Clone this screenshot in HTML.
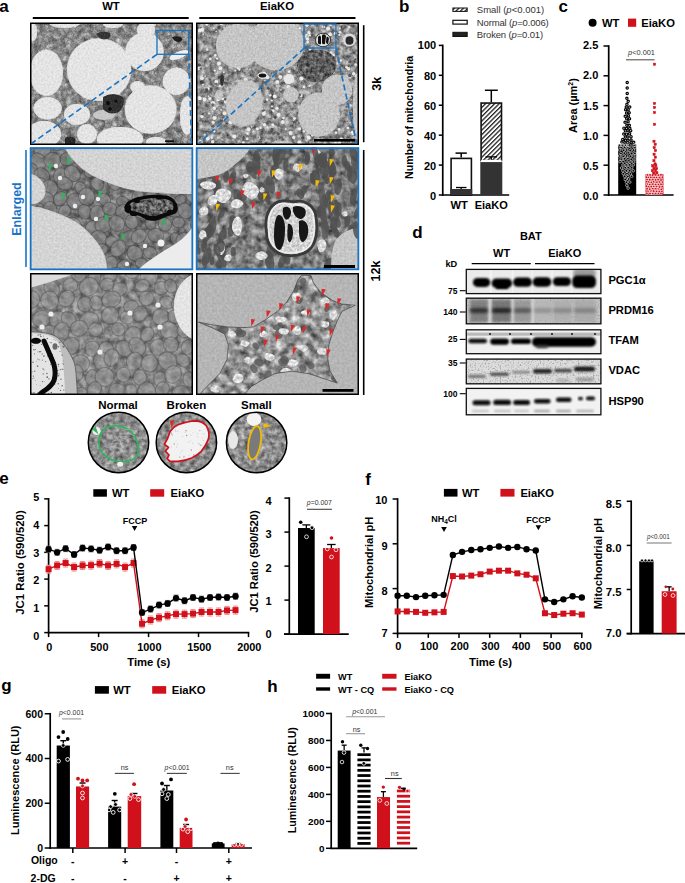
<!DOCTYPE html>
<html><head><meta charset="utf-8"><style>
html,body{margin:0;padding:0;background:#fff;}
svg{display:block;font-family:"Liberation Sans", sans-serif;}
</style></head><body>
<svg width="685" height="883" viewBox="0 0 685 883" font-family='"Liberation Sans", sans-serif'>
<text x="-0.80" y="12.00" font-size="17" font-weight="bold" text-anchor="start" fill="#000">a</text>
<text x="111.00" y="10.30" font-size="11.3" font-weight="bold" text-anchor="middle" fill="#000">WT</text>
<text x="277.00" y="10.30" font-size="11.3" font-weight="bold" text-anchor="middle" fill="#000">EiaKO</text>
<line x1="32.80" y1="17.90" x2="188.70" y2="17.90" stroke="#000" stroke-width="2"/>
<line x1="199.30" y1="17.90" x2="355.50" y2="17.90" stroke="#000" stroke-width="2"/>
<defs>
<clipPath id="c1"><rect x="30" y="23" width="162.5" height="121.5"/></clipPath>
<clipPath id="c2"><rect x="196" y="23" width="163" height="121.5"/></clipPath>
<clipPath id="c3"><rect x="30" y="147.5" width="162.5" height="122"/></clipPath>
<clipPath id="c4"><rect x="196" y="147.5" width="163" height="122"/></clipPath>
<clipPath id="c5"><rect x="30" y="273.5" width="162.5" height="121.5"/></clipPath>
<clipPath id="c6"><rect x="196" y="273.5" width="163" height="121.5"/></clipPath>
<clipPath id="k1"><circle cx="118.5" cy="442.5" r="30.2"/></clipPath>
<clipPath id="k2"><circle cx="186.4" cy="442.5" r="30.2"/></clipPath>
<clipPath id="k3"><circle cx="256.6" cy="442.5" r="30.2"/></clipPath>
<filter id="tA1" x="0" y="0" width="100%" height="100%" color-interpolation-filters="sRGB"><feTurbulence type="fractalNoise" baseFrequency="0.18" numOctaves="3" seed="3"/><feColorMatrix type="matrix" values="0.7 0 0 0 0.210  0.7 0 0 0 0.210  0.7 0 0 0 0.210  0 0 0 0 1"/><feComposite in2="SourceGraphic" operator="in"/></filter>
<filter id="tDr" x="0" y="0" width="100%" height="100%" color-interpolation-filters="sRGB"><feTurbulence type="fractalNoise" baseFrequency="0.5" numOctaves="2" seed="9"/><feColorMatrix type="matrix" values="0.16 0 0 0 0.815  0.16 0 0 0 0.815  0.16 0 0 0 0.815  0 0 0 0 1"/><feComposite in2="SourceGraphic" operator="in"/></filter>
<filter id="tDr2" x="0" y="0" width="100%" height="100%" color-interpolation-filters="sRGB"><feTurbulence type="fractalNoise" baseFrequency="0.45" numOctaves="2" seed="13"/><feColorMatrix type="matrix" values="0.2 0 0 0 0.675  0.2 0 0 0 0.675  0.2 0 0 0 0.675  0 0 0 0 1"/><feComposite in2="SourceGraphic" operator="in"/></filter>
<filter id="tDr3" x="0" y="0" width="100%" height="100%" color-interpolation-filters="sRGB"><feTurbulence type="fractalNoise" baseFrequency="0.5" numOctaves="2" seed="15"/><feColorMatrix type="matrix" values="0.18 0 0 0 0.740  0.18 0 0 0 0.740  0.18 0 0 0 0.740  0 0 0 0 1"/><feComposite in2="SourceGraphic" operator="in"/></filter>
<filter id="tA2" x="0" y="0" width="100%" height="100%" color-interpolation-filters="sRGB"><feTurbulence type="fractalNoise" baseFrequency="0.2" numOctaves="3" seed="5"/><feColorMatrix type="matrix" values="0.8 0 0 0 0.160  0.8 0 0 0 0.160  0.8 0 0 0 0.160  0 0 0 0 1"/><feComposite in2="SourceGraphic" operator="in"/></filter>
<filter id="tDk" x="0" y="0" width="100%" height="100%" color-interpolation-filters="sRGB"><feTurbulence type="fractalNoise" baseFrequency="0.3" numOctaves="2" seed="51"/><feColorMatrix type="matrix" values="0.8 0 0 0 -0.070  0.8 0 0 0 -0.070  0.8 0 0 0 -0.070  0 0 0 0 1"/><feComposite in2="SourceGraphic" operator="in"/></filter>
<filter id="tA3" x="0" y="0" width="100%" height="100%" color-interpolation-filters="sRGB"><feTurbulence type="fractalNoise" baseFrequency="0.16" numOctaves="3" seed="21"/><feColorMatrix type="matrix" values="0.6 0 0 0 0.160  0.6 0 0 0 0.160  0.6 0 0 0 0.160  0 0 0 0 1"/><feComposite in2="SourceGraphic" operator="in"/></filter>
<filter id="tA4" x="0" y="0" width="100%" height="100%" color-interpolation-filters="sRGB"><feTurbulence type="fractalNoise" baseFrequency="0.14" numOctaves="3" seed="17"/><feColorMatrix type="matrix" values="0.8 0 0 0 0.100  0.8 0 0 0 0.100  0.8 0 0 0 0.100  0 0 0 0 1"/><feComposite in2="SourceGraphic" operator="in"/></filter>
<filter id="tA5" x="0" y="0" width="100%" height="100%" color-interpolation-filters="sRGB"><feTurbulence type="fractalNoise" baseFrequency="0.15" numOctaves="3" seed="23"/><feColorMatrix type="matrix" values="0.6 0 0 0 0.220  0.6 0 0 0 0.220  0.6 0 0 0 0.220  0 0 0 0 1"/><feComposite in2="SourceGraphic" operator="in"/></filter>
<filter id="tA6" x="0" y="0" width="100%" height="100%" color-interpolation-filters="sRGB"><feTurbulence type="fractalNoise" baseFrequency="0.4" numOctaves="2" seed="29"/><feColorMatrix type="matrix" values="0.15 0 0 0 0.635  0.15 0 0 0 0.635  0.15 0 0 0 0.635  0 0 0 0 1"/><feComposite in2="SourceGraphic" operator="in"/></filter>
<filter id="tA6c" x="0" y="0" width="100%" height="100%" color-interpolation-filters="sRGB"><feTurbulence type="fractalNoise" baseFrequency="0.12" numOctaves="3" seed="31"/><feColorMatrix type="matrix" values="1.0 0 0 0 0.080  1.0 0 0 0 0.080  1.0 0 0 0 0.080  0 0 0 0 1"/><feComposite in2="SourceGraphic" operator="in"/></filter>
<filter id="tK" x="0" y="0" width="100%" height="100%" color-interpolation-filters="sRGB"><feTurbulence type="fractalNoise" baseFrequency="0.2" numOctaves="3" seed="37"/><feColorMatrix type="matrix" values="0.7 0 0 0 0.200  0.7 0 0 0 0.200  0.7 0 0 0 0.200  0 0 0 0 1"/><feComposite in2="SourceGraphic" operator="in"/></filter>
<filter id="tWp" x="0" y="0" width="100%" height="100%" color-interpolation-filters="sRGB"><feTurbulence type="fractalNoise" baseFrequency="0.35" numOctaves="2" seed="71"/><feColorMatrix type="matrix" values="0.5 0 0 0 0.610  0.5 0 0 0 0.610  0.5 0 0 0 0.610  0 0 0 0 1"/><feComposite in2="SourceGraphic" operator="in"/></filter>
<filter id="tNu" x="0" y="0" width="100%" height="100%" color-interpolation-filters="sRGB"><feTurbulence type="fractalNoise" baseFrequency="0.4" numOctaves="2" seed="73"/><feColorMatrix type="matrix" values="0.45 0 0 0 0.595  0.45 0 0 0 0.595  0.45 0 0 0 0.595  0 0 0 0 1"/><feComposite in2="SourceGraphic" operator="in"/></filter>
<filter id="tNi" x="0" y="0" width="100%" height="100%" color-interpolation-filters="sRGB"><feTurbulence type="fractalNoise" baseFrequency="0.3" numOctaves="2" seed="77"/><feColorMatrix type="matrix" values="0.9 0 0 0 -0.050  0.9 0 0 0 -0.050  0.9 0 0 0 -0.050  0 0 0 0 1"/><feComposite in2="SourceGraphic" operator="in"/></filter>
<filter id="sW" x="0" y="0" width="100%" height="100%" color-interpolation-filters="sRGB"><feTurbulence type="fractalNoise" baseFrequency="0.3" numOctaves="2" seed="41"/><feColorMatrix type="matrix" values="0 0 0 0 1  0 0 0 0 1  0 0 0 0 1  12 0 0 0 -7.9"/><feComposite in2="SourceGraphic" operator="in"/></filter>
<filter id="grain" x="0" y="0" width="100%" height="100%" color-interpolation-filters="sRGB"><feTurbulence type="fractalNoise" baseFrequency="0.7" numOctaves="2" seed="61"/><feColorMatrix type="matrix" values="1.0 0 0 0 0.000  1.0 0 0 0 0.000  1.0 0 0 0 0.000  0 0 0 0 1"/><feComposite in2="SourceGraphic" operator="in"/></filter>
<filter id="sW2" x="0" y="0" width="100%" height="100%" color-interpolation-filters="sRGB"><feTurbulence type="fractalNoise" baseFrequency="0.2" numOctaves="2" seed="43"/><feColorMatrix type="matrix" values="0 0 0 0 1  0 0 0 0 1  0 0 0 0 1  10 0 0 0 -6.5"/><feComposite in2="SourceGraphic" operator="in"/></filter>
</defs>
<g clip-path="url(#c1)">
<rect x="30.00" y="23.00" width="163.00" height="122.00" fill="#888" filter="url(#tA1)"/>
<ellipse cx="29.8" cy="23.2" rx="3.9" ry="3.4" transform="rotate(91 29.8 23.2)" fill="none" stroke="#555" stroke-width="0.8" opacity="0.35"/>
<ellipse cx="36.8" cy="22.0" rx="3.3" ry="2.7" transform="rotate(143 36.8 22.0)" fill="none" stroke="#555" stroke-width="0.8" opacity="0.35"/>
<ellipse cx="41.7" cy="22.4" rx="2.6" ry="2.1" transform="rotate(125 41.7 22.4)" fill="none" stroke="#555" stroke-width="0.8" opacity="0.35"/>
<ellipse cx="48.0" cy="24.6" rx="3.9" ry="3.3" transform="rotate(111 48.0 24.6)" fill="none" stroke="#555" stroke-width="0.8" opacity="0.35"/>
<ellipse cx="54.9" cy="21.4" rx="3.3" ry="3.2" transform="rotate(34 54.9 21.4)" fill="none" stroke="#555" stroke-width="0.8" opacity="0.35"/>
<ellipse cx="61.7" cy="21.5" rx="3.2" ry="2.8" transform="rotate(152 61.7 21.5)" fill="none" stroke="#555" stroke-width="0.8" opacity="0.35"/>
<ellipse cx="69.1" cy="23.5" rx="3.2" ry="2.7" transform="rotate(82 69.1 23.5)" fill="none" stroke="#555" stroke-width="0.8" opacity="0.35"/>
<ellipse cx="74.8" cy="24.6" rx="4.0" ry="3.2" transform="rotate(127 74.8 24.6)" fill="none" stroke="#555" stroke-width="0.8" opacity="0.35"/>
<ellipse cx="81.4" cy="22.1" rx="2.9" ry="2.9" transform="rotate(138 81.4 22.1)" fill="none" stroke="#555" stroke-width="0.8" opacity="0.35"/>
<ellipse cx="88.2" cy="24.1" rx="3.1" ry="2.4" transform="rotate(153 88.2 24.1)" fill="none" stroke="#555" stroke-width="0.8" opacity="0.35"/>
<ellipse cx="93.4" cy="22.1" rx="3.9" ry="3.4" transform="rotate(176 93.4 22.1)" fill="none" stroke="#555" stroke-width="0.8" opacity="0.35"/>
<ellipse cx="101.2" cy="21.6" rx="3.4" ry="2.8" transform="rotate(49 101.2 21.6)" fill="none" stroke="#555" stroke-width="0.8" opacity="0.35"/>
<ellipse cx="106.7" cy="22.5" rx="3.9" ry="3.2" transform="rotate(21 106.7 22.5)" fill="none" stroke="#555" stroke-width="0.8" opacity="0.35"/>
<ellipse cx="113.7" cy="21.7" rx="2.6" ry="2.1" transform="rotate(32 113.7 21.7)" fill="none" stroke="#555" stroke-width="0.8" opacity="0.35"/>
<ellipse cx="121.2" cy="22.8" rx="2.8" ry="2.3" transform="rotate(24 121.2 22.8)" fill="none" stroke="#555" stroke-width="0.8" opacity="0.35"/>
<ellipse cx="128.0" cy="21.8" rx="3.1" ry="2.9" transform="rotate(49 128.0 21.8)" fill="none" stroke="#555" stroke-width="0.8" opacity="0.35"/>
<ellipse cx="135.5" cy="24.0" rx="3.0" ry="2.3" transform="rotate(38 135.5 24.0)" fill="none" stroke="#555" stroke-width="0.8" opacity="0.35"/>
<ellipse cx="140.2" cy="24.2" rx="3.5" ry="3.4" transform="rotate(178 140.2 24.2)" fill="none" stroke="#555" stroke-width="0.8" opacity="0.35"/>
<ellipse cx="146.1" cy="22.2" rx="3.7" ry="3.3" transform="rotate(53 146.1 22.2)" fill="none" stroke="#555" stroke-width="0.8" opacity="0.35"/>
<ellipse cx="152.1" cy="21.7" rx="3.4" ry="3.1" transform="rotate(108 152.1 21.7)" fill="none" stroke="#555" stroke-width="0.8" opacity="0.35"/>
<ellipse cx="159.6" cy="22.8" rx="3.9" ry="3.4" transform="rotate(103 159.6 22.8)" fill="none" stroke="#555" stroke-width="0.8" opacity="0.35"/>
<ellipse cx="167.7" cy="22.0" rx="2.7" ry="2.1" transform="rotate(147 167.7 22.0)" fill="none" stroke="#555" stroke-width="0.8" opacity="0.35"/>
<ellipse cx="172.2" cy="22.0" rx="3.6" ry="2.8" transform="rotate(35 172.2 22.0)" fill="none" stroke="#555" stroke-width="0.8" opacity="0.35"/>
<ellipse cx="181.0" cy="24.2" rx="3.4" ry="3.0" transform="rotate(19 181.0 24.2)" fill="none" stroke="#555" stroke-width="0.8" opacity="0.35"/>
<ellipse cx="184.5" cy="24.5" rx="2.9" ry="2.4" transform="rotate(46 184.5 24.5)" fill="none" stroke="#555" stroke-width="0.8" opacity="0.35"/>
<ellipse cx="193.6" cy="23.3" rx="2.9" ry="2.8" transform="rotate(130 193.6 23.3)" fill="none" stroke="#555" stroke-width="0.8" opacity="0.35"/>
<ellipse cx="31.8" cy="27.8" rx="3.3" ry="2.7" transform="rotate(111 31.8 27.8)" fill="none" stroke="#555" stroke-width="0.8" opacity="0.35"/>
<ellipse cx="39.0" cy="30.0" rx="2.8" ry="2.8" transform="rotate(48 39.0 30.0)" fill="none" stroke="#555" stroke-width="0.8" opacity="0.35"/>
<ellipse cx="46.1" cy="27.2" rx="2.8" ry="2.5" transform="rotate(103 46.1 27.2)" fill="none" stroke="#555" stroke-width="0.8" opacity="0.35"/>
<ellipse cx="51.6" cy="28.2" rx="3.8" ry="3.0" transform="rotate(118 51.6 28.2)" fill="none" stroke="#555" stroke-width="0.8" opacity="0.35"/>
<ellipse cx="59.9" cy="28.9" rx="2.7" ry="2.7" transform="rotate(3 59.9 28.9)" fill="none" stroke="#555" stroke-width="0.8" opacity="0.35"/>
<ellipse cx="67.1" cy="29.3" rx="3.9" ry="3.9" transform="rotate(115 67.1 29.3)" fill="none" stroke="#555" stroke-width="0.8" opacity="0.35"/>
<ellipse cx="72.2" cy="29.4" rx="3.0" ry="2.3" transform="rotate(14 72.2 29.4)" fill="none" stroke="#555" stroke-width="0.8" opacity="0.35"/>
<ellipse cx="78.9" cy="29.4" rx="3.9" ry="3.2" transform="rotate(127 78.9 29.4)" fill="none" stroke="#555" stroke-width="0.8" opacity="0.35"/>
<ellipse cx="86.2" cy="30.0" rx="3.0" ry="2.5" transform="rotate(162 86.2 30.0)" fill="none" stroke="#555" stroke-width="0.8" opacity="0.35"/>
<ellipse cx="93.0" cy="28.4" rx="3.7" ry="2.9" transform="rotate(103 93.0 28.4)" fill="none" stroke="#555" stroke-width="0.8" opacity="0.35"/>
<ellipse cx="98.7" cy="28.3" rx="3.4" ry="2.9" transform="rotate(14 98.7 28.3)" fill="none" stroke="#555" stroke-width="0.8" opacity="0.35"/>
<ellipse cx="105.2" cy="30.3" rx="3.8" ry="3.1" transform="rotate(70 105.2 30.3)" fill="none" stroke="#555" stroke-width="0.8" opacity="0.35"/>
<ellipse cx="112.0" cy="28.9" rx="3.2" ry="2.5" transform="rotate(15 112.0 28.9)" fill="none" stroke="#555" stroke-width="0.8" opacity="0.35"/>
<ellipse cx="118.6" cy="27.1" rx="3.4" ry="3.0" transform="rotate(41 118.6 27.1)" fill="none" stroke="#555" stroke-width="0.8" opacity="0.35"/>
<ellipse cx="124.9" cy="28.6" rx="3.4" ry="2.7" transform="rotate(46 124.9 28.6)" fill="none" stroke="#555" stroke-width="0.8" opacity="0.35"/>
<ellipse cx="129.2" cy="28.0" rx="3.5" ry="3.3" transform="rotate(31 129.2 28.0)" fill="none" stroke="#555" stroke-width="0.8" opacity="0.35"/>
<ellipse cx="138.6" cy="29.2" rx="3.2" ry="2.5" transform="rotate(59 138.6 29.2)" fill="none" stroke="#555" stroke-width="0.8" opacity="0.35"/>
<ellipse cx="144.3" cy="27.7" rx="3.1" ry="2.5" transform="rotate(165 144.3 27.7)" fill="none" stroke="#555" stroke-width="0.8" opacity="0.35"/>
<ellipse cx="151.5" cy="28.3" rx="3.4" ry="3.1" transform="rotate(25 151.5 28.3)" fill="none" stroke="#555" stroke-width="0.8" opacity="0.35"/>
<ellipse cx="156.7" cy="29.8" rx="3.8" ry="3.1" transform="rotate(171 156.7 29.8)" fill="none" stroke="#555" stroke-width="0.8" opacity="0.35"/>
<ellipse cx="162.5" cy="27.6" rx="3.2" ry="2.9" transform="rotate(39 162.5 27.6)" fill="none" stroke="#555" stroke-width="0.8" opacity="0.35"/>
<ellipse cx="169.5" cy="29.1" rx="3.2" ry="3.0" transform="rotate(151 169.5 29.1)" fill="none" stroke="#555" stroke-width="0.8" opacity="0.35"/>
<ellipse cx="177.8" cy="28.5" rx="2.6" ry="2.6" transform="rotate(157 177.8 28.5)" fill="none" stroke="#555" stroke-width="0.8" opacity="0.35"/>
<ellipse cx="181.3" cy="29.3" rx="3.4" ry="3.1" transform="rotate(142 181.3 29.3)" fill="none" stroke="#555" stroke-width="0.8" opacity="0.35"/>
<ellipse cx="187.7" cy="27.5" rx="3.2" ry="3.2" transform="rotate(149 187.7 27.5)" fill="none" stroke="#555" stroke-width="0.8" opacity="0.35"/>
<ellipse cx="194.9" cy="27.5" rx="2.6" ry="2.2" transform="rotate(80 194.9 27.5)" fill="none" stroke="#555" stroke-width="0.8" opacity="0.35"/>
<ellipse cx="30.4" cy="34.8" rx="3.7" ry="2.9" transform="rotate(123 30.4 34.8)" fill="none" stroke="#555" stroke-width="0.8" opacity="0.35"/>
<ellipse cx="35.5" cy="34.2" rx="2.8" ry="2.8" transform="rotate(85 35.5 34.2)" fill="none" stroke="#555" stroke-width="0.8" opacity="0.35"/>
<ellipse cx="43.7" cy="33.3" rx="2.9" ry="2.6" transform="rotate(126 43.7 33.3)" fill="none" stroke="#555" stroke-width="0.8" opacity="0.35"/>
<ellipse cx="49.6" cy="34.7" rx="3.6" ry="3.3" transform="rotate(143 49.6 34.7)" fill="none" stroke="#555" stroke-width="0.8" opacity="0.35"/>
<ellipse cx="57.3" cy="33.0" rx="3.9" ry="3.2" transform="rotate(23 57.3 33.0)" fill="none" stroke="#555" stroke-width="0.8" opacity="0.35"/>
<ellipse cx="62.3" cy="34.7" rx="3.9" ry="3.5" transform="rotate(102 62.3 34.7)" fill="none" stroke="#555" stroke-width="0.8" opacity="0.35"/>
<ellipse cx="70.2" cy="35.3" rx="3.9" ry="3.4" transform="rotate(117 70.2 35.3)" fill="none" stroke="#555" stroke-width="0.8" opacity="0.35"/>
<ellipse cx="74.5" cy="35.0" rx="3.7" ry="3.1" transform="rotate(129 74.5 35.0)" fill="none" stroke="#555" stroke-width="0.8" opacity="0.35"/>
<ellipse cx="81.1" cy="35.6" rx="4.0" ry="3.1" transform="rotate(97 81.1 35.6)" fill="none" stroke="#555" stroke-width="0.8" opacity="0.35"/>
<ellipse cx="89.4" cy="33.7" rx="3.9" ry="3.1" transform="rotate(63 89.4 33.7)" fill="none" stroke="#555" stroke-width="0.8" opacity="0.35"/>
<ellipse cx="93.6" cy="34.1" rx="3.3" ry="2.7" transform="rotate(88 93.6 34.1)" fill="none" stroke="#555" stroke-width="0.8" opacity="0.35"/>
<ellipse cx="100.0" cy="35.3" rx="2.6" ry="2.1" transform="rotate(31 100.0 35.3)" fill="none" stroke="#555" stroke-width="0.8" opacity="0.35"/>
<ellipse cx="107.5" cy="35.2" rx="2.7" ry="2.6" transform="rotate(93 107.5 35.2)" fill="none" stroke="#555" stroke-width="0.8" opacity="0.35"/>
<ellipse cx="115.2" cy="35.4" rx="3.5" ry="2.8" transform="rotate(89 115.2 35.4)" fill="none" stroke="#555" stroke-width="0.8" opacity="0.35"/>
<ellipse cx="122.5" cy="33.0" rx="2.8" ry="2.4" transform="rotate(52 122.5 33.0)" fill="none" stroke="#555" stroke-width="0.8" opacity="0.35"/>
<ellipse cx="128.2" cy="34.8" rx="3.3" ry="2.6" transform="rotate(101 128.2 34.8)" fill="none" stroke="#555" stroke-width="0.8" opacity="0.35"/>
<ellipse cx="133.4" cy="33.9" rx="3.8" ry="3.0" transform="rotate(37 133.4 33.9)" fill="none" stroke="#555" stroke-width="0.8" opacity="0.35"/>
<ellipse cx="141.6" cy="35.8" rx="3.3" ry="2.8" transform="rotate(36 141.6 35.8)" fill="none" stroke="#555" stroke-width="0.8" opacity="0.35"/>
<ellipse cx="147.1" cy="34.3" rx="3.4" ry="3.4" transform="rotate(174 147.1 34.3)" fill="none" stroke="#555" stroke-width="0.8" opacity="0.35"/>
<ellipse cx="153.6" cy="34.0" rx="3.7" ry="3.2" transform="rotate(88 153.6 34.0)" fill="none" stroke="#555" stroke-width="0.8" opacity="0.35"/>
<ellipse cx="160.6" cy="32.9" rx="3.3" ry="2.9" transform="rotate(172 160.6 32.9)" fill="none" stroke="#555" stroke-width="0.8" opacity="0.35"/>
<ellipse cx="167.9" cy="33.6" rx="3.2" ry="3.1" transform="rotate(78 167.9 33.6)" fill="none" stroke="#555" stroke-width="0.8" opacity="0.35"/>
<ellipse cx="174.0" cy="35.6" rx="3.2" ry="2.9" transform="rotate(34 174.0 35.6)" fill="none" stroke="#555" stroke-width="0.8" opacity="0.35"/>
<ellipse cx="179.9" cy="35.7" rx="2.7" ry="2.2" transform="rotate(4 179.9 35.7)" fill="none" stroke="#555" stroke-width="0.8" opacity="0.35"/>
<ellipse cx="185.0" cy="33.4" rx="3.5" ry="3.2" transform="rotate(64 185.0 33.4)" fill="none" stroke="#555" stroke-width="0.8" opacity="0.35"/>
<ellipse cx="192.9" cy="33.0" rx="3.6" ry="3.5" transform="rotate(92 192.9 33.0)" fill="none" stroke="#555" stroke-width="0.8" opacity="0.35"/>
<ellipse cx="32.4" cy="39.0" rx="3.3" ry="2.9" transform="rotate(68 32.4 39.0)" fill="none" stroke="#555" stroke-width="0.8" opacity="0.35"/>
<ellipse cx="39.5" cy="40.1" rx="2.7" ry="2.6" transform="rotate(114 39.5 40.1)" fill="none" stroke="#555" stroke-width="0.8" opacity="0.35"/>
<ellipse cx="46.7" cy="40.1" rx="3.8" ry="3.2" transform="rotate(154 46.7 40.1)" fill="none" stroke="#555" stroke-width="0.8" opacity="0.35"/>
<ellipse cx="51.9" cy="40.7" rx="3.7" ry="2.9" transform="rotate(57 51.9 40.7)" fill="none" stroke="#555" stroke-width="0.8" opacity="0.35"/>
<ellipse cx="58.6" cy="41.3" rx="2.8" ry="2.2" transform="rotate(160 58.6 41.3)" fill="none" stroke="#555" stroke-width="0.8" opacity="0.35"/>
<ellipse cx="64.6" cy="39.1" rx="3.6" ry="3.3" transform="rotate(17 64.6 39.1)" fill="none" stroke="#555" stroke-width="0.8" opacity="0.35"/>
<ellipse cx="73.3" cy="39.7" rx="3.7" ry="3.6" transform="rotate(73 73.3 39.7)" fill="none" stroke="#555" stroke-width="0.8" opacity="0.35"/>
<ellipse cx="79.4" cy="38.4" rx="2.8" ry="2.3" transform="rotate(164 79.4 38.4)" fill="none" stroke="#555" stroke-width="0.8" opacity="0.35"/>
<ellipse cx="86.8" cy="38.7" rx="3.3" ry="2.7" transform="rotate(91 86.8 38.7)" fill="none" stroke="#555" stroke-width="0.8" opacity="0.35"/>
<ellipse cx="92.4" cy="39.0" rx="2.6" ry="2.5" transform="rotate(7 92.4 39.0)" fill="none" stroke="#555" stroke-width="0.8" opacity="0.35"/>
<ellipse cx="98.4" cy="40.0" rx="3.4" ry="3.2" transform="rotate(33 98.4 40.0)" fill="none" stroke="#555" stroke-width="0.8" opacity="0.35"/>
<ellipse cx="103.8" cy="41.1" rx="4.0" ry="3.1" transform="rotate(17 103.8 41.1)" fill="none" stroke="#555" stroke-width="0.8" opacity="0.35"/>
<ellipse cx="109.8" cy="41.4" rx="3.2" ry="2.6" transform="rotate(59 109.8 41.4)" fill="none" stroke="#555" stroke-width="0.8" opacity="0.35"/>
<ellipse cx="117.6" cy="40.0" rx="3.1" ry="2.7" transform="rotate(2 117.6 40.0)" fill="none" stroke="#555" stroke-width="0.8" opacity="0.35"/>
<ellipse cx="124.9" cy="41.1" rx="2.8" ry="2.4" transform="rotate(133 124.9 41.1)" fill="none" stroke="#555" stroke-width="0.8" opacity="0.35"/>
<ellipse cx="130.4" cy="39.0" rx="2.7" ry="2.4" transform="rotate(3 130.4 39.0)" fill="none" stroke="#555" stroke-width="0.8" opacity="0.35"/>
<ellipse cx="138.5" cy="40.9" rx="3.6" ry="2.8" transform="rotate(113 138.5 40.9)" fill="none" stroke="#555" stroke-width="0.8" opacity="0.35"/>
<ellipse cx="143.4" cy="40.3" rx="3.3" ry="2.5" transform="rotate(145 143.4 40.3)" fill="none" stroke="#555" stroke-width="0.8" opacity="0.35"/>
<ellipse cx="149.5" cy="41.3" rx="3.6" ry="2.9" transform="rotate(147 149.5 41.3)" fill="none" stroke="#555" stroke-width="0.8" opacity="0.35"/>
<ellipse cx="156.4" cy="41.3" rx="3.8" ry="3.2" transform="rotate(138 156.4 41.3)" fill="none" stroke="#555" stroke-width="0.8" opacity="0.35"/>
<ellipse cx="164.1" cy="39.7" rx="3.6" ry="3.5" transform="rotate(62 164.1 39.7)" fill="none" stroke="#555" stroke-width="0.8" opacity="0.35"/>
<ellipse cx="169.6" cy="38.4" rx="3.0" ry="2.5" transform="rotate(112 169.6 38.4)" fill="none" stroke="#555" stroke-width="0.8" opacity="0.35"/>
<ellipse cx="175.4" cy="41.4" rx="3.5" ry="3.2" transform="rotate(119 175.4 41.4)" fill="none" stroke="#555" stroke-width="0.8" opacity="0.35"/>
<ellipse cx="183.0" cy="40.1" rx="3.1" ry="2.4" transform="rotate(116 183.0 40.1)" fill="none" stroke="#555" stroke-width="0.8" opacity="0.35"/>
<ellipse cx="189.9" cy="40.8" rx="4.0" ry="3.9" transform="rotate(111 189.9 40.8)" fill="none" stroke="#555" stroke-width="0.8" opacity="0.35"/>
<ellipse cx="196.5" cy="39.2" rx="3.1" ry="3.1" transform="rotate(35 196.5 39.2)" fill="none" stroke="#555" stroke-width="0.8" opacity="0.35"/>
<ellipse cx="29.6" cy="44.3" rx="2.9" ry="2.3" transform="rotate(99 29.6 44.3)" fill="none" stroke="#555" stroke-width="0.8" opacity="0.35"/>
<ellipse cx="36.5" cy="47.1" rx="3.4" ry="2.6" transform="rotate(115 36.5 47.1)" fill="none" stroke="#555" stroke-width="0.8" opacity="0.35"/>
<ellipse cx="44.0" cy="44.2" rx="3.4" ry="2.8" transform="rotate(8 44.0 44.2)" fill="none" stroke="#555" stroke-width="0.8" opacity="0.35"/>
<ellipse cx="50.9" cy="44.5" rx="3.2" ry="3.1" transform="rotate(89 50.9 44.5)" fill="none" stroke="#555" stroke-width="0.8" opacity="0.35"/>
<ellipse cx="56.4" cy="44.2" rx="3.9" ry="3.5" transform="rotate(95 56.4 44.2)" fill="none" stroke="#555" stroke-width="0.8" opacity="0.35"/>
<ellipse cx="62.8" cy="45.2" rx="2.9" ry="2.4" transform="rotate(101 62.8 45.2)" fill="none" stroke="#555" stroke-width="0.8" opacity="0.35"/>
<ellipse cx="68.3" cy="46.3" rx="2.9" ry="2.9" transform="rotate(44 68.3 46.3)" fill="none" stroke="#555" stroke-width="0.8" opacity="0.35"/>
<ellipse cx="74.0" cy="44.5" rx="3.6" ry="3.3" transform="rotate(162 74.0 44.5)" fill="none" stroke="#555" stroke-width="0.8" opacity="0.35"/>
<ellipse cx="82.8" cy="44.2" rx="4.0" ry="3.1" transform="rotate(13 82.8 44.2)" fill="none" stroke="#555" stroke-width="0.8" opacity="0.35"/>
<ellipse cx="89.8" cy="45.4" rx="3.2" ry="2.5" transform="rotate(44 89.8 45.4)" fill="none" stroke="#555" stroke-width="0.8" opacity="0.35"/>
<ellipse cx="95.1" cy="47.0" rx="3.6" ry="3.1" transform="rotate(176 95.1 47.0)" fill="none" stroke="#555" stroke-width="0.8" opacity="0.35"/>
<ellipse cx="102.5" cy="46.0" rx="2.7" ry="2.3" transform="rotate(82 102.5 46.0)" fill="none" stroke="#555" stroke-width="0.8" opacity="0.35"/>
<ellipse cx="107.0" cy="44.2" rx="3.3" ry="3.2" transform="rotate(80 107.0 44.2)" fill="none" stroke="#555" stroke-width="0.8" opacity="0.35"/>
<ellipse cx="115.0" cy="45.5" rx="2.9" ry="2.5" transform="rotate(76 115.0 45.5)" fill="none" stroke="#555" stroke-width="0.8" opacity="0.35"/>
<ellipse cx="121.9" cy="45.7" rx="4.0" ry="3.1" transform="rotate(132 121.9 45.7)" fill="none" stroke="#555" stroke-width="0.8" opacity="0.35"/>
<ellipse cx="126.6" cy="44.4" rx="3.8" ry="3.1" transform="rotate(112 126.6 44.4)" fill="none" stroke="#555" stroke-width="0.8" opacity="0.35"/>
<ellipse cx="133.5" cy="44.9" rx="3.5" ry="3.0" transform="rotate(107 133.5 44.9)" fill="none" stroke="#555" stroke-width="0.8" opacity="0.35"/>
<ellipse cx="140.9" cy="46.4" rx="2.8" ry="2.6" transform="rotate(176 140.9 46.4)" fill="none" stroke="#555" stroke-width="0.8" opacity="0.35"/>
<ellipse cx="148.4" cy="46.9" rx="2.6" ry="2.5" transform="rotate(49 148.4 46.9)" fill="none" stroke="#555" stroke-width="0.8" opacity="0.35"/>
<ellipse cx="153.3" cy="46.0" rx="2.7" ry="2.3" transform="rotate(13 153.3 46.0)" fill="none" stroke="#555" stroke-width="0.8" opacity="0.35"/>
<ellipse cx="158.7" cy="46.2" rx="3.3" ry="2.8" transform="rotate(67 158.7 46.2)" fill="none" stroke="#555" stroke-width="0.8" opacity="0.35"/>
<ellipse cx="166.4" cy="44.7" rx="3.0" ry="2.5" transform="rotate(151 166.4 44.7)" fill="none" stroke="#555" stroke-width="0.8" opacity="0.35"/>
<ellipse cx="171.6" cy="44.4" rx="3.7" ry="3.1" transform="rotate(138 171.6 44.4)" fill="none" stroke="#555" stroke-width="0.8" opacity="0.35"/>
<ellipse cx="178.6" cy="45.4" rx="2.9" ry="2.3" transform="rotate(66 178.6 45.4)" fill="none" stroke="#555" stroke-width="0.8" opacity="0.35"/>
<ellipse cx="186.5" cy="47.2" rx="3.0" ry="2.6" transform="rotate(134 186.5 47.2)" fill="none" stroke="#555" stroke-width="0.8" opacity="0.35"/>
<ellipse cx="193.9" cy="45.4" rx="3.1" ry="3.0" transform="rotate(158 193.9 45.4)" fill="none" stroke="#555" stroke-width="0.8" opacity="0.35"/>
<ellipse cx="31.9" cy="49.9" rx="3.3" ry="2.9" transform="rotate(123 31.9 49.9)" fill="none" stroke="#555" stroke-width="0.8" opacity="0.35"/>
<ellipse cx="39.1" cy="52.2" rx="2.6" ry="2.5" transform="rotate(119 39.1 52.2)" fill="none" stroke="#555" stroke-width="0.8" opacity="0.35"/>
<ellipse cx="44.9" cy="50.6" rx="3.6" ry="3.0" transform="rotate(51 44.9 50.6)" fill="none" stroke="#555" stroke-width="0.8" opacity="0.35"/>
<ellipse cx="51.6" cy="50.8" rx="3.6" ry="3.2" transform="rotate(21 51.6 50.8)" fill="none" stroke="#555" stroke-width="0.8" opacity="0.35"/>
<ellipse cx="59.9" cy="51.5" rx="3.9" ry="3.0" transform="rotate(164 59.9 51.5)" fill="none" stroke="#555" stroke-width="0.8" opacity="0.35"/>
<ellipse cx="65.5" cy="52.3" rx="3.0" ry="2.7" transform="rotate(72 65.5 52.3)" fill="none" stroke="#555" stroke-width="0.8" opacity="0.35"/>
<ellipse cx="73.7" cy="52.6" rx="2.9" ry="2.6" transform="rotate(66 73.7 52.6)" fill="none" stroke="#555" stroke-width="0.8" opacity="0.35"/>
<ellipse cx="78.3" cy="50.9" rx="3.1" ry="2.9" transform="rotate(101 78.3 50.9)" fill="none" stroke="#555" stroke-width="0.8" opacity="0.35"/>
<ellipse cx="86.2" cy="51.4" rx="3.8" ry="3.2" transform="rotate(32 86.2 51.4)" fill="none" stroke="#555" stroke-width="0.8" opacity="0.35"/>
<ellipse cx="92.6" cy="52.5" rx="2.9" ry="2.9" transform="rotate(93 92.6 52.5)" fill="none" stroke="#555" stroke-width="0.8" opacity="0.35"/>
<ellipse cx="98.4" cy="51.5" rx="3.9" ry="3.3" transform="rotate(145 98.4 51.5)" fill="none" stroke="#555" stroke-width="0.8" opacity="0.35"/>
<ellipse cx="103.3" cy="51.4" rx="3.7" ry="3.6" transform="rotate(15 103.3 51.4)" fill="none" stroke="#555" stroke-width="0.8" opacity="0.35"/>
<ellipse cx="112.0" cy="52.6" rx="2.6" ry="2.2" transform="rotate(26 112.0 52.6)" fill="none" stroke="#555" stroke-width="0.8" opacity="0.35"/>
<ellipse cx="118.5" cy="51.8" rx="2.9" ry="2.7" transform="rotate(138 118.5 51.8)" fill="none" stroke="#555" stroke-width="0.8" opacity="0.35"/>
<ellipse cx="124.3" cy="52.1" rx="3.1" ry="2.8" transform="rotate(174 124.3 52.1)" fill="none" stroke="#555" stroke-width="0.8" opacity="0.35"/>
<ellipse cx="131.3" cy="51.3" rx="3.3" ry="2.7" transform="rotate(127 131.3 51.3)" fill="none" stroke="#555" stroke-width="0.8" opacity="0.35"/>
<ellipse cx="138.6" cy="51.0" rx="3.7" ry="3.1" transform="rotate(154 138.6 51.0)" fill="none" stroke="#555" stroke-width="0.8" opacity="0.35"/>
<ellipse cx="144.7" cy="52.4" rx="3.8" ry="3.0" transform="rotate(115 144.7 52.4)" fill="none" stroke="#555" stroke-width="0.8" opacity="0.35"/>
<ellipse cx="150.3" cy="52.0" rx="3.7" ry="3.3" transform="rotate(76 150.3 52.0)" fill="none" stroke="#555" stroke-width="0.8" opacity="0.35"/>
<ellipse cx="155.6" cy="52.1" rx="4.0" ry="3.6" transform="rotate(30 155.6 52.1)" fill="none" stroke="#555" stroke-width="0.8" opacity="0.35"/>
<ellipse cx="162.3" cy="51.0" rx="2.9" ry="2.3" transform="rotate(11 162.3 51.0)" fill="none" stroke="#555" stroke-width="0.8" opacity="0.35"/>
<ellipse cx="169.1" cy="50.0" rx="3.5" ry="2.8" transform="rotate(32 169.1 50.0)" fill="none" stroke="#555" stroke-width="0.8" opacity="0.35"/>
<ellipse cx="174.8" cy="51.1" rx="3.4" ry="2.7" transform="rotate(7 174.8 51.1)" fill="none" stroke="#555" stroke-width="0.8" opacity="0.35"/>
<ellipse cx="181.5" cy="50.2" rx="2.8" ry="2.6" transform="rotate(129 181.5 50.2)" fill="none" stroke="#555" stroke-width="0.8" opacity="0.35"/>
<ellipse cx="189.6" cy="50.4" rx="2.8" ry="2.6" transform="rotate(31 189.6 50.4)" fill="none" stroke="#555" stroke-width="0.8" opacity="0.35"/>
<ellipse cx="196.6" cy="50.7" rx="3.3" ry="2.7" transform="rotate(86 196.6 50.7)" fill="none" stroke="#555" stroke-width="0.8" opacity="0.35"/>
<ellipse cx="29.2" cy="58.2" rx="3.9" ry="3.5" transform="rotate(99 29.2 58.2)" fill="none" stroke="#555" stroke-width="0.8" opacity="0.35"/>
<ellipse cx="38.0" cy="56.9" rx="2.8" ry="2.8" transform="rotate(171 38.0 56.9)" fill="none" stroke="#555" stroke-width="0.8" opacity="0.35"/>
<ellipse cx="44.0" cy="56.6" rx="3.3" ry="2.9" transform="rotate(49 44.0 56.6)" fill="none" stroke="#555" stroke-width="0.8" opacity="0.35"/>
<ellipse cx="51.1" cy="57.4" rx="2.9" ry="2.8" transform="rotate(85 51.1 57.4)" fill="none" stroke="#555" stroke-width="0.8" opacity="0.35"/>
<ellipse cx="55.6" cy="57.9" rx="3.6" ry="3.0" transform="rotate(28 55.6 57.9)" fill="none" stroke="#555" stroke-width="0.8" opacity="0.35"/>
<ellipse cx="61.4" cy="56.4" rx="2.9" ry="2.3" transform="rotate(93 61.4 56.4)" fill="none" stroke="#555" stroke-width="0.8" opacity="0.35"/>
<ellipse cx="69.4" cy="58.5" rx="2.9" ry="2.5" transform="rotate(27 69.4 58.5)" fill="none" stroke="#555" stroke-width="0.8" opacity="0.35"/>
<ellipse cx="76.4" cy="55.3" rx="3.7" ry="3.0" transform="rotate(148 76.4 55.3)" fill="none" stroke="#555" stroke-width="0.8" opacity="0.35"/>
<ellipse cx="80.6" cy="56.2" rx="3.6" ry="3.5" transform="rotate(86 80.6 56.2)" fill="none" stroke="#555" stroke-width="0.8" opacity="0.35"/>
<ellipse cx="88.4" cy="58.4" rx="3.4" ry="2.7" transform="rotate(55 88.4 58.4)" fill="none" stroke="#555" stroke-width="0.8" opacity="0.35"/>
<ellipse cx="95.9" cy="56.7" rx="3.9" ry="3.8" transform="rotate(149 95.9 56.7)" fill="none" stroke="#555" stroke-width="0.8" opacity="0.35"/>
<ellipse cx="100.6" cy="57.1" rx="3.3" ry="3.1" transform="rotate(150 100.6 57.1)" fill="none" stroke="#555" stroke-width="0.8" opacity="0.35"/>
<ellipse cx="107.4" cy="56.3" rx="2.6" ry="2.4" transform="rotate(84 107.4 56.3)" fill="none" stroke="#555" stroke-width="0.8" opacity="0.35"/>
<ellipse cx="115.2" cy="56.5" rx="3.5" ry="3.4" transform="rotate(71 115.2 56.5)" fill="none" stroke="#555" stroke-width="0.8" opacity="0.35"/>
<ellipse cx="120.9" cy="58.4" rx="3.7" ry="3.1" transform="rotate(2 120.9 58.4)" fill="none" stroke="#555" stroke-width="0.8" opacity="0.35"/>
<ellipse cx="127.1" cy="57.6" rx="2.9" ry="2.4" transform="rotate(82 127.1 57.6)" fill="none" stroke="#555" stroke-width="0.8" opacity="0.35"/>
<ellipse cx="132.4" cy="58.5" rx="3.7" ry="3.5" transform="rotate(111 132.4 58.5)" fill="none" stroke="#555" stroke-width="0.8" opacity="0.35"/>
<ellipse cx="139.8" cy="56.5" rx="3.3" ry="3.0" transform="rotate(61 139.8 56.5)" fill="none" stroke="#555" stroke-width="0.8" opacity="0.35"/>
<ellipse cx="146.6" cy="57.5" rx="2.9" ry="2.7" transform="rotate(132 146.6 57.5)" fill="none" stroke="#555" stroke-width="0.8" opacity="0.35"/>
<ellipse cx="152.9" cy="58.4" rx="3.3" ry="2.7" transform="rotate(60 152.9 58.4)" fill="none" stroke="#555" stroke-width="0.8" opacity="0.35"/>
<ellipse cx="161.1" cy="55.6" rx="2.7" ry="2.6" transform="rotate(122 161.1 55.6)" fill="none" stroke="#555" stroke-width="0.8" opacity="0.35"/>
<ellipse cx="167.2" cy="55.9" rx="3.1" ry="2.5" transform="rotate(107 167.2 55.9)" fill="none" stroke="#555" stroke-width="0.8" opacity="0.35"/>
<ellipse cx="171.7" cy="56.0" rx="2.7" ry="2.6" transform="rotate(73 171.7 56.0)" fill="none" stroke="#555" stroke-width="0.8" opacity="0.35"/>
<ellipse cx="178.1" cy="58.3" rx="3.1" ry="2.7" transform="rotate(117 178.1 58.3)" fill="none" stroke="#555" stroke-width="0.8" opacity="0.35"/>
<ellipse cx="186.9" cy="58.0" rx="3.1" ry="2.8" transform="rotate(74 186.9 58.0)" fill="none" stroke="#555" stroke-width="0.8" opacity="0.35"/>
<ellipse cx="190.9" cy="56.6" rx="3.5" ry="2.7" transform="rotate(142 190.9 56.6)" fill="none" stroke="#555" stroke-width="0.8" opacity="0.35"/>
<ellipse cx="33.8" cy="62.9" rx="2.5" ry="2.3" transform="rotate(62 33.8 62.9)" fill="none" stroke="#555" stroke-width="0.8" opacity="0.35"/>
<ellipse cx="40.2" cy="61.3" rx="3.1" ry="2.7" transform="rotate(142 40.2 61.3)" fill="none" stroke="#555" stroke-width="0.8" opacity="0.35"/>
<ellipse cx="47.3" cy="62.9" rx="2.7" ry="2.2" transform="rotate(163 47.3 62.9)" fill="none" stroke="#555" stroke-width="0.8" opacity="0.35"/>
<ellipse cx="52.9" cy="62.1" rx="3.3" ry="3.1" transform="rotate(128 52.9 62.1)" fill="none" stroke="#555" stroke-width="0.8" opacity="0.35"/>
<ellipse cx="60.8" cy="62.6" rx="3.6" ry="2.9" transform="rotate(35 60.8 62.6)" fill="none" stroke="#555" stroke-width="0.8" opacity="0.35"/>
<ellipse cx="67.2" cy="63.0" rx="2.8" ry="2.7" transform="rotate(44 67.2 63.0)" fill="none" stroke="#555" stroke-width="0.8" opacity="0.35"/>
<ellipse cx="72.5" cy="63.2" rx="3.0" ry="2.3" transform="rotate(65 72.5 63.2)" fill="none" stroke="#555" stroke-width="0.8" opacity="0.35"/>
<ellipse cx="78.6" cy="61.4" rx="4.0" ry="3.8" transform="rotate(163 78.6 61.4)" fill="none" stroke="#555" stroke-width="0.8" opacity="0.35"/>
<ellipse cx="85.4" cy="62.8" rx="3.3" ry="3.1" transform="rotate(164 85.4 62.8)" fill="none" stroke="#555" stroke-width="0.8" opacity="0.35"/>
<ellipse cx="93.3" cy="63.6" rx="3.4" ry="3.3" transform="rotate(148 93.3 63.6)" fill="none" stroke="#555" stroke-width="0.8" opacity="0.35"/>
<ellipse cx="97.6" cy="63.9" rx="2.9" ry="2.4" transform="rotate(150 97.6 63.9)" fill="none" stroke="#555" stroke-width="0.8" opacity="0.35"/>
<ellipse cx="103.7" cy="62.7" rx="2.6" ry="2.6" transform="rotate(32 103.7 62.7)" fill="none" stroke="#555" stroke-width="0.8" opacity="0.35"/>
<ellipse cx="112.8" cy="64.0" rx="3.5" ry="3.2" transform="rotate(121 112.8 64.0)" fill="none" stroke="#555" stroke-width="0.8" opacity="0.35"/>
<ellipse cx="118.5" cy="62.2" rx="3.4" ry="2.7" transform="rotate(3 118.5 62.2)" fill="none" stroke="#555" stroke-width="0.8" opacity="0.35"/>
<ellipse cx="123.3" cy="62.5" rx="2.7" ry="2.4" transform="rotate(103 123.3 62.5)" fill="none" stroke="#555" stroke-width="0.8" opacity="0.35"/>
<ellipse cx="129.7" cy="62.6" rx="2.9" ry="2.5" transform="rotate(60 129.7 62.6)" fill="none" stroke="#555" stroke-width="0.8" opacity="0.35"/>
<ellipse cx="137.7" cy="61.1" rx="3.5" ry="3.4" transform="rotate(173 137.7 61.1)" fill="none" stroke="#555" stroke-width="0.8" opacity="0.35"/>
<ellipse cx="144.1" cy="62.5" rx="3.1" ry="2.6" transform="rotate(124 144.1 62.5)" fill="none" stroke="#555" stroke-width="0.8" opacity="0.35"/>
<ellipse cx="151.1" cy="63.4" rx="3.2" ry="2.5" transform="rotate(151 151.1 63.4)" fill="none" stroke="#555" stroke-width="0.8" opacity="0.35"/>
<ellipse cx="157.9" cy="62.3" rx="3.2" ry="2.7" transform="rotate(163 157.9 62.3)" fill="none" stroke="#555" stroke-width="0.8" opacity="0.35"/>
<ellipse cx="163.3" cy="62.7" rx="3.1" ry="2.5" transform="rotate(58 163.3 62.7)" fill="none" stroke="#555" stroke-width="0.8" opacity="0.35"/>
<ellipse cx="168.3" cy="63.3" rx="3.9" ry="3.2" transform="rotate(108 168.3 63.3)" fill="none" stroke="#555" stroke-width="0.8" opacity="0.35"/>
<ellipse cx="177.1" cy="62.0" rx="3.4" ry="3.3" transform="rotate(22 177.1 62.0)" fill="none" stroke="#555" stroke-width="0.8" opacity="0.35"/>
<ellipse cx="182.6" cy="62.6" rx="3.1" ry="3.0" transform="rotate(125 182.6 62.6)" fill="none" stroke="#555" stroke-width="0.8" opacity="0.35"/>
<ellipse cx="189.3" cy="61.7" rx="3.0" ry="2.6" transform="rotate(42 189.3 61.7)" fill="none" stroke="#555" stroke-width="0.8" opacity="0.35"/>
<ellipse cx="194.3" cy="63.9" rx="3.9" ry="3.3" transform="rotate(156 194.3 63.9)" fill="none" stroke="#555" stroke-width="0.8" opacity="0.35"/>
<ellipse cx="29.7" cy="69.2" rx="2.8" ry="2.3" transform="rotate(102 29.7 69.2)" fill="none" stroke="#555" stroke-width="0.8" opacity="0.35"/>
<ellipse cx="37.8" cy="66.9" rx="3.7" ry="3.6" transform="rotate(97 37.8 66.9)" fill="none" stroke="#555" stroke-width="0.8" opacity="0.35"/>
<ellipse cx="44.5" cy="66.6" rx="2.9" ry="2.6" transform="rotate(58 44.5 66.6)" fill="none" stroke="#555" stroke-width="0.8" opacity="0.35"/>
<ellipse cx="48.1" cy="69.5" rx="3.7" ry="3.3" transform="rotate(64 48.1 69.5)" fill="none" stroke="#555" stroke-width="0.8" opacity="0.35"/>
<ellipse cx="56.3" cy="66.8" rx="2.5" ry="2.0" transform="rotate(55 56.3 66.8)" fill="none" stroke="#555" stroke-width="0.8" opacity="0.35"/>
<ellipse cx="62.5" cy="69.7" rx="4.0" ry="3.5" transform="rotate(37 62.5 69.7)" fill="none" stroke="#555" stroke-width="0.8" opacity="0.35"/>
<ellipse cx="68.3" cy="69.6" rx="3.8" ry="3.6" transform="rotate(151 68.3 69.6)" fill="none" stroke="#555" stroke-width="0.8" opacity="0.35"/>
<ellipse cx="75.0" cy="68.2" rx="2.8" ry="2.2" transform="rotate(179 75.0 68.2)" fill="none" stroke="#555" stroke-width="0.8" opacity="0.35"/>
<ellipse cx="81.0" cy="68.7" rx="2.8" ry="2.2" transform="rotate(9 81.0 68.7)" fill="none" stroke="#555" stroke-width="0.8" opacity="0.35"/>
<ellipse cx="87.2" cy="69.0" rx="3.0" ry="2.3" transform="rotate(157 87.2 69.0)" fill="none" stroke="#555" stroke-width="0.8" opacity="0.35"/>
<ellipse cx="95.7" cy="67.1" rx="3.5" ry="2.8" transform="rotate(80 95.7 67.1)" fill="none" stroke="#555" stroke-width="0.8" opacity="0.35"/>
<ellipse cx="100.1" cy="67.3" rx="3.0" ry="2.4" transform="rotate(35 100.1 67.3)" fill="none" stroke="#555" stroke-width="0.8" opacity="0.35"/>
<ellipse cx="107.0" cy="67.4" rx="3.5" ry="2.8" transform="rotate(67 107.0 67.4)" fill="none" stroke="#555" stroke-width="0.8" opacity="0.35"/>
<ellipse cx="115.0" cy="69.5" rx="3.4" ry="3.2" transform="rotate(54 115.0 69.5)" fill="none" stroke="#555" stroke-width="0.8" opacity="0.35"/>
<ellipse cx="122.4" cy="68.8" rx="2.9" ry="2.4" transform="rotate(16 122.4 68.8)" fill="none" stroke="#555" stroke-width="0.8" opacity="0.35"/>
<ellipse cx="129.1" cy="68.0" rx="3.3" ry="2.8" transform="rotate(8 129.1 68.0)" fill="none" stroke="#555" stroke-width="0.8" opacity="0.35"/>
<ellipse cx="134.3" cy="67.5" rx="2.9" ry="2.3" transform="rotate(16 134.3 67.5)" fill="none" stroke="#555" stroke-width="0.8" opacity="0.35"/>
<ellipse cx="139.8" cy="69.1" rx="2.9" ry="2.6" transform="rotate(99 139.8 69.1)" fill="none" stroke="#555" stroke-width="0.8" opacity="0.35"/>
<ellipse cx="146.0" cy="69.5" rx="4.0" ry="3.9" transform="rotate(83 146.0 69.5)" fill="none" stroke="#555" stroke-width="0.8" opacity="0.35"/>
<ellipse cx="154.3" cy="67.9" rx="3.9" ry="3.4" transform="rotate(32 154.3 67.9)" fill="none" stroke="#555" stroke-width="0.8" opacity="0.35"/>
<ellipse cx="160.2" cy="68.7" rx="3.0" ry="2.5" transform="rotate(141 160.2 68.7)" fill="none" stroke="#555" stroke-width="0.8" opacity="0.35"/>
<ellipse cx="166.6" cy="68.3" rx="3.8" ry="3.1" transform="rotate(94 166.6 68.3)" fill="none" stroke="#555" stroke-width="0.8" opacity="0.35"/>
<ellipse cx="174.5" cy="67.2" rx="3.7" ry="3.5" transform="rotate(109 174.5 67.2)" fill="none" stroke="#555" stroke-width="0.8" opacity="0.35"/>
<ellipse cx="178.6" cy="68.0" rx="3.7" ry="3.0" transform="rotate(142 178.6 68.0)" fill="none" stroke="#555" stroke-width="0.8" opacity="0.35"/>
<ellipse cx="185.1" cy="68.2" rx="2.8" ry="2.4" transform="rotate(90 185.1 68.2)" fill="none" stroke="#555" stroke-width="0.8" opacity="0.35"/>
<ellipse cx="191.0" cy="68.6" rx="3.6" ry="3.0" transform="rotate(157 191.0 68.6)" fill="none" stroke="#555" stroke-width="0.8" opacity="0.35"/>
<ellipse cx="32.2" cy="72.8" rx="2.5" ry="2.2" transform="rotate(78 32.2 72.8)" fill="none" stroke="#555" stroke-width="0.8" opacity="0.35"/>
<ellipse cx="39.6" cy="73.1" rx="3.7" ry="3.6" transform="rotate(163 39.6 73.1)" fill="none" stroke="#555" stroke-width="0.8" opacity="0.35"/>
<ellipse cx="46.5" cy="74.0" rx="3.7" ry="3.4" transform="rotate(26 46.5 74.0)" fill="none" stroke="#555" stroke-width="0.8" opacity="0.35"/>
<ellipse cx="52.1" cy="72.4" rx="3.0" ry="2.5" transform="rotate(95 52.1 72.4)" fill="none" stroke="#555" stroke-width="0.8" opacity="0.35"/>
<ellipse cx="58.5" cy="74.2" rx="2.6" ry="2.1" transform="rotate(31 58.5 74.2)" fill="none" stroke="#555" stroke-width="0.8" opacity="0.35"/>
<ellipse cx="65.0" cy="72.8" rx="3.5" ry="2.8" transform="rotate(142 65.0 72.8)" fill="none" stroke="#555" stroke-width="0.8" opacity="0.35"/>
<ellipse cx="70.8" cy="73.6" rx="3.0" ry="2.9" transform="rotate(175 70.8 73.6)" fill="none" stroke="#555" stroke-width="0.8" opacity="0.35"/>
<ellipse cx="77.3" cy="73.9" rx="3.6" ry="2.8" transform="rotate(26 77.3 73.9)" fill="none" stroke="#555" stroke-width="0.8" opacity="0.35"/>
<ellipse cx="85.1" cy="74.7" rx="2.6" ry="2.4" transform="rotate(160 85.1 74.7)" fill="none" stroke="#555" stroke-width="0.8" opacity="0.35"/>
<ellipse cx="90.6" cy="73.5" rx="2.9" ry="2.6" transform="rotate(14 90.6 73.5)" fill="none" stroke="#555" stroke-width="0.8" opacity="0.35"/>
<ellipse cx="96.7" cy="75.5" rx="3.6" ry="3.0" transform="rotate(41 96.7 75.5)" fill="none" stroke="#555" stroke-width="0.8" opacity="0.35"/>
<ellipse cx="103.9" cy="74.1" rx="2.9" ry="2.5" transform="rotate(168 103.9 74.1)" fill="none" stroke="#555" stroke-width="0.8" opacity="0.35"/>
<ellipse cx="110.8" cy="73.4" rx="4.0" ry="3.4" transform="rotate(7 110.8 73.4)" fill="none" stroke="#555" stroke-width="0.8" opacity="0.35"/>
<ellipse cx="117.4" cy="74.4" rx="2.6" ry="2.3" transform="rotate(125 117.4 74.4)" fill="none" stroke="#555" stroke-width="0.8" opacity="0.35"/>
<ellipse cx="125.4" cy="74.2" rx="3.8" ry="3.4" transform="rotate(71 125.4 74.2)" fill="none" stroke="#555" stroke-width="0.8" opacity="0.35"/>
<ellipse cx="131.9" cy="73.5" rx="3.7" ry="3.4" transform="rotate(63 131.9 73.5)" fill="none" stroke="#555" stroke-width="0.8" opacity="0.35"/>
<ellipse cx="136.2" cy="74.1" rx="2.7" ry="2.6" transform="rotate(39 136.2 74.1)" fill="none" stroke="#555" stroke-width="0.8" opacity="0.35"/>
<ellipse cx="143.6" cy="73.3" rx="3.2" ry="2.4" transform="rotate(122 143.6 73.3)" fill="none" stroke="#555" stroke-width="0.8" opacity="0.35"/>
<ellipse cx="151.4" cy="72.9" rx="3.1" ry="3.0" transform="rotate(124 151.4 72.9)" fill="none" stroke="#555" stroke-width="0.8" opacity="0.35"/>
<ellipse cx="156.3" cy="73.2" rx="2.5" ry="2.4" transform="rotate(47 156.3 73.2)" fill="none" stroke="#555" stroke-width="0.8" opacity="0.35"/>
<ellipse cx="162.9" cy="75.3" rx="3.6" ry="3.3" transform="rotate(65 162.9 75.3)" fill="none" stroke="#555" stroke-width="0.8" opacity="0.35"/>
<ellipse cx="168.6" cy="75.3" rx="3.0" ry="2.5" transform="rotate(130 168.6 75.3)" fill="none" stroke="#555" stroke-width="0.8" opacity="0.35"/>
<ellipse cx="177.6" cy="72.3" rx="3.0" ry="2.7" transform="rotate(15 177.6 72.3)" fill="none" stroke="#555" stroke-width="0.8" opacity="0.35"/>
<ellipse cx="184.0" cy="73.3" rx="3.7" ry="3.2" transform="rotate(10 184.0 73.3)" fill="none" stroke="#555" stroke-width="0.8" opacity="0.35"/>
<ellipse cx="188.9" cy="73.0" rx="2.6" ry="2.5" transform="rotate(107 188.9 73.0)" fill="none" stroke="#555" stroke-width="0.8" opacity="0.35"/>
<ellipse cx="194.2" cy="73.3" rx="3.1" ry="2.7" transform="rotate(24 194.2 73.3)" fill="none" stroke="#555" stroke-width="0.8" opacity="0.35"/>
<ellipse cx="30.7" cy="78.8" rx="3.6" ry="3.0" transform="rotate(26 30.7 78.8)" fill="none" stroke="#555" stroke-width="0.8" opacity="0.35"/>
<ellipse cx="35.5" cy="78.8" rx="3.6" ry="3.2" transform="rotate(70 35.5 78.8)" fill="none" stroke="#555" stroke-width="0.8" opacity="0.35"/>
<ellipse cx="44.2" cy="78.7" rx="2.9" ry="2.7" transform="rotate(39 44.2 78.7)" fill="none" stroke="#555" stroke-width="0.8" opacity="0.35"/>
<ellipse cx="48.0" cy="78.0" rx="3.4" ry="2.9" transform="rotate(146 48.0 78.0)" fill="none" stroke="#555" stroke-width="0.8" opacity="0.35"/>
<ellipse cx="57.5" cy="78.9" rx="3.5" ry="2.7" transform="rotate(39 57.5 78.9)" fill="none" stroke="#555" stroke-width="0.8" opacity="0.35"/>
<ellipse cx="63.1" cy="80.1" rx="3.9" ry="3.1" transform="rotate(42 63.1 80.1)" fill="none" stroke="#555" stroke-width="0.8" opacity="0.35"/>
<ellipse cx="69.4" cy="78.2" rx="3.1" ry="2.8" transform="rotate(11 69.4 78.2)" fill="none" stroke="#555" stroke-width="0.8" opacity="0.35"/>
<ellipse cx="75.1" cy="79.0" rx="3.2" ry="3.0" transform="rotate(29 75.1 79.0)" fill="none" stroke="#555" stroke-width="0.8" opacity="0.35"/>
<ellipse cx="81.7" cy="79.5" rx="2.8" ry="2.3" transform="rotate(43 81.7 79.5)" fill="none" stroke="#555" stroke-width="0.8" opacity="0.35"/>
<ellipse cx="87.2" cy="79.0" rx="3.1" ry="3.0" transform="rotate(105 87.2 79.0)" fill="none" stroke="#555" stroke-width="0.8" opacity="0.35"/>
<ellipse cx="95.7" cy="79.7" rx="3.6" ry="3.5" transform="rotate(70 95.7 79.7)" fill="none" stroke="#555" stroke-width="0.8" opacity="0.35"/>
<ellipse cx="101.1" cy="78.1" rx="3.1" ry="3.1" transform="rotate(89 101.1 78.1)" fill="none" stroke="#555" stroke-width="0.8" opacity="0.35"/>
<ellipse cx="108.3" cy="79.4" rx="3.0" ry="2.8" transform="rotate(4 108.3 79.4)" fill="none" stroke="#555" stroke-width="0.8" opacity="0.35"/>
<ellipse cx="114.0" cy="80.8" rx="3.3" ry="3.1" transform="rotate(120 114.0 80.8)" fill="none" stroke="#555" stroke-width="0.8" opacity="0.35"/>
<ellipse cx="120.0" cy="79.5" rx="3.4" ry="2.7" transform="rotate(65 120.0 79.5)" fill="none" stroke="#555" stroke-width="0.8" opacity="0.35"/>
<ellipse cx="127.7" cy="81.0" rx="3.7" ry="3.1" transform="rotate(112 127.7 81.0)" fill="none" stroke="#555" stroke-width="0.8" opacity="0.35"/>
<ellipse cx="133.7" cy="79.3" rx="2.9" ry="2.3" transform="rotate(158 133.7 79.3)" fill="none" stroke="#555" stroke-width="0.8" opacity="0.35"/>
<ellipse cx="140.1" cy="80.9" rx="2.6" ry="2.5" transform="rotate(91 140.1 80.9)" fill="none" stroke="#555" stroke-width="0.8" opacity="0.35"/>
<ellipse cx="146.4" cy="79.1" rx="4.0" ry="3.8" transform="rotate(35 146.4 79.1)" fill="none" stroke="#555" stroke-width="0.8" opacity="0.35"/>
<ellipse cx="152.6" cy="80.1" rx="2.9" ry="2.9" transform="rotate(98 152.6 80.1)" fill="none" stroke="#555" stroke-width="0.8" opacity="0.35"/>
<ellipse cx="159.7" cy="78.7" rx="3.2" ry="2.7" transform="rotate(99 159.7 78.7)" fill="none" stroke="#555" stroke-width="0.8" opacity="0.35"/>
<ellipse cx="166.9" cy="79.7" rx="3.7" ry="2.9" transform="rotate(60 166.9 79.7)" fill="none" stroke="#555" stroke-width="0.8" opacity="0.35"/>
<ellipse cx="172.5" cy="80.8" rx="3.0" ry="2.4" transform="rotate(125 172.5 80.8)" fill="none" stroke="#555" stroke-width="0.8" opacity="0.35"/>
<ellipse cx="180.1" cy="81.1" rx="3.7" ry="3.6" transform="rotate(112 180.1 81.1)" fill="none" stroke="#555" stroke-width="0.8" opacity="0.35"/>
<ellipse cx="186.0" cy="79.8" rx="3.1" ry="2.8" transform="rotate(135 186.0 79.8)" fill="none" stroke="#555" stroke-width="0.8" opacity="0.35"/>
<ellipse cx="192.6" cy="78.7" rx="2.9" ry="2.6" transform="rotate(32 192.6 78.7)" fill="none" stroke="#555" stroke-width="0.8" opacity="0.35"/>
<ellipse cx="33.3" cy="84.0" rx="2.6" ry="2.5" transform="rotate(18 33.3 84.0)" fill="none" stroke="#555" stroke-width="0.8" opacity="0.35"/>
<ellipse cx="40.4" cy="83.9" rx="3.2" ry="2.6" transform="rotate(87 40.4 83.9)" fill="none" stroke="#555" stroke-width="0.8" opacity="0.35"/>
<ellipse cx="45.2" cy="86.4" rx="3.8" ry="3.7" transform="rotate(46 45.2 86.4)" fill="none" stroke="#555" stroke-width="0.8" opacity="0.35"/>
<ellipse cx="52.8" cy="86.2" rx="3.1" ry="2.5" transform="rotate(45 52.8 86.2)" fill="none" stroke="#555" stroke-width="0.8" opacity="0.35"/>
<ellipse cx="60.0" cy="84.6" rx="3.0" ry="2.4" transform="rotate(152 60.0 84.6)" fill="none" stroke="#555" stroke-width="0.8" opacity="0.35"/>
<ellipse cx="66.8" cy="85.4" rx="3.1" ry="2.6" transform="rotate(112 66.8 85.4)" fill="none" stroke="#555" stroke-width="0.8" opacity="0.35"/>
<ellipse cx="73.3" cy="86.2" rx="2.7" ry="2.4" transform="rotate(120 73.3 86.2)" fill="none" stroke="#555" stroke-width="0.8" opacity="0.35"/>
<ellipse cx="77.9" cy="84.2" rx="2.5" ry="2.1" transform="rotate(169 77.9 84.2)" fill="none" stroke="#555" stroke-width="0.8" opacity="0.35"/>
<ellipse cx="86.8" cy="84.0" rx="3.5" ry="3.1" transform="rotate(114 86.8 84.0)" fill="none" stroke="#555" stroke-width="0.8" opacity="0.35"/>
<ellipse cx="91.4" cy="86.6" rx="4.0" ry="3.9" transform="rotate(128 91.4 86.6)" fill="none" stroke="#555" stroke-width="0.8" opacity="0.35"/>
<ellipse cx="97.0" cy="83.7" rx="2.9" ry="2.4" transform="rotate(179 97.0 83.7)" fill="none" stroke="#555" stroke-width="0.8" opacity="0.35"/>
<ellipse cx="103.5" cy="84.7" rx="2.5" ry="2.2" transform="rotate(87 103.5 84.7)" fill="none" stroke="#555" stroke-width="0.8" opacity="0.35"/>
<ellipse cx="110.8" cy="84.6" rx="3.7" ry="3.0" transform="rotate(51 110.8 84.6)" fill="none" stroke="#555" stroke-width="0.8" opacity="0.35"/>
<ellipse cx="117.4" cy="85.6" rx="3.6" ry="2.8" transform="rotate(70 117.4 85.6)" fill="none" stroke="#555" stroke-width="0.8" opacity="0.35"/>
<ellipse cx="124.9" cy="85.4" rx="3.7" ry="3.5" transform="rotate(32 124.9 85.4)" fill="none" stroke="#555" stroke-width="0.8" opacity="0.35"/>
<ellipse cx="129.5" cy="86.6" rx="2.9" ry="2.5" transform="rotate(22 129.5 86.6)" fill="none" stroke="#555" stroke-width="0.8" opacity="0.35"/>
<ellipse cx="136.7" cy="83.6" rx="3.3" ry="3.2" transform="rotate(113 136.7 83.6)" fill="none" stroke="#555" stroke-width="0.8" opacity="0.35"/>
<ellipse cx="143.0" cy="84.3" rx="3.2" ry="2.9" transform="rotate(47 143.0 84.3)" fill="none" stroke="#555" stroke-width="0.8" opacity="0.35"/>
<ellipse cx="148.8" cy="83.8" rx="3.8" ry="3.5" transform="rotate(14 148.8 83.8)" fill="none" stroke="#555" stroke-width="0.8" opacity="0.35"/>
<ellipse cx="155.7" cy="85.2" rx="4.0" ry="3.8" transform="rotate(156 155.7 85.2)" fill="none" stroke="#555" stroke-width="0.8" opacity="0.35"/>
<ellipse cx="163.2" cy="84.9" rx="3.7" ry="3.3" transform="rotate(10 163.2 84.9)" fill="none" stroke="#555" stroke-width="0.8" opacity="0.35"/>
<ellipse cx="169.9" cy="85.7" rx="3.4" ry="3.2" transform="rotate(169 169.9 85.7)" fill="none" stroke="#555" stroke-width="0.8" opacity="0.35"/>
<ellipse cx="177.4" cy="86.8" rx="3.2" ry="2.5" transform="rotate(130 177.4 86.8)" fill="none" stroke="#555" stroke-width="0.8" opacity="0.35"/>
<ellipse cx="181.7" cy="83.7" rx="2.8" ry="2.7" transform="rotate(13 181.7 83.7)" fill="none" stroke="#555" stroke-width="0.8" opacity="0.35"/>
<ellipse cx="188.8" cy="86.0" rx="3.0" ry="2.6" transform="rotate(2 188.8 86.0)" fill="none" stroke="#555" stroke-width="0.8" opacity="0.35"/>
<ellipse cx="194.8" cy="86.7" rx="2.5" ry="2.2" transform="rotate(146 194.8 86.7)" fill="none" stroke="#555" stroke-width="0.8" opacity="0.35"/>
<ellipse cx="30.9" cy="91.6" rx="3.1" ry="2.5" transform="rotate(149 30.9 91.6)" fill="none" stroke="#555" stroke-width="0.8" opacity="0.35"/>
<ellipse cx="37.4" cy="92.4" rx="2.7" ry="2.1" transform="rotate(72 37.4 92.4)" fill="none" stroke="#555" stroke-width="0.8" opacity="0.35"/>
<ellipse cx="43.7" cy="90.0" rx="3.9" ry="3.8" transform="rotate(104 43.7 90.0)" fill="none" stroke="#555" stroke-width="0.8" opacity="0.35"/>
<ellipse cx="48.6" cy="90.5" rx="3.1" ry="2.6" transform="rotate(146 48.6 90.5)" fill="none" stroke="#555" stroke-width="0.8" opacity="0.35"/>
<ellipse cx="55.6" cy="91.3" rx="3.0" ry="2.8" transform="rotate(163 55.6 91.3)" fill="none" stroke="#555" stroke-width="0.8" opacity="0.35"/>
<ellipse cx="61.9" cy="89.5" rx="3.0" ry="2.5" transform="rotate(38 61.9 89.5)" fill="none" stroke="#555" stroke-width="0.8" opacity="0.35"/>
<ellipse cx="69.8" cy="91.0" rx="3.5" ry="3.3" transform="rotate(19 69.8 91.0)" fill="none" stroke="#555" stroke-width="0.8" opacity="0.35"/>
<ellipse cx="74.3" cy="90.4" rx="3.1" ry="3.1" transform="rotate(90 74.3 90.4)" fill="none" stroke="#555" stroke-width="0.8" opacity="0.35"/>
<ellipse cx="81.7" cy="90.3" rx="3.3" ry="2.6" transform="rotate(37 81.7 90.3)" fill="none" stroke="#555" stroke-width="0.8" opacity="0.35"/>
<ellipse cx="89.7" cy="90.3" rx="3.6" ry="3.5" transform="rotate(178 89.7 90.3)" fill="none" stroke="#555" stroke-width="0.8" opacity="0.35"/>
<ellipse cx="94.8" cy="92.4" rx="2.8" ry="2.5" transform="rotate(127 94.8 92.4)" fill="none" stroke="#555" stroke-width="0.8" opacity="0.35"/>
<ellipse cx="100.5" cy="90.1" rx="3.5" ry="2.7" transform="rotate(58 100.5 90.1)" fill="none" stroke="#555" stroke-width="0.8" opacity="0.35"/>
<ellipse cx="107.0" cy="90.4" rx="4.0" ry="3.8" transform="rotate(114 107.0 90.4)" fill="none" stroke="#555" stroke-width="0.8" opacity="0.35"/>
<ellipse cx="114.1" cy="91.3" rx="2.8" ry="2.4" transform="rotate(160 114.1 91.3)" fill="none" stroke="#555" stroke-width="0.8" opacity="0.35"/>
<ellipse cx="122.2" cy="91.3" rx="3.3" ry="2.8" transform="rotate(21 122.2 91.3)" fill="none" stroke="#555" stroke-width="0.8" opacity="0.35"/>
<ellipse cx="128.6" cy="91.5" rx="3.2" ry="2.7" transform="rotate(75 128.6 91.5)" fill="none" stroke="#555" stroke-width="0.8" opacity="0.35"/>
<ellipse cx="133.6" cy="90.0" rx="3.4" ry="2.9" transform="rotate(93 133.6 90.0)" fill="none" stroke="#555" stroke-width="0.8" opacity="0.35"/>
<ellipse cx="139.0" cy="91.3" rx="3.2" ry="2.7" transform="rotate(107 139.0 91.3)" fill="none" stroke="#555" stroke-width="0.8" opacity="0.35"/>
<ellipse cx="148.4" cy="89.7" rx="3.2" ry="2.5" transform="rotate(133 148.4 89.7)" fill="none" stroke="#555" stroke-width="0.8" opacity="0.35"/>
<ellipse cx="152.9" cy="91.6" rx="4.0" ry="3.6" transform="rotate(156 152.9 91.6)" fill="none" stroke="#555" stroke-width="0.8" opacity="0.35"/>
<ellipse cx="158.8" cy="92.5" rx="3.2" ry="3.0" transform="rotate(151 158.8 92.5)" fill="none" stroke="#555" stroke-width="0.8" opacity="0.35"/>
<ellipse cx="167.0" cy="92.3" rx="3.7" ry="3.0" transform="rotate(92 167.0 92.3)" fill="none" stroke="#555" stroke-width="0.8" opacity="0.35"/>
<ellipse cx="174.6" cy="89.4" rx="3.8" ry="3.1" transform="rotate(45 174.6 89.4)" fill="none" stroke="#555" stroke-width="0.8" opacity="0.35"/>
<ellipse cx="180.5" cy="90.7" rx="3.3" ry="2.6" transform="rotate(35 180.5 90.7)" fill="none" stroke="#555" stroke-width="0.8" opacity="0.35"/>
<ellipse cx="185.3" cy="91.3" rx="2.6" ry="2.2" transform="rotate(142 185.3 91.3)" fill="none" stroke="#555" stroke-width="0.8" opacity="0.35"/>
<ellipse cx="192.5" cy="90.0" rx="3.7" ry="2.9" transform="rotate(139 192.5 90.0)" fill="none" stroke="#555" stroke-width="0.8" opacity="0.35"/>
<ellipse cx="33.4" cy="97.8" rx="3.7" ry="3.5" transform="rotate(66 33.4 97.8)" fill="none" stroke="#555" stroke-width="0.8" opacity="0.35"/>
<ellipse cx="38.5" cy="95.0" rx="3.0" ry="2.4" transform="rotate(150 38.5 95.0)" fill="none" stroke="#555" stroke-width="0.8" opacity="0.35"/>
<ellipse cx="45.0" cy="95.5" rx="3.1" ry="2.5" transform="rotate(111 45.0 95.5)" fill="none" stroke="#555" stroke-width="0.8" opacity="0.35"/>
<ellipse cx="54.1" cy="95.1" rx="4.0" ry="3.7" transform="rotate(113 54.1 95.1)" fill="none" stroke="#555" stroke-width="0.8" opacity="0.35"/>
<ellipse cx="60.5" cy="97.3" rx="2.8" ry="2.3" transform="rotate(78 60.5 97.3)" fill="none" stroke="#555" stroke-width="0.8" opacity="0.35"/>
<ellipse cx="64.2" cy="96.0" rx="3.0" ry="2.5" transform="rotate(50 64.2 96.0)" fill="none" stroke="#555" stroke-width="0.8" opacity="0.35"/>
<ellipse cx="72.6" cy="97.1" rx="2.8" ry="2.7" transform="rotate(125 72.6 97.1)" fill="none" stroke="#555" stroke-width="0.8" opacity="0.35"/>
<ellipse cx="78.6" cy="95.3" rx="2.7" ry="2.1" transform="rotate(110 78.6 95.3)" fill="none" stroke="#555" stroke-width="0.8" opacity="0.35"/>
<ellipse cx="84.8" cy="95.5" rx="4.0" ry="3.3" transform="rotate(133 84.8 95.5)" fill="none" stroke="#555" stroke-width="0.8" opacity="0.35"/>
<ellipse cx="91.3" cy="95.9" rx="3.1" ry="3.0" transform="rotate(114 91.3 95.9)" fill="none" stroke="#555" stroke-width="0.8" opacity="0.35"/>
<ellipse cx="98.0" cy="97.6" rx="3.1" ry="2.7" transform="rotate(91 98.0 97.6)" fill="none" stroke="#555" stroke-width="0.8" opacity="0.35"/>
<ellipse cx="106.2" cy="96.0" rx="3.6" ry="3.3" transform="rotate(104 106.2 96.0)" fill="none" stroke="#555" stroke-width="0.8" opacity="0.35"/>
<ellipse cx="110.6" cy="97.7" rx="2.9" ry="2.3" transform="rotate(122 110.6 97.7)" fill="none" stroke="#555" stroke-width="0.8" opacity="0.35"/>
<ellipse cx="117.6" cy="97.9" rx="3.1" ry="2.5" transform="rotate(108 117.6 97.9)" fill="none" stroke="#555" stroke-width="0.8" opacity="0.35"/>
<ellipse cx="124.1" cy="95.1" rx="3.1" ry="2.9" transform="rotate(79 124.1 95.1)" fill="none" stroke="#555" stroke-width="0.8" opacity="0.35"/>
<ellipse cx="132.2" cy="95.8" rx="3.5" ry="2.9" transform="rotate(44 132.2 95.8)" fill="none" stroke="#555" stroke-width="0.8" opacity="0.35"/>
<ellipse cx="137.0" cy="95.3" rx="3.8" ry="3.6" transform="rotate(76 137.0 95.3)" fill="none" stroke="#555" stroke-width="0.8" opacity="0.35"/>
<ellipse cx="143.2" cy="97.6" rx="3.8" ry="3.2" transform="rotate(98 143.2 97.6)" fill="none" stroke="#555" stroke-width="0.8" opacity="0.35"/>
<ellipse cx="148.9" cy="97.8" rx="2.6" ry="2.4" transform="rotate(67 148.9 97.8)" fill="none" stroke="#555" stroke-width="0.8" opacity="0.35"/>
<ellipse cx="157.5" cy="97.1" rx="3.0" ry="2.4" transform="rotate(171 157.5 97.1)" fill="none" stroke="#555" stroke-width="0.8" opacity="0.35"/>
<ellipse cx="161.7" cy="96.9" rx="3.2" ry="2.9" transform="rotate(84 161.7 96.9)" fill="none" stroke="#555" stroke-width="0.8" opacity="0.35"/>
<ellipse cx="169.2" cy="97.1" rx="3.4" ry="2.6" transform="rotate(176 169.2 97.1)" fill="none" stroke="#555" stroke-width="0.8" opacity="0.35"/>
<ellipse cx="177.9" cy="96.2" rx="3.7" ry="3.1" transform="rotate(126 177.9 96.2)" fill="none" stroke="#555" stroke-width="0.8" opacity="0.35"/>
<ellipse cx="184.4" cy="95.1" rx="3.2" ry="2.9" transform="rotate(118 184.4 95.1)" fill="none" stroke="#555" stroke-width="0.8" opacity="0.35"/>
<ellipse cx="188.3" cy="98.1" rx="2.8" ry="2.5" transform="rotate(26 188.3 98.1)" fill="none" stroke="#555" stroke-width="0.8" opacity="0.35"/>
<ellipse cx="195.4" cy="97.3" rx="2.6" ry="2.5" transform="rotate(117 195.4 97.3)" fill="none" stroke="#555" stroke-width="0.8" opacity="0.35"/>
<ellipse cx="30.4" cy="103.0" rx="2.9" ry="2.3" transform="rotate(132 30.4 103.0)" fill="none" stroke="#555" stroke-width="0.8" opacity="0.35"/>
<ellipse cx="37.4" cy="100.9" rx="3.2" ry="3.2" transform="rotate(155 37.4 100.9)" fill="none" stroke="#555" stroke-width="0.8" opacity="0.35"/>
<ellipse cx="44.4" cy="103.5" rx="2.5" ry="2.3" transform="rotate(96 44.4 103.5)" fill="none" stroke="#555" stroke-width="0.8" opacity="0.35"/>
<ellipse cx="49.6" cy="100.9" rx="3.7" ry="3.4" transform="rotate(91 49.6 100.9)" fill="none" stroke="#555" stroke-width="0.8" opacity="0.35"/>
<ellipse cx="54.8" cy="102.4" rx="2.7" ry="2.6" transform="rotate(92 54.8 102.4)" fill="none" stroke="#555" stroke-width="0.8" opacity="0.35"/>
<ellipse cx="61.8" cy="103.1" rx="2.9" ry="2.6" transform="rotate(10 61.8 103.1)" fill="none" stroke="#555" stroke-width="0.8" opacity="0.35"/>
<ellipse cx="68.1" cy="102.0" rx="3.3" ry="2.9" transform="rotate(153 68.1 102.0)" fill="none" stroke="#555" stroke-width="0.8" opacity="0.35"/>
<ellipse cx="74.2" cy="103.3" rx="2.7" ry="2.1" transform="rotate(94 74.2 103.3)" fill="none" stroke="#555" stroke-width="0.8" opacity="0.35"/>
<ellipse cx="81.7" cy="102.5" rx="3.8" ry="2.9" transform="rotate(74 81.7 102.5)" fill="none" stroke="#555" stroke-width="0.8" opacity="0.35"/>
<ellipse cx="86.9" cy="101.0" rx="3.7" ry="3.1" transform="rotate(128 86.9 101.0)" fill="none" stroke="#555" stroke-width="0.8" opacity="0.35"/>
<ellipse cx="93.9" cy="102.3" rx="2.5" ry="2.5" transform="rotate(54 93.9 102.3)" fill="none" stroke="#555" stroke-width="0.8" opacity="0.35"/>
<ellipse cx="103.0" cy="102.6" rx="3.8" ry="3.7" transform="rotate(75 103.0 102.6)" fill="none" stroke="#555" stroke-width="0.8" opacity="0.35"/>
<ellipse cx="106.6" cy="101.4" rx="2.7" ry="2.1" transform="rotate(59 106.6 101.4)" fill="none" stroke="#555" stroke-width="0.8" opacity="0.35"/>
<ellipse cx="114.5" cy="102.7" rx="3.8" ry="3.0" transform="rotate(102 114.5 102.7)" fill="none" stroke="#555" stroke-width="0.8" opacity="0.35"/>
<ellipse cx="121.0" cy="103.5" rx="3.1" ry="2.8" transform="rotate(133 121.0 103.5)" fill="none" stroke="#555" stroke-width="0.8" opacity="0.35"/>
<ellipse cx="126.7" cy="101.7" rx="3.1" ry="2.8" transform="rotate(65 126.7 101.7)" fill="none" stroke="#555" stroke-width="0.8" opacity="0.35"/>
<ellipse cx="133.8" cy="102.0" rx="2.6" ry="2.1" transform="rotate(11 133.8 102.0)" fill="none" stroke="#555" stroke-width="0.8" opacity="0.35"/>
<ellipse cx="140.6" cy="102.3" rx="3.1" ry="2.9" transform="rotate(18 140.6 102.3)" fill="none" stroke="#555" stroke-width="0.8" opacity="0.35"/>
<ellipse cx="146.6" cy="101.6" rx="3.2" ry="3.0" transform="rotate(135 146.6 101.6)" fill="none" stroke="#555" stroke-width="0.8" opacity="0.35"/>
<ellipse cx="153.5" cy="100.6" rx="3.1" ry="2.4" transform="rotate(1 153.5 100.6)" fill="none" stroke="#555" stroke-width="0.8" opacity="0.35"/>
<ellipse cx="160.3" cy="103.7" rx="3.0" ry="2.6" transform="rotate(66 160.3 103.7)" fill="none" stroke="#555" stroke-width="0.8" opacity="0.35"/>
<ellipse cx="165.9" cy="102.5" rx="3.4" ry="3.1" transform="rotate(90 165.9 102.5)" fill="none" stroke="#555" stroke-width="0.8" opacity="0.35"/>
<ellipse cx="173.1" cy="103.0" rx="2.6" ry="2.5" transform="rotate(45 173.1 103.0)" fill="none" stroke="#555" stroke-width="0.8" opacity="0.35"/>
<ellipse cx="178.8" cy="103.1" rx="3.1" ry="2.5" transform="rotate(72 178.8 103.1)" fill="none" stroke="#555" stroke-width="0.8" opacity="0.35"/>
<ellipse cx="185.3" cy="102.8" rx="2.6" ry="2.0" transform="rotate(150 185.3 102.8)" fill="none" stroke="#555" stroke-width="0.8" opacity="0.35"/>
<ellipse cx="191.9" cy="101.6" rx="3.7" ry="3.0" transform="rotate(116 191.9 101.6)" fill="none" stroke="#555" stroke-width="0.8" opacity="0.35"/>
<ellipse cx="31.8" cy="108.7" rx="2.6" ry="2.2" transform="rotate(99 31.8 108.7)" fill="none" stroke="#555" stroke-width="0.8" opacity="0.35"/>
<ellipse cx="41.1" cy="108.3" rx="2.5" ry="2.0" transform="rotate(135 41.1 108.3)" fill="none" stroke="#555" stroke-width="0.8" opacity="0.35"/>
<ellipse cx="46.5" cy="106.2" rx="3.6" ry="3.2" transform="rotate(122 46.5 106.2)" fill="none" stroke="#555" stroke-width="0.8" opacity="0.35"/>
<ellipse cx="54.3" cy="109.2" rx="2.6" ry="2.1" transform="rotate(79 54.3 109.2)" fill="none" stroke="#555" stroke-width="0.8" opacity="0.35"/>
<ellipse cx="60.1" cy="107.4" rx="3.2" ry="2.8" transform="rotate(21 60.1 107.4)" fill="none" stroke="#555" stroke-width="0.8" opacity="0.35"/>
<ellipse cx="65.2" cy="108.6" rx="2.6" ry="2.5" transform="rotate(150 65.2 108.6)" fill="none" stroke="#555" stroke-width="0.8" opacity="0.35"/>
<ellipse cx="72.8" cy="108.0" rx="2.7" ry="2.6" transform="rotate(56 72.8 108.0)" fill="none" stroke="#555" stroke-width="0.8" opacity="0.35"/>
<ellipse cx="80.2" cy="108.0" rx="3.9" ry="3.7" transform="rotate(75 80.2 108.0)" fill="none" stroke="#555" stroke-width="0.8" opacity="0.35"/>
<ellipse cx="85.4" cy="108.9" rx="2.7" ry="2.1" transform="rotate(85 85.4 108.9)" fill="none" stroke="#555" stroke-width="0.8" opacity="0.35"/>
<ellipse cx="90.2" cy="107.6" rx="3.1" ry="2.6" transform="rotate(167 90.2 107.6)" fill="none" stroke="#555" stroke-width="0.8" opacity="0.35"/>
<ellipse cx="98.2" cy="108.4" rx="3.1" ry="2.5" transform="rotate(19 98.2 108.4)" fill="none" stroke="#555" stroke-width="0.8" opacity="0.35"/>
<ellipse cx="105.5" cy="106.7" rx="3.4" ry="3.2" transform="rotate(62 105.5 106.7)" fill="none" stroke="#555" stroke-width="0.8" opacity="0.35"/>
<ellipse cx="110.2" cy="107.3" rx="3.4" ry="2.9" transform="rotate(70 110.2 107.3)" fill="none" stroke="#555" stroke-width="0.8" opacity="0.35"/>
<ellipse cx="118.0" cy="108.9" rx="3.0" ry="2.6" transform="rotate(86 118.0 108.9)" fill="none" stroke="#555" stroke-width="0.8" opacity="0.35"/>
<ellipse cx="125.8" cy="107.3" rx="3.5" ry="3.3" transform="rotate(47 125.8 107.3)" fill="none" stroke="#555" stroke-width="0.8" opacity="0.35"/>
<ellipse cx="131.5" cy="108.1" rx="2.9" ry="2.8" transform="rotate(148 131.5 108.1)" fill="none" stroke="#555" stroke-width="0.8" opacity="0.35"/>
<ellipse cx="136.9" cy="108.5" rx="3.1" ry="2.7" transform="rotate(101 136.9 108.5)" fill="none" stroke="#555" stroke-width="0.8" opacity="0.35"/>
<ellipse cx="145.3" cy="109.2" rx="3.2" ry="2.8" transform="rotate(42 145.3 109.2)" fill="none" stroke="#555" stroke-width="0.8" opacity="0.35"/>
<ellipse cx="151.1" cy="106.5" rx="3.0" ry="2.4" transform="rotate(6 151.1 106.5)" fill="none" stroke="#555" stroke-width="0.8" opacity="0.35"/>
<ellipse cx="157.4" cy="108.0" rx="3.3" ry="3.0" transform="rotate(27 157.4 108.0)" fill="none" stroke="#555" stroke-width="0.8" opacity="0.35"/>
<ellipse cx="164.7" cy="108.7" rx="3.7" ry="3.6" transform="rotate(141 164.7 108.7)" fill="none" stroke="#555" stroke-width="0.8" opacity="0.35"/>
<ellipse cx="168.8" cy="106.8" rx="3.3" ry="2.8" transform="rotate(22 168.8 106.8)" fill="none" stroke="#555" stroke-width="0.8" opacity="0.35"/>
<ellipse cx="177.1" cy="108.1" rx="3.8" ry="3.0" transform="rotate(124 177.1 108.1)" fill="none" stroke="#555" stroke-width="0.8" opacity="0.35"/>
<ellipse cx="182.3" cy="109.3" rx="3.6" ry="3.3" transform="rotate(154 182.3 109.3)" fill="none" stroke="#555" stroke-width="0.8" opacity="0.35"/>
<ellipse cx="190.0" cy="107.1" rx="2.9" ry="2.9" transform="rotate(97 190.0 107.1)" fill="none" stroke="#555" stroke-width="0.8" opacity="0.35"/>
<ellipse cx="194.9" cy="107.2" rx="2.9" ry="2.8" transform="rotate(87 194.9 107.2)" fill="none" stroke="#555" stroke-width="0.8" opacity="0.35"/>
<ellipse cx="29.3" cy="112.8" rx="2.9" ry="2.5" transform="rotate(157 29.3 112.8)" fill="none" stroke="#555" stroke-width="0.8" opacity="0.35"/>
<ellipse cx="35.4" cy="114.6" rx="3.8" ry="3.2" transform="rotate(98 35.4 114.6)" fill="none" stroke="#555" stroke-width="0.8" opacity="0.35"/>
<ellipse cx="43.8" cy="113.6" rx="3.5" ry="2.7" transform="rotate(140 43.8 113.6)" fill="none" stroke="#555" stroke-width="0.8" opacity="0.35"/>
<ellipse cx="48.7" cy="112.0" rx="3.9" ry="3.5" transform="rotate(142 48.7 112.0)" fill="none" stroke="#555" stroke-width="0.8" opacity="0.35"/>
<ellipse cx="55.1" cy="113.3" rx="3.1" ry="2.5" transform="rotate(170 55.1 113.3)" fill="none" stroke="#555" stroke-width="0.8" opacity="0.35"/>
<ellipse cx="62.5" cy="113.7" rx="3.0" ry="2.8" transform="rotate(171 62.5 113.7)" fill="none" stroke="#555" stroke-width="0.8" opacity="0.35"/>
<ellipse cx="67.7" cy="114.9" rx="3.5" ry="3.4" transform="rotate(162 67.7 114.9)" fill="none" stroke="#555" stroke-width="0.8" opacity="0.35"/>
<ellipse cx="74.2" cy="113.7" rx="2.7" ry="2.1" transform="rotate(56 74.2 113.7)" fill="none" stroke="#555" stroke-width="0.8" opacity="0.35"/>
<ellipse cx="83.2" cy="112.1" rx="3.5" ry="3.4" transform="rotate(5 83.2 112.1)" fill="none" stroke="#555" stroke-width="0.8" opacity="0.35"/>
<ellipse cx="88.7" cy="115.0" rx="3.5" ry="2.8" transform="rotate(141 88.7 115.0)" fill="none" stroke="#555" stroke-width="0.8" opacity="0.35"/>
<ellipse cx="95.1" cy="112.1" rx="3.3" ry="3.1" transform="rotate(95 95.1 112.1)" fill="none" stroke="#555" stroke-width="0.8" opacity="0.35"/>
<ellipse cx="101.0" cy="113.5" rx="2.8" ry="2.3" transform="rotate(75 101.0 113.5)" fill="none" stroke="#555" stroke-width="0.8" opacity="0.35"/>
<ellipse cx="108.0" cy="112.1" rx="3.2" ry="2.8" transform="rotate(175 108.0 112.1)" fill="none" stroke="#555" stroke-width="0.8" opacity="0.35"/>
<ellipse cx="114.7" cy="112.3" rx="3.0" ry="2.7" transform="rotate(126 114.7 112.3)" fill="none" stroke="#555" stroke-width="0.8" opacity="0.35"/>
<ellipse cx="122.4" cy="115.0" rx="3.9" ry="3.1" transform="rotate(155 122.4 115.0)" fill="none" stroke="#555" stroke-width="0.8" opacity="0.35"/>
<ellipse cx="128.9" cy="111.9" rx="3.2" ry="2.7" transform="rotate(123 128.9 111.9)" fill="none" stroke="#555" stroke-width="0.8" opacity="0.35"/>
<ellipse cx="134.4" cy="113.8" rx="3.9" ry="3.8" transform="rotate(93 134.4 113.8)" fill="none" stroke="#555" stroke-width="0.8" opacity="0.35"/>
<ellipse cx="142.0" cy="112.0" rx="2.7" ry="2.1" transform="rotate(172 142.0 112.0)" fill="none" stroke="#555" stroke-width="0.8" opacity="0.35"/>
<ellipse cx="145.5" cy="112.0" rx="3.7" ry="3.1" transform="rotate(94 145.5 112.0)" fill="none" stroke="#555" stroke-width="0.8" opacity="0.35"/>
<ellipse cx="153.8" cy="114.3" rx="3.7" ry="3.7" transform="rotate(12 153.8 114.3)" fill="none" stroke="#555" stroke-width="0.8" opacity="0.35"/>
<ellipse cx="161.0" cy="115.0" rx="3.8" ry="3.3" transform="rotate(60 161.0 115.0)" fill="none" stroke="#555" stroke-width="0.8" opacity="0.35"/>
<ellipse cx="166.0" cy="111.9" rx="3.7" ry="3.4" transform="rotate(105 166.0 111.9)" fill="none" stroke="#555" stroke-width="0.8" opacity="0.35"/>
<ellipse cx="173.1" cy="112.9" rx="3.5" ry="3.1" transform="rotate(42 173.1 112.9)" fill="none" stroke="#555" stroke-width="0.8" opacity="0.35"/>
<ellipse cx="180.7" cy="112.4" rx="2.7" ry="2.5" transform="rotate(86 180.7 112.4)" fill="none" stroke="#555" stroke-width="0.8" opacity="0.35"/>
<ellipse cx="186.9" cy="112.9" rx="2.9" ry="2.4" transform="rotate(47 186.9 112.9)" fill="none" stroke="#555" stroke-width="0.8" opacity="0.35"/>
<ellipse cx="192.6" cy="112.7" rx="3.8" ry="3.6" transform="rotate(42 192.6 112.7)" fill="none" stroke="#555" stroke-width="0.8" opacity="0.35"/>
<ellipse cx="32.6" cy="118.6" rx="3.6" ry="3.0" transform="rotate(142 32.6 118.6)" fill="none" stroke="#555" stroke-width="0.8" opacity="0.35"/>
<ellipse cx="39.9" cy="117.8" rx="3.6" ry="3.4" transform="rotate(39 39.9 117.8)" fill="none" stroke="#555" stroke-width="0.8" opacity="0.35"/>
<ellipse cx="46.0" cy="120.7" rx="3.1" ry="2.8" transform="rotate(164 46.0 120.7)" fill="none" stroke="#555" stroke-width="0.8" opacity="0.35"/>
<ellipse cx="54.3" cy="118.8" rx="2.7" ry="2.2" transform="rotate(141 54.3 118.8)" fill="none" stroke="#555" stroke-width="0.8" opacity="0.35"/>
<ellipse cx="58.7" cy="120.1" rx="3.1" ry="2.8" transform="rotate(107 58.7 120.1)" fill="none" stroke="#555" stroke-width="0.8" opacity="0.35"/>
<ellipse cx="66.5" cy="119.1" rx="3.7" ry="3.7" transform="rotate(90 66.5 119.1)" fill="none" stroke="#555" stroke-width="0.8" opacity="0.35"/>
<ellipse cx="71.9" cy="117.7" rx="3.9" ry="3.7" transform="rotate(37 71.9 117.7)" fill="none" stroke="#555" stroke-width="0.8" opacity="0.35"/>
<ellipse cx="80.0" cy="120.6" rx="3.9" ry="3.5" transform="rotate(168 80.0 120.6)" fill="none" stroke="#555" stroke-width="0.8" opacity="0.35"/>
<ellipse cx="84.1" cy="119.8" rx="3.9" ry="3.7" transform="rotate(24 84.1 119.8)" fill="none" stroke="#555" stroke-width="0.8" opacity="0.35"/>
<ellipse cx="92.3" cy="120.4" rx="3.6" ry="2.8" transform="rotate(82 92.3 120.4)" fill="none" stroke="#555" stroke-width="0.8" opacity="0.35"/>
<ellipse cx="97.8" cy="117.9" rx="2.9" ry="2.3" transform="rotate(13 97.8 117.9)" fill="none" stroke="#555" stroke-width="0.8" opacity="0.35"/>
<ellipse cx="103.7" cy="118.6" rx="2.6" ry="2.4" transform="rotate(33 103.7 118.6)" fill="none" stroke="#555" stroke-width="0.8" opacity="0.35"/>
<ellipse cx="110.0" cy="119.2" rx="3.3" ry="2.8" transform="rotate(137 110.0 119.2)" fill="none" stroke="#555" stroke-width="0.8" opacity="0.35"/>
<ellipse cx="117.8" cy="120.6" rx="2.6" ry="2.5" transform="rotate(14 117.8 120.6)" fill="none" stroke="#555" stroke-width="0.8" opacity="0.35"/>
<ellipse cx="123.6" cy="120.0" rx="3.9" ry="3.4" transform="rotate(29 123.6 120.0)" fill="none" stroke="#555" stroke-width="0.8" opacity="0.35"/>
<ellipse cx="130.2" cy="119.4" rx="2.9" ry="2.4" transform="rotate(175 130.2 119.4)" fill="none" stroke="#555" stroke-width="0.8" opacity="0.35"/>
<ellipse cx="137.1" cy="119.5" rx="3.8" ry="3.3" transform="rotate(34 137.1 119.5)" fill="none" stroke="#555" stroke-width="0.8" opacity="0.35"/>
<ellipse cx="145.2" cy="120.7" rx="2.5" ry="2.1" transform="rotate(72 145.2 120.7)" fill="none" stroke="#555" stroke-width="0.8" opacity="0.35"/>
<ellipse cx="148.8" cy="118.0" rx="2.8" ry="2.3" transform="rotate(38 148.8 118.0)" fill="none" stroke="#555" stroke-width="0.8" opacity="0.35"/>
<ellipse cx="155.2" cy="118.2" rx="3.7" ry="3.2" transform="rotate(118 155.2 118.2)" fill="none" stroke="#555" stroke-width="0.8" opacity="0.35"/>
<ellipse cx="163.1" cy="118.1" rx="2.5" ry="2.3" transform="rotate(7 163.1 118.1)" fill="none" stroke="#555" stroke-width="0.8" opacity="0.35"/>
<ellipse cx="169.0" cy="119.5" rx="3.1" ry="2.7" transform="rotate(112 169.0 119.5)" fill="none" stroke="#555" stroke-width="0.8" opacity="0.35"/>
<ellipse cx="175.7" cy="118.7" rx="3.8" ry="3.3" transform="rotate(75 175.7 118.7)" fill="none" stroke="#555" stroke-width="0.8" opacity="0.35"/>
<ellipse cx="182.9" cy="119.0" rx="3.0" ry="2.4" transform="rotate(42 182.9 119.0)" fill="none" stroke="#555" stroke-width="0.8" opacity="0.35"/>
<ellipse cx="190.7" cy="120.3" rx="3.8" ry="3.6" transform="rotate(92 190.7 120.3)" fill="none" stroke="#555" stroke-width="0.8" opacity="0.35"/>
<ellipse cx="197.3" cy="118.4" rx="2.8" ry="2.3" transform="rotate(42 197.3 118.4)" fill="none" stroke="#555" stroke-width="0.8" opacity="0.35"/>
<ellipse cx="30.3" cy="123.7" rx="3.9" ry="3.6" transform="rotate(17 30.3 123.7)" fill="none" stroke="#555" stroke-width="0.8" opacity="0.35"/>
<ellipse cx="37.1" cy="124.3" rx="3.3" ry="2.9" transform="rotate(166 37.1 124.3)" fill="none" stroke="#555" stroke-width="0.8" opacity="0.35"/>
<ellipse cx="43.0" cy="124.4" rx="2.5" ry="2.2" transform="rotate(48 43.0 124.4)" fill="none" stroke="#555" stroke-width="0.8" opacity="0.35"/>
<ellipse cx="49.7" cy="125.2" rx="3.2" ry="3.1" transform="rotate(90 49.7 125.2)" fill="none" stroke="#555" stroke-width="0.8" opacity="0.35"/>
<ellipse cx="55.9" cy="125.2" rx="4.0" ry="3.6" transform="rotate(80 55.9 125.2)" fill="none" stroke="#555" stroke-width="0.8" opacity="0.35"/>
<ellipse cx="61.2" cy="125.8" rx="2.9" ry="2.3" transform="rotate(144 61.2 125.8)" fill="none" stroke="#555" stroke-width="0.8" opacity="0.35"/>
<ellipse cx="68.2" cy="126.1" rx="3.3" ry="2.9" transform="rotate(100 68.2 126.1)" fill="none" stroke="#555" stroke-width="0.8" opacity="0.35"/>
<ellipse cx="76.9" cy="124.8" rx="3.2" ry="3.0" transform="rotate(151 76.9 124.8)" fill="none" stroke="#555" stroke-width="0.8" opacity="0.35"/>
<ellipse cx="82.0" cy="124.3" rx="2.8" ry="2.6" transform="rotate(150 82.0 124.3)" fill="none" stroke="#555" stroke-width="0.8" opacity="0.35"/>
<ellipse cx="89.5" cy="126.3" rx="3.9" ry="3.2" transform="rotate(144 89.5 126.3)" fill="none" stroke="#555" stroke-width="0.8" opacity="0.35"/>
<ellipse cx="95.7" cy="125.8" rx="3.7" ry="3.5" transform="rotate(147 95.7 125.8)" fill="none" stroke="#555" stroke-width="0.8" opacity="0.35"/>
<ellipse cx="100.9" cy="124.0" rx="3.9" ry="3.9" transform="rotate(92 100.9 124.0)" fill="none" stroke="#555" stroke-width="0.8" opacity="0.35"/>
<ellipse cx="107.5" cy="125.7" rx="3.4" ry="2.7" transform="rotate(168 107.5 125.7)" fill="none" stroke="#555" stroke-width="0.8" opacity="0.35"/>
<ellipse cx="115.0" cy="123.4" rx="3.5" ry="3.4" transform="rotate(177 115.0 123.4)" fill="none" stroke="#555" stroke-width="0.8" opacity="0.35"/>
<ellipse cx="122.2" cy="124.2" rx="2.8" ry="2.3" transform="rotate(136 122.2 124.2)" fill="none" stroke="#555" stroke-width="0.8" opacity="0.35"/>
<ellipse cx="129.1" cy="125.2" rx="2.7" ry="2.2" transform="rotate(11 129.1 125.2)" fill="none" stroke="#555" stroke-width="0.8" opacity="0.35"/>
<ellipse cx="135.2" cy="125.7" rx="3.7" ry="2.9" transform="rotate(102 135.2 125.7)" fill="none" stroke="#555" stroke-width="0.8" opacity="0.35"/>
<ellipse cx="141.9" cy="125.2" rx="3.2" ry="2.9" transform="rotate(64 141.9 125.2)" fill="none" stroke="#555" stroke-width="0.8" opacity="0.35"/>
<ellipse cx="145.4" cy="123.7" rx="3.7" ry="3.5" transform="rotate(118 145.4 123.7)" fill="none" stroke="#555" stroke-width="0.8" opacity="0.35"/>
<ellipse cx="154.4" cy="125.4" rx="3.3" ry="3.0" transform="rotate(49 154.4 125.4)" fill="none" stroke="#555" stroke-width="0.8" opacity="0.35"/>
<ellipse cx="159.0" cy="125.3" rx="3.5" ry="2.8" transform="rotate(60 159.0 125.3)" fill="none" stroke="#555" stroke-width="0.8" opacity="0.35"/>
<ellipse cx="167.9" cy="126.1" rx="2.9" ry="2.3" transform="rotate(111 167.9 126.1)" fill="none" stroke="#555" stroke-width="0.8" opacity="0.35"/>
<ellipse cx="174.5" cy="125.7" rx="3.0" ry="2.8" transform="rotate(94 174.5 125.7)" fill="none" stroke="#555" stroke-width="0.8" opacity="0.35"/>
<ellipse cx="179.5" cy="123.3" rx="3.8" ry="3.3" transform="rotate(85 179.5 123.3)" fill="none" stroke="#555" stroke-width="0.8" opacity="0.35"/>
<ellipse cx="186.8" cy="124.0" rx="2.8" ry="2.4" transform="rotate(43 186.8 124.0)" fill="none" stroke="#555" stroke-width="0.8" opacity="0.35"/>
<ellipse cx="191.9" cy="123.4" rx="2.6" ry="2.3" transform="rotate(95 191.9 123.4)" fill="none" stroke="#555" stroke-width="0.8" opacity="0.35"/>
<ellipse cx="34.7" cy="130.9" rx="3.1" ry="2.8" transform="rotate(42 34.7 130.9)" fill="none" stroke="#555" stroke-width="0.8" opacity="0.35"/>
<ellipse cx="39.7" cy="131.9" rx="2.7" ry="2.4" transform="rotate(123 39.7 131.9)" fill="none" stroke="#555" stroke-width="0.8" opacity="0.35"/>
<ellipse cx="47.1" cy="130.6" rx="3.5" ry="2.7" transform="rotate(162 47.1 130.6)" fill="none" stroke="#555" stroke-width="0.8" opacity="0.35"/>
<ellipse cx="51.9" cy="130.6" rx="4.0" ry="3.4" transform="rotate(34 51.9 130.6)" fill="none" stroke="#555" stroke-width="0.8" opacity="0.35"/>
<ellipse cx="60.1" cy="129.0" rx="2.7" ry="2.3" transform="rotate(49 60.1 129.0)" fill="none" stroke="#555" stroke-width="0.8" opacity="0.35"/>
<ellipse cx="66.5" cy="131.2" rx="3.0" ry="2.4" transform="rotate(117 66.5 131.2)" fill="none" stroke="#555" stroke-width="0.8" opacity="0.35"/>
<ellipse cx="72.9" cy="130.3" rx="3.1" ry="3.1" transform="rotate(85 72.9 130.3)" fill="none" stroke="#555" stroke-width="0.8" opacity="0.35"/>
<ellipse cx="80.2" cy="131.7" rx="2.6" ry="2.5" transform="rotate(48 80.2 131.7)" fill="none" stroke="#555" stroke-width="0.8" opacity="0.35"/>
<ellipse cx="85.9" cy="130.2" rx="2.7" ry="2.4" transform="rotate(103 85.9 130.2)" fill="none" stroke="#555" stroke-width="0.8" opacity="0.35"/>
<ellipse cx="92.5" cy="130.1" rx="3.5" ry="2.9" transform="rotate(111 92.5 130.1)" fill="none" stroke="#555" stroke-width="0.8" opacity="0.35"/>
<ellipse cx="96.8" cy="131.1" rx="2.7" ry="2.6" transform="rotate(85 96.8 131.1)" fill="none" stroke="#555" stroke-width="0.8" opacity="0.35"/>
<ellipse cx="103.2" cy="129.1" rx="3.1" ry="2.7" transform="rotate(19 103.2 129.1)" fill="none" stroke="#555" stroke-width="0.8" opacity="0.35"/>
<ellipse cx="112.7" cy="131.6" rx="3.2" ry="2.7" transform="rotate(57 112.7 131.6)" fill="none" stroke="#555" stroke-width="0.8" opacity="0.35"/>
<ellipse cx="119.3" cy="129.2" rx="3.0" ry="2.8" transform="rotate(156 119.3 129.2)" fill="none" stroke="#555" stroke-width="0.8" opacity="0.35"/>
<ellipse cx="124.3" cy="130.2" rx="3.1" ry="2.4" transform="rotate(46 124.3 130.2)" fill="none" stroke="#555" stroke-width="0.8" opacity="0.35"/>
<ellipse cx="131.7" cy="131.1" rx="3.2" ry="2.9" transform="rotate(79 131.7 131.1)" fill="none" stroke="#555" stroke-width="0.8" opacity="0.35"/>
<ellipse cx="137.1" cy="129.8" rx="3.4" ry="3.1" transform="rotate(55 137.1 129.8)" fill="none" stroke="#555" stroke-width="0.8" opacity="0.35"/>
<ellipse cx="144.6" cy="130.3" rx="3.2" ry="2.5" transform="rotate(82 144.6 130.3)" fill="none" stroke="#555" stroke-width="0.8" opacity="0.35"/>
<ellipse cx="149.8" cy="131.7" rx="4.0" ry="3.2" transform="rotate(72 149.8 131.7)" fill="none" stroke="#555" stroke-width="0.8" opacity="0.35"/>
<ellipse cx="157.3" cy="131.2" rx="2.9" ry="2.4" transform="rotate(171 157.3 131.2)" fill="none" stroke="#555" stroke-width="0.8" opacity="0.35"/>
<ellipse cx="163.8" cy="131.0" rx="3.2" ry="2.6" transform="rotate(41 163.8 131.0)" fill="none" stroke="#555" stroke-width="0.8" opacity="0.35"/>
<ellipse cx="170.6" cy="130.6" rx="4.0" ry="3.6" transform="rotate(128 170.6 130.6)" fill="none" stroke="#555" stroke-width="0.8" opacity="0.35"/>
<ellipse cx="174.7" cy="130.2" rx="3.6" ry="3.4" transform="rotate(110 174.7 130.2)" fill="none" stroke="#555" stroke-width="0.8" opacity="0.35"/>
<ellipse cx="181.8" cy="130.1" rx="4.0" ry="3.8" transform="rotate(164 181.8 130.1)" fill="none" stroke="#555" stroke-width="0.8" opacity="0.35"/>
<ellipse cx="187.8" cy="130.7" rx="3.7" ry="3.0" transform="rotate(70 187.8 130.7)" fill="none" stroke="#555" stroke-width="0.8" opacity="0.35"/>
<ellipse cx="196.0" cy="131.1" rx="3.6" ry="3.0" transform="rotate(104 196.0 131.1)" fill="none" stroke="#555" stroke-width="0.8" opacity="0.35"/>
<ellipse cx="29.2" cy="136.8" rx="3.3" ry="2.9" transform="rotate(178 29.2 136.8)" fill="none" stroke="#555" stroke-width="0.8" opacity="0.35"/>
<ellipse cx="35.3" cy="137.0" rx="3.0" ry="2.5" transform="rotate(171 35.3 137.0)" fill="none" stroke="#555" stroke-width="0.8" opacity="0.35"/>
<ellipse cx="42.3" cy="136.3" rx="3.3" ry="2.9" transform="rotate(30 42.3 136.3)" fill="none" stroke="#555" stroke-width="0.8" opacity="0.35"/>
<ellipse cx="49.9" cy="137.4" rx="3.5" ry="3.2" transform="rotate(145 49.9 137.4)" fill="none" stroke="#555" stroke-width="0.8" opacity="0.35"/>
<ellipse cx="55.7" cy="134.9" rx="3.4" ry="3.0" transform="rotate(95 55.7 134.9)" fill="none" stroke="#555" stroke-width="0.8" opacity="0.35"/>
<ellipse cx="64.1" cy="136.3" rx="3.9" ry="3.6" transform="rotate(137 64.1 136.3)" fill="none" stroke="#555" stroke-width="0.8" opacity="0.35"/>
<ellipse cx="67.6" cy="135.5" rx="3.5" ry="2.9" transform="rotate(149 67.6 135.5)" fill="none" stroke="#555" stroke-width="0.8" opacity="0.35"/>
<ellipse cx="75.1" cy="135.4" rx="3.0" ry="2.6" transform="rotate(4 75.1 135.4)" fill="none" stroke="#555" stroke-width="0.8" opacity="0.35"/>
<ellipse cx="81.6" cy="136.6" rx="2.7" ry="2.5" transform="rotate(157 81.6 136.6)" fill="none" stroke="#555" stroke-width="0.8" opacity="0.35"/>
<ellipse cx="89.9" cy="135.3" rx="2.8" ry="2.7" transform="rotate(15 89.9 135.3)" fill="none" stroke="#555" stroke-width="0.8" opacity="0.35"/>
<ellipse cx="96.0" cy="136.9" rx="2.9" ry="2.5" transform="rotate(125 96.0 136.9)" fill="none" stroke="#555" stroke-width="0.8" opacity="0.35"/>
<ellipse cx="100.0" cy="137.1" rx="3.8" ry="3.6" transform="rotate(127 100.0 137.1)" fill="none" stroke="#555" stroke-width="0.8" opacity="0.35"/>
<ellipse cx="108.6" cy="135.6" rx="3.8" ry="3.6" transform="rotate(85 108.6 135.6)" fill="none" stroke="#555" stroke-width="0.8" opacity="0.35"/>
<ellipse cx="113.9" cy="135.9" rx="3.7" ry="3.2" transform="rotate(110 113.9 135.9)" fill="none" stroke="#555" stroke-width="0.8" opacity="0.35"/>
<ellipse cx="122.6" cy="135.2" rx="2.8" ry="2.4" transform="rotate(27 122.6 135.2)" fill="none" stroke="#555" stroke-width="0.8" opacity="0.35"/>
<ellipse cx="129.0" cy="135.6" rx="3.2" ry="2.8" transform="rotate(149 129.0 135.6)" fill="none" stroke="#555" stroke-width="0.8" opacity="0.35"/>
<ellipse cx="135.3" cy="136.7" rx="2.8" ry="2.5" transform="rotate(127 135.3 136.7)" fill="none" stroke="#555" stroke-width="0.8" opacity="0.35"/>
<ellipse cx="139.6" cy="137.3" rx="3.8" ry="3.6" transform="rotate(66 139.6 137.3)" fill="none" stroke="#555" stroke-width="0.8" opacity="0.35"/>
<ellipse cx="146.1" cy="136.8" rx="2.6" ry="2.1" transform="rotate(11 146.1 136.8)" fill="none" stroke="#555" stroke-width="0.8" opacity="0.35"/>
<ellipse cx="154.6" cy="136.2" rx="3.4" ry="3.3" transform="rotate(8 154.6 136.2)" fill="none" stroke="#555" stroke-width="0.8" opacity="0.35"/>
<ellipse cx="159.5" cy="137.7" rx="3.4" ry="2.7" transform="rotate(11 159.5 137.7)" fill="none" stroke="#555" stroke-width="0.8" opacity="0.35"/>
<ellipse cx="165.2" cy="134.5" rx="3.5" ry="3.4" transform="rotate(49 165.2 134.5)" fill="none" stroke="#555" stroke-width="0.8" opacity="0.35"/>
<ellipse cx="173.5" cy="136.7" rx="3.0" ry="2.6" transform="rotate(52 173.5 136.7)" fill="none" stroke="#555" stroke-width="0.8" opacity="0.35"/>
<ellipse cx="179.7" cy="135.6" rx="3.0" ry="2.8" transform="rotate(53 179.7 135.6)" fill="none" stroke="#555" stroke-width="0.8" opacity="0.35"/>
<ellipse cx="185.2" cy="134.5" rx="3.0" ry="2.5" transform="rotate(48 185.2 134.5)" fill="none" stroke="#555" stroke-width="0.8" opacity="0.35"/>
<ellipse cx="191.2" cy="137.2" rx="3.2" ry="2.8" transform="rotate(56 191.2 137.2)" fill="none" stroke="#555" stroke-width="0.8" opacity="0.35"/>
<ellipse cx="34.5" cy="142.6" rx="3.4" ry="2.9" transform="rotate(125 34.5 142.6)" fill="none" stroke="#555" stroke-width="0.8" opacity="0.35"/>
<ellipse cx="39.8" cy="141.5" rx="3.1" ry="2.7" transform="rotate(84 39.8 141.5)" fill="none" stroke="#555" stroke-width="0.8" opacity="0.35"/>
<ellipse cx="46.3" cy="141.9" rx="3.7" ry="2.9" transform="rotate(40 46.3 141.9)" fill="none" stroke="#555" stroke-width="0.8" opacity="0.35"/>
<ellipse cx="51.2" cy="141.1" rx="2.5" ry="2.1" transform="rotate(112 51.2 141.1)" fill="none" stroke="#555" stroke-width="0.8" opacity="0.35"/>
<ellipse cx="58.6" cy="140.8" rx="3.8" ry="3.0" transform="rotate(123 58.6 140.8)" fill="none" stroke="#555" stroke-width="0.8" opacity="0.35"/>
<ellipse cx="66.4" cy="142.5" rx="3.2" ry="2.8" transform="rotate(100 66.4 142.5)" fill="none" stroke="#555" stroke-width="0.8" opacity="0.35"/>
<ellipse cx="73.5" cy="143.4" rx="3.9" ry="3.1" transform="rotate(13 73.5 143.4)" fill="none" stroke="#555" stroke-width="0.8" opacity="0.35"/>
<ellipse cx="77.9" cy="143.3" rx="3.3" ry="2.9" transform="rotate(56 77.9 143.3)" fill="none" stroke="#555" stroke-width="0.8" opacity="0.35"/>
<ellipse cx="86.4" cy="141.8" rx="4.0" ry="3.9" transform="rotate(179 86.4 141.8)" fill="none" stroke="#555" stroke-width="0.8" opacity="0.35"/>
<ellipse cx="90.2" cy="140.6" rx="3.1" ry="2.6" transform="rotate(20 90.2 140.6)" fill="none" stroke="#555" stroke-width="0.8" opacity="0.35"/>
<ellipse cx="98.5" cy="143.2" rx="3.2" ry="2.6" transform="rotate(107 98.5 143.2)" fill="none" stroke="#555" stroke-width="0.8" opacity="0.35"/>
<ellipse cx="105.0" cy="140.7" rx="3.2" ry="2.5" transform="rotate(121 105.0 140.7)" fill="none" stroke="#555" stroke-width="0.8" opacity="0.35"/>
<ellipse cx="110.3" cy="141.6" rx="3.3" ry="3.0" transform="rotate(104 110.3 141.6)" fill="none" stroke="#555" stroke-width="0.8" opacity="0.35"/>
<ellipse cx="118.2" cy="140.2" rx="2.8" ry="2.4" transform="rotate(39 118.2 140.2)" fill="none" stroke="#555" stroke-width="0.8" opacity="0.35"/>
<ellipse cx="122.9" cy="142.6" rx="3.0" ry="2.3" transform="rotate(101 122.9 142.6)" fill="none" stroke="#555" stroke-width="0.8" opacity="0.35"/>
<ellipse cx="129.5" cy="142.2" rx="2.9" ry="2.3" transform="rotate(130 129.5 142.2)" fill="none" stroke="#555" stroke-width="0.8" opacity="0.35"/>
<ellipse cx="138.1" cy="140.3" rx="2.6" ry="2.1" transform="rotate(25 138.1 140.3)" fill="none" stroke="#555" stroke-width="0.8" opacity="0.35"/>
<ellipse cx="142.8" cy="140.2" rx="2.7" ry="2.4" transform="rotate(172 142.8 140.2)" fill="none" stroke="#555" stroke-width="0.8" opacity="0.35"/>
<ellipse cx="149.7" cy="141.0" rx="3.7" ry="3.5" transform="rotate(114 149.7 141.0)" fill="none" stroke="#555" stroke-width="0.8" opacity="0.35"/>
<ellipse cx="157.1" cy="143.2" rx="2.6" ry="2.2" transform="rotate(69 157.1 143.2)" fill="none" stroke="#555" stroke-width="0.8" opacity="0.35"/>
<ellipse cx="164.3" cy="140.9" rx="3.6" ry="3.4" transform="rotate(89 164.3 140.9)" fill="none" stroke="#555" stroke-width="0.8" opacity="0.35"/>
<ellipse cx="171.3" cy="140.9" rx="2.9" ry="2.3" transform="rotate(121 171.3 140.9)" fill="none" stroke="#555" stroke-width="0.8" opacity="0.35"/>
<ellipse cx="174.8" cy="140.7" rx="2.9" ry="2.6" transform="rotate(152 174.8 140.7)" fill="none" stroke="#555" stroke-width="0.8" opacity="0.35"/>
<ellipse cx="183.4" cy="143.3" rx="3.5" ry="2.9" transform="rotate(69 183.4 143.3)" fill="none" stroke="#555" stroke-width="0.8" opacity="0.35"/>
<ellipse cx="190.0" cy="141.7" rx="2.6" ry="2.3" transform="rotate(69 190.0 141.7)" fill="none" stroke="#555" stroke-width="0.8" opacity="0.35"/>
<ellipse cx="195.9" cy="140.3" rx="2.5" ry="2.0" transform="rotate(67 195.9 140.3)" fill="none" stroke="#555" stroke-width="0.8" opacity="0.35"/>
<ellipse cx="29.4" cy="146.3" rx="3.4" ry="2.7" transform="rotate(32 29.4 146.3)" fill="none" stroke="#555" stroke-width="0.8" opacity="0.35"/>
<ellipse cx="36.5" cy="147.4" rx="3.6" ry="3.1" transform="rotate(43 36.5 147.4)" fill="none" stroke="#555" stroke-width="0.8" opacity="0.35"/>
<ellipse cx="42.0" cy="148.1" rx="2.6" ry="2.1" transform="rotate(6 42.0 148.1)" fill="none" stroke="#555" stroke-width="0.8" opacity="0.35"/>
<ellipse cx="48.5" cy="147.3" rx="3.8" ry="3.2" transform="rotate(134 48.5 147.3)" fill="none" stroke="#555" stroke-width="0.8" opacity="0.35"/>
<ellipse cx="56.8" cy="148.1" rx="2.6" ry="2.1" transform="rotate(27 56.8 148.1)" fill="none" stroke="#555" stroke-width="0.8" opacity="0.35"/>
<ellipse cx="61.4" cy="145.9" rx="2.5" ry="2.0" transform="rotate(69 61.4 145.9)" fill="none" stroke="#555" stroke-width="0.8" opacity="0.35"/>
<ellipse cx="67.7" cy="145.9" rx="3.8" ry="3.2" transform="rotate(165 67.7 145.9)" fill="none" stroke="#555" stroke-width="0.8" opacity="0.35"/>
<ellipse cx="74.0" cy="146.2" rx="2.9" ry="2.8" transform="rotate(20 74.0 146.2)" fill="none" stroke="#555" stroke-width="0.8" opacity="0.35"/>
<ellipse cx="81.0" cy="147.9" rx="2.8" ry="2.6" transform="rotate(96 81.0 147.9)" fill="none" stroke="#555" stroke-width="0.8" opacity="0.35"/>
<ellipse cx="88.1" cy="146.3" rx="3.4" ry="2.9" transform="rotate(70 88.1 146.3)" fill="none" stroke="#555" stroke-width="0.8" opacity="0.35"/>
<ellipse cx="94.9" cy="145.9" rx="3.4" ry="3.2" transform="rotate(60 94.9 145.9)" fill="none" stroke="#555" stroke-width="0.8" opacity="0.35"/>
<ellipse cx="99.9" cy="148.7" rx="3.4" ry="3.0" transform="rotate(98 99.9 148.7)" fill="none" stroke="#555" stroke-width="0.8" opacity="0.35"/>
<ellipse cx="109.4" cy="146.2" rx="3.1" ry="2.5" transform="rotate(67 109.4 146.2)" fill="none" stroke="#555" stroke-width="0.8" opacity="0.35"/>
<ellipse cx="115.2" cy="148.7" rx="2.6" ry="2.4" transform="rotate(53 115.2 148.7)" fill="none" stroke="#555" stroke-width="0.8" opacity="0.35"/>
<ellipse cx="121.8" cy="148.3" rx="3.5" ry="2.8" transform="rotate(33 121.8 148.3)" fill="none" stroke="#555" stroke-width="0.8" opacity="0.35"/>
<ellipse cx="127.2" cy="148.6" rx="3.6" ry="3.5" transform="rotate(176 127.2 148.6)" fill="none" stroke="#555" stroke-width="0.8" opacity="0.35"/>
<ellipse cx="134.8" cy="148.6" rx="3.0" ry="2.6" transform="rotate(173 134.8 148.6)" fill="none" stroke="#555" stroke-width="0.8" opacity="0.35"/>
<ellipse cx="141.8" cy="147.7" rx="3.8" ry="3.0" transform="rotate(151 141.8 147.7)" fill="none" stroke="#555" stroke-width="0.8" opacity="0.35"/>
<ellipse cx="147.5" cy="148.9" rx="2.7" ry="2.4" transform="rotate(102 147.5 148.9)" fill="none" stroke="#555" stroke-width="0.8" opacity="0.35"/>
<ellipse cx="152.3" cy="148.3" rx="2.6" ry="2.2" transform="rotate(50 152.3 148.3)" fill="none" stroke="#555" stroke-width="0.8" opacity="0.35"/>
<ellipse cx="159.4" cy="147.8" rx="2.8" ry="2.5" transform="rotate(154 159.4 147.8)" fill="none" stroke="#555" stroke-width="0.8" opacity="0.35"/>
<ellipse cx="168.1" cy="146.6" rx="3.0" ry="2.5" transform="rotate(34 168.1 146.6)" fill="none" stroke="#555" stroke-width="0.8" opacity="0.35"/>
<ellipse cx="174.1" cy="146.4" rx="3.3" ry="3.0" transform="rotate(0 174.1 146.4)" fill="none" stroke="#555" stroke-width="0.8" opacity="0.35"/>
<ellipse cx="177.9" cy="145.8" rx="3.0" ry="2.8" transform="rotate(178 177.9 145.8)" fill="none" stroke="#555" stroke-width="0.8" opacity="0.35"/>
<ellipse cx="186.4" cy="146.0" rx="3.6" ry="3.3" transform="rotate(87 186.4 146.0)" fill="none" stroke="#555" stroke-width="0.8" opacity="0.35"/>
<ellipse cx="193.2" cy="148.6" rx="3.9" ry="3.5" transform="rotate(57 193.2 148.6)" fill="none" stroke="#555" stroke-width="0.8" opacity="0.35"/>
<ellipse cx="99.1" cy="69.7" rx="32" ry="31.3" fill="#e5e5e5" stroke="#6a6a6a" stroke-width="0.6" filter="url(#tDr)"/>
<ellipse cx="144.5" cy="51.9" rx="19" ry="19" fill="#e5e5e5" stroke="#6a6a6a" stroke-width="0.6" filter="url(#tDr)"/>
<ellipse cx="150.6" cy="109.5" rx="25.7" ry="24" fill="#e5e5e5" stroke="#6a6a6a" stroke-width="0.6" filter="url(#tDr)"/>
<ellipse cx="46.4" cy="72.7" rx="16.5" ry="23" fill="#e5e5e5" stroke="#6a6a6a" stroke-width="0.6" filter="url(#tDr)"/>
<ellipse cx="176.4" cy="81.3" rx="13.5" ry="13.5" fill="#e5e5e5" stroke="#6a6a6a" stroke-width="0.6" filter="url(#tDr)"/>
<ellipse cx="44" cy="134" rx="17" ry="13" fill="#e5e5e5" stroke="#6a6a6a" stroke-width="0.6" filter="url(#tDr)"/>
<ellipse cx="47.6" cy="108.3" rx="14" ry="11" fill="#e5e5e5" stroke="#6a6a6a" stroke-width="0.6" filter="url(#tDr)"/>
<ellipse cx="77" cy="114.4" rx="12.9" ry="10.4" fill="#e5e5e5" stroke="#6a6a6a" stroke-width="0.6" filter="url(#tDr)"/>
<ellipse cx="86.9" cy="134" rx="9.8" ry="9.8" fill="#e5e5e5" stroke="#6a6a6a" stroke-width="0.6" filter="url(#tDr)"/>
<ellipse cx="120" cy="139" rx="23" ry="12" fill="#e5e5e5" stroke="#6a6a6a" stroke-width="0.6" filter="url(#tDr)"/>
<ellipse cx="64.8" cy="22" rx="16" ry="6" fill="#e5e5e5" stroke="#6a6a6a" stroke-width="0.6" filter="url(#tDr)"/>
<ellipse cx="146" cy="29.8" rx="9" ry="7.5" fill="#e5e5e5" stroke="#6a6a6a" stroke-width="0.6" filter="url(#tDr)"/>
<ellipse cx="187" cy="115.6" rx="7" ry="19" fill="#e5e5e5" stroke="#6a6a6a" stroke-width="0.6" filter="url(#tDr)"/>
<ellipse cx="33" cy="32" rx="4" ry="9" fill="#e5e5e5" stroke="#6a6a6a" stroke-width="0.6" filter="url(#tDr)"/>
<ellipse cx="113" cy="24" rx="10" ry="4" fill="#e5e5e5" stroke="#6a6a6a" stroke-width="0.6" filter="url(#tDr)"/>
<ellipse cx="137.5" cy="87" rx="7" ry="6" fill="#e5e5e5" stroke="#6a6a6a" stroke-width="0.6" filter="url(#tDr)"/>
<ellipse cx="151" cy="24" rx="5" ry="3" fill="#e5e5e5" stroke="#6a6a6a" stroke-width="0.6" filter="url(#tDr)"/>
<ellipse cx="156" cy="142" rx="10" ry="5" fill="#e5e5e5" stroke="#6a6a6a" stroke-width="0.6" filter="url(#tDr)"/>
<ellipse cx="104" cy="115" rx="11" ry="5" fill="#c8c8c8"/>
<path d="M103,97 q10,-6 20,0 q3,8 -4,15 q-10,4 -16,-3 z" fill="#303030"/>
<circle cx="108" cy="103" r="2" fill="#0a0a0a"/><circle cx="116" cy="101" r="1.6" fill="#0a0a0a"/><circle cx="110" cy="109" r="1.8" fill="#0a0a0a"/>
<path d="M96,34 q6,-4 14,-1 q2,4 -3,6 q-7,2 -11,-5 z" fill="#353535"/>
<path d="M172,37 q5,-2 10,1 q1,3 -3,4 q-5,0 -7,-5 z" fill="#1e1e1e"/>
<ellipse cx="179" cy="55" rx="10" ry="3.5" transform="rotate(-22 179 55)" fill="#efefef"/>
<rect x="165.00" y="140.30" width="9.00" height="1.80" fill="#111"/>
<path d="M65,138 q5,-3 10,0 q2,5 -2,7 l-8,0 z" fill="#2a2a2a"/>
<rect x="30" y="23" width="163" height="122" fill="#808080" filter="url(#grain)" style="mix-blend-mode:soft-light" opacity="0.45"/>
</g>
<rect x="30.75" y="23.25" width="161.5" height="121" fill="none" stroke="#000" stroke-width="1.5"/>
<rect x="157" y="30.5" width="31.7" height="23.8" fill="none" stroke="#1a74c4" stroke-width="1.3"/>
<line x1="157.00" y1="54.30" x2="31.50" y2="143.50" stroke="#1a74c4" stroke-width="1.6" stroke-dasharray="6,3.3"/>
<line x1="188.70" y1="54.30" x2="191.50" y2="143.50" stroke="#1a74c4" stroke-width="1.6" stroke-dasharray="6,3.3"/>
<g clip-path="url(#c2)">
<rect x="196.00" y="23.00" width="163.00" height="122.00" fill="#8e8e8e" filter="url(#tA2)"/>
<circle cx="234.8" cy="89.4" r="1.2" fill="#f4f4f4" opacity="0.9"/>
<circle cx="345.3" cy="80.8" r="1.7" fill="#f4f4f4" opacity="0.9"/>
<circle cx="206.7" cy="24.6" r="1.4" fill="#f4f4f4" opacity="0.9"/>
<circle cx="238.3" cy="51.6" r="2.0" fill="#f4f4f4" opacity="0.9"/>
<circle cx="272.7" cy="125.0" r="1.4" fill="#f4f4f4" opacity="0.9"/>
<circle cx="260.7" cy="128.0" r="1.0" fill="#f4f4f4" opacity="0.9"/>
<circle cx="299.5" cy="128.9" r="1.7" fill="#f4f4f4" opacity="0.9"/>
<circle cx="259.6" cy="24.8" r="0.8" fill="#f4f4f4" opacity="0.9"/>
<circle cx="222.0" cy="139.8" r="0.8" fill="#f4f4f4" opacity="0.9"/>
<circle cx="245.1" cy="26.8" r="1.2" fill="#f4f4f4" opacity="0.9"/>
<circle cx="273.1" cy="110.7" r="1.4" fill="#f4f4f4" opacity="0.9"/>
<circle cx="312.4" cy="135.4" r="1.4" fill="#f4f4f4" opacity="0.9"/>
<circle cx="314.7" cy="93.4" r="1.0" fill="#f4f4f4" opacity="0.9"/>
<circle cx="339.3" cy="34.9" r="1.0" fill="#f4f4f4" opacity="0.9"/>
<circle cx="276.7" cy="54.5" r="2.0" fill="#f4f4f4" opacity="0.9"/>
<circle cx="267.1" cy="99.5" r="1.2" fill="#f4f4f4" opacity="0.9"/>
<circle cx="264.6" cy="124.7" r="1.7" fill="#f4f4f4" opacity="0.9"/>
<circle cx="253.2" cy="94.4" r="1.7" fill="#f4f4f4" opacity="0.9"/>
<circle cx="233.9" cy="64.1" r="0.8" fill="#f4f4f4" opacity="0.9"/>
<circle cx="335.6" cy="143.9" r="2.0" fill="#f4f4f4" opacity="0.9"/>
<circle cx="309.4" cy="108.2" r="1.2" fill="#f4f4f4" opacity="0.9"/>
<circle cx="353.2" cy="133.4" r="1.7" fill="#f4f4f4" opacity="0.9"/>
<circle cx="213.0" cy="103.0" r="2.0" fill="#f4f4f4" opacity="0.9"/>
<circle cx="331.6" cy="93.0" r="1.2" fill="#f4f4f4" opacity="0.9"/>
<circle cx="216.3" cy="81.8" r="2.0" fill="#f4f4f4" opacity="0.9"/>
<circle cx="357.3" cy="33.8" r="0.8" fill="#f4f4f4" opacity="0.9"/>
<circle cx="262.9" cy="41.4" r="1.2" fill="#f4f4f4" opacity="0.9"/>
<circle cx="265.6" cy="73.7" r="0.8" fill="#f4f4f4" opacity="0.9"/>
<circle cx="203.2" cy="98.0" r="0.8" fill="#f4f4f4" opacity="0.9"/>
<circle cx="257.6" cy="94.5" r="1.7" fill="#f4f4f4" opacity="0.9"/>
<circle cx="339.6" cy="142.6" r="1.7" fill="#f4f4f4" opacity="0.9"/>
<circle cx="234.5" cy="27.4" r="0.8" fill="#f4f4f4" opacity="0.9"/>
<circle cx="208.5" cy="96.2" r="0.8" fill="#f4f4f4" opacity="0.9"/>
<circle cx="350.7" cy="141.5" r="1.2" fill="#f4f4f4" opacity="0.9"/>
<circle cx="295.5" cy="42.1" r="0.8" fill="#f4f4f4" opacity="0.9"/>
<circle cx="355.7" cy="64.5" r="1.2" fill="#f4f4f4" opacity="0.9"/>
<circle cx="352.3" cy="132.4" r="1.4" fill="#f4f4f4" opacity="0.9"/>
<circle cx="257.4" cy="129.1" r="1.4" fill="#f4f4f4" opacity="0.9"/>
<circle cx="301.0" cy="95.7" r="1.7" fill="#f4f4f4" opacity="0.9"/>
<circle cx="212.7" cy="141.7" r="1.7" fill="#f4f4f4" opacity="0.9"/>
<circle cx="240.2" cy="100.4" r="2.0" fill="#f4f4f4" opacity="0.9"/>
<circle cx="234.7" cy="59.7" r="1.2" fill="#f4f4f4" opacity="0.9"/>
<circle cx="280.9" cy="89.9" r="0.8" fill="#f4f4f4" opacity="0.9"/>
<circle cx="324.5" cy="143.5" r="1.2" fill="#f4f4f4" opacity="0.9"/>
<circle cx="199.3" cy="98.1" r="2.0" fill="#f4f4f4" opacity="0.9"/>
<circle cx="217.7" cy="100.3" r="1.2" fill="#f4f4f4" opacity="0.9"/>
<circle cx="272.0" cy="105.9" r="1.2" fill="#f4f4f4" opacity="0.9"/>
<circle cx="295.2" cy="57.0" r="1.4" fill="#f4f4f4" opacity="0.9"/>
<circle cx="199.6" cy="30.4" r="2.0" fill="#f4f4f4" opacity="0.9"/>
<circle cx="199.5" cy="68.0" r="2.0" fill="#f4f4f4" opacity="0.9"/>
<circle cx="270.4" cy="95.3" r="1.2" fill="#f4f4f4" opacity="0.9"/>
<circle cx="224.9" cy="45.6" r="1.2" fill="#f4f4f4" opacity="0.9"/>
<circle cx="333.5" cy="55.2" r="1.4" fill="#f4f4f4" opacity="0.9"/>
<circle cx="213.1" cy="122.2" r="1.7" fill="#f4f4f4" opacity="0.9"/>
<circle cx="307.4" cy="39.0" r="1.7" fill="#f4f4f4" opacity="0.9"/>
<circle cx="232.3" cy="121.1" r="1.0" fill="#f4f4f4" opacity="0.9"/>
<circle cx="249.4" cy="105.7" r="2.0" fill="#f4f4f4" opacity="0.9"/>
<circle cx="309.8" cy="35.4" r="1.2" fill="#f4f4f4" opacity="0.9"/>
<circle cx="350.7" cy="105.3" r="1.0" fill="#f4f4f4" opacity="0.9"/>
<circle cx="267.5" cy="127.4" r="1.0" fill="#f4f4f4" opacity="0.9"/>
<circle cx="209.0" cy="113.5" r="1.0" fill="#f4f4f4" opacity="0.9"/>
<circle cx="340.2" cy="78.0" r="1.0" fill="#f4f4f4" opacity="0.9"/>
<circle cx="324.3" cy="27.1" r="1.0" fill="#f4f4f4" opacity="0.9"/>
<circle cx="247.4" cy="125.0" r="1.7" fill="#f4f4f4" opacity="0.9"/>
<circle cx="225.9" cy="57.0" r="2.0" fill="#f4f4f4" opacity="0.9"/>
<circle cx="209.9" cy="98.6" r="1.7" fill="#f4f4f4" opacity="0.9"/>
<circle cx="217.1" cy="58.6" r="1.2" fill="#f4f4f4" opacity="0.9"/>
<circle cx="271.7" cy="100.4" r="1.2" fill="#f4f4f4" opacity="0.9"/>
<circle cx="264.4" cy="73.0" r="1.4" fill="#f4f4f4" opacity="0.9"/>
<circle cx="221.4" cy="23.6" r="1.7" fill="#f4f4f4" opacity="0.9"/>
<circle cx="356.9" cy="76.0" r="2.0" fill="#f4f4f4" opacity="0.9"/>
<circle cx="232.2" cy="114.0" r="2.0" fill="#f4f4f4" opacity="0.9"/>
<circle cx="317.9" cy="140.5" r="1.7" fill="#f4f4f4" opacity="0.9"/>
<circle cx="251.6" cy="50.8" r="0.8" fill="#f4f4f4" opacity="0.9"/>
<circle cx="335.9" cy="141.5" r="0.8" fill="#f4f4f4" opacity="0.9"/>
<circle cx="328.1" cy="28.5" r="2.0" fill="#f4f4f4" opacity="0.9"/>
<circle cx="279.5" cy="47.2" r="1.4" fill="#f4f4f4" opacity="0.9"/>
<circle cx="290.0" cy="24.6" r="2.0" fill="#f4f4f4" opacity="0.9"/>
<circle cx="215.7" cy="84.4" r="1.0" fill="#f4f4f4" opacity="0.9"/>
<circle cx="304.1" cy="87.0" r="1.4" fill="#f4f4f4" opacity="0.9"/>
<circle cx="204.7" cy="134.4" r="0.8" fill="#f4f4f4" opacity="0.9"/>
<circle cx="251.6" cy="53.8" r="1.7" fill="#f4f4f4" opacity="0.9"/>
<circle cx="273.8" cy="118.4" r="1.2" fill="#f4f4f4" opacity="0.9"/>
<circle cx="232.0" cy="37.9" r="0.8" fill="#f4f4f4" opacity="0.9"/>
<circle cx="223.9" cy="119.6" r="1.0" fill="#f4f4f4" opacity="0.9"/>
<circle cx="330.2" cy="23.9" r="2.0" fill="#f4f4f4" opacity="0.9"/>
<circle cx="289.1" cy="71.8" r="1.2" fill="#f4f4f4" opacity="0.9"/>
<circle cx="236.5" cy="98.4" r="1.7" fill="#f4f4f4" opacity="0.9"/>
<circle cx="264.9" cy="80.7" r="0.8" fill="#f4f4f4" opacity="0.9"/>
<circle cx="335.7" cy="117.6" r="0.8" fill="#f4f4f4" opacity="0.9"/>
<circle cx="216.3" cy="31.3" r="0.8" fill="#f4f4f4" opacity="0.9"/>
<circle cx="335.3" cy="33.5" r="1.7" fill="#f4f4f4" opacity="0.9"/>
<circle cx="275.9" cy="42.2" r="0.8" fill="#f4f4f4" opacity="0.9"/>
<circle cx="253.3" cy="101.9" r="1.7" fill="#f4f4f4" opacity="0.9"/>
<circle cx="245.6" cy="55.3" r="1.2" fill="#f4f4f4" opacity="0.9"/>
<circle cx="265.9" cy="38.6" r="0.8" fill="#f4f4f4" opacity="0.9"/>
<circle cx="312.7" cy="69.4" r="0.8" fill="#f4f4f4" opacity="0.9"/>
<circle cx="288.4" cy="28.2" r="1.4" fill="#f4f4f4" opacity="0.9"/>
<circle cx="294.5" cy="118.5" r="1.4" fill="#f4f4f4" opacity="0.9"/>
<circle cx="299.8" cy="28.3" r="1.4" fill="#f4f4f4" opacity="0.9"/>
<circle cx="204.6" cy="99.5" r="2.0" fill="#f4f4f4" opacity="0.9"/>
<circle cx="247.3" cy="138.9" r="1.4" fill="#f4f4f4" opacity="0.9"/>
<circle cx="271.1" cy="52.9" r="1.7" fill="#f4f4f4" opacity="0.9"/>
<circle cx="240.0" cy="95.0" r="1.4" fill="#f4f4f4" opacity="0.9"/>
<circle cx="232.6" cy="38.9" r="0.8" fill="#f4f4f4" opacity="0.9"/>
<circle cx="348.6" cy="68.7" r="1.7" fill="#f4f4f4" opacity="0.9"/>
<circle cx="324.9" cy="55.0" r="1.4" fill="#f4f4f4" opacity="0.9"/>
<circle cx="308.6" cy="137.6" r="2.0" fill="#f4f4f4" opacity="0.9"/>
<circle cx="304.0" cy="131.3" r="1.4" fill="#f4f4f4" opacity="0.9"/>
<circle cx="304.8" cy="112.5" r="1.7" fill="#f4f4f4" opacity="0.9"/>
<circle cx="282.7" cy="122.0" r="2.0" fill="#f4f4f4" opacity="0.9"/>
<circle cx="196.8" cy="40.5" r="1.4" fill="#f4f4f4" opacity="0.9"/>
<circle cx="203.2" cy="34.2" r="0.8" fill="#f4f4f4" opacity="0.9"/>
<circle cx="303.5" cy="68.8" r="0.8" fill="#f4f4f4" opacity="0.9"/>
<circle cx="251.7" cy="127.0" r="0.8" fill="#f4f4f4" opacity="0.9"/>
<circle cx="333.6" cy="105.2" r="2.0" fill="#f4f4f4" opacity="0.9"/>
<circle cx="351.2" cy="93.6" r="0.8" fill="#f4f4f4" opacity="0.9"/>
<circle cx="201.9" cy="116.6" r="1.7" fill="#f4f4f4" opacity="0.9"/>
<circle cx="282.2" cy="52.1" r="1.7" fill="#f4f4f4" opacity="0.9"/>
<circle cx="318.1" cy="137.0" r="0.8" fill="#f4f4f4" opacity="0.9"/>
<circle cx="285.7" cy="129.1" r="1.0" fill="#f4f4f4" opacity="0.9"/>
<circle cx="331.0" cy="52.5" r="1.0" fill="#f4f4f4" opacity="0.9"/>
<circle cx="301.3" cy="78.4" r="2.0" fill="#f4f4f4" opacity="0.9"/>
<circle cx="318.8" cy="71.0" r="1.2" fill="#f4f4f4" opacity="0.9"/>
<circle cx="293.7" cy="137.5" r="1.7" fill="#f4f4f4" opacity="0.9"/>
<circle cx="264.2" cy="33.2" r="1.7" fill="#f4f4f4" opacity="0.9"/>
<circle cx="234.3" cy="136.4" r="2.0" fill="#f4f4f4" opacity="0.9"/>
<circle cx="353.6" cy="73.7" r="1.7" fill="#f4f4f4" opacity="0.9"/>
<circle cx="319.2" cy="105.2" r="1.7" fill="#f4f4f4" opacity="0.9"/>
<circle cx="307.7" cy="42.1" r="1.4" fill="#f4f4f4" opacity="0.9"/>
<circle cx="342.3" cy="41.2" r="0.8" fill="#f4f4f4" opacity="0.9"/>
<circle cx="277.2" cy="82.0" r="2.0" fill="#f4f4f4" opacity="0.9"/>
<circle cx="280.3" cy="77.1" r="2.0" fill="#f4f4f4" opacity="0.9"/>
<circle cx="335.9" cy="39.6" r="1.0" fill="#f4f4f4" opacity="0.9"/>
<circle cx="219.9" cy="85.9" r="1.0" fill="#f4f4f4" opacity="0.9"/>
<circle cx="334.8" cy="88.6" r="1.2" fill="#f4f4f4" opacity="0.9"/>
<circle cx="305.4" cy="127.3" r="1.7" fill="#f4f4f4" opacity="0.9"/>
<circle cx="335.1" cy="94.3" r="1.2" fill="#f4f4f4" opacity="0.9"/>
<circle cx="341.0" cy="60.5" r="1.2" fill="#f4f4f4" opacity="0.9"/>
<circle cx="274.2" cy="69.7" r="1.0" fill="#f4f4f4" opacity="0.9"/>
<circle cx="288.9" cy="52.1" r="1.4" fill="#f4f4f4" opacity="0.9"/>
<circle cx="322.2" cy="40.5" r="2.0" fill="#f4f4f4" opacity="0.9"/>
<circle cx="274.2" cy="96.1" r="1.4" fill="#f4f4f4" opacity="0.9"/>
<circle cx="290.6" cy="133.0" r="2.0" fill="#f4f4f4" opacity="0.9"/>
<circle cx="286.8" cy="81.7" r="2.0" fill="#f4f4f4" opacity="0.9"/>
<circle cx="207.8" cy="138.6" r="2.0" fill="#f4f4f4" opacity="0.9"/>
<circle cx="339.7" cy="28.6" r="1.0" fill="#f4f4f4" opacity="0.9"/>
<circle cx="341.2" cy="102.1" r="2.0" fill="#f4f4f4" opacity="0.9"/>
<circle cx="207.3" cy="49.5" r="1.2" fill="#f4f4f4" opacity="0.9"/>
<circle cx="235.5" cy="46.1" r="1.2" fill="#f4f4f4" opacity="0.9"/>
<circle cx="218.4" cy="98.9" r="2.0" fill="#f4f4f4" opacity="0.9"/>
<circle cx="336.0" cy="132.8" r="1.2" fill="#f4f4f4" opacity="0.9"/>
<circle cx="223.7" cy="28.5" r="1.0" fill="#f4f4f4" opacity="0.9"/>
<circle cx="265.0" cy="111.9" r="0.8" fill="#f4f4f4" opacity="0.9"/>
<circle cx="215.2" cy="55.2" r="1.2" fill="#f4f4f4" opacity="0.9"/>
<circle cx="201.9" cy="78.2" r="2.0" fill="#f4f4f4" opacity="0.9"/>
<circle cx="306.1" cy="23.8" r="1.2" fill="#f4f4f4" opacity="0.9"/>
<circle cx="250.0" cy="69.3" r="0.8" fill="#f4f4f4" opacity="0.9"/>
<circle cx="230.2" cy="94.4" r="1.4" fill="#f4f4f4" opacity="0.9"/>
<circle cx="259.7" cy="89.4" r="0.8" fill="#f4f4f4" opacity="0.9"/>
<circle cx="340.0" cy="32.3" r="1.4" fill="#f4f4f4" opacity="0.9"/>
<circle cx="214.3" cy="131.2" r="1.2" fill="#f4f4f4" opacity="0.9"/>
<circle cx="211.8" cy="137.8" r="1.2" fill="#f4f4f4" opacity="0.9"/>
<circle cx="306.6" cy="67.9" r="1.4" fill="#f4f4f4" opacity="0.9"/>
<circle cx="244.2" cy="105.5" r="2.0" fill="#f4f4f4" opacity="0.9"/>
<circle cx="349.9" cy="122.7" r="0.8" fill="#f4f4f4" opacity="0.9"/>
<circle cx="318.9" cy="140.3" r="2.0" fill="#f4f4f4" opacity="0.9"/>
<circle cx="288.3" cy="87.1" r="2.0" fill="#f4f4f4" opacity="0.9"/>
<circle cx="276.5" cy="66.0" r="2.0" fill="#f4f4f4" opacity="0.9"/>
<circle cx="244.0" cy="111.8" r="2.0" fill="#f4f4f4" opacity="0.9"/>
<circle cx="225.7" cy="101.8" r="2.0" fill="#f4f4f4" opacity="0.9"/>
<circle cx="220.4" cy="68.2" r="2.0" fill="#f4f4f4" opacity="0.9"/>
<circle cx="270.0" cy="36.2" r="1.7" fill="#f4f4f4" opacity="0.9"/>
<circle cx="219.0" cy="63.4" r="2.0" fill="#f4f4f4" opacity="0.9"/>
<circle cx="301.9" cy="74.3" r="1.2" fill="#f4f4f4" opacity="0.9"/>
<circle cx="301.5" cy="78.8" r="1.2" fill="#f4f4f4" opacity="0.9"/>
<circle cx="323.5" cy="109.1" r="0.8" fill="#f4f4f4" opacity="0.9"/>
<circle cx="312.7" cy="115.0" r="1.7" fill="#f4f4f4" opacity="0.9"/>
<circle cx="289.9" cy="70.8" r="0.8" fill="#f4f4f4" opacity="0.9"/>
<circle cx="239.3" cy="69.8" r="1.0" fill="#f4f4f4" opacity="0.9"/>
<circle cx="202.9" cy="84.6" r="1.0" fill="#f4f4f4" opacity="0.9"/>
<circle cx="309.4" cy="85.8" r="1.2" fill="#f4f4f4" opacity="0.9"/>
<circle cx="350.0" cy="77.7" r="0.8" fill="#f4f4f4" opacity="0.9"/>
<circle cx="253.5" cy="126.3" r="0.8" fill="#f4f4f4" opacity="0.9"/>
<circle cx="220.7" cy="95.0" r="2.0" fill="#f4f4f4" opacity="0.9"/>
<circle cx="214.4" cy="118.0" r="2.0" fill="#f4f4f4" opacity="0.9"/>
<circle cx="214.3" cy="108.2" r="1.7" fill="#f4f4f4" opacity="0.9"/>
<circle cx="263.9" cy="113.7" r="2.0" fill="#f4f4f4" opacity="0.9"/>
<circle cx="216.9" cy="97.2" r="1.4" fill="#f4f4f4" opacity="0.9"/>
<circle cx="326.1" cy="89.5" r="1.0" fill="#f4f4f4" opacity="0.9"/>
<circle cx="288.6" cy="47.7" r="1.2" fill="#f4f4f4" opacity="0.9"/>
<circle cx="256.2" cy="58.7" r="1.4" fill="#f4f4f4" opacity="0.9"/>
<circle cx="341.3" cy="138.8" r="1.4" fill="#f4f4f4" opacity="0.9"/>
<circle cx="247.5" cy="133.6" r="1.2" fill="#f4f4f4" opacity="0.9"/>
<circle cx="299.3" cy="142.2" r="2.0" fill="#f4f4f4" opacity="0.9"/>
<circle cx="311.2" cy="132.3" r="2.0" fill="#f4f4f4" opacity="0.9"/>
<circle cx="274.9" cy="96.4" r="2.0" fill="#f4f4f4" opacity="0.9"/>
<circle cx="299.3" cy="36.1" r="2.0" fill="#f4f4f4" opacity="0.9"/>
<circle cx="234.1" cy="44.1" r="2.0" fill="#f4f4f4" opacity="0.9"/>
<circle cx="271.1" cy="46.6" r="1.7" fill="#f4f4f4" opacity="0.9"/>
<circle cx="230.5" cy="122.2" r="2.0" fill="#f4f4f4" opacity="0.9"/>
<circle cx="350.3" cy="36.6" r="1.2" fill="#f4f4f4" opacity="0.9"/>
<circle cx="352.3" cy="131.8" r="1.0" fill="#f4f4f4" opacity="0.9"/>
<circle cx="272.2" cy="33.8" r="0.8" fill="#f4f4f4" opacity="0.9"/>
<circle cx="200.2" cy="98.4" r="1.7" fill="#f4f4f4" opacity="0.9"/>
<circle cx="208.7" cy="88.7" r="1.2" fill="#f4f4f4" opacity="0.9"/>
<circle cx="248.7" cy="129.2" r="2.0" fill="#f4f4f4" opacity="0.9"/>
<circle cx="309.0" cy="32.8" r="1.7" fill="#f4f4f4" opacity="0.9"/>
<circle cx="322.4" cy="27.1" r="0.8" fill="#f4f4f4" opacity="0.9"/>
<circle cx="316.6" cy="64.9" r="1.0" fill="#f4f4f4" opacity="0.9"/>
<circle cx="347.9" cy="128.1" r="1.4" fill="#f4f4f4" opacity="0.9"/>
<circle cx="309.9" cy="49.9" r="1.2" fill="#f4f4f4" opacity="0.9"/>
<circle cx="213.8" cy="28.2" r="0.8" fill="#f4f4f4" opacity="0.9"/>
<circle cx="333.8" cy="109.1" r="1.4" fill="#f4f4f4" opacity="0.9"/>
<circle cx="277.0" cy="108.3" r="1.7" fill="#f4f4f4" opacity="0.9"/>
<circle cx="334.8" cy="48.4" r="1.4" fill="#f4f4f4" opacity="0.9"/>
<circle cx="245.7" cy="79.7" r="2.0" fill="#f4f4f4" opacity="0.9"/>
<circle cx="261.4" cy="45.0" r="0.8" fill="#f4f4f4" opacity="0.9"/>
<circle cx="313.3" cy="67.8" r="1.2" fill="#f4f4f4" opacity="0.9"/>
<circle cx="269.0" cy="67.1" r="1.4" fill="#f4f4f4" opacity="0.9"/>
<circle cx="232.5" cy="23.3" r="1.0" fill="#f4f4f4" opacity="0.9"/>
<circle cx="238.2" cy="68.1" r="1.4" fill="#f4f4f4" opacity="0.9"/>
<circle cx="283.0" cy="42.4" r="0.8" fill="#f4f4f4" opacity="0.9"/>
<circle cx="223.8" cy="72.3" r="1.0" fill="#f4f4f4" opacity="0.9"/>
<circle cx="299.8" cy="40.0" r="1.7" fill="#f4f4f4" opacity="0.9"/>
<circle cx="223.4" cy="82.8" r="0.8" fill="#f4f4f4" opacity="0.9"/>
<circle cx="333.2" cy="72.2" r="1.2" fill="#f4f4f4" opacity="0.9"/>
<circle cx="262.5" cy="108.8" r="0.8" fill="#f4f4f4" opacity="0.9"/>
<circle cx="235.0" cy="27.8" r="1.4" fill="#f4f4f4" opacity="0.9"/>
<circle cx="200.3" cy="140.8" r="1.0" fill="#f4f4f4" opacity="0.9"/>
<circle cx="235.4" cy="70.5" r="1.0" fill="#f4f4f4" opacity="0.9"/>
<circle cx="222.9" cy="98.9" r="1.2" fill="#f4f4f4" opacity="0.9"/>
<circle cx="344.8" cy="95.5" r="2.0" fill="#f4f4f4" opacity="0.9"/>
<circle cx="243.4" cy="142.7" r="1.4" fill="#f4f4f4" opacity="0.9"/>
<circle cx="324.7" cy="140.3" r="1.4" fill="#f4f4f4" opacity="0.9"/>
<circle cx="236.7" cy="55.4" r="1.2" fill="#f4f4f4" opacity="0.9"/>
<circle cx="298.5" cy="65.1" r="0.8" fill="#f4f4f4" opacity="0.9"/>
<circle cx="205.2" cy="76.1" r="0.8" fill="#f4f4f4" opacity="0.9"/>
<circle cx="292.5" cy="23.4" r="0.8" fill="#f4f4f4" opacity="0.9"/>
<circle cx="307.0" cy="25.3" r="1.7" fill="#f4f4f4" opacity="0.9"/>
<circle cx="202.0" cy="29.6" r="2.0" fill="#f4f4f4" opacity="0.9"/>
<circle cx="279.1" cy="63.4" r="1.4" fill="#f4f4f4" opacity="0.9"/>
<circle cx="251.4" cy="81.4" r="1.2" fill="#f4f4f4" opacity="0.9"/>
<circle cx="349.2" cy="27.2" r="1.2" fill="#f4f4f4" opacity="0.9"/>
<circle cx="318.5" cy="100.0" r="1.4" fill="#f4f4f4" opacity="0.9"/>
<circle cx="210.3" cy="58.8" r="1.4" fill="#f4f4f4" opacity="0.9"/>
<circle cx="214.7" cy="70.6" r="1.2" fill="#f4f4f4" opacity="0.9"/>
<circle cx="283.5" cy="118.0" r="1.4" fill="#f4f4f4" opacity="0.9"/>
<circle cx="224.5" cy="113.3" r="2.0" fill="#f4f4f4" opacity="0.9"/>
<circle cx="258.9" cy="137.4" r="1.2" fill="#f4f4f4" opacity="0.9"/>
<circle cx="346.5" cy="67.3" r="1.4" fill="#f4f4f4" opacity="0.9"/>
<circle cx="267.5" cy="77.2" r="2.0" fill="#f4f4f4" opacity="0.9"/>
<circle cx="274.3" cy="55.9" r="1.0" fill="#f4f4f4" opacity="0.9"/>
<circle cx="278.6" cy="114.8" r="2.0" fill="#f4f4f4" opacity="0.9"/>
<circle cx="309.6" cy="138.8" r="0.8" fill="#f4f4f4" opacity="0.9"/>
<circle cx="221.1" cy="109.7" r="0.8" fill="#f4f4f4" opacity="0.9"/>
<circle cx="330.1" cy="34.2" r="2.0" fill="#f4f4f4" opacity="0.9"/>
<circle cx="306.4" cy="34.8" r="1.0" fill="#f4f4f4" opacity="0.9"/>
<circle cx="293.9" cy="120.8" r="0.8" fill="#f4f4f4" opacity="0.9"/>
<circle cx="339.2" cy="129.4" r="1.4" fill="#f4f4f4" opacity="0.9"/>
<circle cx="272.0" cy="129.0" r="1.3" fill="#3a3a3a" opacity="0.7"/>
<circle cx="358.5" cy="23.2" r="1.0" fill="#3a3a3a" opacity="0.7"/>
<circle cx="261.1" cy="139.6" r="0.8" fill="#3a3a3a" opacity="0.7"/>
<circle cx="251.2" cy="61.0" r="1.6" fill="#3a3a3a" opacity="0.7"/>
<circle cx="209.2" cy="102.2" r="1.0" fill="#3a3a3a" opacity="0.7"/>
<circle cx="308.2" cy="142.3" r="1.0" fill="#3a3a3a" opacity="0.7"/>
<circle cx="291.4" cy="24.4" r="1.0" fill="#3a3a3a" opacity="0.7"/>
<circle cx="242.9" cy="48.5" r="1.6" fill="#3a3a3a" opacity="0.7"/>
<circle cx="278.3" cy="133.7" r="1.3" fill="#3a3a3a" opacity="0.7"/>
<circle cx="324.5" cy="88.3" r="1.0" fill="#3a3a3a" opacity="0.7"/>
<circle cx="272.2" cy="98.9" r="0.8" fill="#3a3a3a" opacity="0.7"/>
<circle cx="330.6" cy="36.7" r="0.8" fill="#3a3a3a" opacity="0.7"/>
<circle cx="336.0" cy="35.4" r="1.3" fill="#3a3a3a" opacity="0.7"/>
<circle cx="210.0" cy="79.8" r="1.0" fill="#3a3a3a" opacity="0.7"/>
<circle cx="330.6" cy="106.0" r="0.8" fill="#3a3a3a" opacity="0.7"/>
<circle cx="300.6" cy="115.9" r="1.3" fill="#3a3a3a" opacity="0.7"/>
<circle cx="261.7" cy="103.7" r="0.8" fill="#3a3a3a" opacity="0.7"/>
<circle cx="243.6" cy="138.3" r="1.6" fill="#3a3a3a" opacity="0.7"/>
<circle cx="328.8" cy="48.1" r="0.8" fill="#3a3a3a" opacity="0.7"/>
<circle cx="271.7" cy="111.8" r="0.8" fill="#3a3a3a" opacity="0.7"/>
<circle cx="251.7" cy="46.4" r="0.8" fill="#3a3a3a" opacity="0.7"/>
<circle cx="346.6" cy="106.7" r="1.3" fill="#3a3a3a" opacity="0.7"/>
<circle cx="264.9" cy="102.1" r="1.0" fill="#3a3a3a" opacity="0.7"/>
<circle cx="236.7" cy="125.2" r="0.8" fill="#3a3a3a" opacity="0.7"/>
<circle cx="250.6" cy="75.6" r="0.8" fill="#3a3a3a" opacity="0.7"/>
<circle cx="236.9" cy="62.4" r="1.0" fill="#3a3a3a" opacity="0.7"/>
<circle cx="314.4" cy="129.7" r="1.6" fill="#3a3a3a" opacity="0.7"/>
<circle cx="347.8" cy="88.4" r="1.6" fill="#3a3a3a" opacity="0.7"/>
<circle cx="255.9" cy="46.3" r="1.6" fill="#3a3a3a" opacity="0.7"/>
<circle cx="274.9" cy="117.4" r="1.6" fill="#3a3a3a" opacity="0.7"/>
<circle cx="272.5" cy="94.7" r="0.8" fill="#3a3a3a" opacity="0.7"/>
<circle cx="243.6" cy="137.0" r="1.0" fill="#3a3a3a" opacity="0.7"/>
<circle cx="341.5" cy="26.4" r="1.0" fill="#3a3a3a" opacity="0.7"/>
<circle cx="244.0" cy="86.4" r="1.6" fill="#3a3a3a" opacity="0.7"/>
<circle cx="202.6" cy="113.9" r="1.3" fill="#3a3a3a" opacity="0.7"/>
<circle cx="276.2" cy="27.6" r="1.6" fill="#3a3a3a" opacity="0.7"/>
<circle cx="317.0" cy="114.1" r="1.3" fill="#3a3a3a" opacity="0.7"/>
<circle cx="219.3" cy="77.2" r="1.6" fill="#3a3a3a" opacity="0.7"/>
<circle cx="268.3" cy="48.1" r="1.6" fill="#3a3a3a" opacity="0.7"/>
<circle cx="320.3" cy="108.5" r="1.6" fill="#3a3a3a" opacity="0.7"/>
<circle cx="355.7" cy="129.9" r="1.3" fill="#3a3a3a" opacity="0.7"/>
<circle cx="349.7" cy="75.6" r="1.6" fill="#3a3a3a" opacity="0.7"/>
<circle cx="273.3" cy="144.8" r="1.0" fill="#3a3a3a" opacity="0.7"/>
<circle cx="254.6" cy="127.0" r="1.3" fill="#3a3a3a" opacity="0.7"/>
<circle cx="200.8" cy="68.6" r="1.3" fill="#3a3a3a" opacity="0.7"/>
<circle cx="327.6" cy="59.3" r="1.0" fill="#3a3a3a" opacity="0.7"/>
<circle cx="347.6" cy="86.4" r="0.8" fill="#3a3a3a" opacity="0.7"/>
<circle cx="217.4" cy="87.8" r="0.8" fill="#3a3a3a" opacity="0.7"/>
<circle cx="223.0" cy="29.1" r="1.0" fill="#3a3a3a" opacity="0.7"/>
<circle cx="356.3" cy="119.8" r="1.3" fill="#3a3a3a" opacity="0.7"/>
<circle cx="355.6" cy="118.8" r="0.8" fill="#3a3a3a" opacity="0.7"/>
<circle cx="275.9" cy="52.1" r="1.3" fill="#3a3a3a" opacity="0.7"/>
<circle cx="266.5" cy="64.3" r="0.8" fill="#3a3a3a" opacity="0.7"/>
<circle cx="294.4" cy="122.0" r="1.6" fill="#3a3a3a" opacity="0.7"/>
<circle cx="246.8" cy="53.2" r="1.6" fill="#3a3a3a" opacity="0.7"/>
<circle cx="264.2" cy="54.8" r="0.8" fill="#3a3a3a" opacity="0.7"/>
<circle cx="200.8" cy="27.6" r="1.0" fill="#3a3a3a" opacity="0.7"/>
<circle cx="344.7" cy="121.6" r="1.0" fill="#3a3a3a" opacity="0.7"/>
<circle cx="351.4" cy="113.7" r="1.6" fill="#3a3a3a" opacity="0.7"/>
<circle cx="278.9" cy="124.4" r="1.0" fill="#3a3a3a" opacity="0.7"/>
<circle cx="241.6" cy="43.6" r="0.8" fill="#3a3a3a" opacity="0.7"/>
<circle cx="275.2" cy="30.4" r="1.6" fill="#3a3a3a" opacity="0.7"/>
<circle cx="272.2" cy="104.2" r="1.6" fill="#3a3a3a" opacity="0.7"/>
<circle cx="256.5" cy="100.1" r="1.3" fill="#3a3a3a" opacity="0.7"/>
<circle cx="225.8" cy="106.4" r="0.8" fill="#3a3a3a" opacity="0.7"/>
<circle cx="262.5" cy="65.9" r="1.6" fill="#3a3a3a" opacity="0.7"/>
<circle cx="241.4" cy="54.2" r="1.3" fill="#3a3a3a" opacity="0.7"/>
<circle cx="352.4" cy="41.9" r="1.3" fill="#3a3a3a" opacity="0.7"/>
<circle cx="218.8" cy="27.6" r="1.6" fill="#3a3a3a" opacity="0.7"/>
<circle cx="334.7" cy="124.0" r="1.3" fill="#3a3a3a" opacity="0.7"/>
<circle cx="201.0" cy="93.1" r="0.8" fill="#3a3a3a" opacity="0.7"/>
<circle cx="275.5" cy="57.1" r="1.3" fill="#3a3a3a" opacity="0.7"/>
<circle cx="212.7" cy="104.6" r="1.3" fill="#3a3a3a" opacity="0.7"/>
<circle cx="201.5" cy="82.4" r="1.6" fill="#3a3a3a" opacity="0.7"/>
<circle cx="227.8" cy="135.3" r="1.0" fill="#3a3a3a" opacity="0.7"/>
<circle cx="302.6" cy="137.9" r="1.6" fill="#3a3a3a" opacity="0.7"/>
<circle cx="247.5" cy="56.0" r="0.8" fill="#3a3a3a" opacity="0.7"/>
<circle cx="349.8" cy="61.7" r="1.6" fill="#3a3a3a" opacity="0.7"/>
<circle cx="286.5" cy="27.3" r="1.6" fill="#3a3a3a" opacity="0.7"/>
<circle cx="236.8" cy="142.6" r="0.8" fill="#3a3a3a" opacity="0.7"/>
<circle cx="276.7" cy="139.7" r="0.8" fill="#3a3a3a" opacity="0.7"/>
<circle cx="309.8" cy="37.0" r="0.8" fill="#3a3a3a" opacity="0.7"/>
<circle cx="298.9" cy="122.8" r="0.8" fill="#3a3a3a" opacity="0.7"/>
<circle cx="349.6" cy="141.9" r="0.8" fill="#3a3a3a" opacity="0.7"/>
<circle cx="266.3" cy="143.0" r="1.6" fill="#3a3a3a" opacity="0.7"/>
<circle cx="239.7" cy="89.6" r="0.8" fill="#3a3a3a" opacity="0.7"/>
<circle cx="224.5" cy="82.4" r="1.0" fill="#3a3a3a" opacity="0.7"/>
<circle cx="219.5" cy="133.5" r="1.0" fill="#3a3a3a" opacity="0.7"/>
<circle cx="308.5" cy="80.0" r="1.6" fill="#3a3a3a" opacity="0.7"/>
<circle cx="301.4" cy="40.3" r="0.8" fill="#3a3a3a" opacity="0.7"/>
<circle cx="225.4" cy="99.4" r="1.3" fill="#3a3a3a" opacity="0.7"/>
<circle cx="226.9" cy="123.4" r="1.0" fill="#3a3a3a" opacity="0.7"/>
<circle cx="204.0" cy="140.2" r="1.0" fill="#3a3a3a" opacity="0.7"/>
<circle cx="258.3" cy="36.1" r="1.6" fill="#3a3a3a" opacity="0.7"/>
<circle cx="225.6" cy="26.2" r="0.8" fill="#3a3a3a" opacity="0.7"/>
<circle cx="217.4" cy="40.7" r="1.0" fill="#3a3a3a" opacity="0.7"/>
<circle cx="258.5" cy="137.4" r="0.8" fill="#3a3a3a" opacity="0.7"/>
<circle cx="348.3" cy="23.9" r="1.3" fill="#3a3a3a" opacity="0.7"/>
<circle cx="358.5" cy="142.6" r="1.0" fill="#3a3a3a" opacity="0.7"/>
<circle cx="206.5" cy="89.6" r="1.6" fill="#3a3a3a" opacity="0.7"/>
<circle cx="212.9" cy="126.3" r="1.6" fill="#3a3a3a" opacity="0.7"/>
<circle cx="199.5" cy="65.1" r="1.6" fill="#3a3a3a" opacity="0.7"/>
<circle cx="288.7" cy="79.6" r="1.3" fill="#3a3a3a" opacity="0.7"/>
<circle cx="268.1" cy="88.2" r="1.6" fill="#3a3a3a" opacity="0.7"/>
<circle cx="228.7" cy="95.5" r="1.0" fill="#3a3a3a" opacity="0.7"/>
<circle cx="245.0" cy="127.8" r="1.0" fill="#3a3a3a" opacity="0.7"/>
<circle cx="247.7" cy="125.5" r="1.0" fill="#3a3a3a" opacity="0.7"/>
<circle cx="204.6" cy="142.4" r="1.6" fill="#3a3a3a" opacity="0.7"/>
<circle cx="296.1" cy="44.7" r="0.8" fill="#3a3a3a" opacity="0.7"/>
<circle cx="221.7" cy="37.9" r="1.6" fill="#3a3a3a" opacity="0.7"/>
<circle cx="357.6" cy="106.6" r="1.3" fill="#3a3a3a" opacity="0.7"/>
<circle cx="211.1" cy="88.9" r="1.6" fill="#3a3a3a" opacity="0.7"/>
<circle cx="249.1" cy="95.0" r="1.0" fill="#3a3a3a" opacity="0.7"/>
<circle cx="248.7" cy="84.8" r="1.3" fill="#3a3a3a" opacity="0.7"/>
<circle cx="299.8" cy="95.1" r="1.3" fill="#3a3a3a" opacity="0.7"/>
<circle cx="336.5" cy="124.9" r="1.3" fill="#3a3a3a" opacity="0.7"/>
<circle cx="355.1" cy="59.3" r="1.0" fill="#3a3a3a" opacity="0.7"/>
<circle cx="216.1" cy="84.1" r="1.3" fill="#3a3a3a" opacity="0.7"/>
<circle cx="314.8" cy="53.3" r="1.6" fill="#3a3a3a" opacity="0.7"/>
<circle cx="353.6" cy="78.3" r="1.6" fill="#3a3a3a" opacity="0.7"/>
<path d="M297,62 C298,53 308,49 320,50 C331,51 338,58 336,67 C334,76 326,82 315,82 C304,82 296,73 297,62 Z" fill="#4a4a4a" filter="url(#tDk)" opacity="0.85"/>
<ellipse cx="238" cy="46" rx="22" ry="22" fill="#c6c6c6" stroke="#555" stroke-width="0.6" transform="rotate(0 238 46)" filter="url(#tDr2)"/>
<ellipse cx="276" cy="44" rx="28" ry="26" fill="#c6c6c6" stroke="#555" stroke-width="0.6" transform="rotate(0 276 44)" filter="url(#tDr2)"/>
<ellipse cx="244.3" cy="103.4" rx="17.8" ry="23.3" fill="#c6c6c6" stroke="#555" stroke-width="0.6" transform="rotate(15 244.3 103.4)" filter="url(#tDr2)"/>
<ellipse cx="290.9" cy="94.8" rx="7.5" ry="7.5" fill="#c6c6c6" stroke="#555" stroke-width="0.6" transform="rotate(0 290.9 94.8)" filter="url(#tDr2)"/>
<ellipse cx="319" cy="114.5" rx="20.6" ry="21.8" fill="#c6c6c6" stroke="#555" stroke-width="0.6" transform="rotate(0 319 114.5)" filter="url(#tDr2)"/>
<ellipse cx="337" cy="89.9" rx="15" ry="15" fill="#c6c6c6" stroke="#555" stroke-width="0.6" transform="rotate(0 337 89.9)" filter="url(#tDr2)"/>
<ellipse cx="358" cy="105" rx="5" ry="32" fill="#c6c6c6" stroke="#555" stroke-width="0.6" transform="rotate(0 358 105)" filter="url(#tDr2)"/>
<ellipse cx="282" cy="145" rx="12" ry="4" fill="#c6c6c6" stroke="#555" stroke-width="0.6" transform="rotate(0 282 145)" filter="url(#tDr2)"/>
<ellipse cx="219" cy="95" rx="3.5" ry="5" fill="#c6c6c6" stroke="#555" stroke-width="0.6" transform="rotate(0 219 95)" filter="url(#tDr2)"/>
<ellipse cx="323" cy="40" rx="7.5" ry="6.8" fill="#e4e4e4"/><ellipse cx="323" cy="40" rx="7.5" ry="6.8" fill="none" stroke="#333" stroke-width="1"/><path d="M318,37 q2,-3 3,0 l0,7 q-2,1 -3,-1z M322,35 q3,-2 4,1 l-1,8 q-2,1 -3,-1z M326.5,37 q2,-1 2.5,2 l-1,5 q-2,0 -2,-2z" fill="#111"/>
<ellipse cx="289" cy="79" rx="5.5" ry="5" fill="#e8e8e8"/>
<ellipse cx="349.5" cy="40" rx="6.5" ry="6.5" fill="#ddd"/><ellipse cx="349.5" cy="40.5" rx="4" ry="4.2" fill="#2a2a2a"/>
<ellipse cx="262.5" cy="75.5" rx="5" ry="3.2" fill="#eee"/><ellipse cx="262.5" cy="75.5" rx="3.8" ry="2" fill="#111"/><ellipse cx="222" cy="80" rx="2" ry="6" fill="#333"/>
<rect x="314.00" y="139.00" width="41.00" height="2.60" fill="#000"/>
<rect x="196" y="23" width="163" height="122" fill="#808080" filter="url(#grain)" style="mix-blend-mode:soft-light" opacity="0.45"/>
</g>
<rect x="196.75" y="23.25" width="161.5" height="121" fill="none" stroke="#000" stroke-width="1.5"/>
<rect x="304" y="24" width="31.9" height="24" fill="none" stroke="#1a74c4" stroke-width="1.3"/>
<line x1="304.40" y1="48.20" x2="198.50" y2="143.50" stroke="#1a74c4" stroke-width="1.6" stroke-dasharray="6,3.3"/>
<line x1="335.80" y1="48.20" x2="356.60" y2="143.50" stroke="#1a74c4" stroke-width="1.6" stroke-dasharray="6,3.3"/>
<g clip-path="url(#c3)">
<rect x="30.00" y="147.00" width="163.00" height="123.00" fill="#777" filter="url(#tA3)"/>
<ellipse cx="29.2" cy="145.6" rx="8.2" ry="7.4" transform="rotate(123 29.2 145.6)" fill="#8a8a8a" stroke="#4a4a4a" stroke-width="1.1" opacity="0.55"/>
<ellipse cx="42.4" cy="149.1" rx="8.9" ry="8.5" transform="rotate(111 42.4 149.1)" fill="#8a8a8a" stroke="#4a4a4a" stroke-width="1.1" opacity="0.55"/>
<ellipse cx="57.5" cy="143.5" rx="7.2" ry="6.9" transform="rotate(132 57.5 143.5)" fill="#8a8a8a" stroke="#4a4a4a" stroke-width="1.1" opacity="0.55"/>
<ellipse cx="75.5" cy="148.3" rx="8.9" ry="8.8" transform="rotate(18 75.5 148.3)" fill="#8a8a8a" stroke="#4a4a4a" stroke-width="1.1" opacity="0.55"/>
<ellipse cx="86.5" cy="146.7" rx="8.5" ry="7.2" transform="rotate(99 86.5 146.7)" fill="#8a8a8a" stroke="#4a4a4a" stroke-width="1.1" opacity="0.55"/>
<ellipse cx="107.7" cy="146.0" rx="6.3" ry="5.5" transform="rotate(5 107.7 146.0)" fill="#8a8a8a" stroke="#4a4a4a" stroke-width="1.1" opacity="0.55"/>
<ellipse cx="118.0" cy="143.5" rx="6.5" ry="6.4" transform="rotate(96 118.0 143.5)" fill="#8a8a8a" stroke="#4a4a4a" stroke-width="1.1" opacity="0.55"/>
<ellipse cx="132.2" cy="147.8" rx="8.5" ry="7.8" transform="rotate(22 132.2 147.8)" fill="#8a8a8a" stroke="#4a4a4a" stroke-width="1.1" opacity="0.55"/>
<ellipse cx="151.3" cy="148.7" rx="8.7" ry="7.6" transform="rotate(105 151.3 148.7)" fill="#8a8a8a" stroke="#4a4a4a" stroke-width="1.1" opacity="0.55"/>
<ellipse cx="167.7" cy="148.3" rx="8.9" ry="8.3" transform="rotate(139 167.7 148.3)" fill="#8a8a8a" stroke="#4a4a4a" stroke-width="1.1" opacity="0.55"/>
<ellipse cx="181.0" cy="146.8" rx="6.0" ry="5.4" transform="rotate(47 181.0 146.8)" fill="#8a8a8a" stroke="#4a4a4a" stroke-width="1.1" opacity="0.55"/>
<ellipse cx="195.8" cy="147.1" rx="7.5" ry="7.4" transform="rotate(24 195.8 147.1)" fill="#8a8a8a" stroke="#4a4a4a" stroke-width="1.1" opacity="0.55"/>
<ellipse cx="38.3" cy="161.4" rx="9.0" ry="7.5" transform="rotate(52 38.3 161.4)" fill="#8a8a8a" stroke="#4a4a4a" stroke-width="1.1" opacity="0.55"/>
<ellipse cx="52.2" cy="160.1" rx="8.4" ry="7.7" transform="rotate(166 52.2 160.1)" fill="#8a8a8a" stroke="#4a4a4a" stroke-width="1.1" opacity="0.55"/>
<ellipse cx="67.4" cy="159.3" rx="7.4" ry="6.8" transform="rotate(180 67.4 159.3)" fill="#8a8a8a" stroke="#4a4a4a" stroke-width="1.1" opacity="0.55"/>
<ellipse cx="79.1" cy="159.3" rx="6.2" ry="5.3" transform="rotate(27 79.1 159.3)" fill="#8a8a8a" stroke="#4a4a4a" stroke-width="1.1" opacity="0.55"/>
<ellipse cx="94.9" cy="159.5" rx="7.8" ry="6.6" transform="rotate(80 94.9 159.5)" fill="#8a8a8a" stroke="#4a4a4a" stroke-width="1.1" opacity="0.55"/>
<ellipse cx="111.0" cy="159.1" rx="8.7" ry="8.2" transform="rotate(2 111.0 159.1)" fill="#8a8a8a" stroke="#4a4a4a" stroke-width="1.1" opacity="0.55"/>
<ellipse cx="130.4" cy="159.9" rx="6.4" ry="6.2" transform="rotate(160 130.4 159.9)" fill="#8a8a8a" stroke="#4a4a4a" stroke-width="1.1" opacity="0.55"/>
<ellipse cx="144.4" cy="156.8" rx="8.0" ry="7.6" transform="rotate(80 144.4 156.8)" fill="#8a8a8a" stroke="#4a4a4a" stroke-width="1.1" opacity="0.55"/>
<ellipse cx="158.3" cy="156.7" rx="8.8" ry="8.1" transform="rotate(26 158.3 156.7)" fill="#8a8a8a" stroke="#4a4a4a" stroke-width="1.1" opacity="0.55"/>
<ellipse cx="174.6" cy="157.1" rx="6.1" ry="5.3" transform="rotate(85 174.6 157.1)" fill="#8a8a8a" stroke="#4a4a4a" stroke-width="1.1" opacity="0.55"/>
<ellipse cx="190.5" cy="162.2" rx="6.6" ry="6.5" transform="rotate(109 190.5 162.2)" fill="#8a8a8a" stroke="#4a4a4a" stroke-width="1.1" opacity="0.55"/>
<ellipse cx="29.8" cy="171.6" rx="8.8" ry="8.3" transform="rotate(116 29.8 171.6)" fill="#8a8a8a" stroke="#4a4a4a" stroke-width="1.1" opacity="0.55"/>
<ellipse cx="41.8" cy="176.3" rx="8.8" ry="7.7" transform="rotate(58 41.8 176.3)" fill="#8a8a8a" stroke="#4a4a4a" stroke-width="1.1" opacity="0.55"/>
<ellipse cx="61.7" cy="176.1" rx="8.4" ry="8.3" transform="rotate(91 61.7 176.1)" fill="#8a8a8a" stroke="#4a4a4a" stroke-width="1.1" opacity="0.55"/>
<ellipse cx="72.3" cy="173.4" rx="8.9" ry="7.3" transform="rotate(45 72.3 173.4)" fill="#8a8a8a" stroke="#4a4a4a" stroke-width="1.1" opacity="0.55"/>
<ellipse cx="90.4" cy="171.7" rx="6.5" ry="5.5" transform="rotate(137 90.4 171.7)" fill="#8a8a8a" stroke="#4a4a4a" stroke-width="1.1" opacity="0.55"/>
<ellipse cx="103.8" cy="172.5" rx="8.1" ry="6.8" transform="rotate(83 103.8 172.5)" fill="#8a8a8a" stroke="#4a4a4a" stroke-width="1.1" opacity="0.55"/>
<ellipse cx="117.1" cy="170.1" rx="6.5" ry="5.4" transform="rotate(89 117.1 170.1)" fill="#8a8a8a" stroke="#4a4a4a" stroke-width="1.1" opacity="0.55"/>
<ellipse cx="136.1" cy="172.1" rx="7.1" ry="6.8" transform="rotate(175 136.1 172.1)" fill="#8a8a8a" stroke="#4a4a4a" stroke-width="1.1" opacity="0.55"/>
<ellipse cx="150.8" cy="170.3" rx="8.1" ry="7.1" transform="rotate(110 150.8 170.3)" fill="#8a8a8a" stroke="#4a4a4a" stroke-width="1.1" opacity="0.55"/>
<ellipse cx="167.0" cy="173.9" rx="8.6" ry="6.9" transform="rotate(73 167.0 173.9)" fill="#8a8a8a" stroke="#4a4a4a" stroke-width="1.1" opacity="0.55"/>
<ellipse cx="181.1" cy="172.2" rx="7.2" ry="6.6" transform="rotate(117 181.1 172.2)" fill="#8a8a8a" stroke="#4a4a4a" stroke-width="1.1" opacity="0.55"/>
<ellipse cx="193.9" cy="172.0" rx="8.5" ry="7.1" transform="rotate(122 193.9 172.0)" fill="#8a8a8a" stroke="#4a4a4a" stroke-width="1.1" opacity="0.55"/>
<ellipse cx="40.1" cy="185.3" rx="7.9" ry="7.5" transform="rotate(57 40.1 185.3)" fill="#8a8a8a" stroke="#4a4a4a" stroke-width="1.1" opacity="0.55"/>
<ellipse cx="49.5" cy="188.4" rx="8.8" ry="8.1" transform="rotate(68 49.5 188.4)" fill="#8a8a8a" stroke="#4a4a4a" stroke-width="1.1" opacity="0.55"/>
<ellipse cx="64.6" cy="183.5" rx="7.9" ry="6.5" transform="rotate(15 64.6 183.5)" fill="#8a8a8a" stroke="#4a4a4a" stroke-width="1.1" opacity="0.55"/>
<ellipse cx="80.7" cy="188.1" rx="6.7" ry="5.5" transform="rotate(64 80.7 188.1)" fill="#8a8a8a" stroke="#4a4a4a" stroke-width="1.1" opacity="0.55"/>
<ellipse cx="97.3" cy="183.9" rx="6.9" ry="6.2" transform="rotate(50 97.3 183.9)" fill="#8a8a8a" stroke="#4a4a4a" stroke-width="1.1" opacity="0.55"/>
<ellipse cx="114.2" cy="182.6" rx="7.9" ry="6.6" transform="rotate(59 114.2 182.6)" fill="#8a8a8a" stroke="#4a4a4a" stroke-width="1.1" opacity="0.55"/>
<ellipse cx="125.2" cy="183.3" rx="6.2" ry="5.2" transform="rotate(109 125.2 183.3)" fill="#8a8a8a" stroke="#4a4a4a" stroke-width="1.1" opacity="0.55"/>
<ellipse cx="138.9" cy="185.8" rx="7.8" ry="7.2" transform="rotate(6 138.9 185.8)" fill="#8a8a8a" stroke="#4a4a4a" stroke-width="1.1" opacity="0.55"/>
<ellipse cx="156.9" cy="185.1" rx="8.9" ry="8.2" transform="rotate(166 156.9 185.1)" fill="#8a8a8a" stroke="#4a4a4a" stroke-width="1.1" opacity="0.55"/>
<ellipse cx="175.3" cy="186.7" rx="6.4" ry="5.3" transform="rotate(16 175.3 186.7)" fill="#8a8a8a" stroke="#4a4a4a" stroke-width="1.1" opacity="0.55"/>
<ellipse cx="187.9" cy="183.1" rx="6.3" ry="5.7" transform="rotate(28 187.9 183.1)" fill="#8a8a8a" stroke="#4a4a4a" stroke-width="1.1" opacity="0.55"/>
<ellipse cx="33.7" cy="199.8" rx="8.7" ry="7.0" transform="rotate(136 33.7 199.8)" fill="#8a8a8a" stroke="#4a4a4a" stroke-width="1.1" opacity="0.55"/>
<ellipse cx="46.1" cy="199.0" rx="8.3" ry="7.1" transform="rotate(28 46.1 199.0)" fill="#8a8a8a" stroke="#4a4a4a" stroke-width="1.1" opacity="0.55"/>
<ellipse cx="60.2" cy="198.6" rx="7.5" ry="6.4" transform="rotate(124 60.2 198.6)" fill="#8a8a8a" stroke="#4a4a4a" stroke-width="1.1" opacity="0.55"/>
<ellipse cx="75.5" cy="201.4" rx="8.5" ry="8.3" transform="rotate(26 75.5 201.4)" fill="#8a8a8a" stroke="#4a4a4a" stroke-width="1.1" opacity="0.55"/>
<ellipse cx="86.6" cy="196.7" rx="8.9" ry="8.2" transform="rotate(79 86.6 196.7)" fill="#8a8a8a" stroke="#4a4a4a" stroke-width="1.1" opacity="0.55"/>
<ellipse cx="104.7" cy="199.7" rx="6.8" ry="5.7" transform="rotate(60 104.7 199.7)" fill="#8a8a8a" stroke="#4a4a4a" stroke-width="1.1" opacity="0.55"/>
<ellipse cx="122.6" cy="201.5" rx="6.0" ry="5.3" transform="rotate(17 122.6 201.5)" fill="#8a8a8a" stroke="#4a4a4a" stroke-width="1.1" opacity="0.55"/>
<ellipse cx="137.9" cy="196.0" rx="6.8" ry="5.7" transform="rotate(106 137.9 196.0)" fill="#8a8a8a" stroke="#4a4a4a" stroke-width="1.1" opacity="0.55"/>
<ellipse cx="151.3" cy="198.5" rx="7.6" ry="7.2" transform="rotate(83 151.3 198.5)" fill="#8a8a8a" stroke="#4a4a4a" stroke-width="1.1" opacity="0.55"/>
<ellipse cx="163.2" cy="200.5" rx="6.3" ry="6.1" transform="rotate(36 163.2 200.5)" fill="#8a8a8a" stroke="#4a4a4a" stroke-width="1.1" opacity="0.55"/>
<ellipse cx="180.2" cy="199.8" rx="6.0" ry="4.8" transform="rotate(150 180.2 199.8)" fill="#8a8a8a" stroke="#4a4a4a" stroke-width="1.1" opacity="0.55"/>
<ellipse cx="194.1" cy="196.6" rx="8.5" ry="6.8" transform="rotate(32 194.1 196.6)" fill="#8a8a8a" stroke="#4a4a4a" stroke-width="1.1" opacity="0.55"/>
<ellipse cx="39.4" cy="214.6" rx="8.8" ry="8.4" transform="rotate(22 39.4 214.6)" fill="#8a8a8a" stroke="#4a4a4a" stroke-width="1.1" opacity="0.55"/>
<ellipse cx="50.0" cy="210.2" rx="8.7" ry="7.1" transform="rotate(85 50.0 210.2)" fill="#8a8a8a" stroke="#4a4a4a" stroke-width="1.1" opacity="0.55"/>
<ellipse cx="64.7" cy="211.1" rx="6.7" ry="5.8" transform="rotate(130 64.7 211.1)" fill="#8a8a8a" stroke="#4a4a4a" stroke-width="1.1" opacity="0.55"/>
<ellipse cx="84.6" cy="211.8" rx="7.4" ry="6.6" transform="rotate(67 84.6 211.8)" fill="#8a8a8a" stroke="#4a4a4a" stroke-width="1.1" opacity="0.55"/>
<ellipse cx="97.2" cy="213.6" rx="8.1" ry="7.5" transform="rotate(102 97.2 213.6)" fill="#8a8a8a" stroke="#4a4a4a" stroke-width="1.1" opacity="0.55"/>
<ellipse cx="109.8" cy="208.8" rx="7.2" ry="6.6" transform="rotate(6 109.8 208.8)" fill="#8a8a8a" stroke="#4a4a4a" stroke-width="1.1" opacity="0.55"/>
<ellipse cx="124.3" cy="211.7" rx="8.8" ry="7.3" transform="rotate(5 124.3 211.7)" fill="#8a8a8a" stroke="#4a4a4a" stroke-width="1.1" opacity="0.55"/>
<ellipse cx="141.1" cy="211.3" rx="6.9" ry="6.7" transform="rotate(106 141.1 211.3)" fill="#8a8a8a" stroke="#4a4a4a" stroke-width="1.1" opacity="0.55"/>
<ellipse cx="160.0" cy="211.4" rx="6.5" ry="6.4" transform="rotate(3 160.0 211.4)" fill="#8a8a8a" stroke="#4a4a4a" stroke-width="1.1" opacity="0.55"/>
<ellipse cx="174.5" cy="210.2" rx="8.2" ry="6.8" transform="rotate(15 174.5 210.2)" fill="#8a8a8a" stroke="#4a4a4a" stroke-width="1.1" opacity="0.55"/>
<ellipse cx="185.2" cy="210.9" rx="8.3" ry="7.0" transform="rotate(55 185.2 210.9)" fill="#8a8a8a" stroke="#4a4a4a" stroke-width="1.1" opacity="0.55"/>
<ellipse cx="29.6" cy="224.2" rx="7.4" ry="6.2" transform="rotate(47 29.6 224.2)" fill="#8a8a8a" stroke="#4a4a4a" stroke-width="1.1" opacity="0.55"/>
<ellipse cx="47.3" cy="228.4" rx="7.8" ry="6.3" transform="rotate(169 47.3 228.4)" fill="#8a8a8a" stroke="#4a4a4a" stroke-width="1.1" opacity="0.55"/>
<ellipse cx="57.5" cy="229.0" rx="6.6" ry="5.5" transform="rotate(22 57.5 229.0)" fill="#8a8a8a" stroke="#4a4a4a" stroke-width="1.1" opacity="0.55"/>
<ellipse cx="73.5" cy="224.9" rx="8.5" ry="7.3" transform="rotate(37 73.5 224.9)" fill="#8a8a8a" stroke="#4a4a4a" stroke-width="1.1" opacity="0.55"/>
<ellipse cx="93.0" cy="228.0" rx="7.5" ry="7.4" transform="rotate(51 93.0 228.0)" fill="#8a8a8a" stroke="#4a4a4a" stroke-width="1.1" opacity="0.55"/>
<ellipse cx="103.4" cy="224.7" rx="8.8" ry="7.7" transform="rotate(148 103.4 224.7)" fill="#8a8a8a" stroke="#4a4a4a" stroke-width="1.1" opacity="0.55"/>
<ellipse cx="116.8" cy="223.4" rx="8.2" ry="7.6" transform="rotate(41 116.8 223.4)" fill="#8a8a8a" stroke="#4a4a4a" stroke-width="1.1" opacity="0.55"/>
<ellipse cx="131.7" cy="221.9" rx="7.2" ry="6.4" transform="rotate(72 131.7 221.9)" fill="#8a8a8a" stroke="#4a4a4a" stroke-width="1.1" opacity="0.55"/>
<ellipse cx="150.5" cy="223.7" rx="6.1" ry="5.2" transform="rotate(60 150.5 223.7)" fill="#8a8a8a" stroke="#4a4a4a" stroke-width="1.1" opacity="0.55"/>
<ellipse cx="164.9" cy="224.4" rx="6.8" ry="6.7" transform="rotate(53 164.9 224.4)" fill="#8a8a8a" stroke="#4a4a4a" stroke-width="1.1" opacity="0.55"/>
<ellipse cx="178.5" cy="222.4" rx="6.1" ry="5.4" transform="rotate(4 178.5 222.4)" fill="#8a8a8a" stroke="#4a4a4a" stroke-width="1.1" opacity="0.55"/>
<ellipse cx="197.8" cy="224.3" rx="7.3" ry="6.5" transform="rotate(4 197.8 224.3)" fill="#8a8a8a" stroke="#4a4a4a" stroke-width="1.1" opacity="0.55"/>
<ellipse cx="34.5" cy="240.5" rx="7.7" ry="6.8" transform="rotate(62 34.5 240.5)" fill="#8a8a8a" stroke="#4a4a4a" stroke-width="1.1" opacity="0.55"/>
<ellipse cx="54.4" cy="238.4" rx="8.4" ry="6.9" transform="rotate(161 54.4 238.4)" fill="#8a8a8a" stroke="#4a4a4a" stroke-width="1.1" opacity="0.55"/>
<ellipse cx="69.2" cy="239.7" rx="7.4" ry="6.5" transform="rotate(104 69.2 239.7)" fill="#8a8a8a" stroke="#4a4a4a" stroke-width="1.1" opacity="0.55"/>
<ellipse cx="82.7" cy="240.7" rx="8.6" ry="8.5" transform="rotate(135 82.7 240.7)" fill="#8a8a8a" stroke="#4a4a4a" stroke-width="1.1" opacity="0.55"/>
<ellipse cx="98.4" cy="239.1" rx="8.7" ry="8.6" transform="rotate(86 98.4 239.1)" fill="#8a8a8a" stroke="#4a4a4a" stroke-width="1.1" opacity="0.55"/>
<ellipse cx="111.6" cy="241.7" rx="6.5" ry="5.7" transform="rotate(26 111.6 241.7)" fill="#8a8a8a" stroke="#4a4a4a" stroke-width="1.1" opacity="0.55"/>
<ellipse cx="129.4" cy="238.3" rx="8.2" ry="7.6" transform="rotate(159 129.4 238.3)" fill="#8a8a8a" stroke="#4a4a4a" stroke-width="1.1" opacity="0.55"/>
<ellipse cx="138.8" cy="236.3" rx="8.2" ry="6.7" transform="rotate(140 138.8 236.3)" fill="#8a8a8a" stroke="#4a4a4a" stroke-width="1.1" opacity="0.55"/>
<ellipse cx="155.8" cy="235.2" rx="8.1" ry="6.9" transform="rotate(11 155.8 235.2)" fill="#8a8a8a" stroke="#4a4a4a" stroke-width="1.1" opacity="0.55"/>
<ellipse cx="175.8" cy="238.6" rx="6.1" ry="5.4" transform="rotate(61 175.8 238.6)" fill="#8a8a8a" stroke="#4a4a4a" stroke-width="1.1" opacity="0.55"/>
<ellipse cx="184.5" cy="241.2" rx="8.8" ry="8.5" transform="rotate(80 184.5 241.2)" fill="#8a8a8a" stroke="#4a4a4a" stroke-width="1.1" opacity="0.55"/>
<ellipse cx="28.3" cy="252.7" rx="6.3" ry="5.8" transform="rotate(74 28.3 252.7)" fill="#8a8a8a" stroke="#4a4a4a" stroke-width="1.1" opacity="0.55"/>
<ellipse cx="44.8" cy="250.9" rx="7.8" ry="6.3" transform="rotate(168 44.8 250.9)" fill="#8a8a8a" stroke="#4a4a4a" stroke-width="1.1" opacity="0.55"/>
<ellipse cx="63.1" cy="253.9" rx="6.7" ry="6.3" transform="rotate(83 63.1 253.9)" fill="#8a8a8a" stroke="#4a4a4a" stroke-width="1.1" opacity="0.55"/>
<ellipse cx="76.1" cy="252.2" rx="7.0" ry="5.6" transform="rotate(56 76.1 252.2)" fill="#8a8a8a" stroke="#4a4a4a" stroke-width="1.1" opacity="0.55"/>
<ellipse cx="86.4" cy="248.3" rx="6.6" ry="5.6" transform="rotate(151 86.4 248.3)" fill="#8a8a8a" stroke="#4a4a4a" stroke-width="1.1" opacity="0.55"/>
<ellipse cx="101.6" cy="249.4" rx="6.7" ry="5.6" transform="rotate(162 101.6 249.4)" fill="#8a8a8a" stroke="#4a4a4a" stroke-width="1.1" opacity="0.55"/>
<ellipse cx="118.2" cy="248.4" rx="8.9" ry="7.2" transform="rotate(129 118.2 248.4)" fill="#8a8a8a" stroke="#4a4a4a" stroke-width="1.1" opacity="0.55"/>
<ellipse cx="134.8" cy="253.3" rx="8.3" ry="7.4" transform="rotate(49 134.8 253.3)" fill="#8a8a8a" stroke="#4a4a4a" stroke-width="1.1" opacity="0.55"/>
<ellipse cx="150.2" cy="252.6" rx="7.0" ry="6.0" transform="rotate(26 150.2 252.6)" fill="#8a8a8a" stroke="#4a4a4a" stroke-width="1.1" opacity="0.55"/>
<ellipse cx="168.5" cy="249.2" rx="6.7" ry="5.4" transform="rotate(171 168.5 249.2)" fill="#8a8a8a" stroke="#4a4a4a" stroke-width="1.1" opacity="0.55"/>
<ellipse cx="183.2" cy="254.0" rx="8.5" ry="7.1" transform="rotate(102 183.2 254.0)" fill="#8a8a8a" stroke="#4a4a4a" stroke-width="1.1" opacity="0.55"/>
<ellipse cx="191.8" cy="253.1" rx="8.5" ry="7.0" transform="rotate(8 191.8 253.1)" fill="#8a8a8a" stroke="#4a4a4a" stroke-width="1.1" opacity="0.55"/>
<ellipse cx="34.2" cy="266.2" rx="7.5" ry="6.1" transform="rotate(178 34.2 266.2)" fill="#8a8a8a" stroke="#4a4a4a" stroke-width="1.1" opacity="0.55"/>
<ellipse cx="52.1" cy="265.8" rx="8.0" ry="6.8" transform="rotate(66 52.1 265.8)" fill="#8a8a8a" stroke="#4a4a4a" stroke-width="1.1" opacity="0.55"/>
<ellipse cx="68.5" cy="261.2" rx="8.7" ry="7.4" transform="rotate(144 68.5 261.2)" fill="#8a8a8a" stroke="#4a4a4a" stroke-width="1.1" opacity="0.55"/>
<ellipse cx="82.2" cy="262.2" rx="7.4" ry="6.3" transform="rotate(99 82.2 262.2)" fill="#8a8a8a" stroke="#4a4a4a" stroke-width="1.1" opacity="0.55"/>
<ellipse cx="94.6" cy="260.7" rx="7.2" ry="6.8" transform="rotate(41 94.6 260.7)" fill="#8a8a8a" stroke="#4a4a4a" stroke-width="1.1" opacity="0.55"/>
<ellipse cx="110.4" cy="263.8" rx="8.1" ry="6.6" transform="rotate(122 110.4 263.8)" fill="#8a8a8a" stroke="#4a4a4a" stroke-width="1.1" opacity="0.55"/>
<ellipse cx="123.9" cy="267.2" rx="7.8" ry="6.6" transform="rotate(110 123.9 267.2)" fill="#8a8a8a" stroke="#4a4a4a" stroke-width="1.1" opacity="0.55"/>
<ellipse cx="141.4" cy="263.2" rx="6.2" ry="5.3" transform="rotate(10 141.4 263.2)" fill="#8a8a8a" stroke="#4a4a4a" stroke-width="1.1" opacity="0.55"/>
<ellipse cx="158.9" cy="267.5" rx="8.0" ry="7.0" transform="rotate(145 158.9 267.5)" fill="#8a8a8a" stroke="#4a4a4a" stroke-width="1.1" opacity="0.55"/>
<ellipse cx="175.9" cy="266.8" rx="9.0" ry="8.0" transform="rotate(3 175.9 266.8)" fill="#8a8a8a" stroke="#4a4a4a" stroke-width="1.1" opacity="0.55"/>
<ellipse cx="188.4" cy="265.5" rx="8.6" ry="7.4" transform="rotate(65 188.4 265.5)" fill="#8a8a8a" stroke="#4a4a4a" stroke-width="1.1" opacity="0.55"/>
<ellipse cx="26.3" cy="280.0" rx="7.9" ry="6.3" transform="rotate(107 26.3 280.0)" fill="#8a8a8a" stroke="#4a4a4a" stroke-width="1.1" opacity="0.55"/>
<ellipse cx="47.6" cy="279.5" rx="9.0" ry="8.0" transform="rotate(161 47.6 279.5)" fill="#8a8a8a" stroke="#4a4a4a" stroke-width="1.1" opacity="0.55"/>
<ellipse cx="59.2" cy="273.8" rx="7.0" ry="6.4" transform="rotate(179 59.2 273.8)" fill="#8a8a8a" stroke="#4a4a4a" stroke-width="1.1" opacity="0.55"/>
<ellipse cx="74.2" cy="275.8" rx="8.1" ry="7.9" transform="rotate(55 74.2 275.8)" fill="#8a8a8a" stroke="#4a4a4a" stroke-width="1.1" opacity="0.55"/>
<ellipse cx="89.2" cy="274.7" rx="7.8" ry="7.0" transform="rotate(144 89.2 274.7)" fill="#8a8a8a" stroke="#4a4a4a" stroke-width="1.1" opacity="0.55"/>
<ellipse cx="103.8" cy="281.1" rx="6.6" ry="5.8" transform="rotate(41 103.8 281.1)" fill="#8a8a8a" stroke="#4a4a4a" stroke-width="1.1" opacity="0.55"/>
<ellipse cx="116.4" cy="276.0" rx="8.7" ry="8.1" transform="rotate(88 116.4 276.0)" fill="#8a8a8a" stroke="#4a4a4a" stroke-width="1.1" opacity="0.55"/>
<ellipse cx="135.2" cy="275.7" rx="7.6" ry="7.5" transform="rotate(63 135.2 275.7)" fill="#8a8a8a" stroke="#4a4a4a" stroke-width="1.1" opacity="0.55"/>
<ellipse cx="148.4" cy="279.9" rx="8.3" ry="7.1" transform="rotate(107 148.4 279.9)" fill="#8a8a8a" stroke="#4a4a4a" stroke-width="1.1" opacity="0.55"/>
<ellipse cx="167.7" cy="279.3" rx="6.2" ry="6.0" transform="rotate(135 167.7 279.3)" fill="#8a8a8a" stroke="#4a4a4a" stroke-width="1.1" opacity="0.55"/>
<ellipse cx="182.5" cy="281.2" rx="8.3" ry="8.0" transform="rotate(102 182.5 281.2)" fill="#8a8a8a" stroke="#4a4a4a" stroke-width="1.1" opacity="0.55"/>
<ellipse cx="195.9" cy="278.3" rx="6.4" ry="5.2" transform="rotate(92 195.9 278.3)" fill="#8a8a8a" stroke="#4a4a4a" stroke-width="1.1" opacity="0.55"/>
<circle cx="60" cy="178" r="2.2" fill="#eee"/>
<circle cx="83" cy="197" r="2.2" fill="#eee"/>
<circle cx="96" cy="219" r="2.2" fill="#eee"/>
<circle cx="145" cy="246" r="2.2" fill="#eee"/>
<circle cx="127" cy="264" r="2.2" fill="#eee"/>
<circle cx="56" cy="166" r="2.2" fill="#eee"/>
<circle cx="98" cy="199" r="2.2" fill="#eee"/>
<circle cx="41" cy="233" r="2.2" fill="#eee"/>
<circle cx="75" cy="206" r="2.2" fill="#eee"/>
<circle cx="161" cy="243" r="3.5" fill="#f2f2f2"/>
<path d="M64.8,147 C70,158 80,168 92,175 C105,182 125,189 140,191 C160,193 180,194 193,194 L193,147 Z" fill="#d4d4d4" stroke="#333" stroke-width="0.8" filter="url(#tDr3)"/>
<path d="M30,206 C42,208 60,213 77,223 C90,232 100,245 104,255 C106,262 107,268 107,270 L30,270 Z" fill="#d4d4d4" stroke="#333" stroke-width="0.8" filter="url(#tDr3)"/>
<path d="M30,174 C40,176 46,185 45,193 C44,200 38,204 30,204 Z" fill="#d4d4d4" stroke="#333" stroke-width="0.8" filter="url(#tDr3)"/>
<path d="M138,270 C146,262 160,253 172,246 C182,240 188,234 193,226 L193,270 Z" fill="#ececec"/>
<path d="M124.2,206.9 C126,203 128,201 130.9,200.1 C134,198 137,197 140.3,196.8 C145,195.5 149,195 153.7,194.8 C158,194.8 162,195 165.8,195.4 C169,196 171.5,197 173.2,198.8 C176,202 178,205 177.9,208.9 C177.5,211 176.5,212.8 175.2,213.6 C172,215 170,215.5 167.2,216.3 C163,218 160,219.5 157.7,220.3 C155,221 152,221 149.7,220.3 C146,219.5 143,218 140.3,216.3 C136,215 132,214.5 129.5,213.6 C127,213 125.5,212 124.8,210.9 Z" fill="#0a0a0a"/>
<path d="M129,205.5 C131,202 135,200.5 140,200 C146,198.5 152,198 158,198.3 C164,198.5 169,199.5 172,202 C174,205 174,208 172.5,210 C169,212 165,212.5 161,214 C157,216 152,216.5 148,215.5 C143,214 138,212 133,211 C130,210 128.5,208 129,205.5 Z" fill="#5f5f5f" filter="url(#tNi)"/>
<ellipse cx="128" cy="208" rx="3" ry="3.5" fill="#0a0a0a"/>
<ellipse cx="134" cy="214" rx="4" ry="2" fill="#0a0a0a"/>
<ellipse cx="150" cy="218.5" rx="5" ry="1.8" fill="#0a0a0a"/>
<ellipse cx="170" cy="212" rx="3" ry="2.5" fill="#0a0a0a"/>
<ellipse cx="160" cy="198" rx="4" ry="1.5" fill="#0a0a0a"/>
<ellipse cx="137" cy="201" rx="3" ry="2" fill="#0a0a0a"/>
<polygon points="48.70,163.89 52.98,164.47 48.98,171.31" fill="#2fb35c"/>
<polygon points="67.30,157.99 71.58,158.56 67.59,165.41" fill="#2fb35c"/>
<polygon points="61.70,192.79 65.97,193.37 61.98,200.21" fill="#2fb35c"/>
<polygon points="98.50,190.79 102.78,191.37 98.79,198.21" fill="#2fb35c"/>
<polygon points="104.60,214.89 108.88,215.47 104.89,222.31" fill="#2fb35c"/>
<polygon points="121.30,233.99 125.58,234.56 121.59,241.41" fill="#2fb35c"/>
<polygon points="162.20,219.29 166.47,219.87 162.48,226.71" fill="#2fb35c"/>
</g>
<rect x="30.65" y="148.15" width="161.7" height="121.2" fill="none" stroke="#1a74c4" stroke-width="1.8"/>
<line x1="26.00" y1="150.00" x2="26.00" y2="267.00" stroke="#1a74c4" stroke-width="1.6"/>
<text x="20.50" y="209.00" font-size="12.5" font-weight="bold" text-anchor="middle" fill="#1a74c4" transform="rotate(-90 20.5 209)">Enlarged</text>
<g clip-path="url(#c4)">
<rect x="196.00" y="147.00" width="163.00" height="123.00" fill="#888" filter="url(#tA4)"/>
<ellipse cx="249.8" cy="167.1" rx="3.8" ry="6.0" transform="rotate(2 249.8 167.1)" fill="#4d4d4d" opacity="0.8"/>
<ellipse cx="256.5" cy="156.0" rx="3.5" ry="5.4" transform="rotate(-4 256.5 156.0)" fill="#4d4d4d" opacity="0.8"/>
<ellipse cx="209.2" cy="159.9" rx="3.3" ry="8.1" transform="rotate(-23 209.2 159.9)" fill="#4d4d4d" opacity="0.8"/>
<ellipse cx="233.7" cy="224.3" rx="4.4" ry="9.4" transform="rotate(-6 233.7 224.3)" fill="#4d4d4d" opacity="0.8"/>
<ellipse cx="354.2" cy="154.6" rx="4.2" ry="7.7" transform="rotate(-21 354.2 154.6)" fill="#4d4d4d" opacity="0.8"/>
<ellipse cx="216.8" cy="186.0" rx="4.1" ry="7.0" transform="rotate(5 216.8 186.0)" fill="#4d4d4d" opacity="0.8"/>
<ellipse cx="300.2" cy="193.7" rx="3.6" ry="5.6" transform="rotate(-26 300.2 193.7)" fill="#4d4d4d" opacity="0.8"/>
<ellipse cx="231.0" cy="230.6" rx="3.4" ry="6.2" transform="rotate(5 231.0 230.6)" fill="#4d4d4d" opacity="0.8"/>
<ellipse cx="270.5" cy="185.0" rx="4.1" ry="9.3" transform="rotate(-15 270.5 185.0)" fill="#4d4d4d" opacity="0.8"/>
<ellipse cx="289.9" cy="212.0" rx="4.3" ry="9.8" transform="rotate(-13 289.9 212.0)" fill="#4d4d4d" opacity="0.8"/>
<ellipse cx="354.8" cy="163.2" rx="3.3" ry="7.8" transform="rotate(-21 354.8 163.2)" fill="#4d4d4d" opacity="0.8"/>
<ellipse cx="276.2" cy="153.7" rx="3.8" ry="9.0" transform="rotate(4 276.2 153.7)" fill="#4d4d4d" opacity="0.8"/>
<ellipse cx="338.1" cy="186.6" rx="3.9" ry="8.4" transform="rotate(5 338.1 186.6)" fill="#4d4d4d" opacity="0.8"/>
<ellipse cx="271.0" cy="249.8" rx="4.4" ry="8.9" transform="rotate(10 271.0 249.8)" fill="#4d4d4d" opacity="0.8"/>
<ellipse cx="207.7" cy="233.2" rx="3.8" ry="9.8" transform="rotate(19 207.7 233.2)" fill="#4d4d4d" opacity="0.8"/>
<ellipse cx="243.5" cy="195.3" rx="3.8" ry="5.9" transform="rotate(-2 243.5 195.3)" fill="#4d4d4d" opacity="0.8"/>
<ellipse cx="224.9" cy="163.1" rx="2.6" ry="6.1" transform="rotate(-22 224.9 163.1)" fill="#4d4d4d" opacity="0.8"/>
<ellipse cx="237.6" cy="195.9" rx="4.2" ry="6.7" transform="rotate(-3 237.6 195.9)" fill="#4d4d4d" opacity="0.8"/>
<ellipse cx="285.9" cy="255.0" rx="4.1" ry="10.1" transform="rotate(-13 285.9 255.0)" fill="#4d4d4d" opacity="0.8"/>
<ellipse cx="264.4" cy="192.1" rx="4.3" ry="10.9" transform="rotate(-21 264.4 192.1)" fill="#4d4d4d" opacity="0.8"/>
<ellipse cx="226.2" cy="176.8" rx="3.0" ry="6.0" transform="rotate(5 226.2 176.8)" fill="#4d4d4d" opacity="0.8"/>
<ellipse cx="240.0" cy="149.5" rx="3.3" ry="6.4" transform="rotate(4 240.0 149.5)" fill="#4d4d4d" opacity="0.8"/>
<ellipse cx="350.5" cy="231.9" rx="3.5" ry="7.7" transform="rotate(11 350.5 231.9)" fill="#4d4d4d" opacity="0.8"/>
<ellipse cx="206.6" cy="256.9" rx="4.1" ry="10.0" transform="rotate(18 206.6 256.9)" fill="#4d4d4d" opacity="0.8"/>
<ellipse cx="260.8" cy="196.9" rx="2.7" ry="5.9" transform="rotate(-26 260.8 196.9)" fill="#4d4d4d" opacity="0.8"/>
<ellipse cx="208.8" cy="174.1" rx="2.8" ry="5.3" transform="rotate(-27 208.8 174.1)" fill="#4d4d4d" opacity="0.8"/>
<ellipse cx="198.0" cy="167.2" rx="2.7" ry="5.1" transform="rotate(-28 198.0 167.2)" fill="#4d4d4d" opacity="0.8"/>
<ellipse cx="337.9" cy="222.7" rx="2.8" ry="5.0" transform="rotate(-9 337.9 222.7)" fill="#4d4d4d" opacity="0.8"/>
<ellipse cx="256.3" cy="163.7" rx="4.2" ry="10.9" transform="rotate(-2 256.3 163.7)" fill="#4d4d4d" opacity="0.8"/>
<ellipse cx="275.4" cy="159.3" rx="2.7" ry="5.1" transform="rotate(-14 275.4 159.3)" fill="#4d4d4d" opacity="0.8"/>
<ellipse cx="330.6" cy="168.4" rx="2.5" ry="6.5" transform="rotate(2 330.6 168.4)" fill="#4d4d4d" opacity="0.8"/>
<ellipse cx="221.5" cy="214.2" rx="2.6" ry="5.3" transform="rotate(29 221.5 214.2)" fill="#4d4d4d" opacity="0.8"/>
<ellipse cx="336.1" cy="232.5" rx="3.0" ry="5.8" transform="rotate(-20 336.1 232.5)" fill="#4d4d4d" opacity="0.8"/>
<ellipse cx="321.5" cy="212.9" rx="4.1" ry="7.6" transform="rotate(-17 321.5 212.9)" fill="#4d4d4d" opacity="0.8"/>
<ellipse cx="327.8" cy="267.2" rx="4.2" ry="10.0" transform="rotate(19 327.8 267.2)" fill="#4d4d4d" opacity="0.8"/>
<ellipse cx="316.4" cy="176.2" rx="3.5" ry="6.7" transform="rotate(-28 316.4 176.2)" fill="#4d4d4d" opacity="0.8"/>
<ellipse cx="202.5" cy="182.5" rx="3.0" ry="6.8" transform="rotate(27 202.5 182.5)" fill="#4d4d4d" opacity="0.8"/>
<ellipse cx="269.6" cy="261.4" rx="4.5" ry="11.4" transform="rotate(-8 269.6 261.4)" fill="#4d4d4d" opacity="0.8"/>
<ellipse cx="233.3" cy="176.2" rx="2.9" ry="5.0" transform="rotate(7 233.3 176.2)" fill="#4d4d4d" opacity="0.8"/>
<ellipse cx="342.0" cy="249.9" rx="3.5" ry="7.7" transform="rotate(18 342.0 249.9)" fill="#4d4d4d" opacity="0.8"/>
<ellipse cx="211.6" cy="228.3" rx="4.3" ry="10.2" transform="rotate(15 211.6 228.3)" fill="#4d4d4d" opacity="0.8"/>
<ellipse cx="274.5" cy="170.4" rx="4.1" ry="7.6" transform="rotate(18 274.5 170.4)" fill="#4d4d4d" opacity="0.8"/>
<ellipse cx="353.5" cy="196.5" rx="3.3" ry="8.4" transform="rotate(13 353.5 196.5)" fill="#4d4d4d" opacity="0.8"/>
<ellipse cx="225.2" cy="164.2" rx="2.8" ry="7.0" transform="rotate(18 225.2 164.2)" fill="#4d4d4d" opacity="0.8"/>
<ellipse cx="221.4" cy="248.2" rx="4.5" ry="9.9" transform="rotate(-9 221.4 248.2)" fill="#4d4d4d" opacity="0.8"/>
<ellipse cx="285.8" cy="164.7" rx="2.5" ry="6.5" transform="rotate(9 285.8 164.7)" fill="#4d4d4d" opacity="0.8"/>
<ellipse cx="282.3" cy="261.0" rx="3.4" ry="8.3" transform="rotate(20 282.3 261.0)" fill="#4d4d4d" opacity="0.8"/>
<ellipse cx="231.8" cy="179.2" rx="3.1" ry="5.4" transform="rotate(5 231.8 179.2)" fill="#4d4d4d" opacity="0.8"/>
<ellipse cx="239.5" cy="199.3" rx="2.8" ry="6.9" transform="rotate(-9 239.5 199.3)" fill="#4d4d4d" opacity="0.8"/>
<ellipse cx="271.3" cy="219.0" rx="4.3" ry="8.5" transform="rotate(25 271.3 219.0)" fill="#4d4d4d" opacity="0.8"/>
<ellipse cx="278.3" cy="212.8" rx="3.5" ry="5.4" transform="rotate(-4 278.3 212.8)" fill="#4d4d4d" opacity="0.8"/>
<ellipse cx="227.3" cy="149.5" rx="4.1" ry="6.9" transform="rotate(-2 227.3 149.5)" fill="#4d4d4d" opacity="0.8"/>
<ellipse cx="314.0" cy="215.8" rx="3.2" ry="6.5" transform="rotate(3 314.0 215.8)" fill="#4d4d4d" opacity="0.8"/>
<ellipse cx="323.5" cy="161.7" rx="3.6" ry="6.4" transform="rotate(-13 323.5 161.7)" fill="#4d4d4d" opacity="0.8"/>
<ellipse cx="321.6" cy="209.9" rx="3.6" ry="8.5" transform="rotate(25 321.6 209.9)" fill="#4d4d4d" opacity="0.8"/>
<ellipse cx="268.9" cy="222.5" rx="3.5" ry="7.2" transform="rotate(12 268.9 222.5)" fill="#4d4d4d" opacity="0.8"/>
<ellipse cx="270.4" cy="213.0" rx="3.5" ry="8.8" transform="rotate(12 270.4 213.0)" fill="#4d4d4d" opacity="0.8"/>
<ellipse cx="338.2" cy="262.1" rx="3.0" ry="6.4" transform="rotate(27 338.2 262.1)" fill="#4d4d4d" opacity="0.8"/>
<ellipse cx="332.4" cy="165.5" rx="2.7" ry="5.4" transform="rotate(-26 332.4 165.5)" fill="#4d4d4d" opacity="0.8"/>
<ellipse cx="236.5" cy="157.8" rx="3.8" ry="9.1" transform="rotate(24 236.5 157.8)" fill="#4d4d4d" opacity="0.8"/>
<ellipse cx="222.7" cy="234.9" rx="3.8" ry="6.3" transform="rotate(23 222.7 234.9)" fill="#4d4d4d" opacity="0.8"/>
<ellipse cx="352.8" cy="175.4" rx="4.4" ry="8.5" transform="rotate(-1 352.8 175.4)" fill="#4d4d4d" opacity="0.8"/>
<ellipse cx="356.4" cy="248.9" rx="2.8" ry="5.6" transform="rotate(1 356.4 248.9)" fill="#4d4d4d" opacity="0.8"/>
<ellipse cx="252.3" cy="172.5" rx="3.1" ry="7.2" transform="rotate(-29 252.3 172.5)" fill="#4d4d4d" opacity="0.8"/>
<ellipse cx="286.6" cy="201.9" rx="2.5" ry="4.7" transform="rotate(7 286.6 201.9)" fill="#4d4d4d" opacity="0.8"/>
<ellipse cx="280.0" cy="156.7" rx="4.5" ry="10.6" transform="rotate(28 280.0 156.7)" fill="#4d4d4d" opacity="0.8"/>
<ellipse cx="214.8" cy="180.9" rx="2.6" ry="6.1" transform="rotate(-14 214.8 180.9)" fill="#4d4d4d" opacity="0.8"/>
<ellipse cx="218.7" cy="199.7" rx="4.3" ry="10.4" transform="rotate(-14 218.7 199.7)" fill="#4d4d4d" opacity="0.8"/>
<ellipse cx="221.9" cy="259.3" rx="3.6" ry="8.3" transform="rotate(-25 221.9 259.3)" fill="#4d4d4d" opacity="0.8"/>
<ellipse cx="207.2" cy="231.6" rx="3.4" ry="5.3" transform="rotate(26 207.2 231.6)" fill="#4d4d4d" opacity="0.8"/>
<path d="M257.5,187.1 Q259.6,189.7 258.5,193.3 Q257.4,196.8 254.5,198.6 Q251.7,200.4 249.1,198.4 Q246.6,196.3 244.3,194.7 Q242.0,193.0 242.3,189.8 Q242.6,186.6 244.2,184.1 Q245.9,181.5 248.5,181.7 Q251.2,182.0 253.3,183.2 Q255.4,184.5 257.5,187.1Z" fill="#e2e2e2" filter="url(#tWp)"/>
<path d="M283.4,172.2 Q283.7,174.4 282.9,176.2 Q282.1,177.9 280.8,179.1 Q279.5,180.4 278.0,179.5 Q276.5,178.7 275.5,177.4 Q274.5,176.1 273.9,174.1 Q273.3,172.1 274.7,170.7 Q276.1,169.2 277.8,168.8 Q279.5,168.3 281.3,169.2 Q283.0,170.0 283.4,172.2Z" fill="#e2e2e2" filter="url(#tWp)"/>
<path d="M231.3,193.3 Q231.6,195.8 230.3,197.7 Q228.9,199.5 227.1,201.6 Q225.3,203.7 222.2,202.9 Q219.2,202.2 217.1,200.3 Q215.0,198.4 215.1,195.8 Q215.2,193.2 216.8,190.8 Q218.5,188.4 221.7,188.8 Q225.0,189.2 227.9,190.0 Q230.9,190.7 231.3,193.3Z" fill="#e2e2e2" filter="url(#tWp)"/>
<path d="M215.6,184.1 Q216.5,185.4 215.8,186.8 Q215.1,188.2 212.4,189.1 Q209.7,189.9 206.8,189.4 Q203.8,188.8 202.4,187.7 Q201.0,186.6 200.3,185.3 Q199.6,184.0 201.3,182.7 Q203.1,181.4 206.4,181.2 Q209.6,181.0 212.2,181.9 Q214.8,182.7 215.6,184.1Z" fill="#e2e2e2" filter="url(#tWp)"/>
<path d="M242.6,202.0 Q244.0,203.5 242.7,205.1 Q241.4,206.7 239.7,207.5 Q238.0,208.4 236.0,208.2 Q233.9,208.1 231.9,206.9 Q229.9,205.7 230.7,203.8 Q231.6,201.8 232.9,200.6 Q234.2,199.4 236.1,199.1 Q238.0,198.8 239.5,199.7 Q241.1,200.5 242.6,202.0Z" fill="#e2e2e2" filter="url(#tWp)"/>
<path d="M241.8,222.9 Q242.2,226.0 241.8,229.1 Q241.5,232.3 239.8,234.5 Q238.1,236.6 236.2,235.1 Q234.4,233.6 233.1,231.4 Q231.9,229.1 232.0,226.1 Q232.1,223.0 233.3,220.7 Q234.4,218.4 236.2,217.0 Q238.1,215.6 239.8,217.7 Q241.5,219.8 241.8,222.9Z" fill="#e2e2e2" filter="url(#tWp)"/>
<path d="M225.0,247.1 Q225.3,249.0 224.7,250.5 Q224.0,252.1 223.0,253.7 Q221.9,255.3 220.2,254.8 Q218.4,254.4 217.2,252.8 Q215.9,251.2 216.5,249.2 Q217.0,247.3 217.8,245.6 Q218.6,244.0 220.3,243.2 Q222.0,242.4 223.4,243.8 Q224.8,245.2 225.0,247.1Z" fill="#e2e2e2" filter="url(#tWp)"/>
<path d="M302.0,166.1 Q302.6,167.7 301.4,168.8 Q300.1,170.0 299.1,171.2 Q298.0,172.5 296.5,171.6 Q295.1,170.6 293.9,169.8 Q292.7,169.0 293.1,167.8 Q293.4,166.6 293.9,165.1 Q294.3,163.7 296.1,163.5 Q297.9,163.4 299.6,164.0 Q301.4,164.6 302.0,166.1Z" fill="#e2e2e2" filter="url(#tWp)"/>
<path d="M320.9,151.9 Q322.0,153.0 321.4,154.6 Q320.9,156.1 319.2,156.6 Q317.4,157.1 315.6,157.2 Q313.7,157.3 312.7,155.9 Q311.7,154.5 312.0,153.1 Q312.4,151.7 313.1,150.2 Q313.8,148.8 315.6,149.0 Q317.4,149.2 318.6,149.9 Q319.8,150.7 320.9,151.9Z" fill="#e2e2e2" filter="url(#tWp)"/>
<path d="M216.9,198.4 Q217.3,200.0 217.1,201.8 Q216.9,203.6 215.4,204.3 Q213.8,204.9 211.9,205.4 Q209.9,205.8 208.5,204.1 Q207.2,202.3 207.9,200.3 Q208.7,198.3 209.8,197.1 Q210.8,195.9 212.4,195.1 Q213.9,194.3 215.2,195.6 Q216.4,196.8 216.9,198.4Z" fill="#e2e2e2" filter="url(#tWp)"/>
<path d="M208.1,209.3 Q208.4,211.0 208.1,212.7 Q207.8,214.5 206.1,214.8 Q204.5,215.2 203.1,215.1 Q201.6,215.0 200.2,213.9 Q198.8,212.9 199.2,211.2 Q199.6,209.4 200.6,208.3 Q201.7,207.2 203.2,206.4 Q204.7,205.5 206.2,206.5 Q207.8,207.5 208.1,209.3Z" fill="#e2e2e2" filter="url(#tWp)"/>
<path d="M266.9,253.9 Q268.1,255.4 267.2,257.0 Q266.2,258.7 264.3,259.3 Q262.5,259.9 260.4,259.9 Q258.4,259.8 256.9,258.5 Q255.4,257.3 255.6,255.5 Q255.8,253.7 257.4,252.7 Q259.0,251.7 260.7,251.4 Q262.4,251.1 264.1,251.8 Q265.7,252.5 266.9,253.9Z" fill="#e2e2e2" filter="url(#tWp)"/>
<path d="M326.2,243.2 Q326.8,245.6 326.0,247.8 Q325.2,250.0 323.8,251.1 Q322.3,252.3 320.6,252.2 Q318.8,252.2 318.3,249.8 Q317.8,247.5 317.3,245.3 Q316.8,243.2 318.0,241.7 Q319.3,240.2 320.8,239.6 Q322.3,238.9 324.0,239.8 Q325.7,240.7 326.2,243.2Z" fill="#e2e2e2" filter="url(#tWp)"/>
<path d="M264.3,189.1 Q264.5,190.0 264.6,191.1 Q264.6,192.2 263.5,192.2 Q262.4,192.3 261.5,192.4 Q260.5,192.5 259.9,191.8 Q259.3,191.0 259.4,190.1 Q259.6,189.1 260.1,188.3 Q260.5,187.5 261.5,187.3 Q262.5,187.2 263.3,187.7 Q264.1,188.2 264.3,189.1Z" fill="#e2e2e2" filter="url(#tWp)"/>
<path d="M248.5,175.3 Q249.1,176.0 248.4,176.6 Q247.7,177.2 247.1,177.7 Q246.5,178.2 245.4,178.3 Q244.4,178.3 244.1,177.5 Q243.7,176.7 243.3,175.9 Q242.9,175.1 243.8,174.6 Q244.8,174.2 245.6,173.8 Q246.5,173.5 247.2,174.1 Q247.9,174.7 248.5,175.3Z" fill="#e2e2e2" filter="url(#tWp)"/>
<path d="M347.5,213.1 Q347.8,214.0 347.5,214.9 Q347.1,215.8 346.3,216.0 Q345.4,216.3 344.4,216.5 Q343.5,216.7 342.9,215.8 Q342.3,215.0 342.2,214.0 Q342.1,212.9 342.8,212.2 Q343.6,211.5 344.5,211.3 Q345.5,211.1 346.4,211.6 Q347.2,212.1 347.5,213.1Z" fill="#e2e2e2" filter="url(#tWp)"/>
<path d="M206.3,233.4 Q206.5,235.0 206.4,236.8 Q206.4,238.6 205.0,238.7 Q203.5,238.9 202.2,239.3 Q200.8,239.8 199.8,238.3 Q198.9,236.9 199.2,235.1 Q199.4,233.4 200.2,231.9 Q200.9,230.4 202.3,230.2 Q203.7,230.0 204.9,230.9 Q206.0,231.8 206.3,233.4Z" fill="#e2e2e2" filter="url(#tWp)"/>
<path d="M231.4,256.6 Q231.5,258.0 231.1,259.1 Q230.7,260.3 229.7,260.9 Q228.6,261.5 227.4,261.3 Q226.3,261.0 225.0,260.3 Q223.7,259.6 224.2,258.2 Q224.7,256.8 225.4,255.8 Q226.2,254.9 227.4,254.6 Q228.6,254.4 230.0,254.8 Q231.3,255.2 231.4,256.6Z" fill="#e2e2e2" filter="url(#tWp)"/>
<path d="M196,147 L251,147 C247,153 243,158 238,162 C231,168 222,175 214,176 C205,178 199,179 196,179 Z" fill="#cdcdcd" filter="url(#tDr2)"/>
<path d="M331,270 C331,258 332,248 335,242 C338,236 345,231 352,229 C356,228 359,228 359,228 L359,270 Z" fill="#cdcdcd" filter="url(#tDr2)"/>
<ellipse cx="318.5" cy="159.2" rx="2.7" ry="6.6" transform="rotate(-14 318.5 159.2)" fill="#505050" opacity="0.85"/>
<ellipse cx="322.5" cy="169.0" rx="3.2" ry="5.7" transform="rotate(10 322.5 169.0)" fill="#505050" opacity="0.85"/>
<ellipse cx="344.5" cy="161.2" rx="2.9" ry="6.2" transform="rotate(-3 344.5 161.2)" fill="#505050" opacity="0.85"/>
<ellipse cx="357.9" cy="157.6" rx="2.2" ry="6.1" transform="rotate(-4 357.9 157.6)" fill="#505050" opacity="0.85"/>
<ellipse cx="325.9" cy="177.1" rx="2.7" ry="7.3" transform="rotate(-12 325.9 177.1)" fill="#505050" opacity="0.85"/>
<ellipse cx="326.7" cy="198.0" rx="2.9" ry="8.0" transform="rotate(14 326.7 198.0)" fill="#505050" opacity="0.85"/>
<ellipse cx="332.2" cy="166.7" rx="3.3" ry="9.2" transform="rotate(-19 332.2 166.7)" fill="#505050" opacity="0.85"/>
<ellipse cx="347.4" cy="221.2" rx="3.0" ry="5.7" transform="rotate(12 347.4 221.2)" fill="#505050" opacity="0.85"/>
<ellipse cx="347.2" cy="165.9" rx="3.0" ry="5.7" transform="rotate(-18 347.2 165.9)" fill="#505050" opacity="0.85"/>
<ellipse cx="331.4" cy="177.4" rx="2.7" ry="6.5" transform="rotate(13 331.4 177.4)" fill="#505050" opacity="0.85"/>
<ellipse cx="356.5" cy="230.1" rx="3.5" ry="8.9" transform="rotate(-8 356.5 230.1)" fill="#505050" opacity="0.85"/>
<ellipse cx="325.1" cy="201.1" rx="2.9" ry="7.0" transform="rotate(-16 325.1 201.1)" fill="#505050" opacity="0.85"/>
<ellipse cx="325.7" cy="225.5" rx="3.0" ry="7.3" transform="rotate(-16 325.7 225.5)" fill="#505050" opacity="0.85"/>
<ellipse cx="334.0" cy="224.6" rx="3.0" ry="8.5" transform="rotate(-12 334.0 224.6)" fill="#505050" opacity="0.85"/>
<ellipse cx="336.2" cy="215.6" rx="2.8" ry="7.1" transform="rotate(2 336.2 215.6)" fill="#505050" opacity="0.85"/>
<ellipse cx="322.7" cy="158.1" rx="3.5" ry="6.1" transform="rotate(-12 322.7 158.1)" fill="#505050" opacity="0.85"/>
<ellipse cx="331.4" cy="208.5" rx="3.3" ry="7.2" transform="rotate(-0 331.4 208.5)" fill="#505050" opacity="0.85"/>
<ellipse cx="349.5" cy="172.8" rx="2.7" ry="6.3" transform="rotate(5 349.5 172.8)" fill="#505050" opacity="0.85"/>
<ellipse cx="319.5" cy="159.2" rx="2.4" ry="5.9" transform="rotate(8 319.5 159.2)" fill="#505050" opacity="0.85"/>
<ellipse cx="356.9" cy="212.9" rx="2.5" ry="6.4" transform="rotate(19 356.9 212.9)" fill="#505050" opacity="0.85"/>
<ellipse cx="331.9" cy="150.9" rx="2.7" ry="5.2" transform="rotate(-13 331.9 150.9)" fill="#505050" opacity="0.85"/>
<ellipse cx="319.8" cy="160.2" rx="3.3" ry="5.5" transform="rotate(5 319.8 160.2)" fill="#505050" opacity="0.85"/>
<ellipse cx="326.3" cy="165.9" rx="3.3" ry="6.4" transform="rotate(-13 326.3 165.9)" fill="#505050" opacity="0.85"/>
<ellipse cx="336.2" cy="207.0" rx="2.9" ry="7.6" transform="rotate(-4 336.2 207.0)" fill="#505050" opacity="0.85"/>
<ellipse cx="339.0" cy="208.8" rx="2.8" ry="6.9" transform="rotate(-1 339.0 208.8)" fill="#505050" opacity="0.85"/>
<ellipse cx="323.3" cy="160.1" rx="3.2" ry="8.0" transform="rotate(18 323.3 160.1)" fill="#505050" opacity="0.85"/>
<ellipse cx="312.4" cy="179.0" rx="2.4" ry="6.3" transform="rotate(-15 312.4 179.0)" fill="#505050" opacity="0.85"/>
<ellipse cx="307.6" cy="157.0" rx="2.7" ry="5.3" transform="rotate(-3 307.6 157.0)" fill="#505050" opacity="0.85"/>
<ellipse cx="312.8" cy="177.1" rx="2.5" ry="6.4" transform="rotate(9 312.8 177.1)" fill="#505050" opacity="0.85"/>
<ellipse cx="314.9" cy="151.6" rx="3.0" ry="8.0" transform="rotate(-10 314.9 151.6)" fill="#505050" opacity="0.85"/>
<ellipse cx="303.6" cy="190.7" rx="2.7" ry="5.6" transform="rotate(13 303.6 190.7)" fill="#505050" opacity="0.85"/>
<ellipse cx="306.9" cy="159.9" rx="2.5" ry="5.0" transform="rotate(8 306.9 159.9)" fill="#505050" opacity="0.85"/>
<ellipse cx="212.2" cy="260.8" rx="2.3" ry="4.3" transform="rotate(5 212.2 260.8)" fill="#505050" opacity="0.85"/>
<ellipse cx="217.1" cy="250.0" rx="3.4" ry="6.6" transform="rotate(-13 217.1 250.0)" fill="#505050" opacity="0.85"/>
<ellipse cx="197.5" cy="249.3" rx="2.6" ry="5.6" transform="rotate(-20 197.5 249.3)" fill="#505050" opacity="0.85"/>
<ellipse cx="196.0" cy="245.2" rx="3.2" ry="6.2" transform="rotate(17 196.0 245.2)" fill="#505050" opacity="0.85"/>
<ellipse cx="221.5" cy="246.1" rx="3.2" ry="6.0" transform="rotate(4 221.5 246.1)" fill="#505050" opacity="0.85"/>
<ellipse cx="233.2" cy="251.6" rx="2.6" ry="4.5" transform="rotate(3 233.2 251.6)" fill="#505050" opacity="0.85"/>
<ellipse cx="204.3" cy="244.9" rx="2.9" ry="7.9" transform="rotate(7 204.3 244.9)" fill="#505050" opacity="0.85"/>
<ellipse cx="218.9" cy="264.3" rx="2.6" ry="5.4" transform="rotate(7 218.9 264.3)" fill="#505050" opacity="0.85"/>
<path d="M321,185 C323,200 324,220 325,236" stroke="#555" stroke-width="6" stroke-linecap="round" fill="none" opacity="0.8"/>
<path d="M266,227 C265,213 272,202 282,201 C288,200 292,203 296,201.5 C304,200 313,205 315.5,214 C318,226 317,240 311.5,247.5 C306,254 296,256 288,255.5 C278,255 269,248 267,238 Z" fill="#d6d6d6" filter="url(#tNu)"/>
<path d="M266,227 C265,213 272,202 282,201 C288,200 292,203 296,201.5 C304,200 313,205 315.5,214 C318,226 317,240 311.5,247.5 C306,254 296,256 288,255.5 C278,255 269,248 267,238 Z" fill="none" stroke="#3a3a3a" stroke-width="2.8"/>
<path d="M268.5,227 C268,214 274,204 282,203.5 C288,203 292,206 296,204.5 C303,203 311,207 313,215 C315.5,226 314.5,239 309.5,246 C304,252 296,253.5 288,253 C279,252 271,246 269.5,237 Z" fill="none" stroke="#efefef" stroke-width="1.5"/>
<path d="M278,215 C282,214 285,220 285,228 C285,238 284,246 280,250 C276,250 274,244 274,236 C274,226 275,218 278,215 Z" fill="#161616"/>
<path d="M283,208 C287,205 291,208 291,212 C291,217 288,221 285,219 C283,216 282,212 283,208 Z M293,207 C297,205 302,206 305,209 C307,213 305,218 301,219 C297,219 294,215 293,211 Z M299,221 C303,219 307,222 308,227 C309,234 307,240 303,242 C300,242 299,236 299,230 Z M288,224 C291,223 293,227 293,232 C293,238 291,243 289,242 C287,240 287,232 288,224 Z" fill="#161616"/>
<rect x="324.00" y="265.00" width="31.00" height="3.00" fill="#000"/>
<polygon points="312.30,146.69 316.57,147.27 312.58,154.11" fill="#da2a2a"/>
<polygon points="215.40,175.59 219.68,176.17 215.69,183.01" fill="#da2a2a"/>
<polygon points="228.90,178.09 233.18,178.67 229.19,185.51" fill="#da2a2a"/>
<polygon points="257.80,170.19 262.07,170.77 258.08,177.61" fill="#da2a2a"/>
<polygon points="240.70,189.89 244.97,190.47 240.98,197.31" fill="#da2a2a"/>
<polygon points="276.70,191.59 280.98,192.17 276.99,199.01" fill="#da2a2a"/>
<polygon points="251.70,202.09 255.97,202.67 251.98,209.51" fill="#da2a2a"/>
<polygon points="271.80,170.19 276.07,170.77 272.08,177.61" fill="#f7bb00"/>
<polygon points="298.80,163.89 303.07,164.47 299.08,171.31" fill="#f7bb00"/>
<polygon points="329.50,158.99 333.77,159.56 329.78,166.41" fill="#f7bb00"/>
<polygon points="315.50,180.09 319.77,180.67 315.78,187.51" fill="#f7bb00"/>
<polygon points="329.50,176.89 333.77,177.47 329.78,184.31" fill="#f7bb00"/>
<polygon points="263.20,193.29 267.48,193.87 263.49,200.71" fill="#f7bb00"/>
<polygon points="330.70,195.29 334.98,195.87 330.99,202.71" fill="#f7bb00"/>
<polygon points="330.70,205.09 334.98,205.67 330.99,212.51" fill="#f7bb00"/>
<polygon points="215.90,203.79 220.18,204.37 216.19,211.21" fill="#f7bb00"/>
</g>
<rect x="196.65" y="148.15" width="161.7" height="121.2" fill="none" stroke="#1a74c4" stroke-width="1.8"/>
<g clip-path="url(#c5)">
<rect x="30.00" y="273.00" width="163.00" height="123.00" fill="#7a7a7a" filter="url(#tA5)"/>
<ellipse cx="28.0" cy="277.1" rx="8.2" ry="8.0" transform="rotate(120 28.0 277.1)" fill="#999" stroke="#5a5a5a" stroke-width="1.3" opacity="0.5"/>
<ellipse cx="45.0" cy="270.6" rx="7.9" ry="6.9" transform="rotate(58 45.0 270.6)" fill="#999" stroke="#5a5a5a" stroke-width="1.3" opacity="0.5"/>
<ellipse cx="65.4" cy="276.4" rx="10.0" ry="8.2" transform="rotate(166 65.4 276.4)" fill="#999" stroke="#5a5a5a" stroke-width="1.3" opacity="0.5"/>
<ellipse cx="78.9" cy="275.8" rx="7.3" ry="6.3" transform="rotate(14 78.9 275.8)" fill="#999" stroke="#5a5a5a" stroke-width="1.3" opacity="0.5"/>
<ellipse cx="94.6" cy="276.8" rx="7.4" ry="6.3" transform="rotate(95 94.6 276.8)" fill="#999" stroke="#5a5a5a" stroke-width="1.3" opacity="0.5"/>
<ellipse cx="110.8" cy="275.5" rx="7.2" ry="5.9" transform="rotate(147 110.8 275.5)" fill="#999" stroke="#5a5a5a" stroke-width="1.3" opacity="0.5"/>
<ellipse cx="132.0" cy="272.5" rx="7.1" ry="6.0" transform="rotate(7 132.0 272.5)" fill="#999" stroke="#5a5a5a" stroke-width="1.3" opacity="0.5"/>
<ellipse cx="149.2" cy="276.6" rx="9.0" ry="8.8" transform="rotate(130 149.2 276.6)" fill="#999" stroke="#5a5a5a" stroke-width="1.3" opacity="0.5"/>
<ellipse cx="167.7" cy="271.5" rx="9.3" ry="8.1" transform="rotate(74 167.7 271.5)" fill="#999" stroke="#5a5a5a" stroke-width="1.3" opacity="0.5"/>
<ellipse cx="183.2" cy="271.1" rx="7.9" ry="6.4" transform="rotate(63 183.2 271.1)" fill="#999" stroke="#5a5a5a" stroke-width="1.3" opacity="0.5"/>
<ellipse cx="202.3" cy="271.9" rx="7.6" ry="7.6" transform="rotate(173 202.3 271.9)" fill="#999" stroke="#5a5a5a" stroke-width="1.3" opacity="0.5"/>
<ellipse cx="40.6" cy="291.9" rx="8.8" ry="8.6" transform="rotate(29 40.6 291.9)" fill="#999" stroke="#5a5a5a" stroke-width="1.3" opacity="0.5"/>
<ellipse cx="51.7" cy="288.7" rx="8.9" ry="7.2" transform="rotate(53 51.7 288.7)" fill="#999" stroke="#5a5a5a" stroke-width="1.3" opacity="0.5"/>
<ellipse cx="70.2" cy="285.4" rx="7.4" ry="7.4" transform="rotate(89 70.2 285.4)" fill="#999" stroke="#5a5a5a" stroke-width="1.3" opacity="0.5"/>
<ellipse cx="88.8" cy="286.7" rx="9.9" ry="9.1" transform="rotate(149 88.8 286.7)" fill="#999" stroke="#5a5a5a" stroke-width="1.3" opacity="0.5"/>
<ellipse cx="106.8" cy="284.4" rx="7.1" ry="6.2" transform="rotate(157 106.8 284.4)" fill="#999" stroke="#5a5a5a" stroke-width="1.3" opacity="0.5"/>
<ellipse cx="119.7" cy="289.5" rx="7.7" ry="6.6" transform="rotate(150 119.7 289.5)" fill="#999" stroke="#5a5a5a" stroke-width="1.3" opacity="0.5"/>
<ellipse cx="142.4" cy="285.6" rx="7.5" ry="6.0" transform="rotate(165 142.4 285.6)" fill="#999" stroke="#5a5a5a" stroke-width="1.3" opacity="0.5"/>
<ellipse cx="161.1" cy="288.1" rx="7.2" ry="6.6" transform="rotate(164 161.1 288.1)" fill="#999" stroke="#5a5a5a" stroke-width="1.3" opacity="0.5"/>
<ellipse cx="170.8" cy="286.1" rx="7.1" ry="5.8" transform="rotate(64 170.8 286.1)" fill="#999" stroke="#5a5a5a" stroke-width="1.3" opacity="0.5"/>
<ellipse cx="187.9" cy="286.6" rx="7.6" ry="6.9" transform="rotate(111 187.9 286.6)" fill="#999" stroke="#5a5a5a" stroke-width="1.3" opacity="0.5"/>
<ellipse cx="31.3" cy="299.1" rx="8.6" ry="8.5" transform="rotate(79 31.3 299.1)" fill="#999" stroke="#5a5a5a" stroke-width="1.3" opacity="0.5"/>
<ellipse cx="49.6" cy="300.6" rx="9.5" ry="8.9" transform="rotate(71 49.6 300.6)" fill="#999" stroke="#5a5a5a" stroke-width="1.3" opacity="0.5"/>
<ellipse cx="66.5" cy="298.4" rx="8.7" ry="7.6" transform="rotate(129 66.5 298.4)" fill="#999" stroke="#5a5a5a" stroke-width="1.3" opacity="0.5"/>
<ellipse cx="84.8" cy="304.2" rx="7.7" ry="7.3" transform="rotate(87 84.8 304.2)" fill="#999" stroke="#5a5a5a" stroke-width="1.3" opacity="0.5"/>
<ellipse cx="96.1" cy="303.0" rx="7.3" ry="6.2" transform="rotate(75 96.1 303.0)" fill="#999" stroke="#5a5a5a" stroke-width="1.3" opacity="0.5"/>
<ellipse cx="111.2" cy="299.4" rx="9.8" ry="8.1" transform="rotate(159 111.2 299.4)" fill="#999" stroke="#5a5a5a" stroke-width="1.3" opacity="0.5"/>
<ellipse cx="131.1" cy="306.7" rx="7.5" ry="6.4" transform="rotate(170 131.1 306.7)" fill="#999" stroke="#5a5a5a" stroke-width="1.3" opacity="0.5"/>
<ellipse cx="146.5" cy="298.4" rx="7.4" ry="7.2" transform="rotate(145 146.5 298.4)" fill="#999" stroke="#5a5a5a" stroke-width="1.3" opacity="0.5"/>
<ellipse cx="166.9" cy="302.4" rx="7.3" ry="6.3" transform="rotate(25 166.9 302.4)" fill="#999" stroke="#5a5a5a" stroke-width="1.3" opacity="0.5"/>
<ellipse cx="179.9" cy="303.4" rx="8.9" ry="7.4" transform="rotate(149 179.9 303.4)" fill="#999" stroke="#5a5a5a" stroke-width="1.3" opacity="0.5"/>
<ellipse cx="196.9" cy="300.9" rx="7.4" ry="6.6" transform="rotate(5 196.9 300.9)" fill="#999" stroke="#5a5a5a" stroke-width="1.3" opacity="0.5"/>
<ellipse cx="41.6" cy="318.9" rx="9.4" ry="8.4" transform="rotate(164 41.6 318.9)" fill="#999" stroke="#5a5a5a" stroke-width="1.3" opacity="0.5"/>
<ellipse cx="58.3" cy="320.2" rx="9.4" ry="8.9" transform="rotate(62 58.3 320.2)" fill="#999" stroke="#5a5a5a" stroke-width="1.3" opacity="0.5"/>
<ellipse cx="68.7" cy="319.6" rx="8.4" ry="6.8" transform="rotate(52 68.7 319.6)" fill="#999" stroke="#5a5a5a" stroke-width="1.3" opacity="0.5"/>
<ellipse cx="88.9" cy="320.5" rx="9.9" ry="8.3" transform="rotate(159 88.9 320.5)" fill="#999" stroke="#5a5a5a" stroke-width="1.3" opacity="0.5"/>
<ellipse cx="110.1" cy="315.4" rx="8.9" ry="8.7" transform="rotate(122 110.1 315.4)" fill="#999" stroke="#5a5a5a" stroke-width="1.3" opacity="0.5"/>
<ellipse cx="127.3" cy="317.4" rx="7.4" ry="6.5" transform="rotate(12 127.3 317.4)" fill="#999" stroke="#5a5a5a" stroke-width="1.3" opacity="0.5"/>
<ellipse cx="140.2" cy="313.8" rx="8.3" ry="6.9" transform="rotate(133 140.2 313.8)" fill="#999" stroke="#5a5a5a" stroke-width="1.3" opacity="0.5"/>
<ellipse cx="160.5" cy="317.0" rx="8.3" ry="8.2" transform="rotate(142 160.5 317.0)" fill="#999" stroke="#5a5a5a" stroke-width="1.3" opacity="0.5"/>
<ellipse cx="175.1" cy="316.6" rx="7.4" ry="6.7" transform="rotate(11 175.1 316.6)" fill="#999" stroke="#5a5a5a" stroke-width="1.3" opacity="0.5"/>
<ellipse cx="188.3" cy="313.8" rx="8.3" ry="8.0" transform="rotate(149 188.3 313.8)" fill="#999" stroke="#5a5a5a" stroke-width="1.3" opacity="0.5"/>
<ellipse cx="30.9" cy="335.3" rx="8.7" ry="8.3" transform="rotate(50 30.9 335.3)" fill="#999" stroke="#5a5a5a" stroke-width="1.3" opacity="0.5"/>
<ellipse cx="49.9" cy="332.9" rx="8.9" ry="7.7" transform="rotate(9 49.9 332.9)" fill="#999" stroke="#5a5a5a" stroke-width="1.3" opacity="0.5"/>
<ellipse cx="61.4" cy="331.6" rx="9.5" ry="7.7" transform="rotate(106 61.4 331.6)" fill="#999" stroke="#5a5a5a" stroke-width="1.3" opacity="0.5"/>
<ellipse cx="79.0" cy="328.3" rx="8.7" ry="7.9" transform="rotate(168 79.0 328.3)" fill="#999" stroke="#5a5a5a" stroke-width="1.3" opacity="0.5"/>
<ellipse cx="95.5" cy="329.7" rx="7.0" ry="7.0" transform="rotate(145 95.5 329.7)" fill="#999" stroke="#5a5a5a" stroke-width="1.3" opacity="0.5"/>
<ellipse cx="118.2" cy="329.2" rx="7.0" ry="6.2" transform="rotate(44 118.2 329.2)" fill="#999" stroke="#5a5a5a" stroke-width="1.3" opacity="0.5"/>
<ellipse cx="133.0" cy="335.7" rx="9.2" ry="8.6" transform="rotate(109 133.0 335.7)" fill="#999" stroke="#5a5a5a" stroke-width="1.3" opacity="0.5"/>
<ellipse cx="147.2" cy="334.4" rx="7.8" ry="6.4" transform="rotate(122 147.2 334.4)" fill="#999" stroke="#5a5a5a" stroke-width="1.3" opacity="0.5"/>
<ellipse cx="169.3" cy="330.8" rx="9.9" ry="8.6" transform="rotate(46 169.3 330.8)" fill="#999" stroke="#5a5a5a" stroke-width="1.3" opacity="0.5"/>
<ellipse cx="184.2" cy="330.5" rx="7.3" ry="7.3" transform="rotate(110 184.2 330.5)" fill="#999" stroke="#5a5a5a" stroke-width="1.3" opacity="0.5"/>
<ellipse cx="197.8" cy="328.8" rx="9.3" ry="9.0" transform="rotate(136 197.8 328.8)" fill="#999" stroke="#5a5a5a" stroke-width="1.3" opacity="0.5"/>
<ellipse cx="36.6" cy="345.8" rx="9.8" ry="8.1" transform="rotate(150 36.6 345.8)" fill="#999" stroke="#5a5a5a" stroke-width="1.3" opacity="0.5"/>
<ellipse cx="59.6" cy="347.8" rx="9.8" ry="8.5" transform="rotate(105 59.6 347.8)" fill="#999" stroke="#5a5a5a" stroke-width="1.3" opacity="0.5"/>
<ellipse cx="71.0" cy="345.9" rx="8.7" ry="8.2" transform="rotate(116 71.0 345.9)" fill="#999" stroke="#5a5a5a" stroke-width="1.3" opacity="0.5"/>
<ellipse cx="92.6" cy="348.8" rx="7.7" ry="7.6" transform="rotate(66 92.6 348.8)" fill="#999" stroke="#5a5a5a" stroke-width="1.3" opacity="0.5"/>
<ellipse cx="105.9" cy="349.9" rx="8.6" ry="7.7" transform="rotate(109 105.9 349.9)" fill="#999" stroke="#5a5a5a" stroke-width="1.3" opacity="0.5"/>
<ellipse cx="124.0" cy="348.5" rx="8.7" ry="7.6" transform="rotate(42 124.0 348.5)" fill="#999" stroke="#5a5a5a" stroke-width="1.3" opacity="0.5"/>
<ellipse cx="137.3" cy="346.4" rx="9.7" ry="7.8" transform="rotate(53 137.3 346.4)" fill="#999" stroke="#5a5a5a" stroke-width="1.3" opacity="0.5"/>
<ellipse cx="158.1" cy="347.1" rx="8.4" ry="8.0" transform="rotate(142 158.1 347.1)" fill="#999" stroke="#5a5a5a" stroke-width="1.3" opacity="0.5"/>
<ellipse cx="171.0" cy="344.6" rx="7.8" ry="7.5" transform="rotate(35 171.0 344.6)" fill="#999" stroke="#5a5a5a" stroke-width="1.3" opacity="0.5"/>
<ellipse cx="187.9" cy="347.2" rx="7.5" ry="6.5" transform="rotate(108 187.9 347.2)" fill="#999" stroke="#5a5a5a" stroke-width="1.3" opacity="0.5"/>
<ellipse cx="31.1" cy="361.6" rx="8.8" ry="8.2" transform="rotate(84 31.1 361.6)" fill="#999" stroke="#5a5a5a" stroke-width="1.3" opacity="0.5"/>
<ellipse cx="48.6" cy="359.3" rx="9.2" ry="8.0" transform="rotate(175 48.6 359.3)" fill="#999" stroke="#5a5a5a" stroke-width="1.3" opacity="0.5"/>
<ellipse cx="65.0" cy="362.2" rx="9.3" ry="8.7" transform="rotate(67 65.0 362.2)" fill="#999" stroke="#5a5a5a" stroke-width="1.3" opacity="0.5"/>
<ellipse cx="80.4" cy="363.7" rx="9.2" ry="8.8" transform="rotate(172 80.4 363.7)" fill="#999" stroke="#5a5a5a" stroke-width="1.3" opacity="0.5"/>
<ellipse cx="102.1" cy="361.7" rx="10.0" ry="8.6" transform="rotate(69 102.1 361.7)" fill="#999" stroke="#5a5a5a" stroke-width="1.3" opacity="0.5"/>
<ellipse cx="111.5" cy="357.6" rx="8.8" ry="7.4" transform="rotate(111 111.5 357.6)" fill="#999" stroke="#5a5a5a" stroke-width="1.3" opacity="0.5"/>
<ellipse cx="134.4" cy="361.2" rx="9.2" ry="8.0" transform="rotate(114 134.4 361.2)" fill="#999" stroke="#5a5a5a" stroke-width="1.3" opacity="0.5"/>
<ellipse cx="149.4" cy="363.2" rx="8.7" ry="8.5" transform="rotate(121 149.4 363.2)" fill="#999" stroke="#5a5a5a" stroke-width="1.3" opacity="0.5"/>
<ellipse cx="167.7" cy="361.1" rx="9.9" ry="8.8" transform="rotate(30 167.7 361.1)" fill="#999" stroke="#5a5a5a" stroke-width="1.3" opacity="0.5"/>
<ellipse cx="183.1" cy="360.5" rx="7.5" ry="6.1" transform="rotate(32 183.1 360.5)" fill="#999" stroke="#5a5a5a" stroke-width="1.3" opacity="0.5"/>
<ellipse cx="201.8" cy="358.9" rx="8.6" ry="6.8" transform="rotate(16 201.8 358.9)" fill="#999" stroke="#5a5a5a" stroke-width="1.3" opacity="0.5"/>
<ellipse cx="41.6" cy="372.3" rx="9.9" ry="8.1" transform="rotate(81 41.6 372.3)" fill="#999" stroke="#5a5a5a" stroke-width="1.3" opacity="0.5"/>
<ellipse cx="56.7" cy="376.2" rx="7.5" ry="6.9" transform="rotate(79 56.7 376.2)" fill="#999" stroke="#5a5a5a" stroke-width="1.3" opacity="0.5"/>
<ellipse cx="75.6" cy="373.2" rx="8.6" ry="7.7" transform="rotate(100 75.6 373.2)" fill="#999" stroke="#5a5a5a" stroke-width="1.3" opacity="0.5"/>
<ellipse cx="92.0" cy="377.4" rx="8.0" ry="6.4" transform="rotate(108 92.0 377.4)" fill="#999" stroke="#5a5a5a" stroke-width="1.3" opacity="0.5"/>
<ellipse cx="104.6" cy="376.9" rx="9.6" ry="9.5" transform="rotate(117 104.6 376.9)" fill="#999" stroke="#5a5a5a" stroke-width="1.3" opacity="0.5"/>
<ellipse cx="123.4" cy="374.7" rx="7.5" ry="7.1" transform="rotate(79 123.4 374.7)" fill="#999" stroke="#5a5a5a" stroke-width="1.3" opacity="0.5"/>
<ellipse cx="139.8" cy="377.4" rx="7.8" ry="6.8" transform="rotate(85 139.8 377.4)" fill="#999" stroke="#5a5a5a" stroke-width="1.3" opacity="0.5"/>
<ellipse cx="160.0" cy="379.1" rx="7.7" ry="6.2" transform="rotate(98 160.0 379.1)" fill="#999" stroke="#5a5a5a" stroke-width="1.3" opacity="0.5"/>
<ellipse cx="173.1" cy="374.4" rx="9.1" ry="8.2" transform="rotate(123 173.1 374.4)" fill="#999" stroke="#5a5a5a" stroke-width="1.3" opacity="0.5"/>
<ellipse cx="189.4" cy="379.6" rx="7.8" ry="6.4" transform="rotate(79 189.4 379.6)" fill="#999" stroke="#5a5a5a" stroke-width="1.3" opacity="0.5"/>
<ellipse cx="29.2" cy="392.0" rx="8.6" ry="7.5" transform="rotate(101 29.2 392.0)" fill="#999" stroke="#5a5a5a" stroke-width="1.3" opacity="0.5"/>
<ellipse cx="50.8" cy="393.4" rx="7.3" ry="5.8" transform="rotate(3 50.8 393.4)" fill="#999" stroke="#5a5a5a" stroke-width="1.3" opacity="0.5"/>
<ellipse cx="60.2" cy="394.0" rx="7.8" ry="7.8" transform="rotate(32 60.2 394.0)" fill="#999" stroke="#5a5a5a" stroke-width="1.3" opacity="0.5"/>
<ellipse cx="81.0" cy="394.2" rx="7.1" ry="6.8" transform="rotate(2 81.0 394.2)" fill="#999" stroke="#5a5a5a" stroke-width="1.3" opacity="0.5"/>
<ellipse cx="94.2" cy="389.7" rx="8.5" ry="6.8" transform="rotate(117 94.2 389.7)" fill="#999" stroke="#5a5a5a" stroke-width="1.3" opacity="0.5"/>
<ellipse cx="118.0" cy="392.1" rx="9.7" ry="8.3" transform="rotate(43 118.0 392.1)" fill="#999" stroke="#5a5a5a" stroke-width="1.3" opacity="0.5"/>
<ellipse cx="130.9" cy="391.1" rx="7.3" ry="6.0" transform="rotate(87 130.9 391.1)" fill="#999" stroke="#5a5a5a" stroke-width="1.3" opacity="0.5"/>
<ellipse cx="146.5" cy="391.2" rx="9.4" ry="8.8" transform="rotate(106 146.5 391.2)" fill="#999" stroke="#5a5a5a" stroke-width="1.3" opacity="0.5"/>
<ellipse cx="162.5" cy="389.1" rx="7.6" ry="6.7" transform="rotate(124 162.5 389.1)" fill="#999" stroke="#5a5a5a" stroke-width="1.3" opacity="0.5"/>
<ellipse cx="180.7" cy="392.9" rx="8.8" ry="7.4" transform="rotate(179 180.7 392.9)" fill="#999" stroke="#5a5a5a" stroke-width="1.3" opacity="0.5"/>
<ellipse cx="198.6" cy="395.5" rx="8.4" ry="7.4" transform="rotate(32 198.6 395.5)" fill="#999" stroke="#5a5a5a" stroke-width="1.3" opacity="0.5"/>
<path d="M30,273 L76,273 C66,277 50,282 30,288 Z" fill="#dcdcdc"/>
<path d="M193,275 C183,278 175,290 174,305 C174,320 182,334 193,339 Z" fill="#dedede" stroke="#333" stroke-width="0.8" filter="url(#tDr)"/>
<path d="M30,331.6 C38,332 45,332.5 49,333.7 C54,335 57,337 59.5,339 C62,342 64,345 65.9,347.3 C68.5,351 70.5,354.5 72.2,357.9 C73.8,361 74.8,364 75.3,367.3 C76,371 76.3,375 76.4,378.9 C76.8,384 77.2,389 77.4,395 L30,395 Z" fill="#bdbdbd" stroke="#555" stroke-width="0.8"/>
<path d="M30,333 C38,333.5 45,334 49,335.5 C53,337 56,339 58,342 C60,346 61.5,352 62.5,358 C63.5,366 64,374 64.5,382 C64.8,387 65,391 65,395 L30,395 Z" fill="#e4e4e4"/>
<circle cx="37.7" cy="392.7" r="0.41" fill="#444" opacity="0.75"/>
<circle cx="54.0" cy="339.2" r="0.46" fill="#444" opacity="0.75"/>
<circle cx="64.0" cy="346.8" r="0.64" fill="#444" opacity="0.75"/>
<circle cx="45.6" cy="361.6" r="0.57" fill="#444" opacity="0.75"/>
<circle cx="36.5" cy="384.7" r="0.39" fill="#444" opacity="0.75"/>
<circle cx="38.0" cy="335.2" r="0.47" fill="#444" opacity="0.75"/>
<circle cx="43.9" cy="389.0" r="0.52" fill="#444" opacity="0.75"/>
<circle cx="33.9" cy="349.8" r="0.80" fill="#444" opacity="0.75"/>
<circle cx="32.1" cy="371.8" r="0.52" fill="#444" opacity="0.75"/>
<circle cx="52.5" cy="354.6" r="0.66" fill="#444" opacity="0.75"/>
<circle cx="46.9" cy="373.6" r="0.76" fill="#444" opacity="0.75"/>
<circle cx="49.8" cy="342.7" r="0.38" fill="#444" opacity="0.75"/>
<circle cx="62.2" cy="363.8" r="0.44" fill="#444" opacity="0.75"/>
<circle cx="62.2" cy="369.3" r="0.68" fill="#444" opacity="0.75"/>
<circle cx="60.0" cy="351.4" r="0.51" fill="#444" opacity="0.75"/>
<circle cx="59.9" cy="342.2" r="0.69" fill="#444" opacity="0.75"/>
<circle cx="33.3" cy="376.1" r="0.67" fill="#444" opacity="0.75"/>
<circle cx="62.3" cy="385.5" r="0.58" fill="#444" opacity="0.75"/>
<circle cx="36.7" cy="343.2" r="0.59" fill="#444" opacity="0.75"/>
<circle cx="47.3" cy="338.4" r="0.76" fill="#444" opacity="0.75"/>
<circle cx="47.3" cy="376.8" r="0.45" fill="#444" opacity="0.75"/>
<circle cx="38.3" cy="334.7" r="0.50" fill="#444" opacity="0.75"/>
<circle cx="39.1" cy="359.8" r="0.52" fill="#444" opacity="0.75"/>
<circle cx="58.4" cy="388.4" r="0.43" fill="#444" opacity="0.75"/>
<circle cx="43.5" cy="344.1" r="0.65" fill="#444" opacity="0.75"/>
<circle cx="63.1" cy="346.3" r="0.69" fill="#444" opacity="0.75"/>
<circle cx="40.2" cy="334.8" r="0.69" fill="#444" opacity="0.75"/>
<circle cx="41.6" cy="344.4" r="0.55" fill="#444" opacity="0.75"/>
<circle cx="37.9" cy="359.0" r="0.55" fill="#444" opacity="0.75"/>
<circle cx="44.2" cy="369.9" r="0.48" fill="#444" opacity="0.75"/>
<circle cx="33.2" cy="339.2" r="0.40" fill="#444" opacity="0.75"/>
<circle cx="47.7" cy="356.0" r="0.71" fill="#444" opacity="0.75"/>
<circle cx="47.2" cy="377.2" r="0.79" fill="#444" opacity="0.75"/>
<circle cx="32.1" cy="335.0" r="0.41" fill="#444" opacity="0.75"/>
<circle cx="43.1" cy="369.0" r="0.68" fill="#444" opacity="0.75"/>
<circle cx="41.9" cy="392.9" r="0.35" fill="#444" opacity="0.75"/>
<circle cx="58.4" cy="346.8" r="0.74" fill="#444" opacity="0.75"/>
<circle cx="31.1" cy="392.9" r="0.69" fill="#444" opacity="0.75"/>
<circle cx="63.7" cy="369.4" r="0.43" fill="#444" opacity="0.75"/>
<circle cx="63.0" cy="360.9" r="0.39" fill="#444" opacity="0.75"/>
<circle cx="50.6" cy="364.3" r="0.56" fill="#444" opacity="0.75"/>
<circle cx="35.3" cy="341.4" r="0.61" fill="#444" opacity="0.75"/>
<circle cx="45.4" cy="341.7" r="0.55" fill="#444" opacity="0.75"/>
<circle cx="54.7" cy="377.6" r="0.56" fill="#444" opacity="0.75"/>
<circle cx="43.4" cy="356.0" r="0.45" fill="#444" opacity="0.75"/>
<circle cx="36.7" cy="361.2" r="0.40" fill="#444" opacity="0.75"/>
<circle cx="54.7" cy="377.2" r="0.63" fill="#444" opacity="0.75"/>
<circle cx="30.8" cy="356.2" r="0.54" fill="#444" opacity="0.75"/>
<circle cx="33.2" cy="393.0" r="0.69" fill="#444" opacity="0.75"/>
<circle cx="47.1" cy="377.0" r="0.44" fill="#444" opacity="0.75"/>
<circle cx="37.8" cy="366.1" r="0.68" fill="#444" opacity="0.75"/>
<circle cx="52.0" cy="334.4" r="0.63" fill="#444" opacity="0.75"/>
<circle cx="60.9" cy="379.3" r="0.77" fill="#444" opacity="0.75"/>
<circle cx="63.4" cy="347.6" r="0.48" fill="#444" opacity="0.75"/>
<circle cx="48.6" cy="393.6" r="0.52" fill="#444" opacity="0.75"/>
<circle cx="62.0" cy="385.9" r="0.58" fill="#444" opacity="0.75"/>
<circle cx="51.3" cy="392.4" r="0.70" fill="#444" opacity="0.75"/>
<circle cx="40.1" cy="385.6" r="0.44" fill="#444" opacity="0.75"/>
<circle cx="42.6" cy="392.5" r="0.73" fill="#444" opacity="0.75"/>
<circle cx="40.6" cy="351.7" r="0.63" fill="#444" opacity="0.75"/>
<circle cx="58.6" cy="375.7" r="0.77" fill="#444" opacity="0.75"/>
<circle cx="54.8" cy="384.1" r="0.62" fill="#444" opacity="0.75"/>
<circle cx="42.3" cy="360.1" r="0.57" fill="#444" opacity="0.75"/>
<circle cx="48.0" cy="385.1" r="0.47" fill="#444" opacity="0.75"/>
<circle cx="32.3" cy="378.7" r="0.47" fill="#444" opacity="0.75"/>
<circle cx="44.3" cy="341.1" r="0.72" fill="#444" opacity="0.75"/>
<circle cx="39.3" cy="351.8" r="0.71" fill="#444" opacity="0.75"/>
<circle cx="47.1" cy="350.9" r="0.75" fill="#444" opacity="0.75"/>
<circle cx="44.0" cy="356.0" r="0.78" fill="#444" opacity="0.75"/>
<circle cx="56.9" cy="379.6" r="0.46" fill="#444" opacity="0.75"/>
<circle cx="57.7" cy="370.4" r="0.72" fill="#444" opacity="0.75"/>
<circle cx="42.5" cy="381.6" r="0.71" fill="#444" opacity="0.75"/>
<circle cx="43.2" cy="373.9" r="0.70" fill="#444" opacity="0.75"/>
<circle cx="63.8" cy="390.1" r="0.70" fill="#444" opacity="0.75"/>
<circle cx="34.7" cy="371.2" r="0.66" fill="#444" opacity="0.75"/>
<circle cx="33.0" cy="362.2" r="0.74" fill="#444" opacity="0.75"/>
<circle cx="60.8" cy="390.4" r="0.39" fill="#444" opacity="0.75"/>
<circle cx="50.6" cy="386.8" r="0.64" fill="#444" opacity="0.75"/>
<circle cx="40.9" cy="336.4" r="0.76" fill="#444" opacity="0.75"/>
<circle cx="59.2" cy="373.9" r="0.51" fill="#444" opacity="0.75"/>
<circle cx="58.2" cy="383.7" r="0.68" fill="#444" opacity="0.75"/>
<circle cx="50.4" cy="353.5" r="0.48" fill="#444" opacity="0.75"/>
<circle cx="42.2" cy="353.9" r="0.58" fill="#444" opacity="0.75"/>
<circle cx="33.9" cy="378.0" r="0.51" fill="#444" opacity="0.75"/>
<circle cx="35.4" cy="349.5" r="0.53" fill="#444" opacity="0.75"/>
<circle cx="44.7" cy="381.7" r="0.39" fill="#444" opacity="0.75"/>
<circle cx="37.6" cy="351.9" r="0.43" fill="#444" opacity="0.75"/>
<circle cx="55.5" cy="340.6" r="0.37" fill="#444" opacity="0.75"/>
<circle cx="48.9" cy="378.9" r="0.72" fill="#444" opacity="0.75"/>
<circle cx="49.0" cy="353.9" r="0.75" fill="#444" opacity="0.75"/>
<circle cx="55.0" cy="363.2" r="0.60" fill="#444" opacity="0.75"/>
<circle cx="61.8" cy="394.8" r="0.77" fill="#444" opacity="0.75"/>
<circle cx="34.5" cy="353.9" r="0.53" fill="#444" opacity="0.75"/>
<circle cx="35.7" cy="380.5" r="0.38" fill="#444" opacity="0.75"/>
<circle cx="60.2" cy="369.7" r="0.63" fill="#444" opacity="0.75"/>
<circle cx="44.1" cy="391.1" r="0.61" fill="#444" opacity="0.75"/>
<circle cx="60.5" cy="390.3" r="0.66" fill="#444" opacity="0.75"/>
<circle cx="63.4" cy="363.9" r="0.51" fill="#444" opacity="0.75"/>
<circle cx="58.7" cy="366.2" r="0.49" fill="#444" opacity="0.75"/>
<circle cx="53.1" cy="363.0" r="0.41" fill="#444" opacity="0.75"/>
<circle cx="58.5" cy="364.5" r="0.79" fill="#444" opacity="0.75"/>
<circle cx="48.1" cy="391.1" r="0.48" fill="#444" opacity="0.75"/>
<circle cx="37.4" cy="366.1" r="0.70" fill="#444" opacity="0.75"/>
<circle cx="58.0" cy="373.5" r="0.41" fill="#444" opacity="0.75"/>
<circle cx="43.4" cy="336.1" r="0.52" fill="#444" opacity="0.75"/>
<circle cx="62.1" cy="355.2" r="0.66" fill="#444" opacity="0.75"/>
<circle cx="51.1" cy="342.7" r="0.66" fill="#444" opacity="0.75"/>
<circle cx="32.7" cy="345.3" r="0.61" fill="#444" opacity="0.75"/>
<circle cx="34.3" cy="392.8" r="0.54" fill="#444" opacity="0.75"/>
<circle cx="51.4" cy="392.9" r="0.40" fill="#444" opacity="0.75"/>
<ellipse cx="35.9" cy="340.8" rx="5.2" ry="3" fill="#0a0a0a"/>
<path d="M44,341 C47,348 50.5,356 53.8,364 C55.5,370 55.5,376 54,380.5 C52,385 48,388.5 44,391 C42,392.5 40.5,393.5 39.5,395" stroke="#0a0a0a" stroke-width="5" fill="none" stroke-linecap="round"/>
<ellipse cx="55" cy="346.5" rx="2.5" ry="3.2" fill="#6a6a6a"/>
<circle cx="51" cy="314" r="2.6" fill="#eee"/>
<circle cx="100" cy="352" r="2.6" fill="#eee"/>
<circle cx="158" cy="305" r="2.6" fill="#eee"/>
<circle cx="130" cy="313" r="2.6" fill="#eee"/>
<circle cx="42" cy="327" r="2.6" fill="#eee"/>
<circle cx="160" cy="327" r="2.6" fill="#eee"/>
</g>
<rect x="30.75" y="273.75" width="161.5" height="120.5" fill="none" stroke="#000" stroke-width="1.5"/>
<g clip-path="url(#c6)">
<rect x="196.00" y="273.00" width="163.00" height="123.00" fill="#b6b6b6" filter="url(#tA6)"/>
<polygon points="198.4,322.1 210.4,324.5 227.1,326.9 243.9,327.6 253.5,326.9 265.4,319.7 277.4,311.3 287,301.7 294.2,289.8 297.7,280.2 301.3,275.4 310.9,275.4 313.3,282.6 320.5,292.2 332.5,300.5 342,304.1 355.2,305.3 342,311.3 337.2,320.9 332.5,332.9 328.9,344.8 327.7,359.2 330.1,371.2 337.2,383.1 322.9,378.3 308.5,373.6 291.8,371.2 275,373.6 263,379.5 251.1,386.7 243.9,395 199,395 205.6,387.9 219.9,373.6 227.1,359.2 228.3,344.8 224.7,334 212.8,328.1" fill="#999" filter="url(#tA6c)"/>
<clipPath id="starc"><polygon points="198.4,322.1 210.4,324.5 227.1,326.9 243.9,327.6 253.5,326.9 265.4,319.7 277.4,311.3 287,301.7 294.2,289.8 297.7,280.2 301.3,275.4 310.9,275.4 313.3,282.6 320.5,292.2 332.5,300.5 342,304.1 355.2,305.3 342,311.3 337.2,320.9 332.5,332.9 328.9,344.8 327.7,359.2 330.1,371.2 337.2,383.1 322.9,378.3 308.5,373.6 291.8,371.2 275,373.6 263,379.5 251.1,386.7 243.9,395 199,395 205.6,387.9 219.9,373.6 227.1,359.2 228.3,344.8 224.7,334 212.8,328.1"/></clipPath>
<g clip-path="url(#starc)">
<ellipse cx="302.9" cy="368.6" rx="4.3" ry="3.5" transform="rotate(71 302.9 368.6)" fill="#565656" opacity="0.75"/>
<ellipse cx="351.5" cy="310.1" rx="3.4" ry="2.4" transform="rotate(47 351.5 310.1)" fill="#565656" opacity="0.75"/>
<ellipse cx="249.8" cy="307.6" rx="3.3" ry="2.4" transform="rotate(56 249.8 307.6)" fill="#565656" opacity="0.75"/>
<ellipse cx="286.5" cy="299.8" rx="3.2" ry="2.2" transform="rotate(98 286.5 299.8)" fill="#565656" opacity="0.75"/>
<ellipse cx="259.1" cy="362.5" rx="5.0" ry="3.8" transform="rotate(18 259.1 362.5)" fill="#565656" opacity="0.75"/>
<ellipse cx="310.7" cy="365.2" rx="4.0" ry="3.4" transform="rotate(54 310.7 365.2)" fill="#565656" opacity="0.75"/>
<ellipse cx="339.1" cy="374.4" rx="5.0" ry="4.9" transform="rotate(42 339.1 374.4)" fill="#565656" opacity="0.75"/>
<ellipse cx="282.9" cy="362.3" rx="5.0" ry="3.8" transform="rotate(25 282.9 362.3)" fill="#565656" opacity="0.75"/>
<ellipse cx="295.2" cy="288.3" rx="4.8" ry="2.9" transform="rotate(82 295.2 288.3)" fill="#565656" opacity="0.75"/>
<ellipse cx="272.9" cy="290.1" rx="4.2" ry="3.4" transform="rotate(66 272.9 290.1)" fill="#565656" opacity="0.75"/>
<ellipse cx="336.2" cy="378.2" rx="5.2" ry="3.6" transform="rotate(5 336.2 378.2)" fill="#565656" opacity="0.75"/>
<ellipse cx="257.2" cy="289.4" rx="4.8" ry="3.4" transform="rotate(23 257.2 289.4)" fill="#565656" opacity="0.75"/>
<ellipse cx="243.1" cy="323.6" rx="4.8" ry="3.8" transform="rotate(54 243.1 323.6)" fill="#565656" opacity="0.75"/>
<ellipse cx="303.0" cy="281.3" rx="3.5" ry="3.1" transform="rotate(135 303.0 281.3)" fill="#565656" opacity="0.75"/>
<ellipse cx="215.4" cy="283.8" rx="4.3" ry="3.7" transform="rotate(3 215.4 283.8)" fill="#565656" opacity="0.75"/>
<ellipse cx="266.4" cy="308.4" rx="3.2" ry="2.1" transform="rotate(51 266.4 308.4)" fill="#565656" opacity="0.75"/>
<ellipse cx="271.0" cy="289.2" rx="4.6" ry="4.3" transform="rotate(123 271.0 289.2)" fill="#565656" opacity="0.75"/>
<ellipse cx="210.3" cy="352.5" rx="4.6" ry="2.8" transform="rotate(69 210.3 352.5)" fill="#565656" opacity="0.75"/>
<ellipse cx="299.2" cy="388.1" rx="5.3" ry="4.4" transform="rotate(106 299.2 388.1)" fill="#565656" opacity="0.75"/>
<ellipse cx="345.7" cy="300.9" rx="4.3" ry="2.7" transform="rotate(139 345.7 300.9)" fill="#565656" opacity="0.75"/>
<ellipse cx="299.4" cy="300.8" rx="3.5" ry="2.8" transform="rotate(135 299.4 300.8)" fill="#565656" opacity="0.75"/>
<ellipse cx="220.7" cy="314.2" rx="4.3" ry="3.0" transform="rotate(159 220.7 314.2)" fill="#565656" opacity="0.75"/>
<ellipse cx="310.2" cy="388.7" rx="4.6" ry="4.0" transform="rotate(51 310.2 388.7)" fill="#565656" opacity="0.75"/>
<ellipse cx="276.7" cy="326.7" rx="4.2" ry="2.6" transform="rotate(153 276.7 326.7)" fill="#565656" opacity="0.75"/>
<ellipse cx="223.5" cy="330.1" rx="5.3" ry="4.3" transform="rotate(156 223.5 330.1)" fill="#565656" opacity="0.75"/>
<ellipse cx="239.6" cy="331.1" rx="3.9" ry="2.9" transform="rotate(66 239.6 331.1)" fill="#565656" opacity="0.75"/>
<ellipse cx="267.7" cy="375.3" rx="5.4" ry="3.5" transform="rotate(120 267.7 375.3)" fill="#565656" opacity="0.75"/>
<ellipse cx="280.4" cy="324.8" rx="3.1" ry="2.3" transform="rotate(57 280.4 324.8)" fill="#565656" opacity="0.75"/>
<ellipse cx="255.8" cy="346.0" rx="3.9" ry="2.8" transform="rotate(49 255.8 346.0)" fill="#565656" opacity="0.75"/>
<ellipse cx="348.5" cy="322.2" rx="5.4" ry="3.6" transform="rotate(120 348.5 322.2)" fill="#565656" opacity="0.75"/>
<ellipse cx="284.3" cy="359.8" rx="4.3" ry="4.1" transform="rotate(106 284.3 359.8)" fill="#565656" opacity="0.75"/>
<ellipse cx="207.1" cy="356.5" rx="4.5" ry="3.2" transform="rotate(132 207.1 356.5)" fill="#565656" opacity="0.75"/>
<ellipse cx="327.0" cy="308.7" rx="3.4" ry="2.4" transform="rotate(106 327.0 308.7)" fill="#565656" opacity="0.75"/>
<ellipse cx="267.5" cy="284.5" rx="4.1" ry="3.4" transform="rotate(104 267.5 284.5)" fill="#565656" opacity="0.75"/>
<ellipse cx="253.8" cy="368.7" rx="4.7" ry="3.3" transform="rotate(62 253.8 368.7)" fill="#565656" opacity="0.75"/>
<ellipse cx="340.6" cy="302.1" rx="4.1" ry="3.0" transform="rotate(105 340.6 302.1)" fill="#565656" opacity="0.75"/>
<ellipse cx="320.9" cy="290.6" rx="3.5" ry="2.2" transform="rotate(23 320.9 290.6)" fill="#565656" opacity="0.75"/>
<ellipse cx="279.1" cy="333.7" rx="5.4" ry="4.2" transform="rotate(95 279.1 333.7)" fill="#565656" opacity="0.75"/>
<ellipse cx="204.0" cy="302.6" rx="3.8" ry="2.6" transform="rotate(142 204.0 302.6)" fill="#565656" opacity="0.75"/>
<ellipse cx="263.4" cy="292.1" rx="4.3" ry="2.9" transform="rotate(33 263.4 292.1)" fill="#565656" opacity="0.75"/>
<ellipse cx="292.4" cy="286.1" rx="4.9" ry="3.8" transform="rotate(12 292.4 286.1)" fill="#565656" opacity="0.75"/>
<ellipse cx="302.5" cy="389.5" rx="4.8" ry="4.5" transform="rotate(169 302.5 389.5)" fill="#565656" opacity="0.75"/>
<ellipse cx="241.3" cy="333.4" rx="4.9" ry="3.7" transform="rotate(174 241.3 333.4)" fill="#565656" opacity="0.75"/>
<ellipse cx="264.3" cy="278.6" rx="3.2" ry="2.5" transform="rotate(3 264.3 278.6)" fill="#565656" opacity="0.75"/>
<ellipse cx="292.7" cy="393.4" rx="5.3" ry="5.3" transform="rotate(45 292.7 393.4)" fill="#565656" opacity="0.75"/>
<path d="M300.6,295.2 Q300.8,296.9 300.2,298.2 Q299.6,299.5 298.4,300.1 Q297.2,300.7 295.6,301.1 Q293.9,301.5 293.0,300.0 Q292.2,298.5 292.1,296.8 Q292.0,295.1 293.1,294.0 Q294.2,292.8 295.8,292.7 Q297.3,292.5 298.8,293.1 Q300.3,293.6 300.6,295.2Z" fill="#ebebeb" filter="url(#tWp)"/>
<path d="M329.1,299.6 Q329.9,300.5 329.5,301.7 Q329.1,302.9 327.6,303.4 Q326.1,304.0 324.4,303.9 Q322.7,303.8 321.9,302.7 Q321.1,301.6 321.4,300.6 Q321.6,299.5 322.5,298.8 Q323.3,298.0 324.7,297.5 Q326.1,296.9 327.2,297.8 Q328.2,298.7 329.1,299.6Z" fill="#ebebeb" filter="url(#tWp)"/>
<path d="M286.4,318.3 Q287.1,319.5 286.3,320.6 Q285.6,321.7 283.7,322.0 Q281.8,322.2 279.8,322.4 Q277.8,322.7 277.3,321.6 Q276.7,320.4 275.8,319.3 Q274.8,318.2 276.3,317.2 Q277.7,316.2 279.8,316.4 Q281.9,316.6 283.8,316.9 Q285.8,317.2 286.4,318.3Z" fill="#ebebeb" filter="url(#tWp)"/>
<path d="M249.2,342.6 Q250.1,343.6 249.1,344.5 Q248.0,345.5 247.0,346.3 Q245.9,347.2 244.6,346.7 Q243.2,346.1 241.6,345.5 Q240.1,345.0 240.3,343.7 Q240.5,342.3 241.4,341.2 Q242.4,340.0 244.1,340.5 Q245.7,340.9 247.0,341.2 Q248.3,341.6 249.2,342.6Z" fill="#ebebeb" filter="url(#tWp)"/>
<path d="M267.2,333.0 Q267.8,334.1 267.3,335.2 Q266.8,336.3 265.5,336.6 Q264.2,336.9 262.7,337.2 Q261.3,337.4 260.3,336.4 Q259.3,335.4 259.7,334.2 Q260.2,333.0 261.0,332.3 Q261.9,331.6 263.1,331.0 Q264.3,330.5 265.4,331.2 Q266.5,332.0 267.2,333.0Z" fill="#ebebeb" filter="url(#tWp)"/>
<path d="M288.9,330.4 Q289.5,331.6 288.6,332.7 Q287.8,333.8 286.1,334.3 Q284.3,334.8 282.7,334.4 Q281.1,334.0 280.0,333.3 Q278.9,332.6 278.5,331.5 Q278.1,330.5 279.2,329.4 Q280.3,328.4 282.3,328.3 Q284.4,328.3 286.3,328.8 Q288.2,329.2 288.9,330.4Z" fill="#ebebeb" filter="url(#tWp)"/>
<path d="M300.8,328.8 Q301.1,330.4 300.8,332.1 Q300.6,333.8 299.0,334.5 Q297.4,335.2 295.9,334.6 Q294.5,334.1 293.7,332.9 Q293.0,331.8 293.0,330.5 Q293.1,329.2 293.9,328.2 Q294.7,327.3 296.1,326.3 Q297.5,325.3 299.0,326.2 Q300.6,327.1 300.8,328.8Z" fill="#ebebeb" filter="url(#tWp)"/>
<path d="M307.9,347.3 Q308.7,348.4 307.7,349.3 Q306.6,350.2 305.6,351.1 Q304.6,352.0 303.2,351.4 Q301.8,350.9 300.3,350.3 Q298.8,349.8 299.0,348.5 Q299.2,347.2 300.2,346.1 Q301.3,345.1 302.9,345.0 Q304.6,344.9 305.8,345.6 Q307.1,346.3 307.9,347.3Z" fill="#ebebeb" filter="url(#tWp)"/>
<path d="M326.4,349.9 Q326.9,351.4 326.4,352.9 Q325.9,354.5 324.1,354.7 Q322.4,354.9 320.9,354.8 Q319.5,354.8 318.2,353.8 Q317.0,352.9 317.0,351.4 Q317.1,349.9 318.3,349.0 Q319.5,348.1 321.0,347.8 Q322.5,347.6 324.2,347.9 Q325.9,348.3 326.4,349.9Z" fill="#ebebeb" filter="url(#tWp)"/>
<path d="M329.3,323.2 Q329.3,324.4 328.8,325.4 Q328.3,326.4 327.2,327.2 Q326.1,328.0 324.7,327.6 Q323.2,327.1 321.8,326.4 Q320.3,325.8 320.8,324.6 Q321.3,323.4 322.0,322.2 Q322.6,321.0 324.3,321.2 Q326.0,321.3 327.6,321.6 Q329.3,321.9 329.3,323.2Z" fill="#ebebeb" filter="url(#tWp)"/>
<path d="M274.1,355.5 Q275.3,356.8 274.5,358.4 Q273.8,360.0 271.8,360.4 Q269.9,360.8 268.2,360.5 Q266.6,360.2 265.6,359.1 Q264.7,358.1 264.5,356.8 Q264.4,355.5 265.2,354.0 Q266.0,352.6 267.9,352.9 Q269.8,353.1 271.3,353.7 Q272.9,354.2 274.1,355.5Z" fill="#ebebeb" filter="url(#tWp)"/>
<path d="M298.3,362.0 Q298.9,363.4 297.8,364.5 Q296.7,365.6 295.3,366.3 Q293.9,367.0 292.2,366.8 Q290.5,366.5 288.9,365.7 Q287.2,364.9 287.9,363.6 Q288.5,362.3 289.0,360.7 Q289.6,359.2 291.8,359.3 Q294.0,359.3 295.9,360.0 Q297.8,360.6 298.3,362.0Z" fill="#ebebeb" filter="url(#tWp)"/>
<path d="M243.2,376.7 Q243.8,378.2 243.1,379.7 Q242.4,381.1 240.8,382.4 Q239.2,383.6 236.9,383.2 Q234.7,382.8 233.3,381.4 Q231.9,380.0 232.8,378.5 Q233.7,377.0 234.4,375.6 Q235.0,374.2 237.1,373.6 Q239.2,373.0 240.9,374.1 Q242.6,375.2 243.2,376.7Z" fill="#ebebeb" filter="url(#tWp)"/>
<path d="M290.7,369.7 Q291.5,370.6 291.0,371.5 Q290.4,372.5 288.5,372.7 Q286.7,372.9 284.7,373.1 Q282.7,373.2 281.2,372.4 Q279.8,371.6 280.6,370.7 Q281.4,369.8 282.2,368.9 Q282.9,368.1 284.9,367.9 Q286.8,367.7 288.4,368.3 Q289.9,368.9 290.7,369.7Z" fill="#ebebeb" filter="url(#tWp)"/>
<path d="M250.8,359.1 Q251.1,360.4 250.8,361.7 Q250.5,363.0 249.3,363.7 Q248.1,364.3 247.0,363.7 Q245.9,363.1 245.3,362.3 Q244.7,361.4 244.3,360.2 Q243.8,359.1 244.7,358.2 Q245.7,357.3 246.9,356.9 Q248.1,356.6 249.3,357.2 Q250.4,357.9 250.8,359.1Z" fill="#ebebeb" filter="url(#tWp)"/>
<path d="M235.5,333.1 Q236.0,334.1 235.8,335.2 Q235.5,336.3 234.0,336.7 Q232.6,337.1 230.9,337.2 Q229.3,337.3 228.2,336.3 Q227.2,335.3 227.6,334.2 Q228.0,333.0 228.8,332.1 Q229.5,331.1 231.1,330.9 Q232.7,330.6 233.8,331.4 Q235.0,332.1 235.5,333.1Z" fill="#ebebeb" filter="url(#tWp)"/>
<path d="M310.1,311.3 Q310.1,312.5 309.9,313.6 Q309.6,314.6 308.2,314.9 Q306.8,315.2 305.3,315.3 Q303.9,315.4 302.4,314.6 Q301.0,313.8 301.1,312.5 Q301.2,311.2 302.8,310.7 Q304.3,310.2 305.7,309.5 Q307.1,308.8 308.5,309.5 Q310.0,310.2 310.1,311.3Z" fill="#ebebeb" filter="url(#tWp)"/>
<path d="M336.9,312.9 Q337.3,315.0 336.4,316.5 Q335.5,317.9 334.6,319.6 Q333.8,321.2 332.6,320.3 Q331.3,319.3 330.1,318.3 Q328.9,317.2 329.2,315.2 Q329.6,313.2 330.4,311.8 Q331.2,310.3 332.4,310.3 Q333.6,310.2 335.1,310.5 Q336.5,310.8 336.9,312.9Z" fill="#ebebeb" filter="url(#tWp)"/>
<path d="M218.7,387.9 Q219.2,389.0 219.2,390.4 Q219.2,391.8 217.5,392.3 Q215.8,392.8 214.4,392.3 Q213.0,391.8 211.6,391.1 Q210.2,390.4 210.4,389.0 Q210.5,387.7 211.8,387.0 Q213.1,386.4 214.5,385.6 Q215.9,384.7 217.1,385.8 Q218.3,386.8 218.7,387.9Z" fill="#ebebeb" filter="url(#tWp)"/>
<path d="M257.0,320.4 Q257.0,321.5 257.1,322.7 Q257.2,323.9 256.0,324.5 Q254.7,325.1 253.5,324.7 Q252.2,324.2 251.5,323.4 Q250.9,322.5 250.6,321.4 Q250.4,320.3 251.2,319.4 Q252.0,318.5 253.4,318.2 Q254.7,318.0 255.8,318.7 Q256.9,319.4 257.0,320.4Z" fill="#ebebeb" filter="url(#tWp)"/>
</g>
<polygon points="198.4,322.1 210.4,324.5 227.1,326.9 243.9,327.6 253.5,326.9 265.4,319.7 277.4,311.3 287,301.7 294.2,289.8 297.7,280.2 301.3,275.4 310.9,275.4 313.3,282.6 320.5,292.2 332.5,300.5 342,304.1 355.2,305.3 342,311.3 337.2,320.9 332.5,332.9 328.9,344.8 327.7,359.2 330.1,371.2 337.2,383.1 322.9,378.3 308.5,373.6 291.8,371.2 275,373.6 263,379.5 251.1,386.7 243.9,395 199,395 205.6,387.9 219.9,373.6 227.1,359.2 228.3,344.8 224.7,334 212.8,328.1" fill="none" stroke="#444" stroke-width="0.7"/>
<rect x="322.50" y="389.00" width="31.00" height="2.80" fill="#000"/>
<polygon points="321.61,288.86 325.88,289.43 321.89,296.27" fill="#da2a2a"/>
<polygon points="337.30,298.18 341.58,298.75 337.59,305.59" fill="#da2a2a"/>
<polygon points="296.34,296.22 300.62,296.79 296.63,303.63" fill="#da2a2a"/>
<polygon points="279.17,303.09 283.45,303.66 279.46,310.50" fill="#da2a2a"/>
<polygon points="325.29,303.09 329.56,303.66 325.57,310.50" fill="#da2a2a"/>
<polygon points="306.89,309.22 311.17,309.79 307.18,316.63" fill="#da2a2a"/>
<polygon points="266.42,310.45 270.69,311.02 266.70,317.86" fill="#da2a2a"/>
<polygon points="250.97,319.03 255.24,319.60 251.25,326.44" fill="#da2a2a"/>
<polygon points="260.78,326.39 265.05,326.96 261.06,333.80" fill="#da2a2a"/>
<polygon points="290.70,324.67 294.98,325.24 290.99,332.08" fill="#da2a2a"/>
<polygon points="302.48,326.39 306.75,326.96 302.76,333.80" fill="#da2a2a"/>
<polygon points="329.46,328.84 333.73,329.41 329.74,336.25" fill="#da2a2a"/>
<polygon points="275.49,334.48 279.77,335.05 275.78,341.89" fill="#da2a2a"/>
<polygon points="263.72,339.39 268.00,339.96 264.01,346.80" fill="#da2a2a"/>
<polygon points="292.66,347.24 296.94,347.81 292.95,354.65" fill="#da2a2a"/>
<polygon points="326.51,349.20 330.79,349.77 326.80,356.61" fill="#da2a2a"/>
</g>
<rect x="196.75" y="273.75" width="161.5" height="120.5" fill="none" stroke="#000" stroke-width="1.5"/>
<line x1="363.70" y1="25.20" x2="363.70" y2="142.20" stroke="#000" stroke-width="1.6"/>
<text x="380.80" y="83.70" font-size="12.5" font-weight="bold" text-anchor="middle" fill="#000" transform="rotate(-90 380.8 83.7)">3k</text>
<line x1="363.70" y1="150.00" x2="363.70" y2="395.00" stroke="#000" stroke-width="1.6"/>
<text x="379.70" y="271.00" font-size="12.5" font-weight="bold" text-anchor="middle" fill="#000" transform="rotate(-90 379.7 271)">12k</text>
<text x="118.00" y="408.60" font-size="11.5" font-weight="bold" text-anchor="middle" fill="#000">Normal</text>
<text x="186.40" y="408.60" font-size="11.5" font-weight="bold" text-anchor="middle" fill="#000">Broken</text>
<text x="256.40" y="408.60" font-size="11.5" font-weight="bold" text-anchor="middle" fill="#000">Small</text>
<g clip-path="url(#k1)">
<rect x="88.5" y="412.5" width="60" height="60" fill="#888" filter="url(#tK)"/>
</g>
<g clip-path="url(#k2)">
<rect x="156.4" y="412.5" width="60" height="60" fill="#888" filter="url(#tK)"/>
</g>
<g clip-path="url(#k3)">
<rect x="226.60000000000002" y="412.5" width="60" height="60" fill="#888" filter="url(#tK)"/>
</g>
<circle cx="96.5" cy="431" r="4" fill="#eee"/>
<path d="M101,433 C104,427 110,425.5 117,425.8 C125,426.5 131,430 134.5,436 C138,442 139,449 137.5,454 C135,459.5 129,462 122,461.8 C114,461.5 106,458 101.5,452 C98,447 98,439 101,433 Z" fill="none" stroke="#2fb35c" stroke-width="1.7"/>
<path d="M106.0,448.0 q8,-3 16,2" stroke="#bbb" stroke-width="0.7" fill="none" opacity="0.7"/>
<path d="M109.2,444.5 q8,-3 16,2" stroke="#bbb" stroke-width="0.7" fill="none" opacity="0.7"/>
<path d="M112.4,441.0 q8,-3 16,2" stroke="#bbb" stroke-width="0.7" fill="none" opacity="0.7"/>
<path d="M115.6,437.5 q8,-3 16,2" stroke="#bbb" stroke-width="0.7" fill="none" opacity="0.7"/>
<path d="M118.8,434.0 q8,-3 16,2" stroke="#bbb" stroke-width="0.7" fill="none" opacity="0.7"/>
<path d="M122.0,430.5 q8,-3 16,2" stroke="#bbb" stroke-width="0.7" fill="none" opacity="0.7"/>
<polygon points="92.23,429.53 95.58,426.46 98.39,434.31" fill="#2fb35c"/>
<ellipse cx="120.2" cy="464.3" rx="3" ry="2.5" fill="#eee"/>
<path d="M170.1,431.5 C172.5,428 175,426 178,424.7 C184,422.5 190,421 195.6,420.8 C200,421 204,423 206.3,425.7 C209,430 209.5,435 208.3,439.4 C206.5,444 204,448 201.5,451.1 C198,454.5 195,456.5 191.7,458 C187,460 182,461 178,461.3 C175,461.5 172,461.5 170.1,461.3 L167.2,458.9 L169,455 L165.3,451.1 L168.5,447.5 L164.3,444.2 L167.2,439.4 Z" fill="#f2f2f2" stroke="#d0101a" stroke-width="1.7" stroke-linejoin="round"/>
<circle cx="178.0" cy="431.1" r="0.46" fill="#666" opacity="0.7"/>
<circle cx="175.3" cy="430.0" r="0.46" fill="#666" opacity="0.7"/>
<circle cx="201.2" cy="452.0" r="0.61" fill="#666" opacity="0.7"/>
<circle cx="177.5" cy="444.1" r="0.41" fill="#666" opacity="0.7"/>
<circle cx="175.9" cy="431.2" r="0.39" fill="#666" opacity="0.7"/>
<circle cx="201.5" cy="452.9" r="0.62" fill="#666" opacity="0.7"/>
<circle cx="197.2" cy="433.8" r="0.42" fill="#666" opacity="0.7"/>
<circle cx="191.3" cy="450.0" r="0.64" fill="#666" opacity="0.7"/>
<circle cx="199.9" cy="430.6" r="0.54" fill="#666" opacity="0.7"/>
<circle cx="192.8" cy="443.2" r="0.37" fill="#666" opacity="0.7"/>
<circle cx="186.1" cy="430.7" r="0.67" fill="#666" opacity="0.7"/>
<circle cx="199.4" cy="444.4" r="0.42" fill="#666" opacity="0.7"/>
<circle cx="200.9" cy="445.2" r="0.65" fill="#666" opacity="0.7"/>
<circle cx="198.8" cy="443.3" r="0.47" fill="#666" opacity="0.7"/>
<circle cx="190.4" cy="440.9" r="0.36" fill="#666" opacity="0.7"/>
<circle cx="180.4" cy="452.4" r="0.32" fill="#666" opacity="0.7"/>
<circle cx="171.6" cy="446.8" r="0.41" fill="#666" opacity="0.7"/>
<circle cx="188.2" cy="442.1" r="0.44" fill="#666" opacity="0.7"/>
<circle cx="203.9" cy="433.9" r="0.47" fill="#666" opacity="0.7"/>
<circle cx="176.9" cy="447.0" r="0.41" fill="#666" opacity="0.7"/>
<circle cx="182.1" cy="450.4" r="0.43" fill="#666" opacity="0.7"/>
<circle cx="189.0" cy="455.1" r="0.34" fill="#666" opacity="0.7"/>
<circle cx="172.1" cy="434.9" r="0.61" fill="#666" opacity="0.7"/>
<circle cx="190.9" cy="435.1" r="0.43" fill="#666" opacity="0.7"/>
<circle cx="176.0" cy="441.8" r="0.32" fill="#666" opacity="0.7"/>
<circle cx="193.7" cy="454.9" r="0.68" fill="#666" opacity="0.7"/>
<circle cx="195.0" cy="456.8" r="0.31" fill="#666" opacity="0.7"/>
<circle cx="179.8" cy="457.0" r="0.61" fill="#666" opacity="0.7"/>
<circle cx="184.0" cy="456.3" r="0.55" fill="#666" opacity="0.7"/>
<circle cx="197.8" cy="436.8" r="0.38" fill="#666" opacity="0.7"/>
<circle cx="185.1" cy="432.1" r="0.45" fill="#666" opacity="0.7"/>
<circle cx="202.7" cy="437.9" r="0.30" fill="#666" opacity="0.7"/>
<circle cx="171.5" cy="433.1" r="0.61" fill="#666" opacity="0.7"/>
<circle cx="182.3" cy="436.7" r="0.34" fill="#666" opacity="0.7"/>
<circle cx="203.4" cy="440.7" r="0.38" fill="#666" opacity="0.7"/>
<circle cx="172.0" cy="429.7" r="0.37" fill="#666" opacity="0.7"/>
<circle cx="193.0" cy="432.5" r="0.32" fill="#666" opacity="0.7"/>
<circle cx="186.7" cy="435.5" r="0.70" fill="#666" opacity="0.7"/>
<circle cx="174.2" cy="443.9" r="0.61" fill="#666" opacity="0.7"/>
<circle cx="183.9" cy="457.6" r="0.49" fill="#666" opacity="0.7"/>
<polygon points="169.56,420.75 174.06,420.17 171.87,428.21" fill="#da2a2a"/>
<ellipse cx="254" cy="419.3" rx="7.3" ry="6.6" fill="#f4f4f4"/>
<ellipse cx="233" cy="440" rx="5" ry="9" fill="#e8e8e8"/>
<ellipse cx="254.6" cy="442.7" rx="6" ry="16.8" fill="#7a7a7a" stroke="#f7bb00" stroke-width="1.7" transform="rotate(9 254.6 442.7)"/>
<polygon points="263.51,427.65 263.32,423.11 271.14,426.00" fill="#f7bb00"/>
<circle cx="118.5" cy="442.5" r="30.2" fill="none" stroke="#000" stroke-width="1.5"/>
<circle cx="186.4" cy="442.5" r="30.2" fill="none" stroke="#000" stroke-width="1.5"/>
<circle cx="256.6" cy="442.5" r="30.2" fill="none" stroke="#000" stroke-width="1.5"/>
<text x="399.00" y="12.00" font-size="17" font-weight="bold" text-anchor="start" fill="#000">b</text>
<defs><pattern id="hatch" patternUnits="userSpaceOnUse" width="3.2" height="3.2" patternTransform="rotate(45)"><rect width="3.2" height="3.2" fill="#fff"/><rect width="1.3" height="3.2" fill="#222"/></pattern></defs>
<rect x="452.90" y="8.00" width="14.30" height="3.40" fill="url(#hatch)" stroke="#111" stroke-width="1"/>
<rect x="452.90" y="20.30" width="14.30" height="3.80" fill="#fff" stroke="#111" stroke-width="1.2"/>
<rect x="452.90" y="32.30" width="14.30" height="4.20" fill="#222" stroke="#111" stroke-width="1"/>
<text x="476.80" y="13.30" font-size="9.5" font-weight="normal" text-anchor="start" fill="#333">Small (<tspan font-style="italic">p</tspan>&lt;0.001)</text>
<text x="476.80" y="25.70" font-size="9.5" font-weight="normal" text-anchor="start" fill="#333" letter-spacing="-0.15">Normal (<tspan font-style="italic">p</tspan>=0.006)</text>
<text x="476.80" y="38.10" font-size="9.5" font-weight="normal" text-anchor="start" fill="#333" letter-spacing="-0.15">Broken (<tspan font-style="italic">p</tspan>=0.01)</text>
<line x1="442.75" y1="44.60" x2="442.75" y2="195.80" stroke="#000" stroke-width="1.7"/>
<line x1="441.90" y1="195.00" x2="509.20" y2="195.00" stroke="#000" stroke-width="1.7"/>
<line x1="438.80" y1="195.00" x2="442.75" y2="195.00" stroke="#000" stroke-width="1.5"/>
<text x="436.20" y="200.06" font-size="11.0" font-weight="bold" text-anchor="end" fill="#000">0</text>
<line x1="438.80" y1="165.08" x2="442.75" y2="165.08" stroke="#000" stroke-width="1.5"/>
<text x="436.20" y="169.94" font-size="11.0" font-weight="bold" text-anchor="end" fill="#000">20</text>
<line x1="438.80" y1="135.16" x2="442.75" y2="135.16" stroke="#000" stroke-width="1.5"/>
<text x="436.20" y="139.82" font-size="11.0" font-weight="bold" text-anchor="end" fill="#000">40</text>
<line x1="438.80" y1="105.24" x2="442.75" y2="105.24" stroke="#000" stroke-width="1.5"/>
<text x="436.20" y="109.70" font-size="11.0" font-weight="bold" text-anchor="end" fill="#000">60</text>
<line x1="438.80" y1="75.32" x2="442.75" y2="75.32" stroke="#000" stroke-width="1.5"/>
<text x="436.20" y="79.58" font-size="11.0" font-weight="bold" text-anchor="end" fill="#000">80</text>
<line x1="438.80" y1="45.40" x2="442.75" y2="45.40" stroke="#000" stroke-width="1.5"/>
<text x="436.20" y="49.46" font-size="11.0" font-weight="bold" text-anchor="end" fill="#000">100</text>
<text x="413.00" y="117.40" font-size="10.6" font-weight="bold" text-anchor="middle" fill="#000" transform="rotate(-90 413.0 117.4)">Number of mitochondria</text>
<line x1="461.20" y1="157.60" x2="461.20" y2="153.11" stroke="#000" stroke-width="1.5"/>
<line x1="455.50" y1="153.11" x2="466.80" y2="153.11" stroke="#000" stroke-width="1.5"/>
<rect x="451.10" y="158.40" width="20.30" height="36.60" fill="#fff" stroke="#111" stroke-width="1.6"/>
<rect x="450.30" y="189.02" width="21.90" height="5.98" fill="#333"/>
<line x1="456.00" y1="187.52" x2="466.50" y2="187.52" stroke="#000" stroke-width="1.3"/>
<line x1="461.20" y1="189.02" x2="461.20" y2="187.52" stroke="#000" stroke-width="1.3"/>
<line x1="491.30" y1="102.25" x2="491.30" y2="90.28" stroke="#000" stroke-width="1.5"/>
<line x1="484.90" y1="90.28" x2="497.80" y2="90.28" stroke="#000" stroke-width="1.5"/>
<rect x="481.10" y="103.05" width="20.40" height="57.60" fill="url(#hatch)" stroke="#111" stroke-width="1.6"/>
<rect x="481.10" y="159.84" width="20.40" height="2.24" fill="#fff"/>
<rect x="480.30" y="162.09" width="22.00" height="32.91" fill="#333"/>
<line x1="485.50" y1="156.85" x2="497.00" y2="156.85" stroke="#000" stroke-width="1.3"/>
<line x1="491.30" y1="159.84" x2="491.30" y2="156.85" stroke="#000" stroke-width="1.3"/>
<text x="459.20" y="209.30" font-size="11.2" font-weight="bold" text-anchor="middle" fill="#000">WT</text>
<text x="491.20" y="209.30" font-size="11.0" font-weight="bold" text-anchor="middle" fill="#000">EiaKO</text>
<text x="558.50" y="12.00" font-size="17" font-weight="bold" text-anchor="start" fill="#000">c</text>
<circle cx="592.6" cy="22.8" r="4" fill="#000"/>
<text x="602.00" y="27.00" font-size="11.2" font-weight="bold" text-anchor="start" fill="#000">WT</text>
<rect x="628.00" y="18.60" width="8.20" height="8.20" fill="#d0101a"/>
<text x="641.30" y="27.00" font-size="11.2" font-weight="bold" text-anchor="start" fill="#000">EiaKO</text>
<line x1="608.70" y1="45.20" x2="608.70" y2="195.80" stroke="#000" stroke-width="1.7"/>
<line x1="607.90" y1="195.00" x2="673.60" y2="195.00" stroke="#000" stroke-width="1.7"/>
<line x1="603.50" y1="195.00" x2="608.70" y2="195.00" stroke="#000" stroke-width="1.5"/>
<text x="598.30" y="200.46" font-size="11.0" font-weight="bold" text-anchor="end" fill="#000">0.0</text>
<line x1="603.50" y1="165.20" x2="608.70" y2="165.20" stroke="#000" stroke-width="1.5"/>
<text x="598.30" y="170.14" font-size="11.0" font-weight="bold" text-anchor="end" fill="#000">0.5</text>
<line x1="603.50" y1="135.40" x2="608.70" y2="135.40" stroke="#000" stroke-width="1.5"/>
<text x="598.30" y="139.82" font-size="11.0" font-weight="bold" text-anchor="end" fill="#000">1.0</text>
<line x1="603.50" y1="105.60" x2="608.70" y2="105.60" stroke="#000" stroke-width="1.5"/>
<text x="598.30" y="109.50" font-size="11.0" font-weight="bold" text-anchor="end" fill="#000">1.5</text>
<line x1="603.50" y1="75.80" x2="608.70" y2="75.80" stroke="#000" stroke-width="1.5"/>
<text x="598.30" y="79.18" font-size="11.0" font-weight="bold" text-anchor="end" fill="#000">2.0</text>
<line x1="603.50" y1="46.00" x2="608.70" y2="46.00" stroke="#000" stroke-width="1.5"/>
<text x="598.30" y="48.86" font-size="11.0" font-weight="bold" text-anchor="end" fill="#000">2.5</text>
<text x="577.00" y="105.50" font-size="11.0" font-weight="bold" text-anchor="middle" fill="#000" transform="rotate(-90 577 105.5)">Area (µm<tspan font-size="7" dy="-4">2</tspan><tspan dy="4">)</tspan></text>
<rect x="618.20" y="144.34" width="18.00" height="50.66" fill="#000"/>
<rect x="645.50" y="174.14" width="18.00" height="20.86" fill="#d0101a"/>
<text x="641.50" y="55.20" font-size="7.4" font-weight="normal" text-anchor="middle" fill="#333"><tspan font-style="italic">p</tspan>&lt;0.001</text>
<line x1="626.00" y1="59.80" x2="654.60" y2="59.80" stroke="#555" stroke-width="1.1"/>
<circle cx="626.87" cy="98.19" r="1.15" fill="#fff" stroke="#000" stroke-width="1.2"/>
<circle cx="628.18" cy="101.35" r="1.15" fill="#fff" stroke="#000" stroke-width="1.2"/>
<circle cx="626.94" cy="104.34" r="1.15" fill="#fff" stroke="#000" stroke-width="1.2"/>
<circle cx="626.27" cy="106.97" r="1.15" fill="#fff" stroke="#000" stroke-width="1.2"/>
<circle cx="629.72" cy="107.12" r="1.15" fill="#fff" stroke="#000" stroke-width="1.2"/>
<circle cx="625.59" cy="109.69" r="1.15" fill="#fff" stroke="#000" stroke-width="1.2"/>
<circle cx="628.23" cy="109.80" r="1.15" fill="#fff" stroke="#000" stroke-width="1.2"/>
<circle cx="626.58" cy="113.06" r="1.15" fill="#fff" stroke="#000" stroke-width="1.2"/>
<circle cx="629.16" cy="112.77" r="1.15" fill="#fff" stroke="#000" stroke-width="1.2"/>
<circle cx="625.22" cy="116.33" r="1.15" fill="#fff" stroke="#000" stroke-width="1.2"/>
<circle cx="628.41" cy="115.73" r="1.15" fill="#fff" stroke="#000" stroke-width="1.2"/>
<circle cx="626.73" cy="118.71" r="1.15" fill="#fff" stroke="#000" stroke-width="1.2"/>
<circle cx="629.52" cy="118.70" r="1.15" fill="#fff" stroke="#000" stroke-width="1.2"/>
<circle cx="625.05" cy="122.30" r="1.15" fill="#fff" stroke="#000" stroke-width="1.2"/>
<circle cx="628.08" cy="121.77" r="1.15" fill="#fff" stroke="#000" stroke-width="1.2"/>
<circle cx="626.84" cy="125.30" r="1.15" fill="#fff" stroke="#000" stroke-width="1.2"/>
<circle cx="629.32" cy="125.37" r="1.15" fill="#fff" stroke="#000" stroke-width="1.2"/>
<circle cx="623.92" cy="128.14" r="1.15" fill="#fff" stroke="#000" stroke-width="1.2"/>
<circle cx="626.62" cy="128.35" r="1.15" fill="#fff" stroke="#000" stroke-width="1.2"/>
<circle cx="629.81" cy="128.37" r="1.15" fill="#fff" stroke="#000" stroke-width="1.2"/>
<circle cx="625.34" cy="130.84" r="1.15" fill="#fff" stroke="#000" stroke-width="1.2"/>
<circle cx="627.92" cy="130.73" r="1.15" fill="#fff" stroke="#000" stroke-width="1.2"/>
<circle cx="630.69" cy="130.65" r="1.15" fill="#fff" stroke="#000" stroke-width="1.2"/>
<circle cx="623.78" cy="134.08" r="1.15" fill="#fff" stroke="#000" stroke-width="1.2"/>
<circle cx="626.50" cy="134.14" r="1.15" fill="#fff" stroke="#000" stroke-width="1.2"/>
<circle cx="629.60" cy="133.85" r="1.15" fill="#fff" stroke="#000" stroke-width="1.2"/>
<circle cx="625.29" cy="136.98" r="1.15" fill="#fff" stroke="#000" stroke-width="1.2"/>
<circle cx="627.89" cy="136.98" r="1.15" fill="#fff" stroke="#000" stroke-width="1.2"/>
<circle cx="631.02" cy="136.65" r="1.15" fill="#fff" stroke="#000" stroke-width="1.2"/>
<circle cx="622.74" cy="139.62" r="1.15" fill="#fff" stroke="#000" stroke-width="1.2"/>
<circle cx="625.50" cy="140.28" r="1.15" fill="#fff" stroke="#000" stroke-width="1.2"/>
<circle cx="627.96" cy="140.23" r="1.15" fill="#fff" stroke="#000" stroke-width="1.2"/>
<circle cx="631.07" cy="140.06" r="1.15" fill="#fff" stroke="#000" stroke-width="1.2"/>
<circle cx="621.91" cy="142.09" r="1.15" fill="#fff" stroke="#000" stroke-width="1.2"/>
<circle cx="624.91" cy="142.81" r="1.15" fill="#fff" stroke="#000" stroke-width="1.2"/>
<circle cx="627.82" cy="142.65" r="1.15" fill="#fff" stroke="#000" stroke-width="1.2"/>
<circle cx="631.16" cy="142.80" r="1.15" fill="#fff" stroke="#000" stroke-width="1.2"/>
<circle cx="633.71" cy="142.33" r="1.15" fill="#fff" stroke="#000" stroke-width="1.2"/>
<circle cx="619.56" cy="145.12" r="1.3" fill="none" stroke="#fff" stroke-width="0.55"/>
<circle cx="622.21" cy="145.10" r="1.3" fill="none" stroke="#fff" stroke-width="0.55"/>
<circle cx="625.53" cy="145.19" r="1.3" fill="none" stroke="#fff" stroke-width="0.55"/>
<circle cx="627.97" cy="145.26" r="1.3" fill="none" stroke="#fff" stroke-width="0.55"/>
<circle cx="630.90" cy="144.77" r="1.15" fill="#fff" stroke="#000" stroke-width="1.2"/>
<circle cx="634.12" cy="145.23" r="1.3" fill="none" stroke="#fff" stroke-width="0.55"/>
<circle cx="621.10" cy="147.69" r="1.3" fill="none" stroke="#fff" stroke-width="0.55"/>
<circle cx="624.63" cy="147.20" r="1.3" fill="none" stroke="#fff" stroke-width="0.55"/>
<circle cx="627.89" cy="147.09" r="1.3" fill="none" stroke="#fff" stroke-width="0.55"/>
<circle cx="631.15" cy="147.07" r="1.3" fill="none" stroke="#fff" stroke-width="0.55"/>
<circle cx="634.91" cy="147.75" r="1.3" fill="none" stroke="#fff" stroke-width="0.55"/>
<circle cx="619.80" cy="149.89" r="1.3" fill="none" stroke="#fff" stroke-width="0.55"/>
<circle cx="623.69" cy="150.28" r="1.3" fill="none" stroke="#fff" stroke-width="0.55"/>
<circle cx="626.74" cy="150.04" r="1.3" fill="none" stroke="#fff" stroke-width="0.55"/>
<circle cx="630.26" cy="150.51" r="1.3" fill="none" stroke="#fff" stroke-width="0.55"/>
<circle cx="633.57" cy="150.19" r="1.3" fill="none" stroke="#fff" stroke-width="0.55"/>
<circle cx="620.93" cy="153.48" r="1.3" fill="none" stroke="#fff" stroke-width="0.55"/>
<circle cx="624.32" cy="153.14" r="1.3" fill="none" stroke="#fff" stroke-width="0.55"/>
<circle cx="628.20" cy="152.85" r="1.3" fill="none" stroke="#fff" stroke-width="0.55"/>
<circle cx="631.54" cy="153.51" r="1.3" fill="none" stroke="#fff" stroke-width="0.55"/>
<circle cx="634.88" cy="153.38" r="1.3" fill="none" stroke="#fff" stroke-width="0.55"/>
<circle cx="619.76" cy="156.00" r="1.3" fill="none" stroke="#fff" stroke-width="0.55"/>
<circle cx="623.19" cy="156.33" r="1.3" fill="none" stroke="#fff" stroke-width="0.55"/>
<circle cx="626.68" cy="156.01" r="1.3" fill="none" stroke="#fff" stroke-width="0.55"/>
<circle cx="630.50" cy="156.33" r="1.3" fill="none" stroke="#fff" stroke-width="0.55"/>
<circle cx="633.89" cy="156.01" r="1.3" fill="none" stroke="#fff" stroke-width="0.55"/>
<circle cx="621.19" cy="159.13" r="1.3" fill="none" stroke="#fff" stroke-width="0.55"/>
<circle cx="624.59" cy="158.78" r="1.3" fill="none" stroke="#fff" stroke-width="0.55"/>
<circle cx="627.94" cy="158.67" r="1.3" fill="none" stroke="#fff" stroke-width="0.55"/>
<circle cx="631.33" cy="159.34" r="1.3" fill="none" stroke="#fff" stroke-width="0.55"/>
<circle cx="635.08" cy="159.05" r="1.3" fill="none" stroke="#fff" stroke-width="0.55"/>
<circle cx="620.00" cy="161.72" r="1.3" fill="none" stroke="#fff" stroke-width="0.55"/>
<circle cx="623.15" cy="161.67" r="1.3" fill="none" stroke="#fff" stroke-width="0.55"/>
<circle cx="626.97" cy="162.14" r="1.3" fill="none" stroke="#fff" stroke-width="0.55"/>
<circle cx="630.12" cy="162.08" r="1.3" fill="none" stroke="#fff" stroke-width="0.55"/>
<circle cx="633.76" cy="162.01" r="1.3" fill="none" stroke="#fff" stroke-width="0.55"/>
<circle cx="623.00" cy="164.96" r="1.3" fill="none" stroke="#fff" stroke-width="0.55"/>
<circle cx="626.22" cy="164.91" r="1.3" fill="none" stroke="#fff" stroke-width="0.55"/>
<circle cx="629.57" cy="164.74" r="1.3" fill="none" stroke="#fff" stroke-width="0.55"/>
<circle cx="633.26" cy="164.90" r="1.3" fill="none" stroke="#fff" stroke-width="0.55"/>
<circle cx="621.58" cy="168.01" r="1.3" fill="none" stroke="#fff" stroke-width="0.55"/>
<circle cx="625.19" cy="167.71" r="1.3" fill="none" stroke="#fff" stroke-width="0.55"/>
<circle cx="628.21" cy="167.69" r="1.3" fill="none" stroke="#fff" stroke-width="0.55"/>
<circle cx="631.75" cy="167.79" r="1.3" fill="none" stroke="#fff" stroke-width="0.55"/>
<circle cx="622.88" cy="170.80" r="1.3" fill="none" stroke="#fff" stroke-width="0.55"/>
<circle cx="626.39" cy="170.79" r="1.3" fill="none" stroke="#fff" stroke-width="0.55"/>
<circle cx="629.61" cy="170.67" r="1.3" fill="none" stroke="#fff" stroke-width="0.55"/>
<circle cx="633.24" cy="170.81" r="1.3" fill="none" stroke="#fff" stroke-width="0.55"/>
<circle cx="623.31" cy="173.72" r="1.3" fill="none" stroke="#fff" stroke-width="0.55"/>
<circle cx="627.02" cy="173.60" r="1.3" fill="none" stroke="#fff" stroke-width="0.55"/>
<circle cx="630.49" cy="173.82" r="1.3" fill="none" stroke="#fff" stroke-width="0.55"/>
<circle cx="624.61" cy="176.37" r="1.3" fill="none" stroke="#fff" stroke-width="0.55"/>
<circle cx="627.80" cy="176.62" r="1.3" fill="none" stroke="#fff" stroke-width="0.55"/>
<circle cx="631.66" cy="176.33" r="1.3" fill="none" stroke="#fff" stroke-width="0.55"/>
<circle cx="625.21" cy="179.43" r="1.3" fill="none" stroke="#fff" stroke-width="0.55"/>
<circle cx="628.64" cy="178.99" r="1.3" fill="none" stroke="#fff" stroke-width="0.55"/>
<circle cx="626.47" cy="182.21" r="1.3" fill="none" stroke="#fff" stroke-width="0.55"/>
<circle cx="629.80" cy="182.09" r="1.3" fill="none" stroke="#fff" stroke-width="0.55"/>
<circle cx="626.87" cy="185.27" r="1.3" fill="none" stroke="#fff" stroke-width="0.55"/>
<circle cx="628.08" cy="188.13" r="1.3" fill="none" stroke="#fff" stroke-width="0.55"/>
<circle cx="627.20" cy="88.00" r="1.15" fill="#fff" stroke="#000" stroke-width="1.2"/>
<circle cx="627.20" cy="82.50" r="1.15" fill="#fff" stroke="#000" stroke-width="1.2"/>
<circle cx="627.20" cy="93.50" r="1.15" fill="#fff" stroke="#000" stroke-width="1.2"/>
<rect x="645.82" y="192.13" width="2.2" height="2.2" fill="#d0101a" stroke="#fff" stroke-width="0.5"/>
<rect x="648.86" y="192.52" width="2.2" height="2.2" fill="#d0101a" stroke="#fff" stroke-width="0.5"/>
<rect x="651.53" y="192.55" width="2.2" height="2.2" fill="#d0101a" stroke="#fff" stroke-width="0.5"/>
<rect x="654.58" y="192.03" width="2.2" height="2.2" fill="#d0101a" stroke="#fff" stroke-width="0.5"/>
<rect x="657.28" y="192.18" width="2.2" height="2.2" fill="#d0101a" stroke="#fff" stroke-width="0.5"/>
<rect x="659.83" y="192.11" width="2.2" height="2.2" fill="#d0101a" stroke="#fff" stroke-width="0.5"/>
<rect x="646.99" y="189.85" width="2.2" height="2.2" fill="#d0101a" stroke="#fff" stroke-width="0.5"/>
<rect x="649.72" y="189.73" width="2.2" height="2.2" fill="#d0101a" stroke="#fff" stroke-width="0.5"/>
<rect x="652.68" y="190.00" width="2.2" height="2.2" fill="#d0101a" stroke="#fff" stroke-width="0.5"/>
<rect x="655.57" y="190.17" width="2.2" height="2.2" fill="#d0101a" stroke="#fff" stroke-width="0.5"/>
<rect x="658.14" y="190.42" width="2.2" height="2.2" fill="#d0101a" stroke="#fff" stroke-width="0.5"/>
<rect x="660.80" y="190.02" width="2.2" height="2.2" fill="#d0101a" stroke="#fff" stroke-width="0.5"/>
<rect x="645.97" y="187.73" width="2.2" height="2.2" fill="#d0101a" stroke="#fff" stroke-width="0.5"/>
<rect x="648.67" y="188.07" width="2.2" height="2.2" fill="#d0101a" stroke="#fff" stroke-width="0.5"/>
<rect x="651.62" y="187.43" width="2.2" height="2.2" fill="#d0101a" stroke="#fff" stroke-width="0.5"/>
<rect x="654.57" y="187.48" width="2.2" height="2.2" fill="#d0101a" stroke="#fff" stroke-width="0.5"/>
<rect x="657.33" y="187.67" width="2.2" height="2.2" fill="#d0101a" stroke="#fff" stroke-width="0.5"/>
<rect x="660.15" y="188.17" width="2.2" height="2.2" fill="#d0101a" stroke="#fff" stroke-width="0.5"/>
<rect x="647.29" y="185.44" width="2.2" height="2.2" fill="#d0101a" stroke="#fff" stroke-width="0.5"/>
<rect x="650.09" y="185.61" width="2.2" height="2.2" fill="#d0101a" stroke="#fff" stroke-width="0.5"/>
<rect x="652.62" y="185.21" width="2.2" height="2.2" fill="#d0101a" stroke="#fff" stroke-width="0.5"/>
<rect x="655.56" y="185.55" width="2.2" height="2.2" fill="#d0101a" stroke="#fff" stroke-width="0.5"/>
<rect x="658.57" y="185.87" width="2.2" height="2.2" fill="#d0101a" stroke="#fff" stroke-width="0.5"/>
<rect x="661.17" y="185.38" width="2.2" height="2.2" fill="#d0101a" stroke="#fff" stroke-width="0.5"/>
<rect x="646.34" y="182.80" width="2.2" height="2.2" fill="#d0101a" stroke="#fff" stroke-width="0.5"/>
<rect x="648.66" y="183.25" width="2.2" height="2.2" fill="#d0101a" stroke="#fff" stroke-width="0.5"/>
<rect x="651.77" y="182.91" width="2.2" height="2.2" fill="#d0101a" stroke="#fff" stroke-width="0.5"/>
<rect x="654.58" y="183.51" width="2.2" height="2.2" fill="#d0101a" stroke="#fff" stroke-width="0.5"/>
<rect x="657.23" y="183.15" width="2.2" height="2.2" fill="#d0101a" stroke="#fff" stroke-width="0.5"/>
<rect x="659.94" y="183.03" width="2.2" height="2.2" fill="#d0101a" stroke="#fff" stroke-width="0.5"/>
<rect x="647.38" y="180.80" width="2.2" height="2.2" fill="#d0101a" stroke="#fff" stroke-width="0.5"/>
<rect x="650.18" y="181.23" width="2.2" height="2.2" fill="#d0101a" stroke="#fff" stroke-width="0.5"/>
<rect x="652.76" y="180.71" width="2.2" height="2.2" fill="#d0101a" stroke="#fff" stroke-width="0.5"/>
<rect x="655.79" y="180.90" width="2.2" height="2.2" fill="#d0101a" stroke="#fff" stroke-width="0.5"/>
<rect x="658.25" y="180.76" width="2.2" height="2.2" fill="#d0101a" stroke="#fff" stroke-width="0.5"/>
<rect x="661.39" y="180.89" width="2.2" height="2.2" fill="#d0101a" stroke="#fff" stroke-width="0.5"/>
<rect x="645.97" y="178.58" width="2.2" height="2.2" fill="#d0101a" stroke="#fff" stroke-width="0.5"/>
<rect x="648.67" y="178.70" width="2.2" height="2.2" fill="#d0101a" stroke="#fff" stroke-width="0.5"/>
<rect x="651.67" y="178.43" width="2.2" height="2.2" fill="#d0101a" stroke="#fff" stroke-width="0.5"/>
<rect x="654.67" y="178.86" width="2.2" height="2.2" fill="#d0101a" stroke="#fff" stroke-width="0.5"/>
<rect x="657.01" y="178.63" width="2.2" height="2.2" fill="#d0101a" stroke="#fff" stroke-width="0.5"/>
<rect x="659.96" y="178.95" width="2.2" height="2.2" fill="#d0101a" stroke="#fff" stroke-width="0.5"/>
<rect x="647.27" y="176.10" width="2.2" height="2.2" fill="#d0101a" stroke="#fff" stroke-width="0.5"/>
<rect x="649.76" y="176.02" width="2.2" height="2.2" fill="#d0101a" stroke="#fff" stroke-width="0.5"/>
<rect x="652.99" y="176.13" width="2.2" height="2.2" fill="#d0101a" stroke="#fff" stroke-width="0.5"/>
<rect x="655.56" y="176.28" width="2.2" height="2.2" fill="#d0101a" stroke="#fff" stroke-width="0.5"/>
<rect x="658.39" y="176.38" width="2.2" height="2.2" fill="#d0101a" stroke="#fff" stroke-width="0.5"/>
<rect x="661.25" y="175.99" width="2.2" height="2.2" fill="#d0101a" stroke="#fff" stroke-width="0.5"/>
<rect x="646.26" y="173.84" width="2.2" height="2.2" fill="#d0101a" stroke="#fff" stroke-width="0.5"/>
<rect x="648.92" y="173.87" width="2.2" height="2.2" fill="#d0101a" stroke="#fff" stroke-width="0.5"/>
<rect x="651.58" y="174.02" width="2.2" height="2.2" fill="#d0101a" stroke="#fff" stroke-width="0.5"/>
<rect x="654.48" y="173.89" width="2.2" height="2.2" fill="#d0101a" stroke="#fff" stroke-width="0.5"/>
<rect x="657.45" y="174.07" width="2.2" height="2.2" fill="#d0101a" stroke="#fff" stroke-width="0.5"/>
<rect x="659.82" y="173.80" width="2.2" height="2.2" fill="#d0101a" stroke="#fff" stroke-width="0.5"/>
<rect x="652.67" y="172.03" width="2.2" height="2.2" fill="#d0101a" stroke="#d0101a" stroke-width="0.5"/>
<rect x="655.73" y="171.74" width="2.2" height="2.2" fill="#d0101a" stroke="#d0101a" stroke-width="0.5"/>
<rect x="651.41" y="169.62" width="2.2" height="2.2" fill="#d0101a" stroke="#d0101a" stroke-width="0.5"/>
<rect x="654.46" y="169.46" width="2.2" height="2.2" fill="#d0101a" stroke="#d0101a" stroke-width="0.5"/>
<rect x="652.82" y="167.21" width="2.2" height="2.2" fill="#d0101a" stroke="#d0101a" stroke-width="0.5"/>
<rect x="655.49" y="167.43" width="2.2" height="2.2" fill="#d0101a" stroke="#d0101a" stroke-width="0.5"/>
<rect x="651.63" y="164.71" width="2.2" height="2.2" fill="#d0101a" stroke="#d0101a" stroke-width="0.5"/>
<rect x="654.71" y="164.56" width="2.2" height="2.2" fill="#d0101a" stroke="#d0101a" stroke-width="0.5"/>
<rect x="653.98" y="162.76" width="2.2" height="2.2" fill="#d0101a" stroke="#d0101a" stroke-width="0.5"/>
<rect x="652.84" y="159.57" width="2.2" height="2.2" fill="#d0101a" stroke="#d0101a" stroke-width="0.5"/>
<rect x="654.22" y="156.05" width="2.2" height="2.2" fill="#d0101a" stroke="#d0101a" stroke-width="0.5"/>
<rect x="652.97" y="153.12" width="2.2" height="2.2" fill="#d0101a" stroke="#d0101a" stroke-width="0.5"/>
<rect x="654.35" y="149.41" width="2.2" height="2.2" fill="#d0101a" stroke="#d0101a" stroke-width="0.5"/>
<rect x="653.09" y="146.54" width="2.2" height="2.2" fill="#d0101a" stroke="#d0101a" stroke-width="0.5"/>
<rect x="654.10" y="143.16" width="2.2" height="2.2" fill="#d0101a" stroke="#d0101a" stroke-width="0.5"/>
<rect x="652.89" y="140.17" width="2.2" height="2.2" fill="#d0101a" stroke="#d0101a" stroke-width="0.5"/>
<rect x="653.40" y="102.30" width="2.2" height="2.2" fill="#d0101a" stroke="#d0101a" stroke-width="0.5"/>
<rect x="653.40" y="106.30" width="2.2" height="2.2" fill="#d0101a" stroke="#d0101a" stroke-width="0.5"/>
<rect x="653.40" y="111.40" width="2.2" height="2.2" fill="#d0101a" stroke="#d0101a" stroke-width="0.5"/>
<rect x="653.40" y="123.20" width="2.2" height="2.2" fill="#d0101a" stroke="#d0101a" stroke-width="0.5"/>
<rect x="653.40" y="63.10" width="2.2" height="2.2" fill="#d0101a" stroke="#d0101a" stroke-width="0.5"/>
<text x="412.30" y="238.20" font-size="17" font-weight="bold" text-anchor="start" fill="#000">d</text>
<text x="530.80" y="239.50" font-size="11.0" font-weight="bold" text-anchor="middle" fill="#000">BAT</text>
<text x="501.60" y="257.20" font-size="11.0" font-weight="bold" text-anchor="middle" fill="#000">WT</text>
<text x="564.70" y="257.20" font-size="11.0" font-weight="bold" text-anchor="middle" fill="#000">EiaKO</text>
<line x1="471.70" y1="263.60" x2="530.80" y2="263.60" stroke="#000" stroke-width="1.3"/>
<line x1="535.00" y1="263.60" x2="594.50" y2="263.60" stroke="#000" stroke-width="1.3"/>
<text x="445.40" y="267.00" font-size="9.2" font-weight="bold" text-anchor="start" fill="#000">kD</text>
<defs><filter id="bl1" x="-20%" y="-50%" width="140%" height="200%"><feGaussianBlur stdDeviation="0.9"/></filter><filter id="bl2" x="-20%" y="-50%" width="140%" height="200%"><feGaussianBlur stdDeviation="1.8"/></filter><filter id="nzb" x="0" y="0" width="100%" height="100%"><feTurbulence type="fractalNoise" baseFrequency="0.6" numOctaves="1" seed="4"/><feColorMatrix type="matrix" values="0 0 0 0 0  0 0 0 0 0  0 0 0 0 0  0 0 0 -2.2 1.1"/></filter></defs>
<clipPath id="bc0"><rect x="465.7" y="268.8" width="135.8" height="25.399999999999977"/></clipPath>
<g clip-path="url(#bc0)">
<rect x="465.70" y="268.80" width="135.80" height="25.40" fill="#ebebeb"/>
<rect x="489.80" y="268.80" width="2.00" height="25.40" fill="#f7f7f7" opacity="0.8"/>
<rect x="511.80" y="268.80" width="1.60" height="25.40" fill="#f7f7f7" opacity="0.8"/>
<rect x="531.80" y="268.80" width="1.00" height="25.40" fill="#f7f7f7" opacity="0.8"/>
<rect x="551.40" y="268.80" width="1.40" height="25.40" fill="#f7f7f7" opacity="0.8"/>
<rect x="571.00" y="268.80" width="1.40" height="25.40" fill="#f7f7f7" opacity="0.8"/>
<rect x="573.0" y="269.0" width="23.0" height="9.0" rx="4.5" fill="#9a9a9a" opacity="1" filter="url(#bl2)"/>
<rect x="472.9" y="277.9" width="17.3" height="9.0" rx="4.5" fill="#050505" opacity="1" filter="url(#bl1)"/>
<rect x="491.6" y="278.6" width="20.5" height="9.2" rx="4.6" fill="#050505" opacity="1" filter="url(#bl1)"/>
<rect x="496" y="282" width="12" height="7" fill="#050505" filter="url(#bl1)"/>
<rect x="513.1" y="277.6" width="18.8" height="9.2" rx="4.6" fill="#050505" opacity="1" filter="url(#bl1)"/>
<rect x="532.6" y="277.3" width="18.8" height="9.4" rx="4.7" fill="#050505" opacity="1" filter="url(#bl1)"/>
<rect x="552.8" y="277.2" width="18.2" height="8.8" rx="4.4" fill="#050505" opacity="1" filter="url(#bl1)"/>
<rect x="572.2" y="275.6" width="23.8" height="12.5" rx="5.0" fill="#050505" opacity="1" filter="url(#bl1)"/>
</g>
<rect x="466.3" y="269.40000000000003" width="134.60000000000002" height="24.199999999999978" fill="none" stroke="#111" stroke-width="1.3"/>
<clipPath id="bc1"><rect x="465.7" y="297.6" width="135.8" height="26.799999999999955"/></clipPath>
<g clip-path="url(#bc1)">
<rect x="465.70" y="297.60" width="135.80" height="26.80" fill="#c4c4c4"/>
<rect x="465.70" y="297.60" width="135.80" height="26.80" fill="#000" filter="url(#nzb)" opacity="0.3"/>
<rect x="488.00" y="297.60" width="3.50" height="26.80" fill="#e4e4e4" opacity="0.8" filter="url(#bl1)"/>
<rect x="511.00" y="297.60" width="3.00" height="26.80" fill="#e4e4e4" opacity="0.8" filter="url(#bl1)"/>
<rect x="531.00" y="297.60" width="3.00" height="26.80" fill="#e4e4e4" opacity="0.8" filter="url(#bl1)"/>
<rect x="470" y="299.6" width="18" height="22.799999999999955" fill="#6a6a6a" opacity="0.75" filter="url(#bl2)"/>
<rect x="470.0" y="308.0" width="18.0" height="5.0" rx="2.5" fill="#303030" opacity="1" filter="url(#bl2)"/>
<rect x="492" y="299.6" width="19" height="22.799999999999955" fill="#5e5e5e" opacity="0.75" filter="url(#bl2)"/>
<rect x="492.0" y="308.0" width="19.0" height="5.0" rx="2.5" fill="#282828" opacity="1" filter="url(#bl2)"/>
<rect x="514" y="299.6" width="17" height="22.799999999999955" fill="#8c8c8c" opacity="0.75" filter="url(#bl2)"/>
<rect x="514.0" y="308.0" width="17.0" height="5.0" rx="2.5" fill="#5c5c5c" opacity="1" filter="url(#bl2)"/>
<rect x="534" y="299.6" width="18" height="22.799999999999955" fill="#b4b4b4" opacity="0.75" filter="url(#bl2)"/>
<rect x="534.0" y="308.0" width="18.0" height="5.0" rx="2.5" fill="#939393" opacity="1" filter="url(#bl2)"/>
<rect x="553" y="299.6" width="19" height="22.799999999999955" fill="#aaaaaa" opacity="0.75" filter="url(#bl2)"/>
<rect x="553.0" y="308.0" width="19.0" height="5.0" rx="2.5" fill="#8a8a8a" opacity="1" filter="url(#bl2)"/>
<rect x="574" y="299.6" width="22" height="22.799999999999955" fill="#a4a4a4" opacity="0.75" filter="url(#bl2)"/>
<rect x="574.0" y="308.0" width="22.0" height="5.0" rx="2.5" fill="#848484" opacity="1" filter="url(#bl2)"/>
</g>
<rect x="466.3" y="298.20000000000005" width="134.60000000000002" height="25.599999999999955" fill="none" stroke="#111" stroke-width="1.3"/>
<clipPath id="bc2"><rect x="465.7" y="329.2" width="135.8" height="25.100000000000023"/></clipPath>
<g clip-path="url(#bc2)">
<rect x="465.70" y="329.20" width="135.80" height="25.10" fill="#f0f0f0"/>
<rect x="466" y="333.6" width="135" height="1.4" fill="#6a6a6a" filter="url(#bl1)"/>
<circle cx="490" cy="334" r="1.1" fill="#222"/>
<circle cx="510" cy="334" r="1.1" fill="#222"/>
<circle cx="531" cy="334" r="1.1" fill="#222"/>
<circle cx="552" cy="334" r="1.1" fill="#222"/>
<circle cx="572" cy="334" r="1.1" fill="#222"/>
<circle cx="595" cy="334" r="1.1" fill="#222"/>
<rect x="468.3" y="338.7" width="18.7" height="4.6" rx="2.3" fill="#080808" opacity="1" filter="url(#bl1)"/>
<rect x="490.2" y="338.5" width="18.8" height="6.2" rx="3.1" fill="#050505" opacity="1" filter="url(#bl1)"/>
<rect x="511.0" y="338.4" width="19.9" height="5.6" rx="2.8" fill="#050505" opacity="1" filter="url(#bl1)"/>
<rect x="532.0" y="337.2" width="64.0" height="9.5" rx="4.8" fill="#030303" opacity="1" filter="url(#bl1)"/>
<rect x="536.0" y="345.0" width="12.0" height="3.0" rx="1.5" fill="#333" opacity="1" filter="url(#bl2)"/>
</g>
<rect x="466.3" y="329.8" width="134.60000000000002" height="23.900000000000023" fill="none" stroke="#111" stroke-width="1.3"/>
<clipPath id="bc3"><rect x="465.7" y="358.5" width="135.8" height="25.899999999999977"/></clipPath>
<g clip-path="url(#bc3)">
<rect x="465.70" y="358.50" width="135.80" height="25.90" fill="#dcdcdc"/>
<rect x="465.70" y="358.50" width="135.80" height="25.90" fill="#000" filter="url(#nzb)" opacity="0.4"/>
<rect x="468.0" y="374.7" width="18.0" height="3.2" rx="1.6" fill="#777" opacity="1" filter="url(#bl1)"/>
<rect x="490.0" y="372.5" width="19.0" height="3.4" rx="1.7" fill="#555" opacity="1" filter="url(#bl1)"/>
<rect x="512.0" y="370.7" width="18.0" height="3.0" rx="1.5" fill="#8c8c8c" opacity="1" filter="url(#bl1)"/>
<rect x="533.0" y="369.1" width="19.0" height="4.4" rx="2.2" fill="#262626" opacity="1" filter="url(#bl1)"/>
<rect x="554.0" y="368.8" width="18.0" height="3.6" rx="1.8" fill="#4a4a4a" opacity="1" filter="url(#bl1)"/>
<rect x="574.0" y="366.5" width="21.0" height="5.0" rx="2.5" fill="#1e1e1e" opacity="1" filter="url(#bl1)"/>
<rect x="576.0" y="378.0" width="18.0" height="3.0" rx="1.5" fill="#8a8a8a" opacity="1" filter="url(#bl2)"/>
<rect x="556.0" y="379.2" width="14.0" height="2.5" rx="1.2" fill="#a0a0a0" opacity="1" filter="url(#bl2)"/>
</g>
<rect x="466.3" y="359.1" width="134.60000000000002" height="24.699999999999978" fill="none" stroke="#111" stroke-width="1.3"/>
<clipPath id="bc4"><rect x="465.7" y="387.8" width="135.8" height="27.599999999999966"/></clipPath>
<g clip-path="url(#bc4)">
<rect x="465.70" y="387.80" width="135.80" height="27.60" fill="#f2f2f2"/>
<rect x="472.5" y="400.2" width="18.0" height="5.0" rx="2.5" fill="#070707" opacity="1" filter="url(#bl1)"/>
<rect x="493.3" y="399.7" width="17.7" height="5.4" rx="2.7" fill="#070707" opacity="1" filter="url(#bl1)"/>
<rect x="513.2" y="399.9" width="16.8" height="5.0" rx="2.5" fill="#070707" opacity="1" filter="url(#bl1)"/>
<rect x="534.0" y="399.0" width="16.5" height="4.4" rx="2.2" fill="#070707" opacity="1" filter="url(#bl1)"/>
<rect x="556.0" y="397.5" width="15.5" height="4.6" rx="2.3" fill="#070707" opacity="1" filter="url(#bl1)"/>
<rect x="578.0" y="397.0" width="5.0" height="3.2" rx="1.6" fill="#070707" opacity="1" filter="url(#bl1)"/>
<rect x="586.0" y="396.6" width="9.0" height="3.6" rx="1.8" fill="#070707" opacity="1" filter="url(#bl1)"/>
<rect x="472.0" y="409.8" width="17.0" height="2.4" rx="1.2" fill="#9a9a9a" opacity="0.5" filter="url(#bl1)"/>
<rect x="494.0" y="409.8" width="17.0" height="2.4" rx="1.2" fill="#9a9a9a" opacity="0.55" filter="url(#bl1)"/>
<rect x="514.0" y="409.8" width="15.0" height="2.4" rx="1.2" fill="#9a9a9a" opacity="0.5" filter="url(#bl1)"/>
<rect x="534.0" y="409.8" width="16.0" height="2.4" rx="1.2" fill="#9a9a9a" opacity="0.85" filter="url(#bl1)"/>
<rect x="556.0" y="409.8" width="15.0" height="2.4" rx="1.2" fill="#9a9a9a" opacity="0.85" filter="url(#bl1)"/>
<rect x="576.0" y="409.8" width="18.0" height="2.4" rx="1.2" fill="#9a9a9a" opacity="0.7" filter="url(#bl1)"/>
</g>
<rect x="466.3" y="388.40000000000003" width="134.60000000000002" height="26.399999999999967" fill="none" stroke="#111" stroke-width="1.3"/>
<text x="457.50" y="293.70" font-size="8.5" font-weight="bold" text-anchor="end" fill="#000">75</text>
<line x1="459.80" y1="290.70" x2="465.70" y2="290.70" stroke="#000" stroke-width="1.1"/>
<text x="457.50" y="315.00" font-size="8.5" font-weight="bold" text-anchor="end" fill="#000">140</text>
<line x1="459.80" y1="312.00" x2="465.70" y2="312.00" stroke="#000" stroke-width="1.1"/>
<text x="457.50" y="342.40" font-size="8.5" font-weight="bold" text-anchor="end" fill="#000">25</text>
<line x1="459.80" y1="339.40" x2="465.70" y2="339.40" stroke="#000" stroke-width="1.1"/>
<text x="457.50" y="366.00" font-size="8.5" font-weight="bold" text-anchor="end" fill="#000">35</text>
<line x1="459.80" y1="363.00" x2="465.70" y2="363.00" stroke="#000" stroke-width="1.1"/>
<text x="457.50" y="396.70" font-size="8.5" font-weight="bold" text-anchor="end" fill="#000">100</text>
<line x1="459.80" y1="393.70" x2="465.70" y2="393.70" stroke="#000" stroke-width="1.1"/>
<text x="608.40" y="284.10" font-size="11.2" font-weight="bold" text-anchor="start" fill="#000">PGC1α</text>
<text x="608.40" y="313.80" font-size="11.2" font-weight="bold" text-anchor="start" fill="#000">PRDM16</text>
<text x="608.40" y="343.80" font-size="11.2" font-weight="bold" text-anchor="start" fill="#000">TFAM</text>
<text x="608.40" y="374.20" font-size="11.2" font-weight="bold" text-anchor="start" fill="#000">VDAC</text>
<text x="608.40" y="405.40" font-size="11.2" font-weight="bold" text-anchor="start" fill="#000">HSP90</text>
<text x="-0.80" y="484.40" font-size="17" font-weight="bold" text-anchor="start" fill="#000">e</text>
<rect x="93.30" y="489.20" width="13.60" height="7.50" fill="#000"/>
<text x="112.00" y="497.00" font-size="11.2" font-weight="bold" text-anchor="start" fill="#000">WT</text>
<rect x="150.20" y="489.20" width="14.00" height="7.50" fill="#d0101a"/>
<text x="170.60" y="497.00" font-size="11.2" font-weight="bold" text-anchor="start" fill="#000">EiaKO</text>
<line x1="48.60" y1="498.05" x2="48.60" y2="633.40" stroke="#000" stroke-width="1.7"/>
<line x1="47.80" y1="632.60" x2="249.30" y2="632.60" stroke="#000" stroke-width="1.7"/>
<line x1="44.20" y1="632.60" x2="48.60" y2="632.60" stroke="#000" stroke-width="1.5"/>
<text x="39.40" y="639.62" font-size="10.9" font-weight="bold" text-anchor="end" fill="#000">0</text>
<line x1="44.20" y1="605.85" x2="48.60" y2="605.85" stroke="#000" stroke-width="1.5"/>
<text x="39.40" y="611.96" font-size="10.9" font-weight="bold" text-anchor="end" fill="#000">1</text>
<line x1="44.20" y1="579.10" x2="48.60" y2="579.10" stroke="#000" stroke-width="1.5"/>
<text x="39.40" y="584.30" font-size="10.9" font-weight="bold" text-anchor="end" fill="#000">2</text>
<line x1="44.20" y1="552.35" x2="48.60" y2="552.35" stroke="#000" stroke-width="1.5"/>
<text x="39.40" y="556.64" font-size="10.9" font-weight="bold" text-anchor="end" fill="#000">3</text>
<line x1="44.20" y1="525.60" x2="48.60" y2="525.60" stroke="#000" stroke-width="1.5"/>
<text x="39.40" y="528.98" font-size="10.9" font-weight="bold" text-anchor="end" fill="#000">4</text>
<line x1="44.20" y1="498.85" x2="48.60" y2="498.85" stroke="#000" stroke-width="1.5"/>
<text x="39.40" y="501.32" font-size="10.9" font-weight="bold" text-anchor="end" fill="#000">5</text>
<line x1="48.60" y1="632.60" x2="48.60" y2="637.10" stroke="#000" stroke-width="1.5"/>
<text x="49.40" y="651.40" font-size="10.9" font-weight="bold" text-anchor="middle" fill="#000">0</text>
<line x1="98.58" y1="632.60" x2="98.58" y2="637.10" stroke="#000" stroke-width="1.5"/>
<text x="99.38" y="651.40" font-size="10.9" font-weight="bold" text-anchor="middle" fill="#000">500</text>
<line x1="148.55" y1="632.60" x2="148.55" y2="637.10" stroke="#000" stroke-width="1.5"/>
<text x="149.35" y="651.40" font-size="10.9" font-weight="bold" text-anchor="middle" fill="#000">1000</text>
<line x1="198.52" y1="632.60" x2="198.52" y2="637.10" stroke="#000" stroke-width="1.5"/>
<text x="199.32" y="651.40" font-size="10.9" font-weight="bold" text-anchor="middle" fill="#000">1500</text>
<line x1="248.50" y1="632.60" x2="248.50" y2="637.10" stroke="#000" stroke-width="1.5"/>
<text x="249.30" y="651.40" font-size="10.9" font-weight="bold" text-anchor="middle" fill="#000">2000</text>
<text x="148.80" y="665.60" font-size="11.3" font-weight="bold" text-anchor="middle" fill="#000">Time (s)</text>
<text x="24.00" y="562.50" font-size="11.4" font-weight="bold" text-anchor="middle" fill="#000" transform="rotate(-90 24.0 562.5)">JC1 Ratio (590/520)</text>
<text x="135.00" y="523.50" font-size="9.0" font-weight="bold" text-anchor="middle" fill="#000">FCCP</text>
<polygon points="131.80,526.08 137.40,526.08 134.60,531.12" fill="#000"/>
<line x1="48.60" y1="565.20" x2="48.60" y2="573.20" stroke="#e88" stroke-width="1"/>
<line x1="46.10" y1="565.20" x2="51.10" y2="565.20" stroke="#e88" stroke-width="1"/>
<line x1="46.10" y1="573.20" x2="51.10" y2="573.20" stroke="#e88" stroke-width="1"/>
<line x1="57.10" y1="561.46" x2="57.10" y2="569.46" stroke="#e88" stroke-width="1"/>
<line x1="54.60" y1="561.46" x2="59.60" y2="561.46" stroke="#e88" stroke-width="1"/>
<line x1="54.60" y1="569.46" x2="59.60" y2="569.46" stroke="#e88" stroke-width="1"/>
<line x1="65.59" y1="559.05" x2="65.59" y2="567.05" stroke="#e88" stroke-width="1"/>
<line x1="63.09" y1="559.05" x2="68.09" y2="559.05" stroke="#e88" stroke-width="1"/>
<line x1="63.09" y1="567.05" x2="68.09" y2="567.05" stroke="#e88" stroke-width="1"/>
<line x1="74.09" y1="563.06" x2="74.09" y2="571.06" stroke="#e88" stroke-width="1"/>
<line x1="71.59" y1="563.06" x2="76.59" y2="563.06" stroke="#e88" stroke-width="1"/>
<line x1="71.59" y1="571.06" x2="76.59" y2="571.06" stroke="#e88" stroke-width="1"/>
<line x1="82.58" y1="561.46" x2="82.58" y2="569.46" stroke="#e88" stroke-width="1"/>
<line x1="80.08" y1="561.46" x2="85.08" y2="561.46" stroke="#e88" stroke-width="1"/>
<line x1="80.08" y1="569.46" x2="85.08" y2="569.46" stroke="#e88" stroke-width="1"/>
<line x1="91.08" y1="561.19" x2="91.08" y2="569.19" stroke="#e88" stroke-width="1"/>
<line x1="88.58" y1="561.19" x2="93.58" y2="561.19" stroke="#e88" stroke-width="1"/>
<line x1="88.58" y1="569.19" x2="93.58" y2="569.19" stroke="#e88" stroke-width="1"/>
<line x1="99.57" y1="559.59" x2="99.57" y2="567.59" stroke="#e88" stroke-width="1"/>
<line x1="97.07" y1="559.59" x2="102.07" y2="559.59" stroke="#e88" stroke-width="1"/>
<line x1="97.07" y1="567.59" x2="102.07" y2="567.59" stroke="#e88" stroke-width="1"/>
<line x1="108.07" y1="561.46" x2="108.07" y2="569.46" stroke="#e88" stroke-width="1"/>
<line x1="105.57" y1="561.46" x2="110.57" y2="561.46" stroke="#e88" stroke-width="1"/>
<line x1="105.57" y1="569.46" x2="110.57" y2="569.46" stroke="#e88" stroke-width="1"/>
<line x1="116.57" y1="559.85" x2="116.57" y2="567.85" stroke="#e88" stroke-width="1"/>
<line x1="114.07" y1="559.85" x2="119.07" y2="559.85" stroke="#e88" stroke-width="1"/>
<line x1="114.07" y1="567.85" x2="119.07" y2="567.85" stroke="#e88" stroke-width="1"/>
<line x1="125.06" y1="563.06" x2="125.06" y2="571.06" stroke="#e88" stroke-width="1"/>
<line x1="122.56" y1="563.06" x2="127.56" y2="563.06" stroke="#e88" stroke-width="1"/>
<line x1="122.56" y1="571.06" x2="127.56" y2="571.06" stroke="#e88" stroke-width="1"/>
<line x1="133.56" y1="559.05" x2="133.56" y2="567.05" stroke="#e88" stroke-width="1"/>
<line x1="131.06" y1="559.05" x2="136.06" y2="559.05" stroke="#e88" stroke-width="1"/>
<line x1="131.06" y1="567.05" x2="136.06" y2="567.05" stroke="#e88" stroke-width="1"/>
<line x1="142.05" y1="619.77" x2="142.05" y2="627.77" stroke="#e88" stroke-width="1"/>
<line x1="139.55" y1="619.77" x2="144.55" y2="619.77" stroke="#e88" stroke-width="1"/>
<line x1="139.55" y1="627.77" x2="144.55" y2="627.77" stroke="#e88" stroke-width="1"/>
<line x1="150.55" y1="616.03" x2="150.55" y2="624.03" stroke="#e88" stroke-width="1"/>
<line x1="148.05" y1="616.03" x2="153.05" y2="616.03" stroke="#e88" stroke-width="1"/>
<line x1="148.05" y1="624.03" x2="153.05" y2="624.03" stroke="#e88" stroke-width="1"/>
<line x1="159.04" y1="613.62" x2="159.04" y2="621.62" stroke="#e88" stroke-width="1"/>
<line x1="156.54" y1="613.62" x2="161.54" y2="613.62" stroke="#e88" stroke-width="1"/>
<line x1="156.54" y1="621.62" x2="161.54" y2="621.62" stroke="#e88" stroke-width="1"/>
<line x1="167.54" y1="611.75" x2="167.54" y2="619.75" stroke="#e88" stroke-width="1"/>
<line x1="165.04" y1="611.75" x2="170.04" y2="611.75" stroke="#e88" stroke-width="1"/>
<line x1="165.04" y1="619.75" x2="170.04" y2="619.75" stroke="#e88" stroke-width="1"/>
<line x1="176.04" y1="610.14" x2="176.04" y2="618.14" stroke="#e88" stroke-width="1"/>
<line x1="173.54" y1="610.14" x2="178.54" y2="610.14" stroke="#e88" stroke-width="1"/>
<line x1="173.54" y1="618.14" x2="178.54" y2="618.14" stroke="#e88" stroke-width="1"/>
<line x1="184.53" y1="610.14" x2="184.53" y2="618.14" stroke="#e88" stroke-width="1"/>
<line x1="182.03" y1="610.14" x2="187.03" y2="610.14" stroke="#e88" stroke-width="1"/>
<line x1="182.03" y1="618.14" x2="187.03" y2="618.14" stroke="#e88" stroke-width="1"/>
<line x1="193.03" y1="609.61" x2="193.03" y2="617.61" stroke="#e88" stroke-width="1"/>
<line x1="190.53" y1="609.61" x2="195.53" y2="609.61" stroke="#e88" stroke-width="1"/>
<line x1="190.53" y1="617.61" x2="195.53" y2="617.61" stroke="#e88" stroke-width="1"/>
<line x1="201.52" y1="608.00" x2="201.52" y2="616.00" stroke="#e88" stroke-width="1"/>
<line x1="199.02" y1="608.00" x2="204.02" y2="608.00" stroke="#e88" stroke-width="1"/>
<line x1="199.02" y1="616.00" x2="204.02" y2="616.00" stroke="#e88" stroke-width="1"/>
<line x1="210.02" y1="608.00" x2="210.02" y2="616.00" stroke="#e88" stroke-width="1"/>
<line x1="207.52" y1="608.00" x2="212.52" y2="608.00" stroke="#e88" stroke-width="1"/>
<line x1="207.52" y1="616.00" x2="212.52" y2="616.00" stroke="#e88" stroke-width="1"/>
<line x1="218.51" y1="608.00" x2="218.51" y2="616.00" stroke="#e88" stroke-width="1"/>
<line x1="216.01" y1="608.00" x2="221.01" y2="608.00" stroke="#e88" stroke-width="1"/>
<line x1="216.01" y1="616.00" x2="221.01" y2="616.00" stroke="#e88" stroke-width="1"/>
<line x1="227.01" y1="606.40" x2="227.01" y2="614.40" stroke="#e88" stroke-width="1"/>
<line x1="224.51" y1="606.40" x2="229.51" y2="606.40" stroke="#e88" stroke-width="1"/>
<line x1="224.51" y1="614.40" x2="229.51" y2="614.40" stroke="#e88" stroke-width="1"/>
<line x1="235.51" y1="606.13" x2="235.51" y2="614.13" stroke="#e88" stroke-width="1"/>
<line x1="233.01" y1="606.13" x2="238.01" y2="606.13" stroke="#e88" stroke-width="1"/>
<line x1="233.01" y1="614.13" x2="238.01" y2="614.13" stroke="#e88" stroke-width="1"/>
<line x1="48.60" y1="546.14" x2="48.60" y2="552.14" stroke="#777" stroke-width="1"/>
<line x1="46.10" y1="546.14" x2="51.10" y2="546.14" stroke="#777" stroke-width="1"/>
<line x1="46.10" y1="552.14" x2="51.10" y2="552.14" stroke="#777" stroke-width="1"/>
<line x1="57.10" y1="549.35" x2="57.10" y2="555.35" stroke="#777" stroke-width="1"/>
<line x1="54.60" y1="549.35" x2="59.60" y2="549.35" stroke="#777" stroke-width="1"/>
<line x1="54.60" y1="555.35" x2="59.60" y2="555.35" stroke="#777" stroke-width="1"/>
<line x1="65.59" y1="545.61" x2="65.59" y2="551.61" stroke="#777" stroke-width="1"/>
<line x1="63.09" y1="545.61" x2="68.09" y2="545.61" stroke="#777" stroke-width="1"/>
<line x1="63.09" y1="551.61" x2="68.09" y2="551.61" stroke="#777" stroke-width="1"/>
<line x1="74.09" y1="551.49" x2="74.09" y2="557.49" stroke="#777" stroke-width="1"/>
<line x1="71.59" y1="551.49" x2="76.59" y2="551.49" stroke="#777" stroke-width="1"/>
<line x1="71.59" y1="557.49" x2="76.59" y2="557.49" stroke="#777" stroke-width="1"/>
<line x1="82.58" y1="545.07" x2="82.58" y2="551.07" stroke="#777" stroke-width="1"/>
<line x1="80.08" y1="545.07" x2="85.08" y2="545.07" stroke="#777" stroke-width="1"/>
<line x1="80.08" y1="551.07" x2="85.08" y2="551.07" stroke="#777" stroke-width="1"/>
<line x1="91.08" y1="545.87" x2="91.08" y2="551.87" stroke="#777" stroke-width="1"/>
<line x1="88.58" y1="545.87" x2="93.58" y2="545.87" stroke="#777" stroke-width="1"/>
<line x1="88.58" y1="551.87" x2="93.58" y2="551.87" stroke="#777" stroke-width="1"/>
<line x1="99.57" y1="547.21" x2="99.57" y2="553.21" stroke="#777" stroke-width="1"/>
<line x1="97.07" y1="547.21" x2="102.07" y2="547.21" stroke="#777" stroke-width="1"/>
<line x1="97.07" y1="553.21" x2="102.07" y2="553.21" stroke="#777" stroke-width="1"/>
<line x1="108.07" y1="544.00" x2="108.07" y2="550.00" stroke="#777" stroke-width="1"/>
<line x1="105.57" y1="544.00" x2="110.57" y2="544.00" stroke="#777" stroke-width="1"/>
<line x1="105.57" y1="550.00" x2="110.57" y2="550.00" stroke="#777" stroke-width="1"/>
<line x1="116.57" y1="547.75" x2="116.57" y2="553.75" stroke="#777" stroke-width="1"/>
<line x1="114.07" y1="547.75" x2="119.07" y2="547.75" stroke="#777" stroke-width="1"/>
<line x1="114.07" y1="553.75" x2="119.07" y2="553.75" stroke="#777" stroke-width="1"/>
<line x1="125.06" y1="547.75" x2="125.06" y2="553.75" stroke="#777" stroke-width="1"/>
<line x1="122.56" y1="547.75" x2="127.56" y2="547.75" stroke="#777" stroke-width="1"/>
<line x1="122.56" y1="553.75" x2="127.56" y2="553.75" stroke="#777" stroke-width="1"/>
<line x1="133.56" y1="544.54" x2="133.56" y2="550.54" stroke="#777" stroke-width="1"/>
<line x1="131.06" y1="544.54" x2="136.06" y2="544.54" stroke="#777" stroke-width="1"/>
<line x1="131.06" y1="550.54" x2="136.06" y2="550.54" stroke="#777" stroke-width="1"/>
<line x1="142.05" y1="609.54" x2="142.05" y2="615.54" stroke="#777" stroke-width="1"/>
<line x1="139.55" y1="609.54" x2="144.55" y2="609.54" stroke="#777" stroke-width="1"/>
<line x1="139.55" y1="615.54" x2="144.55" y2="615.54" stroke="#777" stroke-width="1"/>
<line x1="150.55" y1="606.06" x2="150.55" y2="612.06" stroke="#777" stroke-width="1"/>
<line x1="148.05" y1="606.06" x2="153.05" y2="606.06" stroke="#777" stroke-width="1"/>
<line x1="148.05" y1="612.06" x2="153.05" y2="612.06" stroke="#777" stroke-width="1"/>
<line x1="159.04" y1="602.05" x2="159.04" y2="608.05" stroke="#777" stroke-width="1"/>
<line x1="156.54" y1="602.05" x2="161.54" y2="602.05" stroke="#777" stroke-width="1"/>
<line x1="156.54" y1="608.05" x2="161.54" y2="608.05" stroke="#777" stroke-width="1"/>
<line x1="167.54" y1="600.44" x2="167.54" y2="606.44" stroke="#777" stroke-width="1"/>
<line x1="165.04" y1="600.44" x2="170.04" y2="600.44" stroke="#777" stroke-width="1"/>
<line x1="165.04" y1="606.44" x2="170.04" y2="606.44" stroke="#777" stroke-width="1"/>
<line x1="176.04" y1="595.09" x2="176.04" y2="601.09" stroke="#777" stroke-width="1"/>
<line x1="173.54" y1="595.09" x2="178.54" y2="595.09" stroke="#777" stroke-width="1"/>
<line x1="173.54" y1="601.09" x2="178.54" y2="601.09" stroke="#777" stroke-width="1"/>
<line x1="184.53" y1="597.77" x2="184.53" y2="603.77" stroke="#777" stroke-width="1"/>
<line x1="182.03" y1="597.77" x2="187.03" y2="597.77" stroke="#777" stroke-width="1"/>
<line x1="182.03" y1="603.77" x2="187.03" y2="603.77" stroke="#777" stroke-width="1"/>
<line x1="193.03" y1="594.56" x2="193.03" y2="600.56" stroke="#777" stroke-width="1"/>
<line x1="190.53" y1="594.56" x2="195.53" y2="594.56" stroke="#777" stroke-width="1"/>
<line x1="190.53" y1="600.56" x2="195.53" y2="600.56" stroke="#777" stroke-width="1"/>
<line x1="201.52" y1="596.16" x2="201.52" y2="602.16" stroke="#777" stroke-width="1"/>
<line x1="199.02" y1="596.16" x2="204.02" y2="596.16" stroke="#777" stroke-width="1"/>
<line x1="199.02" y1="602.16" x2="204.02" y2="602.16" stroke="#777" stroke-width="1"/>
<line x1="210.02" y1="594.56" x2="210.02" y2="600.56" stroke="#777" stroke-width="1"/>
<line x1="207.52" y1="594.56" x2="212.52" y2="594.56" stroke="#777" stroke-width="1"/>
<line x1="207.52" y1="600.56" x2="212.52" y2="600.56" stroke="#777" stroke-width="1"/>
<line x1="218.51" y1="594.02" x2="218.51" y2="600.02" stroke="#777" stroke-width="1"/>
<line x1="216.01" y1="594.02" x2="221.01" y2="594.02" stroke="#777" stroke-width="1"/>
<line x1="216.01" y1="600.02" x2="221.01" y2="600.02" stroke="#777" stroke-width="1"/>
<line x1="227.01" y1="594.56" x2="227.01" y2="600.56" stroke="#777" stroke-width="1"/>
<line x1="224.51" y1="594.56" x2="229.51" y2="594.56" stroke="#777" stroke-width="1"/>
<line x1="224.51" y1="600.56" x2="229.51" y2="600.56" stroke="#777" stroke-width="1"/>
<line x1="235.51" y1="593.22" x2="235.51" y2="599.22" stroke="#777" stroke-width="1"/>
<line x1="233.01" y1="593.22" x2="238.01" y2="593.22" stroke="#777" stroke-width="1"/>
<line x1="233.01" y1="599.22" x2="238.01" y2="599.22" stroke="#777" stroke-width="1"/>
<polyline points="48.60,569.20 57.10,565.46 65.59,563.05 74.09,567.06 82.58,565.46 91.08,565.19 99.57,563.59 108.07,565.46 116.57,563.85 125.06,567.06 133.56,563.05 142.05,623.77 150.55,620.03 159.04,617.62 167.54,615.75 176.04,614.14 184.53,614.14 193.03,613.61 201.52,612.00 210.02,612.00 218.51,612.00 227.01,610.40 235.51,610.13" fill="none" stroke="#d0101a" stroke-width="1.4"/>
<rect x="45.60" y="566.20" width="6.00" height="6.00" fill="#d0101a"/>
<rect x="54.10" y="562.46" width="6.00" height="6.00" fill="#d0101a"/>
<rect x="62.59" y="560.05" width="6.00" height="6.00" fill="#d0101a"/>
<rect x="71.09" y="564.06" width="6.00" height="6.00" fill="#d0101a"/>
<rect x="79.58" y="562.46" width="6.00" height="6.00" fill="#d0101a"/>
<rect x="88.08" y="562.19" width="6.00" height="6.00" fill="#d0101a"/>
<rect x="96.57" y="560.59" width="6.00" height="6.00" fill="#d0101a"/>
<rect x="105.07" y="562.46" width="6.00" height="6.00" fill="#d0101a"/>
<rect x="113.57" y="560.85" width="6.00" height="6.00" fill="#d0101a"/>
<rect x="122.06" y="564.06" width="6.00" height="6.00" fill="#d0101a"/>
<rect x="130.56" y="560.05" width="6.00" height="6.00" fill="#d0101a"/>
<rect x="139.05" y="620.77" width="6.00" height="6.00" fill="#d0101a"/>
<rect x="147.55" y="617.03" width="6.00" height="6.00" fill="#d0101a"/>
<rect x="156.04" y="614.62" width="6.00" height="6.00" fill="#d0101a"/>
<rect x="164.54" y="612.75" width="6.00" height="6.00" fill="#d0101a"/>
<rect x="173.04" y="611.14" width="6.00" height="6.00" fill="#d0101a"/>
<rect x="181.53" y="611.14" width="6.00" height="6.00" fill="#d0101a"/>
<rect x="190.03" y="610.61" width="6.00" height="6.00" fill="#d0101a"/>
<rect x="198.52" y="609.00" width="6.00" height="6.00" fill="#d0101a"/>
<rect x="207.02" y="609.00" width="6.00" height="6.00" fill="#d0101a"/>
<rect x="215.51" y="609.00" width="6.00" height="6.00" fill="#d0101a"/>
<rect x="224.01" y="607.40" width="6.00" height="6.00" fill="#d0101a"/>
<rect x="232.51" y="607.13" width="6.00" height="6.00" fill="#d0101a"/>
<polyline points="48.60,549.14 57.10,552.35 65.59,548.61 74.09,554.49 82.58,548.07 91.08,548.87 99.57,550.21 108.07,547.00 116.57,550.75 125.06,550.75 133.56,547.54 142.05,612.54 150.55,609.06 159.04,605.05 167.54,603.44 176.04,598.09 184.53,600.77 193.03,597.56 201.52,599.16 210.02,597.56 218.51,597.02 227.01,597.56 235.51,596.22" fill="none" stroke="#000" stroke-width="1.4"/>
<circle cx="48.60" cy="549.14" r="3.2" fill="#000"/>
<circle cx="57.10" cy="552.35" r="3.2" fill="#000"/>
<circle cx="65.59" cy="548.61" r="3.2" fill="#000"/>
<circle cx="74.09" cy="554.49" r="3.2" fill="#000"/>
<circle cx="82.58" cy="548.07" r="3.2" fill="#000"/>
<circle cx="91.08" cy="548.87" r="3.2" fill="#000"/>
<circle cx="99.57" cy="550.21" r="3.2" fill="#000"/>
<circle cx="108.07" cy="547.00" r="3.2" fill="#000"/>
<circle cx="116.57" cy="550.75" r="3.2" fill="#000"/>
<circle cx="125.06" cy="550.75" r="3.2" fill="#000"/>
<circle cx="133.56" cy="547.54" r="3.2" fill="#000"/>
<circle cx="142.05" cy="612.54" r="3.2" fill="#000"/>
<circle cx="150.55" cy="609.06" r="3.2" fill="#000"/>
<circle cx="159.04" cy="605.05" r="3.2" fill="#000"/>
<circle cx="167.54" cy="603.44" r="3.2" fill="#000"/>
<circle cx="176.04" cy="598.09" r="3.2" fill="#000"/>
<circle cx="184.53" cy="600.77" r="3.2" fill="#000"/>
<circle cx="193.03" cy="597.56" r="3.2" fill="#000"/>
<circle cx="201.52" cy="599.16" r="3.2" fill="#000"/>
<circle cx="210.02" cy="597.56" r="3.2" fill="#000"/>
<circle cx="218.51" cy="597.02" r="3.2" fill="#000"/>
<circle cx="227.01" cy="597.56" r="3.2" fill="#000"/>
<circle cx="235.51" cy="596.22" r="3.2" fill="#000"/>
<line x1="289.30" y1="497.30" x2="289.30" y2="634.90" stroke="#000" stroke-width="1.7"/>
<line x1="284.00" y1="634.10" x2="348.70" y2="634.10" stroke="#000" stroke-width="1.7"/>
<line x1="284.40" y1="634.10" x2="289.30" y2="634.10" stroke="#000" stroke-width="1.5"/>
<text x="271.50" y="638.26" font-size="11.0" font-weight="bold" text-anchor="end" fill="#000">0</text>
<line x1="284.40" y1="600.10" x2="289.30" y2="600.10" stroke="#000" stroke-width="1.5"/>
<text x="271.50" y="604.96" font-size="11.0" font-weight="bold" text-anchor="end" fill="#000">1</text>
<line x1="284.40" y1="566.10" x2="289.30" y2="566.10" stroke="#000" stroke-width="1.5"/>
<text x="271.50" y="571.66" font-size="11.0" font-weight="bold" text-anchor="end" fill="#000">2</text>
<line x1="284.40" y1="532.10" x2="289.30" y2="532.10" stroke="#000" stroke-width="1.5"/>
<text x="271.50" y="538.36" font-size="11.0" font-weight="bold" text-anchor="end" fill="#000">3</text>
<line x1="284.40" y1="498.10" x2="289.30" y2="498.10" stroke="#000" stroke-width="1.5"/>
<text x="271.50" y="505.06" font-size="11.0" font-weight="bold" text-anchor="end" fill="#000">4</text>
<text x="258.30" y="561.50" font-size="11.2" font-weight="bold" text-anchor="middle" fill="#000" transform="rotate(-90 258.3 561.5)">JC1 Ratio (590/520)</text>
<line x1="306.35" y1="528.02" x2="306.35" y2="524.90" stroke="#000" stroke-width="1.3"/>
<line x1="302.35" y1="524.90" x2="310.35" y2="524.90" stroke="#000" stroke-width="1.3"/>
<rect x="298.00" y="528.02" width="16.70" height="106.08" fill="#000"/>
<rect x="323.00" y="548.10" width="16.70" height="86.00" fill="#d0101a"/>
<line x1="331.35" y1="548.10" x2="331.35" y2="544.50" stroke="#000" stroke-width="1.3"/>
<line x1="327.10" y1="544.50" x2="335.60" y2="544.50" stroke="#000" stroke-width="1.3"/>
<circle cx="300.7" cy="522.3" r="1.8" fill="#000"/>
<circle cx="306.5" cy="536.8" r="1.9" fill="none" stroke="#fff" stroke-width="0.8"/>
<circle cx="312" cy="527.7" r="1.9" fill="#000" stroke="#fff" stroke-width="0.8"/>
<circle cx="331.5" cy="538" r="1.8" fill="#d0101a"/>
<circle cx="327.3" cy="548.9" r="1.9" fill="none" stroke="#fff" stroke-width="0.8"/>
<circle cx="336" cy="549.8" r="1.9" fill="none" stroke="#fff" stroke-width="0.8"/>
<circle cx="331.5" cy="557" r="1.9" fill="none" stroke="#fff" stroke-width="0.8"/>
<text x="319.40" y="505.00" font-size="6.9" font-weight="normal" text-anchor="middle" fill="#333"><tspan font-style="italic">p</tspan>=0.007</text>
<line x1="307.00" y1="509.30" x2="331.90" y2="509.30" stroke="#444" stroke-width="1.1"/>
<text x="365.30" y="484.50" font-size="17" font-weight="bold" text-anchor="start" fill="#000">f</text>
<rect x="443.90" y="488.90" width="13.60" height="7.70" fill="#000"/>
<text x="462.00" y="497.00" font-size="11.2" font-weight="bold" text-anchor="start" fill="#000">WT</text>
<rect x="500.40" y="488.90" width="14.10" height="7.70" fill="#d0101a"/>
<text x="520.40" y="497.00" font-size="11.2" font-weight="bold" text-anchor="start" fill="#000">EiaKO</text>
<line x1="397.60" y1="498.20" x2="397.60" y2="634.20" stroke="#000" stroke-width="1.7"/>
<line x1="396.80" y1="633.40" x2="582.60" y2="633.40" stroke="#000" stroke-width="1.7"/>
<line x1="392.60" y1="633.40" x2="397.60" y2="633.40" stroke="#000" stroke-width="1.5"/>
<text x="387.50" y="637.16" font-size="11.0" font-weight="bold" text-anchor="end" fill="#000">7</text>
<line x1="392.60" y1="588.60" x2="397.60" y2="588.60" stroke="#000" stroke-width="1.5"/>
<text x="387.50" y="594.86" font-size="11.0" font-weight="bold" text-anchor="end" fill="#000">8</text>
<line x1="392.60" y1="543.80" x2="397.60" y2="543.80" stroke="#000" stroke-width="1.5"/>
<text x="387.50" y="549.66" font-size="11.0" font-weight="bold" text-anchor="end" fill="#000">9</text>
<line x1="392.60" y1="499.00" x2="397.60" y2="499.00" stroke="#000" stroke-width="1.5"/>
<text x="387.50" y="503.66" font-size="11.0" font-weight="bold" text-anchor="end" fill="#000">10</text>
<line x1="397.60" y1="633.40" x2="397.60" y2="637.90" stroke="#000" stroke-width="1.5"/>
<text x="398.40" y="649.80" font-size="11.0" font-weight="bold" text-anchor="middle" fill="#000">0</text>
<line x1="428.30" y1="633.40" x2="428.30" y2="637.90" stroke="#000" stroke-width="1.5"/>
<text x="429.10" y="649.80" font-size="11.0" font-weight="bold" text-anchor="middle" fill="#000">100</text>
<line x1="459.00" y1="633.40" x2="459.00" y2="637.90" stroke="#000" stroke-width="1.5"/>
<text x="459.80" y="649.80" font-size="11.0" font-weight="bold" text-anchor="middle" fill="#000">200</text>
<line x1="489.70" y1="633.40" x2="489.70" y2="637.90" stroke="#000" stroke-width="1.5"/>
<text x="490.50" y="649.80" font-size="11.0" font-weight="bold" text-anchor="middle" fill="#000">300</text>
<line x1="520.40" y1="633.40" x2="520.40" y2="637.90" stroke="#000" stroke-width="1.5"/>
<text x="521.20" y="649.80" font-size="11.0" font-weight="bold" text-anchor="middle" fill="#000">400</text>
<line x1="551.10" y1="633.40" x2="551.10" y2="637.90" stroke="#000" stroke-width="1.5"/>
<text x="551.90" y="649.80" font-size="11.0" font-weight="bold" text-anchor="middle" fill="#000">500</text>
<line x1="581.80" y1="633.40" x2="581.80" y2="637.90" stroke="#000" stroke-width="1.5"/>
<text x="582.60" y="649.80" font-size="11.0" font-weight="bold" text-anchor="middle" fill="#000">600</text>
<text x="490.50" y="665.60" font-size="11.3" font-weight="bold" text-anchor="middle" fill="#000">Time (s)</text>
<text x="373.00" y="562.30" font-size="11.2" font-weight="bold" text-anchor="middle" fill="#000" transform="rotate(-90 373.0 562.3)">Mitochondrial pH</text>
<text x="444.00" y="522.00" font-size="9.0" font-weight="bold" text-anchor="middle" fill="#000">NH<tspan font-size="6.5" dy="2">4</tspan><tspan dy="-2">Cl</tspan></text>
<polygon points="441.20,526.98 446.80,526.98 444.00,532.02" fill="#000"/>
<text x="538.40" y="523.00" font-size="9.0" font-weight="bold" text-anchor="middle" fill="#000">FCCP</text>
<polygon points="535.60,525.28 541.20,525.28 538.40,530.32" fill="#000"/>
<polyline points="397.60,611.45 406.81,611.45 416.02,611.90 425.23,612.79 434.44,612.34 443.65,611.90 452.86,576.06 462.07,576.50 471.28,575.61 480.49,574.26 489.70,571.58 498.91,570.68 508.12,570.68 517.33,573.37 526.54,574.71 535.75,578.30 544.96,613.24 554.17,615.03 563.38,613.69 572.59,613.24 581.80,614.58" fill="none" stroke="#d0101a" stroke-width="1.4"/>
<rect x="394.60" y="608.45" width="6.00" height="6.00" fill="#d0101a"/>
<rect x="403.81" y="608.45" width="6.00" height="6.00" fill="#d0101a"/>
<rect x="413.02" y="608.90" width="6.00" height="6.00" fill="#d0101a"/>
<rect x="422.23" y="609.79" width="6.00" height="6.00" fill="#d0101a"/>
<rect x="431.44" y="609.34" width="6.00" height="6.00" fill="#d0101a"/>
<rect x="440.65" y="608.90" width="6.00" height="6.00" fill="#d0101a"/>
<rect x="449.86" y="573.06" width="6.00" height="6.00" fill="#d0101a"/>
<rect x="459.07" y="573.50" width="6.00" height="6.00" fill="#d0101a"/>
<rect x="468.28" y="572.61" width="6.00" height="6.00" fill="#d0101a"/>
<rect x="477.49" y="571.26" width="6.00" height="6.00" fill="#d0101a"/>
<rect x="486.70" y="568.58" width="6.00" height="6.00" fill="#d0101a"/>
<rect x="495.91" y="567.68" width="6.00" height="6.00" fill="#d0101a"/>
<rect x="505.12" y="567.68" width="6.00" height="6.00" fill="#d0101a"/>
<rect x="514.33" y="570.37" width="6.00" height="6.00" fill="#d0101a"/>
<rect x="523.54" y="571.71" width="6.00" height="6.00" fill="#d0101a"/>
<rect x="532.75" y="575.30" width="6.00" height="6.00" fill="#d0101a"/>
<rect x="541.96" y="610.24" width="6.00" height="6.00" fill="#d0101a"/>
<rect x="551.17" y="612.03" width="6.00" height="6.00" fill="#d0101a"/>
<rect x="560.38" y="610.69" width="6.00" height="6.00" fill="#d0101a"/>
<rect x="569.59" y="610.24" width="6.00" height="6.00" fill="#d0101a"/>
<rect x="578.80" y="611.58" width="6.00" height="6.00" fill="#d0101a"/>
<polyline points="397.60,595.77 406.81,595.77 416.02,597.11 425.23,595.77 434.44,595.32 443.65,594.87 452.86,555.00 462.07,551.86 471.28,550.07 480.49,549.18 489.70,547.83 498.91,546.49 508.12,547.83 517.33,546.94 526.54,549.18 535.75,550.52 544.96,599.35 554.17,602.04 563.38,599.35 572.59,596.22 581.80,597.56" fill="none" stroke="#000" stroke-width="1.4"/>
<circle cx="397.60" cy="595.77" r="3.2" fill="#000"/>
<circle cx="406.81" cy="595.77" r="3.2" fill="#000"/>
<circle cx="416.02" cy="597.11" r="3.2" fill="#000"/>
<circle cx="425.23" cy="595.77" r="3.2" fill="#000"/>
<circle cx="434.44" cy="595.32" r="3.2" fill="#000"/>
<circle cx="443.65" cy="594.87" r="3.2" fill="#000"/>
<circle cx="452.86" cy="555.00" r="3.2" fill="#000"/>
<circle cx="462.07" cy="551.86" r="3.2" fill="#000"/>
<circle cx="471.28" cy="550.07" r="3.2" fill="#000"/>
<circle cx="480.49" cy="549.18" r="3.2" fill="#000"/>
<circle cx="489.70" cy="547.83" r="3.2" fill="#000"/>
<circle cx="498.91" cy="546.49" r="3.2" fill="#000"/>
<circle cx="508.12" cy="547.83" r="3.2" fill="#000"/>
<circle cx="517.33" cy="546.94" r="3.2" fill="#000"/>
<circle cx="526.54" cy="549.18" r="3.2" fill="#000"/>
<circle cx="535.75" cy="550.52" r="3.2" fill="#000"/>
<circle cx="544.96" cy="599.35" r="3.2" fill="#000"/>
<circle cx="554.17" cy="602.04" r="3.2" fill="#000"/>
<circle cx="563.38" cy="599.35" r="3.2" fill="#000"/>
<circle cx="572.59" cy="596.22" r="3.2" fill="#000"/>
<circle cx="581.80" cy="597.56" r="3.2" fill="#000"/>
<line x1="631.20" y1="500.50" x2="631.20" y2="634.40" stroke="#000" stroke-width="1.7"/>
<line x1="626.70" y1="633.60" x2="685.00" y2="633.60" stroke="#000" stroke-width="1.7"/>
<line x1="626.70" y1="633.60" x2="631.20" y2="633.60" stroke="#000" stroke-width="1.5"/>
<text x="621.50" y="637.00" font-size="11.4" font-weight="bold" text-anchor="end" fill="#000">7.0</text>
<line x1="626.70" y1="589.50" x2="631.20" y2="589.50" stroke="#000" stroke-width="1.5"/>
<text x="621.50" y="596.20" font-size="11.4" font-weight="bold" text-anchor="end" fill="#000">7.5</text>
<line x1="626.70" y1="545.40" x2="631.20" y2="545.40" stroke="#000" stroke-width="1.5"/>
<text x="621.50" y="551.90" font-size="11.4" font-weight="bold" text-anchor="end" fill="#000">8.0</text>
<line x1="626.70" y1="501.30" x2="631.20" y2="501.30" stroke="#000" stroke-width="1.5"/>
<text x="621.50" y="508.30" font-size="11.4" font-weight="bold" text-anchor="end" fill="#000">8.5</text>
<text x="601.80" y="563.60" font-size="11.2" font-weight="bold" text-anchor="middle" fill="#000" transform="rotate(-90 601.8 563.6)">Mitochondrial pH</text>
<rect x="639.20" y="561.28" width="14.40" height="72.32" fill="#000"/>
<line x1="669.15" y1="591.26" x2="669.15" y2="586.85" stroke="#000" stroke-width="1.3"/>
<line x1="666.65" y1="586.85" x2="671.65" y2="586.85" stroke="#000" stroke-width="1.3"/>
<rect x="661.70" y="591.26" width="14.90" height="42.34" fill="#d0101a"/>
<circle cx="642" cy="560.39" r="1.5" fill="#000" stroke="#fff" stroke-width="0.6"/>
<circle cx="645.5" cy="560.39" r="1.5" fill="#000" stroke="#fff" stroke-width="0.6"/>
<circle cx="649" cy="560.39" r="1.5" fill="#000" stroke="#fff" stroke-width="0.6"/>
<circle cx="652" cy="560.39" r="1.5" fill="#000" stroke="#fff" stroke-width="0.6"/>
<circle cx="665.8" cy="586.8" r="1.4" fill="#d0101a"/>
<circle cx="672.8" cy="589" r="1.4" fill="#d0101a"/>
<circle cx="665" cy="594.5" r="1.9" fill="none" stroke="#fff" stroke-width="0.8"/>
<circle cx="673" cy="595.5" r="1.9" fill="none" stroke="#fff" stroke-width="0.8"/>
<text x="658.40" y="539.20" font-size="6.3" font-weight="normal" text-anchor="middle" fill="#333"><tspan font-style="italic">p</tspan>&lt;0.001</text>
<line x1="646.70" y1="543.00" x2="671.60" y2="543.00" stroke="#777" stroke-width="1.0"/>
<text x="1.20" y="691.40" font-size="17" font-weight="bold" text-anchor="start" fill="#000">g</text>
<rect x="94.90" y="686.10" width="14.00" height="7.60" fill="#000"/>
<text x="113.20" y="694.20" font-size="11.3" font-weight="bold" text-anchor="start" fill="#000">WT</text>
<rect x="152.20" y="686.10" width="14.00" height="7.60" fill="#d0101a"/>
<text x="171.70" y="694.20" font-size="11.3" font-weight="bold" text-anchor="start" fill="#000">EiaKO</text>
<line x1="50.20" y1="712.95" x2="50.20" y2="848.80" stroke="#000" stroke-width="1.7"/>
<line x1="49.40" y1="848.00" x2="252.00" y2="848.00" stroke="#000" stroke-width="1.7"/>
<line x1="44.70" y1="848.00" x2="50.20" y2="848.00" stroke="#000" stroke-width="1.5"/>
<text x="43.00" y="851.80" font-size="10.5" font-weight="bold" text-anchor="end" fill="#000">0</text>
<line x1="44.70" y1="803.25" x2="50.20" y2="803.25" stroke="#000" stroke-width="1.5"/>
<text x="43.00" y="807.05" font-size="10.5" font-weight="bold" text-anchor="end" fill="#000">200</text>
<line x1="44.70" y1="758.50" x2="50.20" y2="758.50" stroke="#000" stroke-width="1.5"/>
<text x="43.00" y="762.30" font-size="10.5" font-weight="bold" text-anchor="end" fill="#000">400</text>
<line x1="44.70" y1="713.75" x2="50.20" y2="713.75" stroke="#000" stroke-width="1.5"/>
<text x="43.00" y="717.55" font-size="10.5" font-weight="bold" text-anchor="end" fill="#000">600</text>
<text x="18.80" y="780.20" font-size="11.0" font-weight="bold" text-anchor="middle" fill="#000" transform="rotate(-90 18.8 780.2)">Luminescence (RLU)</text>
<rect x="56.70" y="745.52" width="13.20" height="102.48" fill="#000"/>
<line x1="63.30" y1="745.52" x2="63.30" y2="740.70" stroke="#000" stroke-width="1.4"/>
<line x1="60.30" y1="740.70" x2="66.30" y2="740.70" stroke="#000" stroke-width="1.4"/>
<rect x="76.00" y="786.47" width="13.10" height="61.53" fill="#d0101a"/>
<line x1="82.55" y1="786.47" x2="82.55" y2="783.00" stroke="#000" stroke-width="1.4"/>
<line x1="79.55" y1="783.00" x2="85.55" y2="783.00" stroke="#000" stroke-width="1.4"/>
<rect x="108.10" y="806.61" width="13.10" height="41.39" fill="#000"/>
<line x1="114.65" y1="806.61" x2="114.65" y2="800.50" stroke="#000" stroke-width="1.4"/>
<line x1="111.65" y1="800.50" x2="117.65" y2="800.50" stroke="#000" stroke-width="1.4"/>
<rect x="127.70" y="796.09" width="13.50" height="51.91" fill="#d0101a"/>
<line x1="134.45" y1="796.09" x2="134.45" y2="793.50" stroke="#000" stroke-width="1.4"/>
<line x1="131.45" y1="793.50" x2="137.45" y2="793.50" stroke="#000" stroke-width="1.4"/>
<rect x="160.40" y="790.50" width="12.90" height="57.50" fill="#000"/>
<line x1="166.85" y1="790.50" x2="166.85" y2="785.50" stroke="#000" stroke-width="1.4"/>
<line x1="163.85" y1="785.50" x2="169.85" y2="785.50" stroke="#000" stroke-width="1.4"/>
<rect x="179.70" y="827.86" width="12.80" height="20.14" fill="#d0101a"/>
<line x1="186.10" y1="827.86" x2="186.10" y2="824.50" stroke="#000" stroke-width="1.4"/>
<line x1="183.10" y1="824.50" x2="189.10" y2="824.50" stroke="#000" stroke-width="1.4"/>
<rect x="211.80" y="843.52" width="12.80" height="4.47" fill="#000"/>
<line x1="218.20" y1="843.52" x2="218.20" y2="843.00" stroke="#000" stroke-width="1.4"/>
<line x1="215.20" y1="843.00" x2="221.20" y2="843.00" stroke="#000" stroke-width="1.4"/>
<rect x="231.70" y="844.20" width="12.90" height="3.80" fill="#d0101a"/>
<line x1="238.15" y1="844.20" x2="238.15" y2="843.50" stroke="#000" stroke-width="1.4"/>
<line x1="235.15" y1="843.50" x2="241.15" y2="843.50" stroke="#000" stroke-width="1.4"/>
<circle cx="63.2" cy="732" r="1.9" fill="#000"/>
<circle cx="58.5" cy="737.1" r="1.9" fill="#000"/>
<circle cx="67.7" cy="739" r="1.9" fill="#000"/>
<circle cx="63.2" cy="745.5" r="1.9" fill="#000" stroke="#fff" stroke-width="0.7"/>
<circle cx="58.5" cy="761.1" r="1.9" fill="none" stroke="#fff" stroke-width="0.9"/>
<circle cx="67.6" cy="759.4" r="1.9" fill="none" stroke="#fff" stroke-width="0.9"/>
<circle cx="78" cy="778.7" r="1.9" fill="#d0101a"/>
<circle cx="82.5" cy="780.4" r="1.9" fill="#d0101a"/>
<circle cx="87.2" cy="780.4" r="1.9" fill="#d0101a"/>
<circle cx="82.5" cy="786" r="1.9" fill="#d0101a" stroke="#fff" stroke-width="0.7"/>
<circle cx="82.5" cy="793" r="1.9" fill="none" stroke="#fff" stroke-width="0.9"/>
<circle cx="82.5" cy="798" r="1.9" fill="none" stroke="#fff" stroke-width="0.9"/>
<circle cx="114.8" cy="793.8" r="1.9" fill="#000"/>
<circle cx="110.6" cy="806.7" r="1.9" fill="#000" stroke="#fff" stroke-width="0.7"/>
<circle cx="115.5" cy="804.5" r="1.9" fill="#000" stroke="#fff" stroke-width="0.7"/>
<circle cx="119.6" cy="809.9" r="1.9" fill="none" stroke="#fff" stroke-width="0.9"/>
<circle cx="113.2" cy="812.4" r="1.9" fill="none" stroke="#fff" stroke-width="0.9"/>
<circle cx="109" cy="809.9" r="1.9" fill="none" stroke="#fff" stroke-width="0.9"/>
<circle cx="134.1" cy="784.2" r="1.9" fill="#d0101a"/>
<circle cx="129.9" cy="798.6" r="1.9" fill="none" stroke="#fff" stroke-width="0.9"/>
<circle cx="134.7" cy="796.4" r="1.9" fill="#d0101a" stroke="#fff" stroke-width="0.7"/>
<circle cx="138.5" cy="799.6" r="1.9" fill="none" stroke="#fff" stroke-width="0.9"/>
<circle cx="131" cy="794.5" r="1.9" fill="#d0101a" stroke="#fff" stroke-width="0.7"/>
<circle cx="162" cy="783.5" r="1.9" fill="#000"/>
<circle cx="171" cy="779.4" r="1.9" fill="#000"/>
<circle cx="166.8" cy="798.6" r="1.9" fill="none" stroke="#fff" stroke-width="0.9"/>
<circle cx="162" cy="793.8" r="1.9" fill="none" stroke="#fff" stroke-width="0.9"/>
<circle cx="168.3" cy="794.5" r="1.9" fill="none" stroke="#fff" stroke-width="0.9"/>
<circle cx="163.6" cy="789.5" r="1.9" fill="#000" stroke="#fff" stroke-width="0.7"/>
<circle cx="186.1" cy="819.5" r="1.9" fill="#d0101a"/>
<circle cx="182.9" cy="829.1" r="1.9" fill="none" stroke="#fff" stroke-width="0.9"/>
<circle cx="187.7" cy="831.7" r="1.9" fill="none" stroke="#fff" stroke-width="0.9"/>
<circle cx="191" cy="828.5" r="1.9" fill="none" stroke="#fff" stroke-width="0.9"/>
<circle cx="185" cy="826.5" r="1.9" fill="#d0101a" stroke="#fff" stroke-width="0.7"/>
<circle cx="214.5" cy="844" r="1.9" fill="#000"/>
<circle cx="218" cy="843.3" r="1.9" fill="#000"/>
<circle cx="221.5" cy="844" r="1.9" fill="#000"/>
<circle cx="216" cy="845.5" r="1.9" fill="#000"/>
<circle cx="220" cy="845.5" r="1.9" fill="#000"/>
<circle cx="234.5" cy="844.5" r="1.9" fill="none" stroke="#fff" stroke-width="0.9"/>
<circle cx="238" cy="844.5" r="1.9" fill="none" stroke="#fff" stroke-width="0.9"/>
<circle cx="241.5" cy="844.5" r="1.9" fill="none" stroke="#fff" stroke-width="0.9"/>
<line x1="72.80" y1="848.00" x2="72.80" y2="853.00" stroke="#000" stroke-width="1.5"/>
<line x1="125.10" y1="848.00" x2="125.10" y2="853.00" stroke="#000" stroke-width="1.5"/>
<line x1="176.50" y1="848.00" x2="176.50" y2="853.00" stroke="#000" stroke-width="1.5"/>
<line x1="228.80" y1="848.00" x2="228.80" y2="853.00" stroke="#000" stroke-width="1.5"/>
<text x="30.90" y="864.00" font-size="10.5" font-weight="bold" text-anchor="start" fill="#000">Oligo</text>
<text x="30.60" y="882.00" font-size="10.5" font-weight="bold" text-anchor="start" fill="#000">2-DG</text>
<text x="72.80" y="864.50" font-size="10.5" font-weight="bold" text-anchor="middle" fill="#000">-</text>
<text x="72.80" y="881.50" font-size="10.5" font-weight="bold" text-anchor="middle" fill="#000">-</text>
<text x="125.10" y="864.50" font-size="10.5" font-weight="bold" text-anchor="middle" fill="#000">+</text>
<text x="125.10" y="881.50" font-size="10.5" font-weight="bold" text-anchor="middle" fill="#000">-</text>
<text x="176.50" y="864.50" font-size="10.5" font-weight="bold" text-anchor="middle" fill="#000">-</text>
<text x="176.50" y="881.50" font-size="10.5" font-weight="bold" text-anchor="middle" fill="#000">+</text>
<text x="228.80" y="864.50" font-size="10.5" font-weight="bold" text-anchor="middle" fill="#000">+</text>
<text x="228.80" y="881.50" font-size="10.5" font-weight="bold" text-anchor="middle" fill="#000">+</text>
<text x="71.50" y="715.30" font-size="6.9" font-weight="normal" text-anchor="middle" fill="#333"><tspan font-style="italic">p</tspan>&lt;0.001</text>
<line x1="62.00" y1="718.90" x2="81.30" y2="718.90" stroke="#999" stroke-width="1.1"/>
<text x="124.50" y="770.10" font-size="7.3" font-weight="normal" text-anchor="middle" fill="#333">ns</text>
<line x1="114.80" y1="773.40" x2="133.90" y2="773.40" stroke="#444" stroke-width="1.1"/>
<text x="177.10" y="770.10" font-size="6.9" font-weight="normal" text-anchor="middle" fill="#333"><tspan font-style="italic">p</tspan>&lt;0.001</text>
<line x1="166.80" y1="773.40" x2="186.80" y2="773.40" stroke="#444" stroke-width="1.1"/>
<text x="229.70" y="770.10" font-size="7.3" font-weight="normal" text-anchor="middle" fill="#333">ns</text>
<line x1="220.50" y1="773.40" x2="239.70" y2="773.40" stroke="#444" stroke-width="1.1"/>
<text x="267.30" y="692.00" font-size="17" font-weight="bold" text-anchor="start" fill="#000">h</text>
<rect x="316.10" y="673.80" width="14.00" height="4.90" fill="#000"/>
<text x="338.00" y="679.60" font-size="9.2" font-weight="bold" text-anchor="start" fill="#000">WT</text>
<rect x="316.10" y="687.30" width="14.00" height="3.40" fill="#000"/>
<text x="338.00" y="693.10" font-size="9.2" font-weight="bold" text-anchor="start" fill="#000">WT - CQ</text>
<rect x="382.20" y="673.80" width="14.30" height="4.90" fill="#d0101a"/>
<text x="404.40" y="679.60" font-size="9.2" font-weight="bold" text-anchor="start" fill="#000">EiaKO</text>
<rect x="382.20" y="687.30" width="14.30" height="3.40" fill="#d0101a"/>
<text x="404.40" y="693.10" font-size="9.2" font-weight="bold" text-anchor="start" fill="#000">EiaKO - CQ</text>
<line x1="331.20" y1="712.70" x2="331.20" y2="849.10" stroke="#000" stroke-width="1.7"/>
<line x1="330.40" y1="848.30" x2="417.20" y2="848.30" stroke="#000" stroke-width="1.7"/>
<line x1="326.00" y1="848.30" x2="331.20" y2="848.30" stroke="#000" stroke-width="1.5"/>
<text x="324.40" y="851.90" font-size="9.9" font-weight="bold" text-anchor="end" fill="#000">0</text>
<line x1="326.00" y1="821.34" x2="331.20" y2="821.34" stroke="#000" stroke-width="1.5"/>
<text x="324.40" y="824.94" font-size="9.9" font-weight="bold" text-anchor="end" fill="#000">200</text>
<line x1="326.00" y1="794.38" x2="331.20" y2="794.38" stroke="#000" stroke-width="1.5"/>
<text x="324.40" y="797.98" font-size="9.9" font-weight="bold" text-anchor="end" fill="#000">400</text>
<line x1="326.00" y1="767.42" x2="331.20" y2="767.42" stroke="#000" stroke-width="1.5"/>
<text x="324.40" y="771.02" font-size="9.9" font-weight="bold" text-anchor="end" fill="#000">600</text>
<line x1="326.00" y1="740.46" x2="331.20" y2="740.46" stroke="#000" stroke-width="1.5"/>
<text x="324.40" y="744.06" font-size="9.9" font-weight="bold" text-anchor="end" fill="#000">800</text>
<line x1="326.00" y1="713.50" x2="331.20" y2="713.50" stroke="#000" stroke-width="1.5"/>
<text x="324.40" y="717.10" font-size="9.9" font-weight="bold" text-anchor="end" fill="#000">1000</text>
<text x="296.20" y="780.20" font-size="10.7" font-weight="bold" text-anchor="middle" fill="#000" transform="rotate(-90 296.2 780.2)">Luminescence (RLU)</text>
<line x1="344.15" y1="750.57" x2="344.15" y2="745.18" stroke="#000" stroke-width="1.3"/>
<line x1="341.65" y1="745.18" x2="346.65" y2="745.18" stroke="#000" stroke-width="1.3"/>
<rect x="337.70" y="750.57" width="12.90" height="97.73" fill="#000"/>
<line x1="364.00" y1="752.59" x2="364.00" y2="747.87" stroke="#000" stroke-width="1.3"/>
<line x1="361.50" y1="747.87" x2="366.50" y2="747.87" stroke="#000" stroke-width="1.3"/>
<rect x="357.40" y="753.30" width="13.20" height="2.75" fill="#000"/>
<rect x="357.40" y="758.52" width="13.20" height="2.75" fill="#000"/>
<rect x="357.40" y="763.74" width="13.20" height="2.75" fill="#000"/>
<rect x="357.40" y="768.96" width="13.20" height="2.75" fill="#000"/>
<rect x="357.40" y="774.18" width="13.20" height="2.75" fill="#000"/>
<rect x="357.40" y="779.40" width="13.20" height="2.75" fill="#000"/>
<rect x="357.40" y="784.62" width="13.20" height="2.75" fill="#000"/>
<rect x="357.40" y="789.84" width="13.20" height="2.75" fill="#000"/>
<rect x="357.40" y="795.06" width="13.20" height="2.75" fill="#000"/>
<rect x="357.40" y="800.28" width="13.20" height="2.75" fill="#000"/>
<rect x="357.40" y="805.50" width="13.20" height="2.75" fill="#000"/>
<rect x="357.40" y="810.72" width="13.20" height="2.75" fill="#000"/>
<rect x="357.40" y="815.94" width="13.20" height="2.75" fill="#000"/>
<rect x="357.40" y="821.16" width="13.20" height="2.75" fill="#000"/>
<rect x="357.40" y="826.38" width="13.20" height="2.75" fill="#000"/>
<rect x="357.40" y="831.60" width="13.20" height="2.75" fill="#000"/>
<rect x="357.40" y="836.82" width="13.20" height="2.75" fill="#000"/>
<rect x="357.40" y="842.04" width="13.20" height="2.75" fill="#000"/>
<line x1="383.40" y1="797.08" x2="383.40" y2="791.68" stroke="#000" stroke-width="1.3"/>
<line x1="380.90" y1="791.68" x2="385.90" y2="791.68" stroke="#000" stroke-width="1.3"/>
<rect x="377.00" y="797.08" width="13.00" height="51.22" fill="#d0101a"/>
<rect x="396.90" y="789.60" width="13.20" height="2.75" fill="#d0101a"/>
<rect x="396.90" y="794.82" width="13.20" height="2.75" fill="#d0101a"/>
<rect x="396.90" y="800.04" width="13.20" height="2.75" fill="#d0101a"/>
<rect x="396.90" y="805.26" width="13.20" height="2.75" fill="#d0101a"/>
<rect x="396.90" y="810.48" width="13.20" height="2.75" fill="#d0101a"/>
<rect x="396.90" y="815.70" width="13.20" height="2.75" fill="#d0101a"/>
<rect x="396.90" y="820.92" width="13.20" height="2.75" fill="#d0101a"/>
<rect x="396.90" y="826.14" width="13.20" height="2.75" fill="#d0101a"/>
<rect x="396.90" y="831.36" width="13.20" height="2.75" fill="#d0101a"/>
<rect x="396.90" y="836.58" width="13.20" height="2.75" fill="#d0101a"/>
<rect x="396.90" y="841.80" width="13.20" height="2.75" fill="#d0101a"/>
<line x1="403.30" y1="788.99" x2="403.30" y2="788.31" stroke="#000" stroke-width="1.3"/>
<line x1="400.80" y1="788.31" x2="405.80" y2="788.31" stroke="#000" stroke-width="1.3"/>
<circle cx="342.5" cy="741.81" r="1.7" fill="#000"/>
<circle cx="344" cy="752.59" r="1.8" fill="none" stroke="#fff" stroke-width="0.8"/>
<circle cx="342" cy="762.03" r="1.8" fill="none" stroke="#fff" stroke-width="0.8"/>
<circle cx="360.8" cy="745.18" r="1.7" fill="#000"/>
<circle cx="367.5" cy="748.55" r="1.7" fill="#000"/>
<circle cx="363.8" cy="763.38" r="1.8" fill="#000" stroke="#fff" stroke-width="0.8"/>
<circle cx="383.3" cy="787.1" r="1.7" fill="#d0101a"/>
<circle cx="379.8" cy="800.4" r="1.9" fill="none" stroke="#fff" stroke-width="0.8"/>
<circle cx="386.8" cy="803.5" r="1.9" fill="none" stroke="#fff" stroke-width="0.8"/>
<circle cx="399.5" cy="787.37" r="1.6" fill="#d0101a"/>
<circle cx="407.5" cy="791.01" r="1.8" fill="#d0101a" stroke="#fff" stroke-width="0.8"/>
<circle cx="404" cy="788.99" r="1.6" fill="#000"/>
<text x="364.80" y="713.90" font-size="6.9" font-weight="normal" text-anchor="middle" fill="#333"><tspan font-style="italic">p</tspan>&lt;0.001</text>
<line x1="346.10" y1="716.70" x2="385.00" y2="716.70" stroke="#999" stroke-width="1.1"/>
<text x="356.60" y="731.70" font-size="7.3" font-weight="normal" text-anchor="middle" fill="#333">ns</text>
<line x1="346.10" y1="733.70" x2="365.00" y2="733.70" stroke="#999" stroke-width="1.1"/>
<text x="394.70" y="776.00" font-size="7.3" font-weight="normal" text-anchor="middle" fill="#333">ns</text>
<line x1="385.00" y1="778.50" x2="401.80" y2="778.50" stroke="#333" stroke-width="1.1"/>
</svg>
</body></html>
